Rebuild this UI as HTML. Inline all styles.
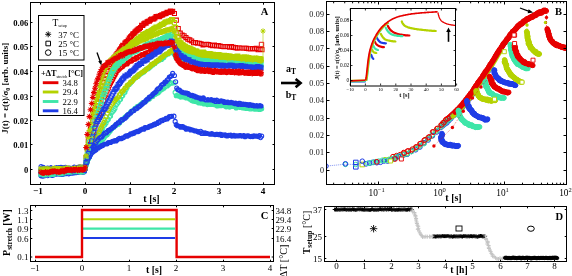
<!DOCTYPE html><html><head><meta charset="utf-8"><style>html,body{margin:0;padding:0;background:#fff;width:572px;height:276px;overflow:hidden}svg{display:block;filter:blur(0.3px)}text{font-family:"Liberation Serif",serif;filter:grayscale(1)}</style></head><body>
<svg width="572" height="276" viewBox="0 0 572 276">
<defs><clipPath id="clipA"><rect x="31" y="3" width="243" height="181"/></clipPath><clipPath id="clipB"><rect x="327" y="2" width="239" height="182"/></clipPath><clipPath id="clipI"><rect x="351" y="9" width="104" height="76"/></clipPath></defs>
<rect width="572" height="276" fill="#fff"/>
<g clip-path="url(#clipA)">
<path d="M39.0 175.2a2.05 2.05 0 1 0 4.1 0a2.05 2.05 0 1 0 -4.1 0M40.1 172.4a2.05 2.05 0 1 0 4.1 0a2.05 2.05 0 1 0 -4.1 0M41.2 174.1a2.05 2.05 0 1 0 4.1 0a2.05 2.05 0 1 0 -4.1 0M42.3 173.4a2.05 2.05 0 1 0 4.1 0a2.05 2.05 0 1 0 -4.1 0M43.4 173.4a2.05 2.05 0 1 0 4.1 0a2.05 2.05 0 1 0 -4.1 0M44.5 173.4a2.05 2.05 0 1 0 4.1 0a2.05 2.05 0 1 0 -4.1 0M45.6 172.3a2.05 2.05 0 1 0 4.1 0a2.05 2.05 0 1 0 -4.1 0M46.7 173.2a2.05 2.05 0 1 0 4.1 0a2.05 2.05 0 1 0 -4.1 0M47.8 172.8a2.05 2.05 0 1 0 4.1 0a2.05 2.05 0 1 0 -4.1 0M48.9 175.2a2.05 2.05 0 1 0 4.1 0a2.05 2.05 0 1 0 -4.1 0M50.0 173.3a2.05 2.05 0 1 0 4.1 0a2.05 2.05 0 1 0 -4.1 0M51.2 172.8a2.05 2.05 0 1 0 4.1 0a2.05 2.05 0 1 0 -4.1 0M52.3 172.8a2.05 2.05 0 1 0 4.1 0a2.05 2.05 0 1 0 -4.1 0M53.4 172.5a2.05 2.05 0 1 0 4.1 0a2.05 2.05 0 1 0 -4.1 0M54.5 172.1a2.05 2.05 0 1 0 4.1 0a2.05 2.05 0 1 0 -4.1 0M55.6 172.4a2.05 2.05 0 1 0 4.1 0a2.05 2.05 0 1 0 -4.1 0M56.7 172.9a2.05 2.05 0 1 0 4.1 0a2.05 2.05 0 1 0 -4.1 0M57.8 172.4a2.05 2.05 0 1 0 4.1 0a2.05 2.05 0 1 0 -4.1 0M58.9 173.0a2.05 2.05 0 1 0 4.1 0a2.05 2.05 0 1 0 -4.1 0M60.0 172.2a2.05 2.05 0 1 0 4.1 0a2.05 2.05 0 1 0 -4.1 0M61.1 172.2a2.05 2.05 0 1 0 4.1 0a2.05 2.05 0 1 0 -4.1 0M62.3 173.1a2.05 2.05 0 1 0 4.1 0a2.05 2.05 0 1 0 -4.1 0M63.4 172.4a2.05 2.05 0 1 0 4.1 0a2.05 2.05 0 1 0 -4.1 0M64.5 171.7a2.05 2.05 0 1 0 4.1 0a2.05 2.05 0 1 0 -4.1 0M65.6 171.8a2.05 2.05 0 1 0 4.1 0a2.05 2.05 0 1 0 -4.1 0M66.7 172.1a2.05 2.05 0 1 0 4.1 0a2.05 2.05 0 1 0 -4.1 0M67.8 172.9a2.05 2.05 0 1 0 4.1 0a2.05 2.05 0 1 0 -4.1 0M68.9 171.5a2.05 2.05 0 1 0 4.1 0a2.05 2.05 0 1 0 -4.1 0M70.0 171.4a2.05 2.05 0 1 0 4.1 0a2.05 2.05 0 1 0 -4.1 0M71.1 172.0a2.05 2.05 0 1 0 4.1 0a2.05 2.05 0 1 0 -4.1 0M72.2 170.8a2.05 2.05 0 1 0 4.1 0a2.05 2.05 0 1 0 -4.1 0M73.4 171.1a2.05 2.05 0 1 0 4.1 0a2.05 2.05 0 1 0 -4.1 0M74.5 171.7a2.05 2.05 0 1 0 4.1 0a2.05 2.05 0 1 0 -4.1 0M75.6 171.4a2.05 2.05 0 1 0 4.1 0a2.05 2.05 0 1 0 -4.1 0M76.7 171.1a2.05 2.05 0 1 0 4.1 0a2.05 2.05 0 1 0 -4.1 0M77.8 171.3a2.05 2.05 0 1 0 4.1 0a2.05 2.05 0 1 0 -4.1 0M78.9 169.1a2.05 2.05 0 1 0 4.1 0a2.05 2.05 0 1 0 -4.1 0M80.0 171.3a2.05 2.05 0 1 0 4.1 0a2.05 2.05 0 1 0 -4.1 0M81.1 170.1a2.05 2.05 0 1 0 4.1 0a2.05 2.05 0 1 0 -4.1 0M82.2 169.6a2.05 2.05 0 1 0 4.1 0a2.05 2.05 0 1 0 -4.1 0M83.0 168.1a2.05 2.05 0 1 0 4.1 0a2.05 2.05 0 1 0 -4.1 0M84.1 165.3a2.05 2.05 0 1 0 4.1 0a2.05 2.05 0 1 0 -4.1 0M85.2 162.0a2.05 2.05 0 1 0 4.1 0a2.05 2.05 0 1 0 -4.1 0M86.3 158.8a2.05 2.05 0 1 0 4.1 0a2.05 2.05 0 1 0 -4.1 0M87.4 156.4a2.05 2.05 0 1 0 4.1 0a2.05 2.05 0 1 0 -4.1 0M88.5 153.6a2.05 2.05 0 1 0 4.1 0a2.05 2.05 0 1 0 -4.1 0M89.6 151.3a2.05 2.05 0 1 0 4.1 0a2.05 2.05 0 1 0 -4.1 0M90.7 148.2a2.05 2.05 0 1 0 4.1 0a2.05 2.05 0 1 0 -4.1 0M91.8 145.2a2.05 2.05 0 1 0 4.1 0a2.05 2.05 0 1 0 -4.1 0M92.9 142.8a2.05 2.05 0 1 0 4.1 0a2.05 2.05 0 1 0 -4.1 0M94.0 139.8a2.05 2.05 0 1 0 4.1 0a2.05 2.05 0 1 0 -4.1 0M95.2 137.2a2.05 2.05 0 1 0 4.1 0a2.05 2.05 0 1 0 -4.1 0M96.3 135.7a2.05 2.05 0 1 0 4.1 0a2.05 2.05 0 1 0 -4.1 0M97.4 133.8a2.05 2.05 0 1 0 4.1 0a2.05 2.05 0 1 0 -4.1 0M98.5 131.6a2.05 2.05 0 1 0 4.1 0a2.05 2.05 0 1 0 -4.1 0M99.6 129.6a2.05 2.05 0 1 0 4.1 0a2.05 2.05 0 1 0 -4.1 0M100.7 128.2a2.05 2.05 0 1 0 4.1 0a2.05 2.05 0 1 0 -4.1 0M101.8 125.4a2.05 2.05 0 1 0 4.1 0a2.05 2.05 0 1 0 -4.1 0M102.9 124.9a2.05 2.05 0 1 0 4.1 0a2.05 2.05 0 1 0 -4.1 0M104.0 123.0a2.05 2.05 0 1 0 4.1 0a2.05 2.05 0 1 0 -4.1 0M105.1 120.4a2.05 2.05 0 1 0 4.1 0a2.05 2.05 0 1 0 -4.1 0M106.3 119.2a2.05 2.05 0 1 0 4.1 0a2.05 2.05 0 1 0 -4.1 0M107.4 117.0a2.05 2.05 0 1 0 4.1 0a2.05 2.05 0 1 0 -4.1 0M108.5 115.9a2.05 2.05 0 1 0 4.1 0a2.05 2.05 0 1 0 -4.1 0M109.6 113.0a2.05 2.05 0 1 0 4.1 0a2.05 2.05 0 1 0 -4.1 0M110.7 111.6a2.05 2.05 0 1 0 4.1 0a2.05 2.05 0 1 0 -4.1 0M111.8 110.3a2.05 2.05 0 1 0 4.1 0a2.05 2.05 0 1 0 -4.1 0M112.9 108.5a2.05 2.05 0 1 0 4.1 0a2.05 2.05 0 1 0 -4.1 0M114.0 105.2a2.05 2.05 0 1 0 4.1 0a2.05 2.05 0 1 0 -4.1 0M115.1 103.9a2.05 2.05 0 1 0 4.1 0a2.05 2.05 0 1 0 -4.1 0M116.2 102.3a2.05 2.05 0 1 0 4.1 0a2.05 2.05 0 1 0 -4.1 0M117.4 100.1a2.05 2.05 0 1 0 4.1 0a2.05 2.05 0 1 0 -4.1 0M118.5 99.2a2.05 2.05 0 1 0 4.1 0a2.05 2.05 0 1 0 -4.1 0M119.6 96.5a2.05 2.05 0 1 0 4.1 0a2.05 2.05 0 1 0 -4.1 0M120.7 95.4a2.05 2.05 0 1 0 4.1 0a2.05 2.05 0 1 0 -4.1 0M121.8 93.1a2.05 2.05 0 1 0 4.1 0a2.05 2.05 0 1 0 -4.1 0M122.9 92.3a2.05 2.05 0 1 0 4.1 0a2.05 2.05 0 1 0 -4.1 0M124.0 89.6a2.05 2.05 0 1 0 4.1 0a2.05 2.05 0 1 0 -4.1 0M125.1 87.4a2.05 2.05 0 1 0 4.1 0a2.05 2.05 0 1 0 -4.1 0M126.2 84.9a2.05 2.05 0 1 0 4.1 0a2.05 2.05 0 1 0 -4.1 0M127.3 84.6a2.05 2.05 0 1 0 4.1 0a2.05 2.05 0 1 0 -4.1 0M128.5 82.9a2.05 2.05 0 1 0 4.1 0a2.05 2.05 0 1 0 -4.1 0M129.6 81.6a2.05 2.05 0 1 0 4.1 0a2.05 2.05 0 1 0 -4.1 0M130.7 80.6a2.05 2.05 0 1 0 4.1 0a2.05 2.05 0 1 0 -4.1 0M131.8 79.3a2.05 2.05 0 1 0 4.1 0a2.05 2.05 0 1 0 -4.1 0M132.9 77.9a2.05 2.05 0 1 0 4.1 0a2.05 2.05 0 1 0 -4.1 0M134.0 77.0a2.05 2.05 0 1 0 4.1 0a2.05 2.05 0 1 0 -4.1 0M135.1 76.2a2.05 2.05 0 1 0 4.1 0a2.05 2.05 0 1 0 -4.1 0M136.2 76.3a2.05 2.05 0 1 0 4.1 0a2.05 2.05 0 1 0 -4.1 0M137.3 74.4a2.05 2.05 0 1 0 4.1 0a2.05 2.05 0 1 0 -4.1 0M138.4 73.9a2.05 2.05 0 1 0 4.1 0a2.05 2.05 0 1 0 -4.1 0M139.6 73.2a2.05 2.05 0 1 0 4.1 0a2.05 2.05 0 1 0 -4.1 0M140.7 72.5a2.05 2.05 0 1 0 4.1 0a2.05 2.05 0 1 0 -4.1 0M141.8 71.9a2.05 2.05 0 1 0 4.1 0a2.05 2.05 0 1 0 -4.1 0M142.9 70.3a2.05 2.05 0 1 0 4.1 0a2.05 2.05 0 1 0 -4.1 0M144.0 69.3a2.05 2.05 0 1 0 4.1 0a2.05 2.05 0 1 0 -4.1 0M145.1 69.1a2.05 2.05 0 1 0 4.1 0a2.05 2.05 0 1 0 -4.1 0M146.2 68.8a2.05 2.05 0 1 0 4.1 0a2.05 2.05 0 1 0 -4.1 0M147.3 67.8a2.05 2.05 0 1 0 4.1 0a2.05 2.05 0 1 0 -4.1 0M148.4 66.7a2.05 2.05 0 1 0 4.1 0a2.05 2.05 0 1 0 -4.1 0M149.5 65.7a2.05 2.05 0 1 0 4.1 0a2.05 2.05 0 1 0 -4.1 0M150.7 65.1a2.05 2.05 0 1 0 4.1 0a2.05 2.05 0 1 0 -4.1 0M151.8 64.0a2.05 2.05 0 1 0 4.1 0a2.05 2.05 0 1 0 -4.1 0M152.9 63.6a2.05 2.05 0 1 0 4.1 0a2.05 2.05 0 1 0 -4.1 0M154.0 62.1a2.05 2.05 0 1 0 4.1 0a2.05 2.05 0 1 0 -4.1 0M155.1 61.6a2.05 2.05 0 1 0 4.1 0a2.05 2.05 0 1 0 -4.1 0M156.2 60.7a2.05 2.05 0 1 0 4.1 0a2.05 2.05 0 1 0 -4.1 0M157.3 60.2a2.05 2.05 0 1 0 4.1 0a2.05 2.05 0 1 0 -4.1 0M158.4 59.2a2.05 2.05 0 1 0 4.1 0a2.05 2.05 0 1 0 -4.1 0M159.5 59.4a2.05 2.05 0 1 0 4.1 0a2.05 2.05 0 1 0 -4.1 0M160.6 58.2a2.05 2.05 0 1 0 4.1 0a2.05 2.05 0 1 0 -4.1 0M161.8 57.4a2.05 2.05 0 1 0 4.1 0a2.05 2.05 0 1 0 -4.1 0M162.9 55.2a2.05 2.05 0 1 0 4.1 0a2.05 2.05 0 1 0 -4.1 0M164.0 55.1a2.05 2.05 0 1 0 4.1 0a2.05 2.05 0 1 0 -4.1 0M165.1 54.2a2.05 2.05 0 1 0 4.1 0a2.05 2.05 0 1 0 -4.1 0M166.2 53.9a2.05 2.05 0 1 0 4.1 0a2.05 2.05 0 1 0 -4.1 0M167.3 52.0a2.05 2.05 0 1 0 4.1 0a2.05 2.05 0 1 0 -4.1 0M168.4 52.7a2.05 2.05 0 1 0 4.1 0a2.05 2.05 0 1 0 -4.1 0M169.5 51.9a2.05 2.05 0 1 0 4.1 0a2.05 2.05 0 1 0 -4.1 0M170.6 50.2a2.05 2.05 0 1 0 4.1 0a2.05 2.05 0 1 0 -4.1 0M172.4 54.6a2.05 2.05 0 1 0 4.1 0a2.05 2.05 0 1 0 -4.1 0M173.6 57.3a2.05 2.05 0 1 0 4.1 0a2.05 2.05 0 1 0 -4.1 0M174.7 58.2a2.05 2.05 0 1 0 4.1 0a2.05 2.05 0 1 0 -4.1 0M175.8 58.6a2.05 2.05 0 1 0 4.1 0a2.05 2.05 0 1 0 -4.1 0M176.9 59.2a2.05 2.05 0 1 0 4.1 0a2.05 2.05 0 1 0 -4.1 0M178.0 58.4a2.05 2.05 0 1 0 4.1 0a2.05 2.05 0 1 0 -4.1 0M179.1 59.0a2.05 2.05 0 1 0 4.1 0a2.05 2.05 0 1 0 -4.1 0M180.2 58.9a2.05 2.05 0 1 0 4.1 0a2.05 2.05 0 1 0 -4.1 0M181.3 59.7a2.05 2.05 0 1 0 4.1 0a2.05 2.05 0 1 0 -4.1 0M182.4 59.5a2.05 2.05 0 1 0 4.1 0a2.05 2.05 0 1 0 -4.1 0M183.6 59.9a2.05 2.05 0 1 0 4.1 0a2.05 2.05 0 1 0 -4.1 0M184.7 59.1a2.05 2.05 0 1 0 4.1 0a2.05 2.05 0 1 0 -4.1 0M185.8 59.6a2.05 2.05 0 1 0 4.1 0a2.05 2.05 0 1 0 -4.1 0M186.9 59.6a2.05 2.05 0 1 0 4.1 0a2.05 2.05 0 1 0 -4.1 0M188.0 60.7a2.05 2.05 0 1 0 4.1 0a2.05 2.05 0 1 0 -4.1 0M189.1 60.5a2.05 2.05 0 1 0 4.1 0a2.05 2.05 0 1 0 -4.1 0M190.2 60.3a2.05 2.05 0 1 0 4.1 0a2.05 2.05 0 1 0 -4.1 0M191.3 60.4a2.05 2.05 0 1 0 4.1 0a2.05 2.05 0 1 0 -4.1 0M192.4 61.0a2.05 2.05 0 1 0 4.1 0a2.05 2.05 0 1 0 -4.1 0M193.5 60.7a2.05 2.05 0 1 0 4.1 0a2.05 2.05 0 1 0 -4.1 0M194.7 60.7a2.05 2.05 0 1 0 4.1 0a2.05 2.05 0 1 0 -4.1 0M195.8 61.4a2.05 2.05 0 1 0 4.1 0a2.05 2.05 0 1 0 -4.1 0M196.9 62.4a2.05 2.05 0 1 0 4.1 0a2.05 2.05 0 1 0 -4.1 0M198.0 61.4a2.05 2.05 0 1 0 4.1 0a2.05 2.05 0 1 0 -4.1 0M199.1 61.4a2.05 2.05 0 1 0 4.1 0a2.05 2.05 0 1 0 -4.1 0M200.2 61.3a2.05 2.05 0 1 0 4.1 0a2.05 2.05 0 1 0 -4.1 0M201.3 61.3a2.05 2.05 0 1 0 4.1 0a2.05 2.05 0 1 0 -4.1 0M202.4 62.2a2.05 2.05 0 1 0 4.1 0a2.05 2.05 0 1 0 -4.1 0M203.5 62.4a2.05 2.05 0 1 0 4.1 0a2.05 2.05 0 1 0 -4.1 0M204.6 62.2a2.05 2.05 0 1 0 4.1 0a2.05 2.05 0 1 0 -4.1 0M205.8 62.4a2.05 2.05 0 1 0 4.1 0a2.05 2.05 0 1 0 -4.1 0M206.9 62.5a2.05 2.05 0 1 0 4.1 0a2.05 2.05 0 1 0 -4.1 0M208.0 62.6a2.05 2.05 0 1 0 4.1 0a2.05 2.05 0 1 0 -4.1 0M209.1 62.0a2.05 2.05 0 1 0 4.1 0a2.05 2.05 0 1 0 -4.1 0M210.2 62.6a2.05 2.05 0 1 0 4.1 0a2.05 2.05 0 1 0 -4.1 0M211.3 62.9a2.05 2.05 0 1 0 4.1 0a2.05 2.05 0 1 0 -4.1 0M212.4 62.7a2.05 2.05 0 1 0 4.1 0a2.05 2.05 0 1 0 -4.1 0M213.5 62.9a2.05 2.05 0 1 0 4.1 0a2.05 2.05 0 1 0 -4.1 0M214.6 62.9a2.05 2.05 0 1 0 4.1 0a2.05 2.05 0 1 0 -4.1 0M215.7 63.2a2.05 2.05 0 1 0 4.1 0a2.05 2.05 0 1 0 -4.1 0M216.9 63.7a2.05 2.05 0 1 0 4.1 0a2.05 2.05 0 1 0 -4.1 0M218.0 63.3a2.05 2.05 0 1 0 4.1 0a2.05 2.05 0 1 0 -4.1 0M219.1 63.5a2.05 2.05 0 1 0 4.1 0a2.05 2.05 0 1 0 -4.1 0M220.2 64.0a2.05 2.05 0 1 0 4.1 0a2.05 2.05 0 1 0 -4.1 0M221.3 64.1a2.05 2.05 0 1 0 4.1 0a2.05 2.05 0 1 0 -4.1 0M222.4 64.6a2.05 2.05 0 1 0 4.1 0a2.05 2.05 0 1 0 -4.1 0M223.5 63.2a2.05 2.05 0 1 0 4.1 0a2.05 2.05 0 1 0 -4.1 0M224.6 64.4a2.05 2.05 0 1 0 4.1 0a2.05 2.05 0 1 0 -4.1 0M225.7 64.0a2.05 2.05 0 1 0 4.1 0a2.05 2.05 0 1 0 -4.1 0M226.8 64.3a2.05 2.05 0 1 0 4.1 0a2.05 2.05 0 1 0 -4.1 0M228.0 64.7a2.05 2.05 0 1 0 4.1 0a2.05 2.05 0 1 0 -4.1 0M229.1 64.9a2.05 2.05 0 1 0 4.1 0a2.05 2.05 0 1 0 -4.1 0M230.2 65.0a2.05 2.05 0 1 0 4.1 0a2.05 2.05 0 1 0 -4.1 0M231.3 64.7a2.05 2.05 0 1 0 4.1 0a2.05 2.05 0 1 0 -4.1 0M232.4 65.4a2.05 2.05 0 1 0 4.1 0a2.05 2.05 0 1 0 -4.1 0M233.5 64.7a2.05 2.05 0 1 0 4.1 0a2.05 2.05 0 1 0 -4.1 0M234.6 64.8a2.05 2.05 0 1 0 4.1 0a2.05 2.05 0 1 0 -4.1 0M235.7 65.3a2.05 2.05 0 1 0 4.1 0a2.05 2.05 0 1 0 -4.1 0M236.8 64.8a2.05 2.05 0 1 0 4.1 0a2.05 2.05 0 1 0 -4.1 0M237.9 66.0a2.05 2.05 0 1 0 4.1 0a2.05 2.05 0 1 0 -4.1 0M239.1 65.6a2.05 2.05 0 1 0 4.1 0a2.05 2.05 0 1 0 -4.1 0M240.2 66.1a2.05 2.05 0 1 0 4.1 0a2.05 2.05 0 1 0 -4.1 0M241.3 65.3a2.05 2.05 0 1 0 4.1 0a2.05 2.05 0 1 0 -4.1 0M242.4 65.2a2.05 2.05 0 1 0 4.1 0a2.05 2.05 0 1 0 -4.1 0M243.5 65.5a2.05 2.05 0 1 0 4.1 0a2.05 2.05 0 1 0 -4.1 0M244.6 65.8a2.05 2.05 0 1 0 4.1 0a2.05 2.05 0 1 0 -4.1 0M245.7 65.3a2.05 2.05 0 1 0 4.1 0a2.05 2.05 0 1 0 -4.1 0M246.8 65.7a2.05 2.05 0 1 0 4.1 0a2.05 2.05 0 1 0 -4.1 0M247.9 65.6a2.05 2.05 0 1 0 4.1 0a2.05 2.05 0 1 0 -4.1 0M249.0 66.3a2.05 2.05 0 1 0 4.1 0a2.05 2.05 0 1 0 -4.1 0M250.2 65.5a2.05 2.05 0 1 0 4.1 0a2.05 2.05 0 1 0 -4.1 0M251.3 66.2a2.05 2.05 0 1 0 4.1 0a2.05 2.05 0 1 0 -4.1 0M252.4 65.6a2.05 2.05 0 1 0 4.1 0a2.05 2.05 0 1 0 -4.1 0M253.5 65.5a2.05 2.05 0 1 0 4.1 0a2.05 2.05 0 1 0 -4.1 0M254.6 65.6a2.05 2.05 0 1 0 4.1 0a2.05 2.05 0 1 0 -4.1 0M255.7 65.4a2.05 2.05 0 1 0 4.1 0a2.05 2.05 0 1 0 -4.1 0M256.8 66.0a2.05 2.05 0 1 0 4.1 0a2.05 2.05 0 1 0 -4.1 0M257.9 66.4a2.05 2.05 0 1 0 4.1 0a2.05 2.05 0 1 0 -4.1 0M259.0 66.1a2.05 2.05 0 1 0 4.1 0a2.05 2.05 0 1 0 -4.1 0" fill="none" stroke="#3ee6a8" stroke-width="1.05"/>
<path d="M39.0 173.4a2.05 2.05 0 1 0 4.1 0a2.05 2.05 0 1 0 -4.1 0M40.1 173.9a2.05 2.05 0 1 0 4.1 0a2.05 2.05 0 1 0 -4.1 0M41.2 173.0a2.05 2.05 0 1 0 4.1 0a2.05 2.05 0 1 0 -4.1 0M42.3 172.9a2.05 2.05 0 1 0 4.1 0a2.05 2.05 0 1 0 -4.1 0M43.4 172.5a2.05 2.05 0 1 0 4.1 0a2.05 2.05 0 1 0 -4.1 0M44.5 171.6a2.05 2.05 0 1 0 4.1 0a2.05 2.05 0 1 0 -4.1 0M45.6 172.9a2.05 2.05 0 1 0 4.1 0a2.05 2.05 0 1 0 -4.1 0M46.7 171.3a2.05 2.05 0 1 0 4.1 0a2.05 2.05 0 1 0 -4.1 0M47.8 172.7a2.05 2.05 0 1 0 4.1 0a2.05 2.05 0 1 0 -4.1 0M48.9 172.2a2.05 2.05 0 1 0 4.1 0a2.05 2.05 0 1 0 -4.1 0M50.0 172.8a2.05 2.05 0 1 0 4.1 0a2.05 2.05 0 1 0 -4.1 0M51.2 172.0a2.05 2.05 0 1 0 4.1 0a2.05 2.05 0 1 0 -4.1 0M52.3 171.4a2.05 2.05 0 1 0 4.1 0a2.05 2.05 0 1 0 -4.1 0M53.4 172.1a2.05 2.05 0 1 0 4.1 0a2.05 2.05 0 1 0 -4.1 0M54.5 171.4a2.05 2.05 0 1 0 4.1 0a2.05 2.05 0 1 0 -4.1 0M55.6 171.6a2.05 2.05 0 1 0 4.1 0a2.05 2.05 0 1 0 -4.1 0M56.7 171.6a2.05 2.05 0 1 0 4.1 0a2.05 2.05 0 1 0 -4.1 0M57.8 171.4a2.05 2.05 0 1 0 4.1 0a2.05 2.05 0 1 0 -4.1 0M58.9 171.3a2.05 2.05 0 1 0 4.1 0a2.05 2.05 0 1 0 -4.1 0M60.0 170.8a2.05 2.05 0 1 0 4.1 0a2.05 2.05 0 1 0 -4.1 0M61.1 171.1a2.05 2.05 0 1 0 4.1 0a2.05 2.05 0 1 0 -4.1 0M62.3 169.9a2.05 2.05 0 1 0 4.1 0a2.05 2.05 0 1 0 -4.1 0M63.4 171.0a2.05 2.05 0 1 0 4.1 0a2.05 2.05 0 1 0 -4.1 0M64.5 170.3a2.05 2.05 0 1 0 4.1 0a2.05 2.05 0 1 0 -4.1 0M65.6 171.6a2.05 2.05 0 1 0 4.1 0a2.05 2.05 0 1 0 -4.1 0M66.7 171.6a2.05 2.05 0 1 0 4.1 0a2.05 2.05 0 1 0 -4.1 0M67.8 169.5a2.05 2.05 0 1 0 4.1 0a2.05 2.05 0 1 0 -4.1 0M68.9 170.7a2.05 2.05 0 1 0 4.1 0a2.05 2.05 0 1 0 -4.1 0M70.0 170.5a2.05 2.05 0 1 0 4.1 0a2.05 2.05 0 1 0 -4.1 0M71.1 169.8a2.05 2.05 0 1 0 4.1 0a2.05 2.05 0 1 0 -4.1 0M72.2 170.7a2.05 2.05 0 1 0 4.1 0a2.05 2.05 0 1 0 -4.1 0M73.4 170.0a2.05 2.05 0 1 0 4.1 0a2.05 2.05 0 1 0 -4.1 0M74.5 169.1a2.05 2.05 0 1 0 4.1 0a2.05 2.05 0 1 0 -4.1 0M75.6 169.9a2.05 2.05 0 1 0 4.1 0a2.05 2.05 0 1 0 -4.1 0M76.7 169.9a2.05 2.05 0 1 0 4.1 0a2.05 2.05 0 1 0 -4.1 0M77.8 170.0a2.05 2.05 0 1 0 4.1 0a2.05 2.05 0 1 0 -4.1 0M78.9 169.1a2.05 2.05 0 1 0 4.1 0a2.05 2.05 0 1 0 -4.1 0M80.0 170.1a2.05 2.05 0 1 0 4.1 0a2.05 2.05 0 1 0 -4.1 0M81.1 170.1a2.05 2.05 0 1 0 4.1 0a2.05 2.05 0 1 0 -4.1 0M82.2 168.9a2.05 2.05 0 1 0 4.1 0a2.05 2.05 0 1 0 -4.1 0M83.0 167.7a2.05 2.05 0 1 0 4.1 0a2.05 2.05 0 1 0 -4.1 0M84.1 162.8a2.05 2.05 0 1 0 4.1 0a2.05 2.05 0 1 0 -4.1 0M85.2 157.5a2.05 2.05 0 1 0 4.1 0a2.05 2.05 0 1 0 -4.1 0M86.3 153.6a2.05 2.05 0 1 0 4.1 0a2.05 2.05 0 1 0 -4.1 0M87.4 148.2a2.05 2.05 0 1 0 4.1 0a2.05 2.05 0 1 0 -4.1 0M88.5 143.0a2.05 2.05 0 1 0 4.1 0a2.05 2.05 0 1 0 -4.1 0M89.6 138.6a2.05 2.05 0 1 0 4.1 0a2.05 2.05 0 1 0 -4.1 0M90.7 134.5a2.05 2.05 0 1 0 4.1 0a2.05 2.05 0 1 0 -4.1 0M91.8 131.3a2.05 2.05 0 1 0 4.1 0a2.05 2.05 0 1 0 -4.1 0M92.9 126.6a2.05 2.05 0 1 0 4.1 0a2.05 2.05 0 1 0 -4.1 0M94.0 123.2a2.05 2.05 0 1 0 4.1 0a2.05 2.05 0 1 0 -4.1 0M95.2 119.9a2.05 2.05 0 1 0 4.1 0a2.05 2.05 0 1 0 -4.1 0M96.3 116.5a2.05 2.05 0 1 0 4.1 0a2.05 2.05 0 1 0 -4.1 0M97.4 114.4a2.05 2.05 0 1 0 4.1 0a2.05 2.05 0 1 0 -4.1 0M98.5 110.5a2.05 2.05 0 1 0 4.1 0a2.05 2.05 0 1 0 -4.1 0M99.6 108.2a2.05 2.05 0 1 0 4.1 0a2.05 2.05 0 1 0 -4.1 0M100.7 104.5a2.05 2.05 0 1 0 4.1 0a2.05 2.05 0 1 0 -4.1 0M101.8 100.7a2.05 2.05 0 1 0 4.1 0a2.05 2.05 0 1 0 -4.1 0M102.9 96.7a2.05 2.05 0 1 0 4.1 0a2.05 2.05 0 1 0 -4.1 0M104.0 94.8a2.05 2.05 0 1 0 4.1 0a2.05 2.05 0 1 0 -4.1 0M105.1 91.3a2.05 2.05 0 1 0 4.1 0a2.05 2.05 0 1 0 -4.1 0M106.3 88.7a2.05 2.05 0 1 0 4.1 0a2.05 2.05 0 1 0 -4.1 0M107.4 85.9a2.05 2.05 0 1 0 4.1 0a2.05 2.05 0 1 0 -4.1 0M108.5 83.6a2.05 2.05 0 1 0 4.1 0a2.05 2.05 0 1 0 -4.1 0M109.6 81.7a2.05 2.05 0 1 0 4.1 0a2.05 2.05 0 1 0 -4.1 0M110.7 79.6a2.05 2.05 0 1 0 4.1 0a2.05 2.05 0 1 0 -4.1 0M111.8 77.2a2.05 2.05 0 1 0 4.1 0a2.05 2.05 0 1 0 -4.1 0M112.9 75.3a2.05 2.05 0 1 0 4.1 0a2.05 2.05 0 1 0 -4.1 0M114.0 73.2a2.05 2.05 0 1 0 4.1 0a2.05 2.05 0 1 0 -4.1 0M115.1 71.3a2.05 2.05 0 1 0 4.1 0a2.05 2.05 0 1 0 -4.1 0M116.2 70.2a2.05 2.05 0 1 0 4.1 0a2.05 2.05 0 1 0 -4.1 0M117.4 69.0a2.05 2.05 0 1 0 4.1 0a2.05 2.05 0 1 0 -4.1 0M118.5 67.7a2.05 2.05 0 1 0 4.1 0a2.05 2.05 0 1 0 -4.1 0M119.6 67.2a2.05 2.05 0 1 0 4.1 0a2.05 2.05 0 1 0 -4.1 0M120.7 66.6a2.05 2.05 0 1 0 4.1 0a2.05 2.05 0 1 0 -4.1 0M121.8 65.4a2.05 2.05 0 1 0 4.1 0a2.05 2.05 0 1 0 -4.1 0M122.9 64.4a2.05 2.05 0 1 0 4.1 0a2.05 2.05 0 1 0 -4.1 0M124.0 64.1a2.05 2.05 0 1 0 4.1 0a2.05 2.05 0 1 0 -4.1 0M125.1 63.9a2.05 2.05 0 1 0 4.1 0a2.05 2.05 0 1 0 -4.1 0M126.2 62.4a2.05 2.05 0 1 0 4.1 0a2.05 2.05 0 1 0 -4.1 0M127.3 61.8a2.05 2.05 0 1 0 4.1 0a2.05 2.05 0 1 0 -4.1 0M128.5 61.2a2.05 2.05 0 1 0 4.1 0a2.05 2.05 0 1 0 -4.1 0M129.6 61.1a2.05 2.05 0 1 0 4.1 0a2.05 2.05 0 1 0 -4.1 0M130.7 59.2a2.05 2.05 0 1 0 4.1 0a2.05 2.05 0 1 0 -4.1 0M131.8 59.4a2.05 2.05 0 1 0 4.1 0a2.05 2.05 0 1 0 -4.1 0M132.9 59.2a2.05 2.05 0 1 0 4.1 0a2.05 2.05 0 1 0 -4.1 0M134.0 57.7a2.05 2.05 0 1 0 4.1 0a2.05 2.05 0 1 0 -4.1 0M135.1 58.1a2.05 2.05 0 1 0 4.1 0a2.05 2.05 0 1 0 -4.1 0M136.2 57.1a2.05 2.05 0 1 0 4.1 0a2.05 2.05 0 1 0 -4.1 0M137.3 56.1a2.05 2.05 0 1 0 4.1 0a2.05 2.05 0 1 0 -4.1 0M138.4 55.8a2.05 2.05 0 1 0 4.1 0a2.05 2.05 0 1 0 -4.1 0M139.6 54.6a2.05 2.05 0 1 0 4.1 0a2.05 2.05 0 1 0 -4.1 0M140.7 54.5a2.05 2.05 0 1 0 4.1 0a2.05 2.05 0 1 0 -4.1 0M141.8 54.9a2.05 2.05 0 1 0 4.1 0a2.05 2.05 0 1 0 -4.1 0M142.9 53.3a2.05 2.05 0 1 0 4.1 0a2.05 2.05 0 1 0 -4.1 0M144.0 53.9a2.05 2.05 0 1 0 4.1 0a2.05 2.05 0 1 0 -4.1 0M145.1 52.7a2.05 2.05 0 1 0 4.1 0a2.05 2.05 0 1 0 -4.1 0M146.2 52.6a2.05 2.05 0 1 0 4.1 0a2.05 2.05 0 1 0 -4.1 0M147.3 51.8a2.05 2.05 0 1 0 4.1 0a2.05 2.05 0 1 0 -4.1 0M148.4 50.4a2.05 2.05 0 1 0 4.1 0a2.05 2.05 0 1 0 -4.1 0M149.5 50.6a2.05 2.05 0 1 0 4.1 0a2.05 2.05 0 1 0 -4.1 0M150.7 50.4a2.05 2.05 0 1 0 4.1 0a2.05 2.05 0 1 0 -4.1 0M151.8 49.4a2.05 2.05 0 1 0 4.1 0a2.05 2.05 0 1 0 -4.1 0M152.9 48.9a2.05 2.05 0 1 0 4.1 0a2.05 2.05 0 1 0 -4.1 0M154.0 49.1a2.05 2.05 0 1 0 4.1 0a2.05 2.05 0 1 0 -4.1 0M155.1 48.3a2.05 2.05 0 1 0 4.1 0a2.05 2.05 0 1 0 -4.1 0M156.2 47.4a2.05 2.05 0 1 0 4.1 0a2.05 2.05 0 1 0 -4.1 0M157.3 47.4a2.05 2.05 0 1 0 4.1 0a2.05 2.05 0 1 0 -4.1 0M158.4 47.7a2.05 2.05 0 1 0 4.1 0a2.05 2.05 0 1 0 -4.1 0M159.5 46.8a2.05 2.05 0 1 0 4.1 0a2.05 2.05 0 1 0 -4.1 0M160.6 47.0a2.05 2.05 0 1 0 4.1 0a2.05 2.05 0 1 0 -4.1 0M161.8 46.9a2.05 2.05 0 1 0 4.1 0a2.05 2.05 0 1 0 -4.1 0M162.9 46.0a2.05 2.05 0 1 0 4.1 0a2.05 2.05 0 1 0 -4.1 0M164.0 45.2a2.05 2.05 0 1 0 4.1 0a2.05 2.05 0 1 0 -4.1 0M165.1 44.8a2.05 2.05 0 1 0 4.1 0a2.05 2.05 0 1 0 -4.1 0M166.2 45.1a2.05 2.05 0 1 0 4.1 0a2.05 2.05 0 1 0 -4.1 0M167.3 45.2a2.05 2.05 0 1 0 4.1 0a2.05 2.05 0 1 0 -4.1 0M168.4 44.6a2.05 2.05 0 1 0 4.1 0a2.05 2.05 0 1 0 -4.1 0M169.5 44.5a2.05 2.05 0 1 0 4.1 0a2.05 2.05 0 1 0 -4.1 0M170.6 43.9a2.05 2.05 0 1 0 4.1 0a2.05 2.05 0 1 0 -4.1 0M172.4 49.1a2.05 2.05 0 1 0 4.1 0a2.05 2.05 0 1 0 -4.1 0M173.6 55.3a2.05 2.05 0 1 0 4.1 0a2.05 2.05 0 1 0 -4.1 0M174.7 58.7a2.05 2.05 0 1 0 4.1 0a2.05 2.05 0 1 0 -4.1 0M175.8 60.2a2.05 2.05 0 1 0 4.1 0a2.05 2.05 0 1 0 -4.1 0M176.9 61.8a2.05 2.05 0 1 0 4.1 0a2.05 2.05 0 1 0 -4.1 0M178.0 63.3a2.05 2.05 0 1 0 4.1 0a2.05 2.05 0 1 0 -4.1 0M179.1 63.8a2.05 2.05 0 1 0 4.1 0a2.05 2.05 0 1 0 -4.1 0M180.2 64.4a2.05 2.05 0 1 0 4.1 0a2.05 2.05 0 1 0 -4.1 0M181.3 65.6a2.05 2.05 0 1 0 4.1 0a2.05 2.05 0 1 0 -4.1 0M182.4 65.7a2.05 2.05 0 1 0 4.1 0a2.05 2.05 0 1 0 -4.1 0M183.6 67.3a2.05 2.05 0 1 0 4.1 0a2.05 2.05 0 1 0 -4.1 0M184.7 66.8a2.05 2.05 0 1 0 4.1 0a2.05 2.05 0 1 0 -4.1 0M185.8 66.6a2.05 2.05 0 1 0 4.1 0a2.05 2.05 0 1 0 -4.1 0M186.9 67.5a2.05 2.05 0 1 0 4.1 0a2.05 2.05 0 1 0 -4.1 0M188.0 67.7a2.05 2.05 0 1 0 4.1 0a2.05 2.05 0 1 0 -4.1 0M189.1 67.6a2.05 2.05 0 1 0 4.1 0a2.05 2.05 0 1 0 -4.1 0M190.2 68.8a2.05 2.05 0 1 0 4.1 0a2.05 2.05 0 1 0 -4.1 0M191.3 68.4a2.05 2.05 0 1 0 4.1 0a2.05 2.05 0 1 0 -4.1 0M192.4 67.9a2.05 2.05 0 1 0 4.1 0a2.05 2.05 0 1 0 -4.1 0M193.5 69.8a2.05 2.05 0 1 0 4.1 0a2.05 2.05 0 1 0 -4.1 0M194.7 69.6a2.05 2.05 0 1 0 4.1 0a2.05 2.05 0 1 0 -4.1 0M195.8 70.7a2.05 2.05 0 1 0 4.1 0a2.05 2.05 0 1 0 -4.1 0M196.9 70.1a2.05 2.05 0 1 0 4.1 0a2.05 2.05 0 1 0 -4.1 0M198.0 70.0a2.05 2.05 0 1 0 4.1 0a2.05 2.05 0 1 0 -4.1 0M199.1 71.2a2.05 2.05 0 1 0 4.1 0a2.05 2.05 0 1 0 -4.1 0M200.2 70.3a2.05 2.05 0 1 0 4.1 0a2.05 2.05 0 1 0 -4.1 0M201.3 70.9a2.05 2.05 0 1 0 4.1 0a2.05 2.05 0 1 0 -4.1 0M202.4 71.5a2.05 2.05 0 1 0 4.1 0a2.05 2.05 0 1 0 -4.1 0M203.5 71.0a2.05 2.05 0 1 0 4.1 0a2.05 2.05 0 1 0 -4.1 0M204.6 71.0a2.05 2.05 0 1 0 4.1 0a2.05 2.05 0 1 0 -4.1 0M205.8 71.2a2.05 2.05 0 1 0 4.1 0a2.05 2.05 0 1 0 -4.1 0M206.9 71.6a2.05 2.05 0 1 0 4.1 0a2.05 2.05 0 1 0 -4.1 0M208.0 71.0a2.05 2.05 0 1 0 4.1 0a2.05 2.05 0 1 0 -4.1 0M209.1 71.6a2.05 2.05 0 1 0 4.1 0a2.05 2.05 0 1 0 -4.1 0M210.2 71.7a2.05 2.05 0 1 0 4.1 0a2.05 2.05 0 1 0 -4.1 0M211.3 72.4a2.05 2.05 0 1 0 4.1 0a2.05 2.05 0 1 0 -4.1 0M212.4 71.4a2.05 2.05 0 1 0 4.1 0a2.05 2.05 0 1 0 -4.1 0M213.5 71.2a2.05 2.05 0 1 0 4.1 0a2.05 2.05 0 1 0 -4.1 0M214.6 71.9a2.05 2.05 0 1 0 4.1 0a2.05 2.05 0 1 0 -4.1 0M215.7 71.5a2.05 2.05 0 1 0 4.1 0a2.05 2.05 0 1 0 -4.1 0M216.9 71.8a2.05 2.05 0 1 0 4.1 0a2.05 2.05 0 1 0 -4.1 0M218.0 71.8a2.05 2.05 0 1 0 4.1 0a2.05 2.05 0 1 0 -4.1 0M219.1 72.3a2.05 2.05 0 1 0 4.1 0a2.05 2.05 0 1 0 -4.1 0M220.2 71.6a2.05 2.05 0 1 0 4.1 0a2.05 2.05 0 1 0 -4.1 0M221.3 71.9a2.05 2.05 0 1 0 4.1 0a2.05 2.05 0 1 0 -4.1 0M222.4 70.9a2.05 2.05 0 1 0 4.1 0a2.05 2.05 0 1 0 -4.1 0M223.5 71.6a2.05 2.05 0 1 0 4.1 0a2.05 2.05 0 1 0 -4.1 0M224.6 72.6a2.05 2.05 0 1 0 4.1 0a2.05 2.05 0 1 0 -4.1 0M225.7 71.8a2.05 2.05 0 1 0 4.1 0a2.05 2.05 0 1 0 -4.1 0M226.8 71.8a2.05 2.05 0 1 0 4.1 0a2.05 2.05 0 1 0 -4.1 0M228.0 71.6a2.05 2.05 0 1 0 4.1 0a2.05 2.05 0 1 0 -4.1 0M229.1 72.4a2.05 2.05 0 1 0 4.1 0a2.05 2.05 0 1 0 -4.1 0M230.2 72.3a2.05 2.05 0 1 0 4.1 0a2.05 2.05 0 1 0 -4.1 0M231.3 71.8a2.05 2.05 0 1 0 4.1 0a2.05 2.05 0 1 0 -4.1 0M232.4 72.5a2.05 2.05 0 1 0 4.1 0a2.05 2.05 0 1 0 -4.1 0M233.5 72.4a2.05 2.05 0 1 0 4.1 0a2.05 2.05 0 1 0 -4.1 0M234.6 72.7a2.05 2.05 0 1 0 4.1 0a2.05 2.05 0 1 0 -4.1 0M235.7 72.1a2.05 2.05 0 1 0 4.1 0a2.05 2.05 0 1 0 -4.1 0M236.8 73.1a2.05 2.05 0 1 0 4.1 0a2.05 2.05 0 1 0 -4.1 0M237.9 72.7a2.05 2.05 0 1 0 4.1 0a2.05 2.05 0 1 0 -4.1 0M239.1 72.5a2.05 2.05 0 1 0 4.1 0a2.05 2.05 0 1 0 -4.1 0M240.2 72.4a2.05 2.05 0 1 0 4.1 0a2.05 2.05 0 1 0 -4.1 0M241.3 72.5a2.05 2.05 0 1 0 4.1 0a2.05 2.05 0 1 0 -4.1 0M242.4 73.0a2.05 2.05 0 1 0 4.1 0a2.05 2.05 0 1 0 -4.1 0M243.5 72.6a2.05 2.05 0 1 0 4.1 0a2.05 2.05 0 1 0 -4.1 0M244.6 73.2a2.05 2.05 0 1 0 4.1 0a2.05 2.05 0 1 0 -4.1 0M245.7 73.1a2.05 2.05 0 1 0 4.1 0a2.05 2.05 0 1 0 -4.1 0M246.8 73.4a2.05 2.05 0 1 0 4.1 0a2.05 2.05 0 1 0 -4.1 0M247.9 73.3a2.05 2.05 0 1 0 4.1 0a2.05 2.05 0 1 0 -4.1 0M249.0 72.9a2.05 2.05 0 1 0 4.1 0a2.05 2.05 0 1 0 -4.1 0M250.2 72.3a2.05 2.05 0 1 0 4.1 0a2.05 2.05 0 1 0 -4.1 0M251.3 73.2a2.05 2.05 0 1 0 4.1 0a2.05 2.05 0 1 0 -4.1 0M252.4 73.4a2.05 2.05 0 1 0 4.1 0a2.05 2.05 0 1 0 -4.1 0M253.5 73.2a2.05 2.05 0 1 0 4.1 0a2.05 2.05 0 1 0 -4.1 0M254.6 73.4a2.05 2.05 0 1 0 4.1 0a2.05 2.05 0 1 0 -4.1 0M255.7 73.0a2.05 2.05 0 1 0 4.1 0a2.05 2.05 0 1 0 -4.1 0M256.8 73.1a2.05 2.05 0 1 0 4.1 0a2.05 2.05 0 1 0 -4.1 0M257.9 72.9a2.05 2.05 0 1 0 4.1 0a2.05 2.05 0 1 0 -4.1 0M259.0 73.9a2.05 2.05 0 1 0 4.1 0a2.05 2.05 0 1 0 -4.1 0" fill="none" stroke="#e60000" stroke-width="1.05"/>
<path d="M39.0 169.6a2.05 2.05 0 1 0 4.1 0a2.05 2.05 0 1 0 -4.1 0M40.1 169.2a2.05 2.05 0 1 0 4.1 0a2.05 2.05 0 1 0 -4.1 0M41.2 168.6a2.05 2.05 0 1 0 4.1 0a2.05 2.05 0 1 0 -4.1 0M42.3 169.3a2.05 2.05 0 1 0 4.1 0a2.05 2.05 0 1 0 -4.1 0M43.4 170.2a2.05 2.05 0 1 0 4.1 0a2.05 2.05 0 1 0 -4.1 0M44.5 169.6a2.05 2.05 0 1 0 4.1 0a2.05 2.05 0 1 0 -4.1 0M45.6 168.8a2.05 2.05 0 1 0 4.1 0a2.05 2.05 0 1 0 -4.1 0M46.7 170.1a2.05 2.05 0 1 0 4.1 0a2.05 2.05 0 1 0 -4.1 0M47.8 170.1a2.05 2.05 0 1 0 4.1 0a2.05 2.05 0 1 0 -4.1 0M48.9 169.7a2.05 2.05 0 1 0 4.1 0a2.05 2.05 0 1 0 -4.1 0M50.0 169.6a2.05 2.05 0 1 0 4.1 0a2.05 2.05 0 1 0 -4.1 0M51.2 169.8a2.05 2.05 0 1 0 4.1 0a2.05 2.05 0 1 0 -4.1 0M52.3 169.4a2.05 2.05 0 1 0 4.1 0a2.05 2.05 0 1 0 -4.1 0M53.4 169.5a2.05 2.05 0 1 0 4.1 0a2.05 2.05 0 1 0 -4.1 0M54.5 168.5a2.05 2.05 0 1 0 4.1 0a2.05 2.05 0 1 0 -4.1 0M55.6 169.8a2.05 2.05 0 1 0 4.1 0a2.05 2.05 0 1 0 -4.1 0M56.7 169.0a2.05 2.05 0 1 0 4.1 0a2.05 2.05 0 1 0 -4.1 0M57.8 170.1a2.05 2.05 0 1 0 4.1 0a2.05 2.05 0 1 0 -4.1 0M58.9 167.6a2.05 2.05 0 1 0 4.1 0a2.05 2.05 0 1 0 -4.1 0M60.0 169.2a2.05 2.05 0 1 0 4.1 0a2.05 2.05 0 1 0 -4.1 0M61.1 169.3a2.05 2.05 0 1 0 4.1 0a2.05 2.05 0 1 0 -4.1 0M62.3 168.5a2.05 2.05 0 1 0 4.1 0a2.05 2.05 0 1 0 -4.1 0M63.4 168.9a2.05 2.05 0 1 0 4.1 0a2.05 2.05 0 1 0 -4.1 0M64.5 169.1a2.05 2.05 0 1 0 4.1 0a2.05 2.05 0 1 0 -4.1 0M65.6 168.9a2.05 2.05 0 1 0 4.1 0a2.05 2.05 0 1 0 -4.1 0M66.7 168.2a2.05 2.05 0 1 0 4.1 0a2.05 2.05 0 1 0 -4.1 0M67.8 168.4a2.05 2.05 0 1 0 4.1 0a2.05 2.05 0 1 0 -4.1 0M68.9 169.1a2.05 2.05 0 1 0 4.1 0a2.05 2.05 0 1 0 -4.1 0M70.0 169.2a2.05 2.05 0 1 0 4.1 0a2.05 2.05 0 1 0 -4.1 0M71.1 168.5a2.05 2.05 0 1 0 4.1 0a2.05 2.05 0 1 0 -4.1 0M72.2 168.4a2.05 2.05 0 1 0 4.1 0a2.05 2.05 0 1 0 -4.1 0M73.4 168.4a2.05 2.05 0 1 0 4.1 0a2.05 2.05 0 1 0 -4.1 0M74.5 168.9a2.05 2.05 0 1 0 4.1 0a2.05 2.05 0 1 0 -4.1 0M75.6 167.6a2.05 2.05 0 1 0 4.1 0a2.05 2.05 0 1 0 -4.1 0M76.7 167.4a2.05 2.05 0 1 0 4.1 0a2.05 2.05 0 1 0 -4.1 0M77.8 168.3a2.05 2.05 0 1 0 4.1 0a2.05 2.05 0 1 0 -4.1 0M78.9 167.5a2.05 2.05 0 1 0 4.1 0a2.05 2.05 0 1 0 -4.1 0M80.0 167.7a2.05 2.05 0 1 0 4.1 0a2.05 2.05 0 1 0 -4.1 0M81.1 168.1a2.05 2.05 0 1 0 4.1 0a2.05 2.05 0 1 0 -4.1 0M82.2 168.3a2.05 2.05 0 1 0 4.1 0a2.05 2.05 0 1 0 -4.1 0M83.0 167.6a2.05 2.05 0 1 0 4.1 0a2.05 2.05 0 1 0 -4.1 0M84.1 164.5a2.05 2.05 0 1 0 4.1 0a2.05 2.05 0 1 0 -4.1 0M85.2 159.7a2.05 2.05 0 1 0 4.1 0a2.05 2.05 0 1 0 -4.1 0M86.3 157.2a2.05 2.05 0 1 0 4.1 0a2.05 2.05 0 1 0 -4.1 0M87.4 153.1a2.05 2.05 0 1 0 4.1 0a2.05 2.05 0 1 0 -4.1 0M88.5 150.2a2.05 2.05 0 1 0 4.1 0a2.05 2.05 0 1 0 -4.1 0M89.6 148.1a2.05 2.05 0 1 0 4.1 0a2.05 2.05 0 1 0 -4.1 0M90.7 145.0a2.05 2.05 0 1 0 4.1 0a2.05 2.05 0 1 0 -4.1 0M91.8 142.2a2.05 2.05 0 1 0 4.1 0a2.05 2.05 0 1 0 -4.1 0M92.9 139.8a2.05 2.05 0 1 0 4.1 0a2.05 2.05 0 1 0 -4.1 0M94.0 137.8a2.05 2.05 0 1 0 4.1 0a2.05 2.05 0 1 0 -4.1 0M95.2 135.4a2.05 2.05 0 1 0 4.1 0a2.05 2.05 0 1 0 -4.1 0M96.3 133.2a2.05 2.05 0 1 0 4.1 0a2.05 2.05 0 1 0 -4.1 0M97.4 131.6a2.05 2.05 0 1 0 4.1 0a2.05 2.05 0 1 0 -4.1 0M98.5 128.7a2.05 2.05 0 1 0 4.1 0a2.05 2.05 0 1 0 -4.1 0M99.6 126.7a2.05 2.05 0 1 0 4.1 0a2.05 2.05 0 1 0 -4.1 0M100.7 124.3a2.05 2.05 0 1 0 4.1 0a2.05 2.05 0 1 0 -4.1 0M101.8 122.4a2.05 2.05 0 1 0 4.1 0a2.05 2.05 0 1 0 -4.1 0M102.9 119.5a2.05 2.05 0 1 0 4.1 0a2.05 2.05 0 1 0 -4.1 0M104.0 116.7a2.05 2.05 0 1 0 4.1 0a2.05 2.05 0 1 0 -4.1 0M105.1 113.2a2.05 2.05 0 1 0 4.1 0a2.05 2.05 0 1 0 -4.1 0M106.3 110.4a2.05 2.05 0 1 0 4.1 0a2.05 2.05 0 1 0 -4.1 0M107.4 108.4a2.05 2.05 0 1 0 4.1 0a2.05 2.05 0 1 0 -4.1 0M108.5 106.0a2.05 2.05 0 1 0 4.1 0a2.05 2.05 0 1 0 -4.1 0M109.6 104.8a2.05 2.05 0 1 0 4.1 0a2.05 2.05 0 1 0 -4.1 0M110.7 103.3a2.05 2.05 0 1 0 4.1 0a2.05 2.05 0 1 0 -4.1 0M111.8 101.3a2.05 2.05 0 1 0 4.1 0a2.05 2.05 0 1 0 -4.1 0M112.9 100.2a2.05 2.05 0 1 0 4.1 0a2.05 2.05 0 1 0 -4.1 0M114.0 98.9a2.05 2.05 0 1 0 4.1 0a2.05 2.05 0 1 0 -4.1 0M115.1 98.2a2.05 2.05 0 1 0 4.1 0a2.05 2.05 0 1 0 -4.1 0M116.2 97.3a2.05 2.05 0 1 0 4.1 0a2.05 2.05 0 1 0 -4.1 0M117.4 94.9a2.05 2.05 0 1 0 4.1 0a2.05 2.05 0 1 0 -4.1 0M118.5 93.7a2.05 2.05 0 1 0 4.1 0a2.05 2.05 0 1 0 -4.1 0M119.6 91.5a2.05 2.05 0 1 0 4.1 0a2.05 2.05 0 1 0 -4.1 0M120.7 91.2a2.05 2.05 0 1 0 4.1 0a2.05 2.05 0 1 0 -4.1 0M121.8 89.9a2.05 2.05 0 1 0 4.1 0a2.05 2.05 0 1 0 -4.1 0M122.9 88.1a2.05 2.05 0 1 0 4.1 0a2.05 2.05 0 1 0 -4.1 0M124.0 87.6a2.05 2.05 0 1 0 4.1 0a2.05 2.05 0 1 0 -4.1 0M125.1 85.4a2.05 2.05 0 1 0 4.1 0a2.05 2.05 0 1 0 -4.1 0M126.2 84.7a2.05 2.05 0 1 0 4.1 0a2.05 2.05 0 1 0 -4.1 0M127.3 83.7a2.05 2.05 0 1 0 4.1 0a2.05 2.05 0 1 0 -4.1 0M128.5 82.0a2.05 2.05 0 1 0 4.1 0a2.05 2.05 0 1 0 -4.1 0M129.6 81.8a2.05 2.05 0 1 0 4.1 0a2.05 2.05 0 1 0 -4.1 0M130.7 80.8a2.05 2.05 0 1 0 4.1 0a2.05 2.05 0 1 0 -4.1 0M131.8 78.8a2.05 2.05 0 1 0 4.1 0a2.05 2.05 0 1 0 -4.1 0M132.9 77.8a2.05 2.05 0 1 0 4.1 0a2.05 2.05 0 1 0 -4.1 0M134.0 77.6a2.05 2.05 0 1 0 4.1 0a2.05 2.05 0 1 0 -4.1 0M135.1 76.4a2.05 2.05 0 1 0 4.1 0a2.05 2.05 0 1 0 -4.1 0M136.2 75.0a2.05 2.05 0 1 0 4.1 0a2.05 2.05 0 1 0 -4.1 0M137.3 74.4a2.05 2.05 0 1 0 4.1 0a2.05 2.05 0 1 0 -4.1 0M138.4 73.5a2.05 2.05 0 1 0 4.1 0a2.05 2.05 0 1 0 -4.1 0M139.6 72.6a2.05 2.05 0 1 0 4.1 0a2.05 2.05 0 1 0 -4.1 0M140.7 72.1a2.05 2.05 0 1 0 4.1 0a2.05 2.05 0 1 0 -4.1 0M141.8 71.0a2.05 2.05 0 1 0 4.1 0a2.05 2.05 0 1 0 -4.1 0M142.9 70.7a2.05 2.05 0 1 0 4.1 0a2.05 2.05 0 1 0 -4.1 0M144.0 69.6a2.05 2.05 0 1 0 4.1 0a2.05 2.05 0 1 0 -4.1 0M145.1 68.5a2.05 2.05 0 1 0 4.1 0a2.05 2.05 0 1 0 -4.1 0M146.2 67.8a2.05 2.05 0 1 0 4.1 0a2.05 2.05 0 1 0 -4.1 0M147.3 67.0a2.05 2.05 0 1 0 4.1 0a2.05 2.05 0 1 0 -4.1 0M148.4 65.9a2.05 2.05 0 1 0 4.1 0a2.05 2.05 0 1 0 -4.1 0M149.5 64.3a2.05 2.05 0 1 0 4.1 0a2.05 2.05 0 1 0 -4.1 0M150.7 64.3a2.05 2.05 0 1 0 4.1 0a2.05 2.05 0 1 0 -4.1 0M151.8 63.1a2.05 2.05 0 1 0 4.1 0a2.05 2.05 0 1 0 -4.1 0M152.9 62.9a2.05 2.05 0 1 0 4.1 0a2.05 2.05 0 1 0 -4.1 0M154.0 61.4a2.05 2.05 0 1 0 4.1 0a2.05 2.05 0 1 0 -4.1 0M155.1 60.8a2.05 2.05 0 1 0 4.1 0a2.05 2.05 0 1 0 -4.1 0M156.2 59.9a2.05 2.05 0 1 0 4.1 0a2.05 2.05 0 1 0 -4.1 0M157.3 59.6a2.05 2.05 0 1 0 4.1 0a2.05 2.05 0 1 0 -4.1 0M158.4 58.2a2.05 2.05 0 1 0 4.1 0a2.05 2.05 0 1 0 -4.1 0M159.5 57.3a2.05 2.05 0 1 0 4.1 0a2.05 2.05 0 1 0 -4.1 0M160.6 56.7a2.05 2.05 0 1 0 4.1 0a2.05 2.05 0 1 0 -4.1 0M161.8 55.6a2.05 2.05 0 1 0 4.1 0a2.05 2.05 0 1 0 -4.1 0M162.9 55.1a2.05 2.05 0 1 0 4.1 0a2.05 2.05 0 1 0 -4.1 0M164.0 54.2a2.05 2.05 0 1 0 4.1 0a2.05 2.05 0 1 0 -4.1 0M165.1 53.6a2.05 2.05 0 1 0 4.1 0a2.05 2.05 0 1 0 -4.1 0M166.2 53.5a2.05 2.05 0 1 0 4.1 0a2.05 2.05 0 1 0 -4.1 0M167.3 51.8a2.05 2.05 0 1 0 4.1 0a2.05 2.05 0 1 0 -4.1 0M168.4 51.2a2.05 2.05 0 1 0 4.1 0a2.05 2.05 0 1 0 -4.1 0M169.5 50.4a2.05 2.05 0 1 0 4.1 0a2.05 2.05 0 1 0 -4.1 0M170.6 50.0a2.05 2.05 0 1 0 4.1 0a2.05 2.05 0 1 0 -4.1 0M172.4 51.5a2.05 2.05 0 1 0 4.1 0a2.05 2.05 0 1 0 -4.1 0M173.6 53.5a2.05 2.05 0 1 0 4.1 0a2.05 2.05 0 1 0 -4.1 0M174.7 54.1a2.05 2.05 0 1 0 4.1 0a2.05 2.05 0 1 0 -4.1 0M175.8 54.5a2.05 2.05 0 1 0 4.1 0a2.05 2.05 0 1 0 -4.1 0M176.9 54.4a2.05 2.05 0 1 0 4.1 0a2.05 2.05 0 1 0 -4.1 0M178.0 54.3a2.05 2.05 0 1 0 4.1 0a2.05 2.05 0 1 0 -4.1 0M179.1 54.2a2.05 2.05 0 1 0 4.1 0a2.05 2.05 0 1 0 -4.1 0M180.2 54.8a2.05 2.05 0 1 0 4.1 0a2.05 2.05 0 1 0 -4.1 0M181.3 55.3a2.05 2.05 0 1 0 4.1 0a2.05 2.05 0 1 0 -4.1 0M182.4 54.9a2.05 2.05 0 1 0 4.1 0a2.05 2.05 0 1 0 -4.1 0M183.6 54.9a2.05 2.05 0 1 0 4.1 0a2.05 2.05 0 1 0 -4.1 0M184.7 55.0a2.05 2.05 0 1 0 4.1 0a2.05 2.05 0 1 0 -4.1 0M185.8 54.5a2.05 2.05 0 1 0 4.1 0a2.05 2.05 0 1 0 -4.1 0M186.9 54.8a2.05 2.05 0 1 0 4.1 0a2.05 2.05 0 1 0 -4.1 0M188.0 54.9a2.05 2.05 0 1 0 4.1 0a2.05 2.05 0 1 0 -4.1 0M189.1 55.2a2.05 2.05 0 1 0 4.1 0a2.05 2.05 0 1 0 -4.1 0M190.2 55.2a2.05 2.05 0 1 0 4.1 0a2.05 2.05 0 1 0 -4.1 0M191.3 54.8a2.05 2.05 0 1 0 4.1 0a2.05 2.05 0 1 0 -4.1 0M192.4 55.9a2.05 2.05 0 1 0 4.1 0a2.05 2.05 0 1 0 -4.1 0M193.5 56.2a2.05 2.05 0 1 0 4.1 0a2.05 2.05 0 1 0 -4.1 0M194.7 55.5a2.05 2.05 0 1 0 4.1 0a2.05 2.05 0 1 0 -4.1 0M195.8 55.9a2.05 2.05 0 1 0 4.1 0a2.05 2.05 0 1 0 -4.1 0M196.9 56.0a2.05 2.05 0 1 0 4.1 0a2.05 2.05 0 1 0 -4.1 0M198.0 56.3a2.05 2.05 0 1 0 4.1 0a2.05 2.05 0 1 0 -4.1 0M199.1 55.5a2.05 2.05 0 1 0 4.1 0a2.05 2.05 0 1 0 -4.1 0M200.2 56.9a2.05 2.05 0 1 0 4.1 0a2.05 2.05 0 1 0 -4.1 0M201.3 56.1a2.05 2.05 0 1 0 4.1 0a2.05 2.05 0 1 0 -4.1 0M202.4 56.9a2.05 2.05 0 1 0 4.1 0a2.05 2.05 0 1 0 -4.1 0M203.5 56.6a2.05 2.05 0 1 0 4.1 0a2.05 2.05 0 1 0 -4.1 0M204.6 56.5a2.05 2.05 0 1 0 4.1 0a2.05 2.05 0 1 0 -4.1 0M205.8 56.7a2.05 2.05 0 1 0 4.1 0a2.05 2.05 0 1 0 -4.1 0M206.9 57.2a2.05 2.05 0 1 0 4.1 0a2.05 2.05 0 1 0 -4.1 0M208.0 56.6a2.05 2.05 0 1 0 4.1 0a2.05 2.05 0 1 0 -4.1 0M209.1 56.9a2.05 2.05 0 1 0 4.1 0a2.05 2.05 0 1 0 -4.1 0M210.2 57.0a2.05 2.05 0 1 0 4.1 0a2.05 2.05 0 1 0 -4.1 0M211.3 56.6a2.05 2.05 0 1 0 4.1 0a2.05 2.05 0 1 0 -4.1 0M212.4 57.9a2.05 2.05 0 1 0 4.1 0a2.05 2.05 0 1 0 -4.1 0M213.5 57.7a2.05 2.05 0 1 0 4.1 0a2.05 2.05 0 1 0 -4.1 0M214.6 57.5a2.05 2.05 0 1 0 4.1 0a2.05 2.05 0 1 0 -4.1 0M215.7 58.1a2.05 2.05 0 1 0 4.1 0a2.05 2.05 0 1 0 -4.1 0M216.9 57.4a2.05 2.05 0 1 0 4.1 0a2.05 2.05 0 1 0 -4.1 0M218.0 57.8a2.05 2.05 0 1 0 4.1 0a2.05 2.05 0 1 0 -4.1 0M219.1 58.6a2.05 2.05 0 1 0 4.1 0a2.05 2.05 0 1 0 -4.1 0M220.2 58.4a2.05 2.05 0 1 0 4.1 0a2.05 2.05 0 1 0 -4.1 0M221.3 57.2a2.05 2.05 0 1 0 4.1 0a2.05 2.05 0 1 0 -4.1 0M222.4 56.9a2.05 2.05 0 1 0 4.1 0a2.05 2.05 0 1 0 -4.1 0M223.5 57.9a2.05 2.05 0 1 0 4.1 0a2.05 2.05 0 1 0 -4.1 0M224.6 58.8a2.05 2.05 0 1 0 4.1 0a2.05 2.05 0 1 0 -4.1 0M225.7 58.3a2.05 2.05 0 1 0 4.1 0a2.05 2.05 0 1 0 -4.1 0M226.8 58.5a2.05 2.05 0 1 0 4.1 0a2.05 2.05 0 1 0 -4.1 0M228.0 58.9a2.05 2.05 0 1 0 4.1 0a2.05 2.05 0 1 0 -4.1 0M229.1 58.4a2.05 2.05 0 1 0 4.1 0a2.05 2.05 0 1 0 -4.1 0M230.2 59.0a2.05 2.05 0 1 0 4.1 0a2.05 2.05 0 1 0 -4.1 0M231.3 59.3a2.05 2.05 0 1 0 4.1 0a2.05 2.05 0 1 0 -4.1 0M232.4 59.3a2.05 2.05 0 1 0 4.1 0a2.05 2.05 0 1 0 -4.1 0M233.5 59.3a2.05 2.05 0 1 0 4.1 0a2.05 2.05 0 1 0 -4.1 0M234.6 59.0a2.05 2.05 0 1 0 4.1 0a2.05 2.05 0 1 0 -4.1 0M235.7 59.5a2.05 2.05 0 1 0 4.1 0a2.05 2.05 0 1 0 -4.1 0M236.8 59.2a2.05 2.05 0 1 0 4.1 0a2.05 2.05 0 1 0 -4.1 0M237.9 60.0a2.05 2.05 0 1 0 4.1 0a2.05 2.05 0 1 0 -4.1 0M239.1 60.6a2.05 2.05 0 1 0 4.1 0a2.05 2.05 0 1 0 -4.1 0M240.2 59.4a2.05 2.05 0 1 0 4.1 0a2.05 2.05 0 1 0 -4.1 0M241.3 58.9a2.05 2.05 0 1 0 4.1 0a2.05 2.05 0 1 0 -4.1 0M242.4 59.7a2.05 2.05 0 1 0 4.1 0a2.05 2.05 0 1 0 -4.1 0M243.5 60.1a2.05 2.05 0 1 0 4.1 0a2.05 2.05 0 1 0 -4.1 0M244.6 60.4a2.05 2.05 0 1 0 4.1 0a2.05 2.05 0 1 0 -4.1 0M245.7 60.5a2.05 2.05 0 1 0 4.1 0a2.05 2.05 0 1 0 -4.1 0M246.8 59.8a2.05 2.05 0 1 0 4.1 0a2.05 2.05 0 1 0 -4.1 0M247.9 59.9a2.05 2.05 0 1 0 4.1 0a2.05 2.05 0 1 0 -4.1 0M249.0 60.8a2.05 2.05 0 1 0 4.1 0a2.05 2.05 0 1 0 -4.1 0M250.2 59.9a2.05 2.05 0 1 0 4.1 0a2.05 2.05 0 1 0 -4.1 0M251.3 60.9a2.05 2.05 0 1 0 4.1 0a2.05 2.05 0 1 0 -4.1 0M252.4 60.4a2.05 2.05 0 1 0 4.1 0a2.05 2.05 0 1 0 -4.1 0M253.5 60.9a2.05 2.05 0 1 0 4.1 0a2.05 2.05 0 1 0 -4.1 0M254.6 60.9a2.05 2.05 0 1 0 4.1 0a2.05 2.05 0 1 0 -4.1 0M255.7 61.0a2.05 2.05 0 1 0 4.1 0a2.05 2.05 0 1 0 -4.1 0M256.8 61.1a2.05 2.05 0 1 0 4.1 0a2.05 2.05 0 1 0 -4.1 0M257.9 60.5a2.05 2.05 0 1 0 4.1 0a2.05 2.05 0 1 0 -4.1 0M259.0 61.1a2.05 2.05 0 1 0 4.1 0a2.05 2.05 0 1 0 -4.1 0" fill="none" stroke="#b4d200" stroke-width="1.05"/>
<path d="M39.0 174.5a2.05 2.05 0 1 0 4.1 0a2.05 2.05 0 1 0 -4.1 0M40.1 174.6a2.05 2.05 0 1 0 4.1 0a2.05 2.05 0 1 0 -4.1 0M41.2 175.1a2.05 2.05 0 1 0 4.1 0a2.05 2.05 0 1 0 -4.1 0M42.3 174.1a2.05 2.05 0 1 0 4.1 0a2.05 2.05 0 1 0 -4.1 0M43.4 173.7a2.05 2.05 0 1 0 4.1 0a2.05 2.05 0 1 0 -4.1 0M44.5 173.6a2.05 2.05 0 1 0 4.1 0a2.05 2.05 0 1 0 -4.1 0M45.6 173.8a2.05 2.05 0 1 0 4.1 0a2.05 2.05 0 1 0 -4.1 0M46.7 174.3a2.05 2.05 0 1 0 4.1 0a2.05 2.05 0 1 0 -4.1 0M47.8 173.3a2.05 2.05 0 1 0 4.1 0a2.05 2.05 0 1 0 -4.1 0M48.9 174.4a2.05 2.05 0 1 0 4.1 0a2.05 2.05 0 1 0 -4.1 0M50.0 173.8a2.05 2.05 0 1 0 4.1 0a2.05 2.05 0 1 0 -4.1 0M51.2 173.4a2.05 2.05 0 1 0 4.1 0a2.05 2.05 0 1 0 -4.1 0M52.3 172.6a2.05 2.05 0 1 0 4.1 0a2.05 2.05 0 1 0 -4.1 0M53.4 173.5a2.05 2.05 0 1 0 4.1 0a2.05 2.05 0 1 0 -4.1 0M54.5 173.7a2.05 2.05 0 1 0 4.1 0a2.05 2.05 0 1 0 -4.1 0M55.6 172.1a2.05 2.05 0 1 0 4.1 0a2.05 2.05 0 1 0 -4.1 0M56.7 173.8a2.05 2.05 0 1 0 4.1 0a2.05 2.05 0 1 0 -4.1 0M57.8 174.0a2.05 2.05 0 1 0 4.1 0a2.05 2.05 0 1 0 -4.1 0M58.9 173.1a2.05 2.05 0 1 0 4.1 0a2.05 2.05 0 1 0 -4.1 0M60.0 173.1a2.05 2.05 0 1 0 4.1 0a2.05 2.05 0 1 0 -4.1 0M61.1 174.2a2.05 2.05 0 1 0 4.1 0a2.05 2.05 0 1 0 -4.1 0M62.3 173.4a2.05 2.05 0 1 0 4.1 0a2.05 2.05 0 1 0 -4.1 0M63.4 172.0a2.05 2.05 0 1 0 4.1 0a2.05 2.05 0 1 0 -4.1 0M64.5 172.5a2.05 2.05 0 1 0 4.1 0a2.05 2.05 0 1 0 -4.1 0M65.6 172.3a2.05 2.05 0 1 0 4.1 0a2.05 2.05 0 1 0 -4.1 0M66.7 172.2a2.05 2.05 0 1 0 4.1 0a2.05 2.05 0 1 0 -4.1 0M67.8 170.8a2.05 2.05 0 1 0 4.1 0a2.05 2.05 0 1 0 -4.1 0M68.9 172.6a2.05 2.05 0 1 0 4.1 0a2.05 2.05 0 1 0 -4.1 0M70.0 171.6a2.05 2.05 0 1 0 4.1 0a2.05 2.05 0 1 0 -4.1 0M71.1 172.0a2.05 2.05 0 1 0 4.1 0a2.05 2.05 0 1 0 -4.1 0M72.2 171.8a2.05 2.05 0 1 0 4.1 0a2.05 2.05 0 1 0 -4.1 0M73.4 172.3a2.05 2.05 0 1 0 4.1 0a2.05 2.05 0 1 0 -4.1 0M74.5 171.5a2.05 2.05 0 1 0 4.1 0a2.05 2.05 0 1 0 -4.1 0M75.6 171.1a2.05 2.05 0 1 0 4.1 0a2.05 2.05 0 1 0 -4.1 0M76.7 171.8a2.05 2.05 0 1 0 4.1 0a2.05 2.05 0 1 0 -4.1 0M77.8 172.3a2.05 2.05 0 1 0 4.1 0a2.05 2.05 0 1 0 -4.1 0M78.9 171.1a2.05 2.05 0 1 0 4.1 0a2.05 2.05 0 1 0 -4.1 0M80.0 172.1a2.05 2.05 0 1 0 4.1 0a2.05 2.05 0 1 0 -4.1 0M81.1 171.3a2.05 2.05 0 1 0 4.1 0a2.05 2.05 0 1 0 -4.1 0M82.2 170.7a2.05 2.05 0 1 0 4.1 0a2.05 2.05 0 1 0 -4.1 0M83.0 168.6a2.05 2.05 0 1 0 4.1 0a2.05 2.05 0 1 0 -4.1 0M84.1 164.6a2.05 2.05 0 1 0 4.1 0a2.05 2.05 0 1 0 -4.1 0M85.2 162.4a2.05 2.05 0 1 0 4.1 0a2.05 2.05 0 1 0 -4.1 0M86.3 159.1a2.05 2.05 0 1 0 4.1 0a2.05 2.05 0 1 0 -4.1 0M87.4 156.9a2.05 2.05 0 1 0 4.1 0a2.05 2.05 0 1 0 -4.1 0M88.5 154.0a2.05 2.05 0 1 0 4.1 0a2.05 2.05 0 1 0 -4.1 0M89.6 152.2a2.05 2.05 0 1 0 4.1 0a2.05 2.05 0 1 0 -4.1 0M90.7 151.3a2.05 2.05 0 1 0 4.1 0a2.05 2.05 0 1 0 -4.1 0M91.8 149.5a2.05 2.05 0 1 0 4.1 0a2.05 2.05 0 1 0 -4.1 0M92.9 148.2a2.05 2.05 0 1 0 4.1 0a2.05 2.05 0 1 0 -4.1 0M94.0 146.9a2.05 2.05 0 1 0 4.1 0a2.05 2.05 0 1 0 -4.1 0M95.2 146.1a2.05 2.05 0 1 0 4.1 0a2.05 2.05 0 1 0 -4.1 0M96.3 144.3a2.05 2.05 0 1 0 4.1 0a2.05 2.05 0 1 0 -4.1 0M97.4 143.2a2.05 2.05 0 1 0 4.1 0a2.05 2.05 0 1 0 -4.1 0M98.5 142.3a2.05 2.05 0 1 0 4.1 0a2.05 2.05 0 1 0 -4.1 0M99.6 140.7a2.05 2.05 0 1 0 4.1 0a2.05 2.05 0 1 0 -4.1 0M100.7 139.4a2.05 2.05 0 1 0 4.1 0a2.05 2.05 0 1 0 -4.1 0M101.8 138.2a2.05 2.05 0 1 0 4.1 0a2.05 2.05 0 1 0 -4.1 0M102.9 136.8a2.05 2.05 0 1 0 4.1 0a2.05 2.05 0 1 0 -4.1 0M104.0 135.4a2.05 2.05 0 1 0 4.1 0a2.05 2.05 0 1 0 -4.1 0M105.1 134.8a2.05 2.05 0 1 0 4.1 0a2.05 2.05 0 1 0 -4.1 0M106.3 133.2a2.05 2.05 0 1 0 4.1 0a2.05 2.05 0 1 0 -4.1 0M107.4 132.1a2.05 2.05 0 1 0 4.1 0a2.05 2.05 0 1 0 -4.1 0M108.5 130.5a2.05 2.05 0 1 0 4.1 0a2.05 2.05 0 1 0 -4.1 0M109.6 129.2a2.05 2.05 0 1 0 4.1 0a2.05 2.05 0 1 0 -4.1 0M110.7 127.8a2.05 2.05 0 1 0 4.1 0a2.05 2.05 0 1 0 -4.1 0M111.8 127.2a2.05 2.05 0 1 0 4.1 0a2.05 2.05 0 1 0 -4.1 0M112.9 125.6a2.05 2.05 0 1 0 4.1 0a2.05 2.05 0 1 0 -4.1 0M114.0 125.2a2.05 2.05 0 1 0 4.1 0a2.05 2.05 0 1 0 -4.1 0M115.1 124.8a2.05 2.05 0 1 0 4.1 0a2.05 2.05 0 1 0 -4.1 0M116.2 124.2a2.05 2.05 0 1 0 4.1 0a2.05 2.05 0 1 0 -4.1 0M117.4 122.9a2.05 2.05 0 1 0 4.1 0a2.05 2.05 0 1 0 -4.1 0M118.5 121.2a2.05 2.05 0 1 0 4.1 0a2.05 2.05 0 1 0 -4.1 0M119.6 120.7a2.05 2.05 0 1 0 4.1 0a2.05 2.05 0 1 0 -4.1 0M120.7 119.1a2.05 2.05 0 1 0 4.1 0a2.05 2.05 0 1 0 -4.1 0M121.8 118.6a2.05 2.05 0 1 0 4.1 0a2.05 2.05 0 1 0 -4.1 0M122.9 117.1a2.05 2.05 0 1 0 4.1 0a2.05 2.05 0 1 0 -4.1 0M124.0 116.4a2.05 2.05 0 1 0 4.1 0a2.05 2.05 0 1 0 -4.1 0M125.1 116.1a2.05 2.05 0 1 0 4.1 0a2.05 2.05 0 1 0 -4.1 0M126.2 114.4a2.05 2.05 0 1 0 4.1 0a2.05 2.05 0 1 0 -4.1 0M127.3 113.9a2.05 2.05 0 1 0 4.1 0a2.05 2.05 0 1 0 -4.1 0M128.5 112.1a2.05 2.05 0 1 0 4.1 0a2.05 2.05 0 1 0 -4.1 0M129.6 111.0a2.05 2.05 0 1 0 4.1 0a2.05 2.05 0 1 0 -4.1 0M130.7 110.8a2.05 2.05 0 1 0 4.1 0a2.05 2.05 0 1 0 -4.1 0M131.8 110.2a2.05 2.05 0 1 0 4.1 0a2.05 2.05 0 1 0 -4.1 0M132.9 108.4a2.05 2.05 0 1 0 4.1 0a2.05 2.05 0 1 0 -4.1 0M134.0 107.9a2.05 2.05 0 1 0 4.1 0a2.05 2.05 0 1 0 -4.1 0M135.1 106.5a2.05 2.05 0 1 0 4.1 0a2.05 2.05 0 1 0 -4.1 0M136.2 106.2a2.05 2.05 0 1 0 4.1 0a2.05 2.05 0 1 0 -4.1 0M137.3 105.8a2.05 2.05 0 1 0 4.1 0a2.05 2.05 0 1 0 -4.1 0M138.4 104.6a2.05 2.05 0 1 0 4.1 0a2.05 2.05 0 1 0 -4.1 0M139.6 103.6a2.05 2.05 0 1 0 4.1 0a2.05 2.05 0 1 0 -4.1 0M140.7 102.5a2.05 2.05 0 1 0 4.1 0a2.05 2.05 0 1 0 -4.1 0M141.8 102.4a2.05 2.05 0 1 0 4.1 0a2.05 2.05 0 1 0 -4.1 0M142.9 101.8a2.05 2.05 0 1 0 4.1 0a2.05 2.05 0 1 0 -4.1 0M144.0 101.0a2.05 2.05 0 1 0 4.1 0a2.05 2.05 0 1 0 -4.1 0M145.1 100.1a2.05 2.05 0 1 0 4.1 0a2.05 2.05 0 1 0 -4.1 0M146.2 98.7a2.05 2.05 0 1 0 4.1 0a2.05 2.05 0 1 0 -4.1 0M147.3 99.1a2.05 2.05 0 1 0 4.1 0a2.05 2.05 0 1 0 -4.1 0M148.4 97.6a2.05 2.05 0 1 0 4.1 0a2.05 2.05 0 1 0 -4.1 0M149.5 96.8a2.05 2.05 0 1 0 4.1 0a2.05 2.05 0 1 0 -4.1 0M150.7 96.4a2.05 2.05 0 1 0 4.1 0a2.05 2.05 0 1 0 -4.1 0M151.8 94.5a2.05 2.05 0 1 0 4.1 0a2.05 2.05 0 1 0 -4.1 0M152.9 94.5a2.05 2.05 0 1 0 4.1 0a2.05 2.05 0 1 0 -4.1 0M154.0 93.7a2.05 2.05 0 1 0 4.1 0a2.05 2.05 0 1 0 -4.1 0M155.1 93.2a2.05 2.05 0 1 0 4.1 0a2.05 2.05 0 1 0 -4.1 0M156.2 92.8a2.05 2.05 0 1 0 4.1 0a2.05 2.05 0 1 0 -4.1 0M157.3 91.6a2.05 2.05 0 1 0 4.1 0a2.05 2.05 0 1 0 -4.1 0M158.4 89.9a2.05 2.05 0 1 0 4.1 0a2.05 2.05 0 1 0 -4.1 0M159.5 89.7a2.05 2.05 0 1 0 4.1 0a2.05 2.05 0 1 0 -4.1 0M160.6 89.1a2.05 2.05 0 1 0 4.1 0a2.05 2.05 0 1 0 -4.1 0M161.8 88.3a2.05 2.05 0 1 0 4.1 0a2.05 2.05 0 1 0 -4.1 0M162.9 86.9a2.05 2.05 0 1 0 4.1 0a2.05 2.05 0 1 0 -4.1 0M164.0 85.9a2.05 2.05 0 1 0 4.1 0a2.05 2.05 0 1 0 -4.1 0M165.1 86.0a2.05 2.05 0 1 0 4.1 0a2.05 2.05 0 1 0 -4.1 0M166.2 85.1a2.05 2.05 0 1 0 4.1 0a2.05 2.05 0 1 0 -4.1 0M167.3 84.1a2.05 2.05 0 1 0 4.1 0a2.05 2.05 0 1 0 -4.1 0M168.4 82.6a2.05 2.05 0 1 0 4.1 0a2.05 2.05 0 1 0 -4.1 0M169.5 83.2a2.05 2.05 0 1 0 4.1 0a2.05 2.05 0 1 0 -4.1 0M171.9 82.8a2.05 2.05 0 1 0 4.1 0a2.05 2.05 0 1 0 -4.1 0M173.1 92.4a2.05 2.05 0 1 0 4.1 0a2.05 2.05 0 1 0 -4.1 0M174.2 95.7a2.05 2.05 0 1 0 4.1 0a2.05 2.05 0 1 0 -4.1 0M175.3 95.6a2.05 2.05 0 1 0 4.1 0a2.05 2.05 0 1 0 -4.1 0M176.4 96.1a2.05 2.05 0 1 0 4.1 0a2.05 2.05 0 1 0 -4.1 0M177.5 95.8a2.05 2.05 0 1 0 4.1 0a2.05 2.05 0 1 0 -4.1 0M178.6 97.1a2.05 2.05 0 1 0 4.1 0a2.05 2.05 0 1 0 -4.1 0M179.7 96.2a2.05 2.05 0 1 0 4.1 0a2.05 2.05 0 1 0 -4.1 0M180.8 96.9a2.05 2.05 0 1 0 4.1 0a2.05 2.05 0 1 0 -4.1 0M181.9 97.1a2.05 2.05 0 1 0 4.1 0a2.05 2.05 0 1 0 -4.1 0M183.1 96.8a2.05 2.05 0 1 0 4.1 0a2.05 2.05 0 1 0 -4.1 0M184.2 97.9a2.05 2.05 0 1 0 4.1 0a2.05 2.05 0 1 0 -4.1 0M185.3 97.3a2.05 2.05 0 1 0 4.1 0a2.05 2.05 0 1 0 -4.1 0M186.4 98.1a2.05 2.05 0 1 0 4.1 0a2.05 2.05 0 1 0 -4.1 0M187.5 99.0a2.05 2.05 0 1 0 4.1 0a2.05 2.05 0 1 0 -4.1 0M188.6 99.4a2.05 2.05 0 1 0 4.1 0a2.05 2.05 0 1 0 -4.1 0M189.7 100.4a2.05 2.05 0 1 0 4.1 0a2.05 2.05 0 1 0 -4.1 0M190.8 101.2a2.05 2.05 0 1 0 4.1 0a2.05 2.05 0 1 0 -4.1 0M191.9 101.2a2.05 2.05 0 1 0 4.1 0a2.05 2.05 0 1 0 -4.1 0M193.0 101.5a2.05 2.05 0 1 0 4.1 0a2.05 2.05 0 1 0 -4.1 0M194.2 101.8a2.05 2.05 0 1 0 4.1 0a2.05 2.05 0 1 0 -4.1 0M195.3 102.1a2.05 2.05 0 1 0 4.1 0a2.05 2.05 0 1 0 -4.1 0M196.4 102.8a2.05 2.05 0 1 0 4.1 0a2.05 2.05 0 1 0 -4.1 0M197.5 102.7a2.05 2.05 0 1 0 4.1 0a2.05 2.05 0 1 0 -4.1 0M198.6 103.1a2.05 2.05 0 1 0 4.1 0a2.05 2.05 0 1 0 -4.1 0M199.7 103.1a2.05 2.05 0 1 0 4.1 0a2.05 2.05 0 1 0 -4.1 0M200.8 103.0a2.05 2.05 0 1 0 4.1 0a2.05 2.05 0 1 0 -4.1 0M201.9 103.9a2.05 2.05 0 1 0 4.1 0a2.05 2.05 0 1 0 -4.1 0M203.0 103.3a2.05 2.05 0 1 0 4.1 0a2.05 2.05 0 1 0 -4.1 0M204.1 103.9a2.05 2.05 0 1 0 4.1 0a2.05 2.05 0 1 0 -4.1 0M205.3 104.6a2.05 2.05 0 1 0 4.1 0a2.05 2.05 0 1 0 -4.1 0M206.4 103.8a2.05 2.05 0 1 0 4.1 0a2.05 2.05 0 1 0 -4.1 0M207.5 104.3a2.05 2.05 0 1 0 4.1 0a2.05 2.05 0 1 0 -4.1 0M208.6 103.8a2.05 2.05 0 1 0 4.1 0a2.05 2.05 0 1 0 -4.1 0M209.7 104.4a2.05 2.05 0 1 0 4.1 0a2.05 2.05 0 1 0 -4.1 0M210.8 104.1a2.05 2.05 0 1 0 4.1 0a2.05 2.05 0 1 0 -4.1 0M211.9 104.7a2.05 2.05 0 1 0 4.1 0a2.05 2.05 0 1 0 -4.1 0M213.0 104.8a2.05 2.05 0 1 0 4.1 0a2.05 2.05 0 1 0 -4.1 0M214.1 105.2a2.05 2.05 0 1 0 4.1 0a2.05 2.05 0 1 0 -4.1 0M215.2 105.9a2.05 2.05 0 1 0 4.1 0a2.05 2.05 0 1 0 -4.1 0M216.4 105.4a2.05 2.05 0 1 0 4.1 0a2.05 2.05 0 1 0 -4.1 0M217.5 105.7a2.05 2.05 0 1 0 4.1 0a2.05 2.05 0 1 0 -4.1 0M218.6 105.5a2.05 2.05 0 1 0 4.1 0a2.05 2.05 0 1 0 -4.1 0M219.7 105.6a2.05 2.05 0 1 0 4.1 0a2.05 2.05 0 1 0 -4.1 0M220.8 105.4a2.05 2.05 0 1 0 4.1 0a2.05 2.05 0 1 0 -4.1 0M221.9 105.2a2.05 2.05 0 1 0 4.1 0a2.05 2.05 0 1 0 -4.1 0M223.0 106.0a2.05 2.05 0 1 0 4.1 0a2.05 2.05 0 1 0 -4.1 0M224.1 106.8a2.05 2.05 0 1 0 4.1 0a2.05 2.05 0 1 0 -4.1 0M225.2 106.4a2.05 2.05 0 1 0 4.1 0a2.05 2.05 0 1 0 -4.1 0M226.3 106.1a2.05 2.05 0 1 0 4.1 0a2.05 2.05 0 1 0 -4.1 0M227.5 107.1a2.05 2.05 0 1 0 4.1 0a2.05 2.05 0 1 0 -4.1 0M228.6 106.4a2.05 2.05 0 1 0 4.1 0a2.05 2.05 0 1 0 -4.1 0M229.7 106.4a2.05 2.05 0 1 0 4.1 0a2.05 2.05 0 1 0 -4.1 0M230.8 106.3a2.05 2.05 0 1 0 4.1 0a2.05 2.05 0 1 0 -4.1 0M231.9 106.5a2.05 2.05 0 1 0 4.1 0a2.05 2.05 0 1 0 -4.1 0M233.0 106.9a2.05 2.05 0 1 0 4.1 0a2.05 2.05 0 1 0 -4.1 0M234.1 108.0a2.05 2.05 0 1 0 4.1 0a2.05 2.05 0 1 0 -4.1 0M235.2 107.2a2.05 2.05 0 1 0 4.1 0a2.05 2.05 0 1 0 -4.1 0M236.3 107.0a2.05 2.05 0 1 0 4.1 0a2.05 2.05 0 1 0 -4.1 0M237.4 107.3a2.05 2.05 0 1 0 4.1 0a2.05 2.05 0 1 0 -4.1 0M238.6 107.5a2.05 2.05 0 1 0 4.1 0a2.05 2.05 0 1 0 -4.1 0M239.7 107.0a2.05 2.05 0 1 0 4.1 0a2.05 2.05 0 1 0 -4.1 0M240.8 107.9a2.05 2.05 0 1 0 4.1 0a2.05 2.05 0 1 0 -4.1 0M241.9 108.2a2.05 2.05 0 1 0 4.1 0a2.05 2.05 0 1 0 -4.1 0M243.0 108.2a2.05 2.05 0 1 0 4.1 0a2.05 2.05 0 1 0 -4.1 0M244.1 108.4a2.05 2.05 0 1 0 4.1 0a2.05 2.05 0 1 0 -4.1 0M245.2 107.7a2.05 2.05 0 1 0 4.1 0a2.05 2.05 0 1 0 -4.1 0M246.3 107.7a2.05 2.05 0 1 0 4.1 0a2.05 2.05 0 1 0 -4.1 0M247.4 109.0a2.05 2.05 0 1 0 4.1 0a2.05 2.05 0 1 0 -4.1 0M248.5 109.0a2.05 2.05 0 1 0 4.1 0a2.05 2.05 0 1 0 -4.1 0M249.7 108.0a2.05 2.05 0 1 0 4.1 0a2.05 2.05 0 1 0 -4.1 0M250.8 108.8a2.05 2.05 0 1 0 4.1 0a2.05 2.05 0 1 0 -4.1 0M251.9 108.9a2.05 2.05 0 1 0 4.1 0a2.05 2.05 0 1 0 -4.1 0M253.0 109.2a2.05 2.05 0 1 0 4.1 0a2.05 2.05 0 1 0 -4.1 0M254.1 109.1a2.05 2.05 0 1 0 4.1 0a2.05 2.05 0 1 0 -4.1 0M255.2 108.9a2.05 2.05 0 1 0 4.1 0a2.05 2.05 0 1 0 -4.1 0M256.3 109.3a2.05 2.05 0 1 0 4.1 0a2.05 2.05 0 1 0 -4.1 0M257.4 109.4a2.05 2.05 0 1 0 4.1 0a2.05 2.05 0 1 0 -4.1 0M258.5 109.4a2.05 2.05 0 1 0 4.1 0a2.05 2.05 0 1 0 -4.1 0M259.6 108.7a2.05 2.05 0 1 0 4.1 0a2.05 2.05 0 1 0 -4.1 0" fill="none" stroke="#3ee6a8" stroke-width="1.05"/>
<path d="M39.0 166.5a2.05 2.05 0 1 0 4.1 0a2.05 2.05 0 1 0 -4.1 0M40.1 167.8a2.05 2.05 0 1 0 4.1 0a2.05 2.05 0 1 0 -4.1 0M41.2 167.3a2.05 2.05 0 1 0 4.1 0a2.05 2.05 0 1 0 -4.1 0M42.3 168.4a2.05 2.05 0 1 0 4.1 0a2.05 2.05 0 1 0 -4.1 0M43.4 168.7a2.05 2.05 0 1 0 4.1 0a2.05 2.05 0 1 0 -4.1 0M44.5 168.4a2.05 2.05 0 1 0 4.1 0a2.05 2.05 0 1 0 -4.1 0M45.6 168.0a2.05 2.05 0 1 0 4.1 0a2.05 2.05 0 1 0 -4.1 0M46.7 168.3a2.05 2.05 0 1 0 4.1 0a2.05 2.05 0 1 0 -4.1 0M47.8 168.9a2.05 2.05 0 1 0 4.1 0a2.05 2.05 0 1 0 -4.1 0M48.9 167.7a2.05 2.05 0 1 0 4.1 0a2.05 2.05 0 1 0 -4.1 0M50.0 168.7a2.05 2.05 0 1 0 4.1 0a2.05 2.05 0 1 0 -4.1 0M51.2 168.6a2.05 2.05 0 1 0 4.1 0a2.05 2.05 0 1 0 -4.1 0M52.3 168.3a2.05 2.05 0 1 0 4.1 0a2.05 2.05 0 1 0 -4.1 0M53.4 169.0a2.05 2.05 0 1 0 4.1 0a2.05 2.05 0 1 0 -4.1 0M54.5 167.7a2.05 2.05 0 1 0 4.1 0a2.05 2.05 0 1 0 -4.1 0M55.6 168.7a2.05 2.05 0 1 0 4.1 0a2.05 2.05 0 1 0 -4.1 0M56.7 167.5a2.05 2.05 0 1 0 4.1 0a2.05 2.05 0 1 0 -4.1 0M57.8 167.6a2.05 2.05 0 1 0 4.1 0a2.05 2.05 0 1 0 -4.1 0M58.9 167.4a2.05 2.05 0 1 0 4.1 0a2.05 2.05 0 1 0 -4.1 0M60.0 168.3a2.05 2.05 0 1 0 4.1 0a2.05 2.05 0 1 0 -4.1 0M61.1 167.5a2.05 2.05 0 1 0 4.1 0a2.05 2.05 0 1 0 -4.1 0M62.3 168.1a2.05 2.05 0 1 0 4.1 0a2.05 2.05 0 1 0 -4.1 0M63.4 167.3a2.05 2.05 0 1 0 4.1 0a2.05 2.05 0 1 0 -4.1 0M64.5 168.6a2.05 2.05 0 1 0 4.1 0a2.05 2.05 0 1 0 -4.1 0M65.6 169.1a2.05 2.05 0 1 0 4.1 0a2.05 2.05 0 1 0 -4.1 0M66.7 168.1a2.05 2.05 0 1 0 4.1 0a2.05 2.05 0 1 0 -4.1 0M67.8 169.0a2.05 2.05 0 1 0 4.1 0a2.05 2.05 0 1 0 -4.1 0M68.9 168.3a2.05 2.05 0 1 0 4.1 0a2.05 2.05 0 1 0 -4.1 0M70.0 169.2a2.05 2.05 0 1 0 4.1 0a2.05 2.05 0 1 0 -4.1 0M71.1 168.0a2.05 2.05 0 1 0 4.1 0a2.05 2.05 0 1 0 -4.1 0M72.2 167.0a2.05 2.05 0 1 0 4.1 0a2.05 2.05 0 1 0 -4.1 0M73.4 168.8a2.05 2.05 0 1 0 4.1 0a2.05 2.05 0 1 0 -4.1 0M74.5 167.8a2.05 2.05 0 1 0 4.1 0a2.05 2.05 0 1 0 -4.1 0M75.6 167.3a2.05 2.05 0 1 0 4.1 0a2.05 2.05 0 1 0 -4.1 0M76.7 167.5a2.05 2.05 0 1 0 4.1 0a2.05 2.05 0 1 0 -4.1 0M77.8 166.9a2.05 2.05 0 1 0 4.1 0a2.05 2.05 0 1 0 -4.1 0M78.9 167.7a2.05 2.05 0 1 0 4.1 0a2.05 2.05 0 1 0 -4.1 0M80.0 167.2a2.05 2.05 0 1 0 4.1 0a2.05 2.05 0 1 0 -4.1 0M81.1 168.7a2.05 2.05 0 1 0 4.1 0a2.05 2.05 0 1 0 -4.1 0M82.2 168.2a2.05 2.05 0 1 0 4.1 0a2.05 2.05 0 1 0 -4.1 0M83.0 166.3a2.05 2.05 0 1 0 4.1 0a2.05 2.05 0 1 0 -4.1 0M84.1 163.6a2.05 2.05 0 1 0 4.1 0a2.05 2.05 0 1 0 -4.1 0M85.2 161.4a2.05 2.05 0 1 0 4.1 0a2.05 2.05 0 1 0 -4.1 0M86.3 158.6a2.05 2.05 0 1 0 4.1 0a2.05 2.05 0 1 0 -4.1 0M87.4 157.1a2.05 2.05 0 1 0 4.1 0a2.05 2.05 0 1 0 -4.1 0M88.5 155.1a2.05 2.05 0 1 0 4.1 0a2.05 2.05 0 1 0 -4.1 0M89.6 153.1a2.05 2.05 0 1 0 4.1 0a2.05 2.05 0 1 0 -4.1 0M90.7 151.9a2.05 2.05 0 1 0 4.1 0a2.05 2.05 0 1 0 -4.1 0M91.8 151.2a2.05 2.05 0 1 0 4.1 0a2.05 2.05 0 1 0 -4.1 0M92.9 150.6a2.05 2.05 0 1 0 4.1 0a2.05 2.05 0 1 0 -4.1 0M94.0 149.7a2.05 2.05 0 1 0 4.1 0a2.05 2.05 0 1 0 -4.1 0M95.2 148.4a2.05 2.05 0 1 0 4.1 0a2.05 2.05 0 1 0 -4.1 0M96.3 148.0a2.05 2.05 0 1 0 4.1 0a2.05 2.05 0 1 0 -4.1 0M97.4 146.8a2.05 2.05 0 1 0 4.1 0a2.05 2.05 0 1 0 -4.1 0M98.5 146.6a2.05 2.05 0 1 0 4.1 0a2.05 2.05 0 1 0 -4.1 0M99.6 145.6a2.05 2.05 0 1 0 4.1 0a2.05 2.05 0 1 0 -4.1 0M100.7 145.7a2.05 2.05 0 1 0 4.1 0a2.05 2.05 0 1 0 -4.1 0M101.8 144.5a2.05 2.05 0 1 0 4.1 0a2.05 2.05 0 1 0 -4.1 0M102.9 144.1a2.05 2.05 0 1 0 4.1 0a2.05 2.05 0 1 0 -4.1 0M104.0 144.0a2.05 2.05 0 1 0 4.1 0a2.05 2.05 0 1 0 -4.1 0M105.1 143.8a2.05 2.05 0 1 0 4.1 0a2.05 2.05 0 1 0 -4.1 0M106.3 142.5a2.05 2.05 0 1 0 4.1 0a2.05 2.05 0 1 0 -4.1 0M107.4 142.5a2.05 2.05 0 1 0 4.1 0a2.05 2.05 0 1 0 -4.1 0M108.5 142.4a2.05 2.05 0 1 0 4.1 0a2.05 2.05 0 1 0 -4.1 0M109.6 142.0a2.05 2.05 0 1 0 4.1 0a2.05 2.05 0 1 0 -4.1 0M110.7 141.2a2.05 2.05 0 1 0 4.1 0a2.05 2.05 0 1 0 -4.1 0M111.8 141.2a2.05 2.05 0 1 0 4.1 0a2.05 2.05 0 1 0 -4.1 0M112.9 140.6a2.05 2.05 0 1 0 4.1 0a2.05 2.05 0 1 0 -4.1 0M114.0 140.9a2.05 2.05 0 1 0 4.1 0a2.05 2.05 0 1 0 -4.1 0M115.1 140.1a2.05 2.05 0 1 0 4.1 0a2.05 2.05 0 1 0 -4.1 0M116.2 139.0a2.05 2.05 0 1 0 4.1 0a2.05 2.05 0 1 0 -4.1 0M117.4 138.2a2.05 2.05 0 1 0 4.1 0a2.05 2.05 0 1 0 -4.1 0M118.5 138.7a2.05 2.05 0 1 0 4.1 0a2.05 2.05 0 1 0 -4.1 0M119.6 138.6a2.05 2.05 0 1 0 4.1 0a2.05 2.05 0 1 0 -4.1 0M120.7 137.8a2.05 2.05 0 1 0 4.1 0a2.05 2.05 0 1 0 -4.1 0M121.8 137.6a2.05 2.05 0 1 0 4.1 0a2.05 2.05 0 1 0 -4.1 0M122.9 136.6a2.05 2.05 0 1 0 4.1 0a2.05 2.05 0 1 0 -4.1 0M124.0 135.8a2.05 2.05 0 1 0 4.1 0a2.05 2.05 0 1 0 -4.1 0M125.1 136.2a2.05 2.05 0 1 0 4.1 0a2.05 2.05 0 1 0 -4.1 0M126.2 135.4a2.05 2.05 0 1 0 4.1 0a2.05 2.05 0 1 0 -4.1 0M127.3 135.2a2.05 2.05 0 1 0 4.1 0a2.05 2.05 0 1 0 -4.1 0M128.5 133.9a2.05 2.05 0 1 0 4.1 0a2.05 2.05 0 1 0 -4.1 0M129.6 134.0a2.05 2.05 0 1 0 4.1 0a2.05 2.05 0 1 0 -4.1 0M130.7 133.2a2.05 2.05 0 1 0 4.1 0a2.05 2.05 0 1 0 -4.1 0M131.8 133.3a2.05 2.05 0 1 0 4.1 0a2.05 2.05 0 1 0 -4.1 0M132.9 132.3a2.05 2.05 0 1 0 4.1 0a2.05 2.05 0 1 0 -4.1 0M134.0 131.8a2.05 2.05 0 1 0 4.1 0a2.05 2.05 0 1 0 -4.1 0M135.1 131.4a2.05 2.05 0 1 0 4.1 0a2.05 2.05 0 1 0 -4.1 0M136.2 131.6a2.05 2.05 0 1 0 4.1 0a2.05 2.05 0 1 0 -4.1 0M137.3 130.7a2.05 2.05 0 1 0 4.1 0a2.05 2.05 0 1 0 -4.1 0M138.4 129.9a2.05 2.05 0 1 0 4.1 0a2.05 2.05 0 1 0 -4.1 0M139.6 129.3a2.05 2.05 0 1 0 4.1 0a2.05 2.05 0 1 0 -4.1 0M140.7 128.8a2.05 2.05 0 1 0 4.1 0a2.05 2.05 0 1 0 -4.1 0M141.8 129.3a2.05 2.05 0 1 0 4.1 0a2.05 2.05 0 1 0 -4.1 0M142.9 127.5a2.05 2.05 0 1 0 4.1 0a2.05 2.05 0 1 0 -4.1 0M144.0 127.5a2.05 2.05 0 1 0 4.1 0a2.05 2.05 0 1 0 -4.1 0M145.1 127.6a2.05 2.05 0 1 0 4.1 0a2.05 2.05 0 1 0 -4.1 0M146.2 127.3a2.05 2.05 0 1 0 4.1 0a2.05 2.05 0 1 0 -4.1 0M147.3 126.3a2.05 2.05 0 1 0 4.1 0a2.05 2.05 0 1 0 -4.1 0M148.4 126.2a2.05 2.05 0 1 0 4.1 0a2.05 2.05 0 1 0 -4.1 0M149.5 125.7a2.05 2.05 0 1 0 4.1 0a2.05 2.05 0 1 0 -4.1 0M150.7 125.3a2.05 2.05 0 1 0 4.1 0a2.05 2.05 0 1 0 -4.1 0M151.8 124.4a2.05 2.05 0 1 0 4.1 0a2.05 2.05 0 1 0 -4.1 0M152.9 124.6a2.05 2.05 0 1 0 4.1 0a2.05 2.05 0 1 0 -4.1 0M154.0 123.5a2.05 2.05 0 1 0 4.1 0a2.05 2.05 0 1 0 -4.1 0M155.1 123.5a2.05 2.05 0 1 0 4.1 0a2.05 2.05 0 1 0 -4.1 0M156.2 122.0a2.05 2.05 0 1 0 4.1 0a2.05 2.05 0 1 0 -4.1 0M157.3 122.3a2.05 2.05 0 1 0 4.1 0a2.05 2.05 0 1 0 -4.1 0M158.4 120.9a2.05 2.05 0 1 0 4.1 0a2.05 2.05 0 1 0 -4.1 0M159.5 120.3a2.05 2.05 0 1 0 4.1 0a2.05 2.05 0 1 0 -4.1 0M160.6 120.6a2.05 2.05 0 1 0 4.1 0a2.05 2.05 0 1 0 -4.1 0M161.8 119.6a2.05 2.05 0 1 0 4.1 0a2.05 2.05 0 1 0 -4.1 0M162.9 119.5a2.05 2.05 0 1 0 4.1 0a2.05 2.05 0 1 0 -4.1 0M164.0 118.4a2.05 2.05 0 1 0 4.1 0a2.05 2.05 0 1 0 -4.1 0M165.1 118.9a2.05 2.05 0 1 0 4.1 0a2.05 2.05 0 1 0 -4.1 0M166.2 117.7a2.05 2.05 0 1 0 4.1 0a2.05 2.05 0 1 0 -4.1 0M167.3 116.7a2.05 2.05 0 1 0 4.1 0a2.05 2.05 0 1 0 -4.1 0M168.4 116.6a2.05 2.05 0 1 0 4.1 0a2.05 2.05 0 1 0 -4.1 0M169.5 116.3a2.05 2.05 0 1 0 4.1 0a2.05 2.05 0 1 0 -4.1 0M171.9 116.2a2.05 2.05 0 1 0 4.1 0a2.05 2.05 0 1 0 -4.1 0M173.1 121.4a2.05 2.05 0 1 0 4.1 0a2.05 2.05 0 1 0 -4.1 0M174.2 124.7a2.05 2.05 0 1 0 4.1 0a2.05 2.05 0 1 0 -4.1 0M175.3 125.7a2.05 2.05 0 1 0 4.1 0a2.05 2.05 0 1 0 -4.1 0M176.4 126.0a2.05 2.05 0 1 0 4.1 0a2.05 2.05 0 1 0 -4.1 0M177.5 126.3a2.05 2.05 0 1 0 4.1 0a2.05 2.05 0 1 0 -4.1 0M178.6 127.2a2.05 2.05 0 1 0 4.1 0a2.05 2.05 0 1 0 -4.1 0M179.7 126.7a2.05 2.05 0 1 0 4.1 0a2.05 2.05 0 1 0 -4.1 0M180.8 126.5a2.05 2.05 0 1 0 4.1 0a2.05 2.05 0 1 0 -4.1 0M181.9 127.7a2.05 2.05 0 1 0 4.1 0a2.05 2.05 0 1 0 -4.1 0M183.1 127.8a2.05 2.05 0 1 0 4.1 0a2.05 2.05 0 1 0 -4.1 0M184.2 129.3a2.05 2.05 0 1 0 4.1 0a2.05 2.05 0 1 0 -4.1 0M185.3 128.9a2.05 2.05 0 1 0 4.1 0a2.05 2.05 0 1 0 -4.1 0M186.4 128.8a2.05 2.05 0 1 0 4.1 0a2.05 2.05 0 1 0 -4.1 0M187.5 129.0a2.05 2.05 0 1 0 4.1 0a2.05 2.05 0 1 0 -4.1 0M188.6 130.0a2.05 2.05 0 1 0 4.1 0a2.05 2.05 0 1 0 -4.1 0M189.7 129.7a2.05 2.05 0 1 0 4.1 0a2.05 2.05 0 1 0 -4.1 0M190.8 130.1a2.05 2.05 0 1 0 4.1 0a2.05 2.05 0 1 0 -4.1 0M191.9 130.5a2.05 2.05 0 1 0 4.1 0a2.05 2.05 0 1 0 -4.1 0M193.0 130.9a2.05 2.05 0 1 0 4.1 0a2.05 2.05 0 1 0 -4.1 0M194.2 131.1a2.05 2.05 0 1 0 4.1 0a2.05 2.05 0 1 0 -4.1 0M195.3 131.4a2.05 2.05 0 1 0 4.1 0a2.05 2.05 0 1 0 -4.1 0M196.4 132.1a2.05 2.05 0 1 0 4.1 0a2.05 2.05 0 1 0 -4.1 0M197.5 132.5a2.05 2.05 0 1 0 4.1 0a2.05 2.05 0 1 0 -4.1 0M198.6 131.4a2.05 2.05 0 1 0 4.1 0a2.05 2.05 0 1 0 -4.1 0M199.7 133.4a2.05 2.05 0 1 0 4.1 0a2.05 2.05 0 1 0 -4.1 0M200.8 132.6a2.05 2.05 0 1 0 4.1 0a2.05 2.05 0 1 0 -4.1 0M201.9 133.3a2.05 2.05 0 1 0 4.1 0a2.05 2.05 0 1 0 -4.1 0M203.0 132.8a2.05 2.05 0 1 0 4.1 0a2.05 2.05 0 1 0 -4.1 0M204.1 133.4a2.05 2.05 0 1 0 4.1 0a2.05 2.05 0 1 0 -4.1 0M205.3 133.5a2.05 2.05 0 1 0 4.1 0a2.05 2.05 0 1 0 -4.1 0M206.4 133.7a2.05 2.05 0 1 0 4.1 0a2.05 2.05 0 1 0 -4.1 0M207.5 134.1a2.05 2.05 0 1 0 4.1 0a2.05 2.05 0 1 0 -4.1 0M208.6 134.2a2.05 2.05 0 1 0 4.1 0a2.05 2.05 0 1 0 -4.1 0M209.7 133.6a2.05 2.05 0 1 0 4.1 0a2.05 2.05 0 1 0 -4.1 0M210.8 134.1a2.05 2.05 0 1 0 4.1 0a2.05 2.05 0 1 0 -4.1 0M211.9 134.5a2.05 2.05 0 1 0 4.1 0a2.05 2.05 0 1 0 -4.1 0M213.0 134.6a2.05 2.05 0 1 0 4.1 0a2.05 2.05 0 1 0 -4.1 0M214.1 134.3a2.05 2.05 0 1 0 4.1 0a2.05 2.05 0 1 0 -4.1 0M215.2 134.4a2.05 2.05 0 1 0 4.1 0a2.05 2.05 0 1 0 -4.1 0M216.4 134.6a2.05 2.05 0 1 0 4.1 0a2.05 2.05 0 1 0 -4.1 0M217.5 134.3a2.05 2.05 0 1 0 4.1 0a2.05 2.05 0 1 0 -4.1 0M218.6 134.3a2.05 2.05 0 1 0 4.1 0a2.05 2.05 0 1 0 -4.1 0M219.7 135.5a2.05 2.05 0 1 0 4.1 0a2.05 2.05 0 1 0 -4.1 0M220.8 134.8a2.05 2.05 0 1 0 4.1 0a2.05 2.05 0 1 0 -4.1 0M221.9 135.0a2.05 2.05 0 1 0 4.1 0a2.05 2.05 0 1 0 -4.1 0M223.0 134.8a2.05 2.05 0 1 0 4.1 0a2.05 2.05 0 1 0 -4.1 0M224.1 135.7a2.05 2.05 0 1 0 4.1 0a2.05 2.05 0 1 0 -4.1 0M225.2 135.9a2.05 2.05 0 1 0 4.1 0a2.05 2.05 0 1 0 -4.1 0M226.3 135.2a2.05 2.05 0 1 0 4.1 0a2.05 2.05 0 1 0 -4.1 0M227.5 135.5a2.05 2.05 0 1 0 4.1 0a2.05 2.05 0 1 0 -4.1 0M228.6 135.1a2.05 2.05 0 1 0 4.1 0a2.05 2.05 0 1 0 -4.1 0M229.7 136.1a2.05 2.05 0 1 0 4.1 0a2.05 2.05 0 1 0 -4.1 0M230.8 135.8a2.05 2.05 0 1 0 4.1 0a2.05 2.05 0 1 0 -4.1 0M231.9 135.2a2.05 2.05 0 1 0 4.1 0a2.05 2.05 0 1 0 -4.1 0M233.0 136.1a2.05 2.05 0 1 0 4.1 0a2.05 2.05 0 1 0 -4.1 0M234.1 135.8a2.05 2.05 0 1 0 4.1 0a2.05 2.05 0 1 0 -4.1 0M235.2 135.8a2.05 2.05 0 1 0 4.1 0a2.05 2.05 0 1 0 -4.1 0M236.3 135.9a2.05 2.05 0 1 0 4.1 0a2.05 2.05 0 1 0 -4.1 0M237.4 135.5a2.05 2.05 0 1 0 4.1 0a2.05 2.05 0 1 0 -4.1 0M238.6 135.6a2.05 2.05 0 1 0 4.1 0a2.05 2.05 0 1 0 -4.1 0M239.7 136.1a2.05 2.05 0 1 0 4.1 0a2.05 2.05 0 1 0 -4.1 0M240.8 135.9a2.05 2.05 0 1 0 4.1 0a2.05 2.05 0 1 0 -4.1 0M241.9 135.6a2.05 2.05 0 1 0 4.1 0a2.05 2.05 0 1 0 -4.1 0M243.0 136.8a2.05 2.05 0 1 0 4.1 0a2.05 2.05 0 1 0 -4.1 0M244.1 136.0a2.05 2.05 0 1 0 4.1 0a2.05 2.05 0 1 0 -4.1 0M245.2 135.9a2.05 2.05 0 1 0 4.1 0a2.05 2.05 0 1 0 -4.1 0M246.3 135.8a2.05 2.05 0 1 0 4.1 0a2.05 2.05 0 1 0 -4.1 0M247.4 136.4a2.05 2.05 0 1 0 4.1 0a2.05 2.05 0 1 0 -4.1 0M248.5 136.6a2.05 2.05 0 1 0 4.1 0a2.05 2.05 0 1 0 -4.1 0M249.7 136.3a2.05 2.05 0 1 0 4.1 0a2.05 2.05 0 1 0 -4.1 0M250.8 136.6a2.05 2.05 0 1 0 4.1 0a2.05 2.05 0 1 0 -4.1 0M251.9 135.7a2.05 2.05 0 1 0 4.1 0a2.05 2.05 0 1 0 -4.1 0M253.0 136.2a2.05 2.05 0 1 0 4.1 0a2.05 2.05 0 1 0 -4.1 0M254.1 136.1a2.05 2.05 0 1 0 4.1 0a2.05 2.05 0 1 0 -4.1 0M255.2 136.4a2.05 2.05 0 1 0 4.1 0a2.05 2.05 0 1 0 -4.1 0M256.3 136.6a2.05 2.05 0 1 0 4.1 0a2.05 2.05 0 1 0 -4.1 0M257.4 135.6a2.05 2.05 0 1 0 4.1 0a2.05 2.05 0 1 0 -4.1 0M258.5 137.7a2.05 2.05 0 1 0 4.1 0a2.05 2.05 0 1 0 -4.1 0M259.6 136.1a2.05 2.05 0 1 0 4.1 0a2.05 2.05 0 1 0 -4.1 0" fill="none" stroke="#1e3ce6" stroke-width="1.05"/>
<path d="M39.0 176.0a2.05 2.05 0 1 0 4.1 0a2.05 2.05 0 1 0 -4.1 0M40.1 176.2a2.05 2.05 0 1 0 4.1 0a2.05 2.05 0 1 0 -4.1 0M41.2 176.1a2.05 2.05 0 1 0 4.1 0a2.05 2.05 0 1 0 -4.1 0M42.3 175.7a2.05 2.05 0 1 0 4.1 0a2.05 2.05 0 1 0 -4.1 0M43.4 173.7a2.05 2.05 0 1 0 4.1 0a2.05 2.05 0 1 0 -4.1 0M44.5 174.6a2.05 2.05 0 1 0 4.1 0a2.05 2.05 0 1 0 -4.1 0M45.6 175.6a2.05 2.05 0 1 0 4.1 0a2.05 2.05 0 1 0 -4.1 0M46.7 174.5a2.05 2.05 0 1 0 4.1 0a2.05 2.05 0 1 0 -4.1 0M47.8 174.3a2.05 2.05 0 1 0 4.1 0a2.05 2.05 0 1 0 -4.1 0M48.9 173.4a2.05 2.05 0 1 0 4.1 0a2.05 2.05 0 1 0 -4.1 0M50.0 175.5a2.05 2.05 0 1 0 4.1 0a2.05 2.05 0 1 0 -4.1 0M51.2 174.9a2.05 2.05 0 1 0 4.1 0a2.05 2.05 0 1 0 -4.1 0M52.3 174.0a2.05 2.05 0 1 0 4.1 0a2.05 2.05 0 1 0 -4.1 0M53.4 174.3a2.05 2.05 0 1 0 4.1 0a2.05 2.05 0 1 0 -4.1 0M54.5 174.2a2.05 2.05 0 1 0 4.1 0a2.05 2.05 0 1 0 -4.1 0M55.6 173.5a2.05 2.05 0 1 0 4.1 0a2.05 2.05 0 1 0 -4.1 0M56.7 173.9a2.05 2.05 0 1 0 4.1 0a2.05 2.05 0 1 0 -4.1 0M57.8 174.1a2.05 2.05 0 1 0 4.1 0a2.05 2.05 0 1 0 -4.1 0M58.9 174.2a2.05 2.05 0 1 0 4.1 0a2.05 2.05 0 1 0 -4.1 0M60.0 174.5a2.05 2.05 0 1 0 4.1 0a2.05 2.05 0 1 0 -4.1 0M61.1 173.7a2.05 2.05 0 1 0 4.1 0a2.05 2.05 0 1 0 -4.1 0M62.3 173.3a2.05 2.05 0 1 0 4.1 0a2.05 2.05 0 1 0 -4.1 0M63.4 173.7a2.05 2.05 0 1 0 4.1 0a2.05 2.05 0 1 0 -4.1 0M64.5 172.9a2.05 2.05 0 1 0 4.1 0a2.05 2.05 0 1 0 -4.1 0M65.6 172.5a2.05 2.05 0 1 0 4.1 0a2.05 2.05 0 1 0 -4.1 0M66.7 173.8a2.05 2.05 0 1 0 4.1 0a2.05 2.05 0 1 0 -4.1 0M67.8 172.8a2.05 2.05 0 1 0 4.1 0a2.05 2.05 0 1 0 -4.1 0M68.9 173.0a2.05 2.05 0 1 0 4.1 0a2.05 2.05 0 1 0 -4.1 0M70.0 173.2a2.05 2.05 0 1 0 4.1 0a2.05 2.05 0 1 0 -4.1 0M71.1 172.0a2.05 2.05 0 1 0 4.1 0a2.05 2.05 0 1 0 -4.1 0M72.2 172.9a2.05 2.05 0 1 0 4.1 0a2.05 2.05 0 1 0 -4.1 0M73.4 172.7a2.05 2.05 0 1 0 4.1 0a2.05 2.05 0 1 0 -4.1 0M74.5 172.3a2.05 2.05 0 1 0 4.1 0a2.05 2.05 0 1 0 -4.1 0M75.6 172.5a2.05 2.05 0 1 0 4.1 0a2.05 2.05 0 1 0 -4.1 0M76.7 171.7a2.05 2.05 0 1 0 4.1 0a2.05 2.05 0 1 0 -4.1 0M77.8 170.7a2.05 2.05 0 1 0 4.1 0a2.05 2.05 0 1 0 -4.1 0M78.9 171.7a2.05 2.05 0 1 0 4.1 0a2.05 2.05 0 1 0 -4.1 0M80.0 171.3a2.05 2.05 0 1 0 4.1 0a2.05 2.05 0 1 0 -4.1 0M81.1 172.2a2.05 2.05 0 1 0 4.1 0a2.05 2.05 0 1 0 -4.1 0M82.2 171.7a2.05 2.05 0 1 0 4.1 0a2.05 2.05 0 1 0 -4.1 0M83.0 165.8a2.05 2.05 0 1 0 4.1 0a2.05 2.05 0 1 0 -4.1 0M84.1 161.9a2.05 2.05 0 1 0 4.1 0a2.05 2.05 0 1 0 -4.1 0M85.2 158.8a2.05 2.05 0 1 0 4.1 0a2.05 2.05 0 1 0 -4.1 0M86.3 155.6a2.05 2.05 0 1 0 4.1 0a2.05 2.05 0 1 0 -4.1 0M87.4 152.6a2.05 2.05 0 1 0 4.1 0a2.05 2.05 0 1 0 -4.1 0M88.5 150.3a2.05 2.05 0 1 0 4.1 0a2.05 2.05 0 1 0 -4.1 0M89.6 147.9a2.05 2.05 0 1 0 4.1 0a2.05 2.05 0 1 0 -4.1 0M90.7 146.3a2.05 2.05 0 1 0 4.1 0a2.05 2.05 0 1 0 -4.1 0M91.8 145.2a2.05 2.05 0 1 0 4.1 0a2.05 2.05 0 1 0 -4.1 0M92.9 143.7a2.05 2.05 0 1 0 4.1 0a2.05 2.05 0 1 0 -4.1 0M94.0 142.6a2.05 2.05 0 1 0 4.1 0a2.05 2.05 0 1 0 -4.1 0M95.2 140.8a2.05 2.05 0 1 0 4.1 0a2.05 2.05 0 1 0 -4.1 0M96.3 139.3a2.05 2.05 0 1 0 4.1 0a2.05 2.05 0 1 0 -4.1 0M97.4 138.0a2.05 2.05 0 1 0 4.1 0a2.05 2.05 0 1 0 -4.1 0M98.5 137.3a2.05 2.05 0 1 0 4.1 0a2.05 2.05 0 1 0 -4.1 0M99.6 136.9a2.05 2.05 0 1 0 4.1 0a2.05 2.05 0 1 0 -4.1 0M100.7 135.8a2.05 2.05 0 1 0 4.1 0a2.05 2.05 0 1 0 -4.1 0M101.8 134.0a2.05 2.05 0 1 0 4.1 0a2.05 2.05 0 1 0 -4.1 0M102.9 132.9a2.05 2.05 0 1 0 4.1 0a2.05 2.05 0 1 0 -4.1 0M104.0 132.9a2.05 2.05 0 1 0 4.1 0a2.05 2.05 0 1 0 -4.1 0M105.1 131.9a2.05 2.05 0 1 0 4.1 0a2.05 2.05 0 1 0 -4.1 0M106.3 130.3a2.05 2.05 0 1 0 4.1 0a2.05 2.05 0 1 0 -4.1 0M107.4 130.4a2.05 2.05 0 1 0 4.1 0a2.05 2.05 0 1 0 -4.1 0M108.5 129.1a2.05 2.05 0 1 0 4.1 0a2.05 2.05 0 1 0 -4.1 0M109.6 128.7a2.05 2.05 0 1 0 4.1 0a2.05 2.05 0 1 0 -4.1 0M110.7 127.4a2.05 2.05 0 1 0 4.1 0a2.05 2.05 0 1 0 -4.1 0M111.8 126.8a2.05 2.05 0 1 0 4.1 0a2.05 2.05 0 1 0 -4.1 0M112.9 125.7a2.05 2.05 0 1 0 4.1 0a2.05 2.05 0 1 0 -4.1 0M114.0 124.3a2.05 2.05 0 1 0 4.1 0a2.05 2.05 0 1 0 -4.1 0M115.1 123.7a2.05 2.05 0 1 0 4.1 0a2.05 2.05 0 1 0 -4.1 0M116.2 122.6a2.05 2.05 0 1 0 4.1 0a2.05 2.05 0 1 0 -4.1 0M117.4 122.4a2.05 2.05 0 1 0 4.1 0a2.05 2.05 0 1 0 -4.1 0M118.5 120.7a2.05 2.05 0 1 0 4.1 0a2.05 2.05 0 1 0 -4.1 0M119.6 119.7a2.05 2.05 0 1 0 4.1 0a2.05 2.05 0 1 0 -4.1 0M120.7 119.7a2.05 2.05 0 1 0 4.1 0a2.05 2.05 0 1 0 -4.1 0M121.8 119.0a2.05 2.05 0 1 0 4.1 0a2.05 2.05 0 1 0 -4.1 0M122.9 118.2a2.05 2.05 0 1 0 4.1 0a2.05 2.05 0 1 0 -4.1 0M124.0 117.2a2.05 2.05 0 1 0 4.1 0a2.05 2.05 0 1 0 -4.1 0M125.1 115.3a2.05 2.05 0 1 0 4.1 0a2.05 2.05 0 1 0 -4.1 0M126.2 114.7a2.05 2.05 0 1 0 4.1 0a2.05 2.05 0 1 0 -4.1 0M127.3 113.8a2.05 2.05 0 1 0 4.1 0a2.05 2.05 0 1 0 -4.1 0M128.5 113.1a2.05 2.05 0 1 0 4.1 0a2.05 2.05 0 1 0 -4.1 0M129.6 111.4a2.05 2.05 0 1 0 4.1 0a2.05 2.05 0 1 0 -4.1 0M130.7 111.3a2.05 2.05 0 1 0 4.1 0a2.05 2.05 0 1 0 -4.1 0M131.8 110.5a2.05 2.05 0 1 0 4.1 0a2.05 2.05 0 1 0 -4.1 0M132.9 109.1a2.05 2.05 0 1 0 4.1 0a2.05 2.05 0 1 0 -4.1 0M134.0 108.7a2.05 2.05 0 1 0 4.1 0a2.05 2.05 0 1 0 -4.1 0M135.1 108.2a2.05 2.05 0 1 0 4.1 0a2.05 2.05 0 1 0 -4.1 0M136.2 106.9a2.05 2.05 0 1 0 4.1 0a2.05 2.05 0 1 0 -4.1 0M137.3 106.4a2.05 2.05 0 1 0 4.1 0a2.05 2.05 0 1 0 -4.1 0M138.4 105.5a2.05 2.05 0 1 0 4.1 0a2.05 2.05 0 1 0 -4.1 0M139.6 104.4a2.05 2.05 0 1 0 4.1 0a2.05 2.05 0 1 0 -4.1 0M140.7 103.5a2.05 2.05 0 1 0 4.1 0a2.05 2.05 0 1 0 -4.1 0M141.8 102.3a2.05 2.05 0 1 0 4.1 0a2.05 2.05 0 1 0 -4.1 0M142.9 102.1a2.05 2.05 0 1 0 4.1 0a2.05 2.05 0 1 0 -4.1 0M144.0 100.4a2.05 2.05 0 1 0 4.1 0a2.05 2.05 0 1 0 -4.1 0M145.1 99.3a2.05 2.05 0 1 0 4.1 0a2.05 2.05 0 1 0 -4.1 0M146.2 98.8a2.05 2.05 0 1 0 4.1 0a2.05 2.05 0 1 0 -4.1 0M147.3 97.2a2.05 2.05 0 1 0 4.1 0a2.05 2.05 0 1 0 -4.1 0M148.4 96.6a2.05 2.05 0 1 0 4.1 0a2.05 2.05 0 1 0 -4.1 0M149.5 95.8a2.05 2.05 0 1 0 4.1 0a2.05 2.05 0 1 0 -4.1 0M150.7 94.4a2.05 2.05 0 1 0 4.1 0a2.05 2.05 0 1 0 -4.1 0M151.8 93.3a2.05 2.05 0 1 0 4.1 0a2.05 2.05 0 1 0 -4.1 0M152.9 92.6a2.05 2.05 0 1 0 4.1 0a2.05 2.05 0 1 0 -4.1 0M154.0 91.5a2.05 2.05 0 1 0 4.1 0a2.05 2.05 0 1 0 -4.1 0M155.1 89.6a2.05 2.05 0 1 0 4.1 0a2.05 2.05 0 1 0 -4.1 0M156.2 88.6a2.05 2.05 0 1 0 4.1 0a2.05 2.05 0 1 0 -4.1 0M157.3 88.6a2.05 2.05 0 1 0 4.1 0a2.05 2.05 0 1 0 -4.1 0M158.4 87.2a2.05 2.05 0 1 0 4.1 0a2.05 2.05 0 1 0 -4.1 0M159.5 85.1a2.05 2.05 0 1 0 4.1 0a2.05 2.05 0 1 0 -4.1 0M160.6 84.3a2.05 2.05 0 1 0 4.1 0a2.05 2.05 0 1 0 -4.1 0M161.8 83.7a2.05 2.05 0 1 0 4.1 0a2.05 2.05 0 1 0 -4.1 0M162.9 82.1a2.05 2.05 0 1 0 4.1 0a2.05 2.05 0 1 0 -4.1 0M164.0 81.5a2.05 2.05 0 1 0 4.1 0a2.05 2.05 0 1 0 -4.1 0M165.1 80.1a2.05 2.05 0 1 0 4.1 0a2.05 2.05 0 1 0 -4.1 0M166.2 79.0a2.05 2.05 0 1 0 4.1 0a2.05 2.05 0 1 0 -4.1 0M167.3 77.1a2.05 2.05 0 1 0 4.1 0a2.05 2.05 0 1 0 -4.1 0M168.4 76.6a2.05 2.05 0 1 0 4.1 0a2.05 2.05 0 1 0 -4.1 0M169.5 75.8a2.05 2.05 0 1 0 4.1 0a2.05 2.05 0 1 0 -4.1 0M170.6 73.4a2.05 2.05 0 1 0 4.1 0a2.05 2.05 0 1 0 -4.1 0M172.4 75.5a2.05 2.05 0 1 0 4.1 0a2.05 2.05 0 1 0 -4.1 0M173.6 81.8a2.05 2.05 0 1 0 4.1 0a2.05 2.05 0 1 0 -4.1 0M174.7 88.0a2.05 2.05 0 1 0 4.1 0a2.05 2.05 0 1 0 -4.1 0M175.8 89.6a2.05 2.05 0 1 0 4.1 0a2.05 2.05 0 1 0 -4.1 0M176.9 89.9a2.05 2.05 0 1 0 4.1 0a2.05 2.05 0 1 0 -4.1 0M178.0 90.7a2.05 2.05 0 1 0 4.1 0a2.05 2.05 0 1 0 -4.1 0M179.1 91.8a2.05 2.05 0 1 0 4.1 0a2.05 2.05 0 1 0 -4.1 0M180.2 92.2a2.05 2.05 0 1 0 4.1 0a2.05 2.05 0 1 0 -4.1 0M181.3 92.6a2.05 2.05 0 1 0 4.1 0a2.05 2.05 0 1 0 -4.1 0M182.4 92.8a2.05 2.05 0 1 0 4.1 0a2.05 2.05 0 1 0 -4.1 0M183.6 93.1a2.05 2.05 0 1 0 4.1 0a2.05 2.05 0 1 0 -4.1 0M184.7 93.1a2.05 2.05 0 1 0 4.1 0a2.05 2.05 0 1 0 -4.1 0M185.8 93.3a2.05 2.05 0 1 0 4.1 0a2.05 2.05 0 1 0 -4.1 0M186.9 94.4a2.05 2.05 0 1 0 4.1 0a2.05 2.05 0 1 0 -4.1 0M188.0 95.0a2.05 2.05 0 1 0 4.1 0a2.05 2.05 0 1 0 -4.1 0M189.1 95.4a2.05 2.05 0 1 0 4.1 0a2.05 2.05 0 1 0 -4.1 0M190.2 95.3a2.05 2.05 0 1 0 4.1 0a2.05 2.05 0 1 0 -4.1 0M191.3 96.1a2.05 2.05 0 1 0 4.1 0a2.05 2.05 0 1 0 -4.1 0M192.4 96.2a2.05 2.05 0 1 0 4.1 0a2.05 2.05 0 1 0 -4.1 0M193.5 97.2a2.05 2.05 0 1 0 4.1 0a2.05 2.05 0 1 0 -4.1 0M194.7 97.0a2.05 2.05 0 1 0 4.1 0a2.05 2.05 0 1 0 -4.1 0M195.8 97.6a2.05 2.05 0 1 0 4.1 0a2.05 2.05 0 1 0 -4.1 0M196.9 98.0a2.05 2.05 0 1 0 4.1 0a2.05 2.05 0 1 0 -4.1 0M198.0 98.2a2.05 2.05 0 1 0 4.1 0a2.05 2.05 0 1 0 -4.1 0M199.1 98.9a2.05 2.05 0 1 0 4.1 0a2.05 2.05 0 1 0 -4.1 0M200.2 98.2a2.05 2.05 0 1 0 4.1 0a2.05 2.05 0 1 0 -4.1 0M201.3 97.9a2.05 2.05 0 1 0 4.1 0a2.05 2.05 0 1 0 -4.1 0M202.4 99.4a2.05 2.05 0 1 0 4.1 0a2.05 2.05 0 1 0 -4.1 0M203.5 99.8a2.05 2.05 0 1 0 4.1 0a2.05 2.05 0 1 0 -4.1 0M204.6 100.0a2.05 2.05 0 1 0 4.1 0a2.05 2.05 0 1 0 -4.1 0M205.8 99.7a2.05 2.05 0 1 0 4.1 0a2.05 2.05 0 1 0 -4.1 0M206.9 100.0a2.05 2.05 0 1 0 4.1 0a2.05 2.05 0 1 0 -4.1 0M208.0 100.0a2.05 2.05 0 1 0 4.1 0a2.05 2.05 0 1 0 -4.1 0M209.1 99.6a2.05 2.05 0 1 0 4.1 0a2.05 2.05 0 1 0 -4.1 0M210.2 100.0a2.05 2.05 0 1 0 4.1 0a2.05 2.05 0 1 0 -4.1 0M211.3 100.6a2.05 2.05 0 1 0 4.1 0a2.05 2.05 0 1 0 -4.1 0M212.4 100.3a2.05 2.05 0 1 0 4.1 0a2.05 2.05 0 1 0 -4.1 0M213.5 101.4a2.05 2.05 0 1 0 4.1 0a2.05 2.05 0 1 0 -4.1 0M214.6 100.2a2.05 2.05 0 1 0 4.1 0a2.05 2.05 0 1 0 -4.1 0M215.7 100.8a2.05 2.05 0 1 0 4.1 0a2.05 2.05 0 1 0 -4.1 0M216.9 101.5a2.05 2.05 0 1 0 4.1 0a2.05 2.05 0 1 0 -4.1 0M218.0 101.0a2.05 2.05 0 1 0 4.1 0a2.05 2.05 0 1 0 -4.1 0M219.1 100.9a2.05 2.05 0 1 0 4.1 0a2.05 2.05 0 1 0 -4.1 0M220.2 101.0a2.05 2.05 0 1 0 4.1 0a2.05 2.05 0 1 0 -4.1 0M221.3 101.4a2.05 2.05 0 1 0 4.1 0a2.05 2.05 0 1 0 -4.1 0M222.4 102.4a2.05 2.05 0 1 0 4.1 0a2.05 2.05 0 1 0 -4.1 0M223.5 102.1a2.05 2.05 0 1 0 4.1 0a2.05 2.05 0 1 0 -4.1 0M224.6 102.3a2.05 2.05 0 1 0 4.1 0a2.05 2.05 0 1 0 -4.1 0M225.7 102.0a2.05 2.05 0 1 0 4.1 0a2.05 2.05 0 1 0 -4.1 0M226.8 102.7a2.05 2.05 0 1 0 4.1 0a2.05 2.05 0 1 0 -4.1 0M228.0 102.6a2.05 2.05 0 1 0 4.1 0a2.05 2.05 0 1 0 -4.1 0M229.1 102.3a2.05 2.05 0 1 0 4.1 0a2.05 2.05 0 1 0 -4.1 0M230.2 102.6a2.05 2.05 0 1 0 4.1 0a2.05 2.05 0 1 0 -4.1 0M231.3 103.1a2.05 2.05 0 1 0 4.1 0a2.05 2.05 0 1 0 -4.1 0M232.4 103.6a2.05 2.05 0 1 0 4.1 0a2.05 2.05 0 1 0 -4.1 0M233.5 103.2a2.05 2.05 0 1 0 4.1 0a2.05 2.05 0 1 0 -4.1 0M234.6 103.6a2.05 2.05 0 1 0 4.1 0a2.05 2.05 0 1 0 -4.1 0M235.7 104.4a2.05 2.05 0 1 0 4.1 0a2.05 2.05 0 1 0 -4.1 0M236.8 103.4a2.05 2.05 0 1 0 4.1 0a2.05 2.05 0 1 0 -4.1 0M237.9 103.4a2.05 2.05 0 1 0 4.1 0a2.05 2.05 0 1 0 -4.1 0M239.1 104.4a2.05 2.05 0 1 0 4.1 0a2.05 2.05 0 1 0 -4.1 0M240.2 104.3a2.05 2.05 0 1 0 4.1 0a2.05 2.05 0 1 0 -4.1 0M241.3 104.2a2.05 2.05 0 1 0 4.1 0a2.05 2.05 0 1 0 -4.1 0M242.4 104.5a2.05 2.05 0 1 0 4.1 0a2.05 2.05 0 1 0 -4.1 0M243.5 104.4a2.05 2.05 0 1 0 4.1 0a2.05 2.05 0 1 0 -4.1 0M244.6 104.9a2.05 2.05 0 1 0 4.1 0a2.05 2.05 0 1 0 -4.1 0M245.7 104.7a2.05 2.05 0 1 0 4.1 0a2.05 2.05 0 1 0 -4.1 0M246.8 105.3a2.05 2.05 0 1 0 4.1 0a2.05 2.05 0 1 0 -4.1 0M247.9 104.7a2.05 2.05 0 1 0 4.1 0a2.05 2.05 0 1 0 -4.1 0M249.0 104.9a2.05 2.05 0 1 0 4.1 0a2.05 2.05 0 1 0 -4.1 0M250.2 105.4a2.05 2.05 0 1 0 4.1 0a2.05 2.05 0 1 0 -4.1 0M251.3 105.3a2.05 2.05 0 1 0 4.1 0a2.05 2.05 0 1 0 -4.1 0M252.4 105.9a2.05 2.05 0 1 0 4.1 0a2.05 2.05 0 1 0 -4.1 0M253.5 105.8a2.05 2.05 0 1 0 4.1 0a2.05 2.05 0 1 0 -4.1 0M254.6 105.7a2.05 2.05 0 1 0 4.1 0a2.05 2.05 0 1 0 -4.1 0M255.7 106.1a2.05 2.05 0 1 0 4.1 0a2.05 2.05 0 1 0 -4.1 0M256.8 106.0a2.05 2.05 0 1 0 4.1 0a2.05 2.05 0 1 0 -4.1 0M257.9 105.7a2.05 2.05 0 1 0 4.1 0a2.05 2.05 0 1 0 -4.1 0M259.0 106.0a2.05 2.05 0 1 0 4.1 0a2.05 2.05 0 1 0 -4.1 0" fill="none" stroke="#1e3ce6" stroke-width="1.05"/>
<path d="M39.0 169.9h4.1v4.1h-4.1zM40.1 170.0h4.1v4.1h-4.1zM41.2 170.3h4.1v4.1h-4.1zM42.3 170.7h4.1v4.1h-4.1zM43.4 170.4h4.1v4.1h-4.1zM44.5 171.1h4.1v4.1h-4.1zM45.6 170.7h4.1v4.1h-4.1zM46.7 169.7h4.1v4.1h-4.1zM47.8 170.8h4.1v4.1h-4.1zM48.9 170.4h4.1v4.1h-4.1zM50.0 169.3h4.1v4.1h-4.1zM51.2 169.7h4.1v4.1h-4.1zM52.3 170.1h4.1v4.1h-4.1zM53.4 169.5h4.1v4.1h-4.1zM54.5 169.9h4.1v4.1h-4.1zM55.6 169.5h4.1v4.1h-4.1zM56.7 169.6h4.1v4.1h-4.1zM57.8 168.9h4.1v4.1h-4.1zM58.9 169.2h4.1v4.1h-4.1zM60.0 168.7h4.1v4.1h-4.1zM61.1 169.3h4.1v4.1h-4.1zM62.3 167.8h4.1v4.1h-4.1zM63.4 168.9h4.1v4.1h-4.1zM64.5 169.4h4.1v4.1h-4.1zM65.6 168.9h4.1v4.1h-4.1zM66.7 168.5h4.1v4.1h-4.1zM67.8 168.7h4.1v4.1h-4.1zM68.9 167.8h4.1v4.1h-4.1zM70.0 167.8h4.1v4.1h-4.1zM71.1 168.0h4.1v4.1h-4.1zM72.2 168.0h4.1v4.1h-4.1zM73.4 168.6h4.1v4.1h-4.1zM74.5 167.4h4.1v4.1h-4.1zM75.6 168.5h4.1v4.1h-4.1zM76.7 166.9h4.1v4.1h-4.1zM77.8 167.3h4.1v4.1h-4.1zM78.9 167.6h4.1v4.1h-4.1zM80.0 168.3h4.1v4.1h-4.1zM81.1 167.1h4.1v4.1h-4.1zM82.2 166.1h4.1v4.1h-4.1zM83.0 166.1h4.1v4.1h-4.1zM84.1 155.2h4.1v4.1h-4.1zM85.2 146.0h4.1v4.1h-4.1zM86.3 138.7h4.1v4.1h-4.1zM87.4 132.5h4.1v4.1h-4.1zM88.5 127.5h4.1v4.1h-4.1zM89.6 123.1h4.1v4.1h-4.1zM90.7 118.1h4.1v4.1h-4.1zM91.8 115.5h4.1v4.1h-4.1zM92.9 110.7h4.1v4.1h-4.1zM94.0 106.8h4.1v4.1h-4.1zM95.2 103.5h4.1v4.1h-4.1zM96.3 99.6h4.1v4.1h-4.1zM97.4 96.8h4.1v4.1h-4.1zM98.5 92.5h4.1v4.1h-4.1zM99.6 88.0h4.1v4.1h-4.1zM100.7 84.0h4.1v4.1h-4.1zM101.8 80.2h4.1v4.1h-4.1zM102.9 76.7h4.1v4.1h-4.1zM104.0 73.6h4.1v4.1h-4.1zM105.1 69.8h4.1v4.1h-4.1zM106.3 67.9h4.1v4.1h-4.1zM107.4 64.7h4.1v4.1h-4.1zM108.5 62.4h4.1v4.1h-4.1zM109.6 60.8h4.1v4.1h-4.1zM110.7 57.6h4.1v4.1h-4.1zM111.8 56.1h4.1v4.1h-4.1zM112.9 55.0h4.1v4.1h-4.1zM114.0 53.0h4.1v4.1h-4.1zM115.1 51.4h4.1v4.1h-4.1zM116.2 49.9h4.1v4.1h-4.1zM117.4 48.0h4.1v4.1h-4.1zM118.5 46.7h4.1v4.1h-4.1zM119.6 44.8h4.1v4.1h-4.1zM120.7 43.3h4.1v4.1h-4.1zM121.8 43.2h4.1v4.1h-4.1zM122.9 41.1h4.1v4.1h-4.1zM124.0 39.9h4.1v4.1h-4.1zM125.1 39.5h4.1v4.1h-4.1zM126.2 38.1h4.1v4.1h-4.1zM127.3 36.1h4.1v4.1h-4.1zM128.5 34.8h4.1v4.1h-4.1zM129.6 33.7h4.1v4.1h-4.1zM130.7 32.1h4.1v4.1h-4.1zM131.8 31.4h4.1v4.1h-4.1zM132.9 30.0h4.1v4.1h-4.1zM134.0 28.9h4.1v4.1h-4.1zM135.1 28.0h4.1v4.1h-4.1zM136.2 27.0h4.1v4.1h-4.1zM137.3 26.5h4.1v4.1h-4.1zM138.4 25.4h4.1v4.1h-4.1zM139.6 23.2h4.1v4.1h-4.1zM140.7 23.4h4.1v4.1h-4.1zM141.8 21.8h4.1v4.1h-4.1zM142.9 20.9h4.1v4.1h-4.1zM144.0 21.0h4.1v4.1h-4.1zM145.1 19.7h4.1v4.1h-4.1zM146.2 19.2h4.1v4.1h-4.1zM147.3 19.1h4.1v4.1h-4.1zM148.4 17.8h4.1v4.1h-4.1zM149.5 17.1h4.1v4.1h-4.1zM150.7 17.0h4.1v4.1h-4.1zM151.8 16.8h4.1v4.1h-4.1zM152.9 15.9h4.1v4.1h-4.1zM154.0 14.6h4.1v4.1h-4.1zM155.1 14.4h4.1v4.1h-4.1zM156.2 14.2h4.1v4.1h-4.1zM157.3 14.5h4.1v4.1h-4.1zM158.4 13.6h4.1v4.1h-4.1zM159.5 13.1h4.1v4.1h-4.1zM160.6 12.8h4.1v4.1h-4.1zM161.8 11.8h4.1v4.1h-4.1zM162.9 11.7h4.1v4.1h-4.1zM164.0 11.3h4.1v4.1h-4.1zM165.1 10.3h4.1v4.1h-4.1zM166.2 10.3h4.1v4.1h-4.1zM167.3 10.1h4.1v4.1h-4.1zM168.4 9.1h4.1v4.1h-4.1zM169.5 9.5h4.1v4.1h-4.1zM170.6 9.2h4.1v4.1h-4.1zM172.4 11.4h4.1v4.1h-4.1zM174.3 18.1h4.1v4.1h-4.1zM176.2 26.5h4.1v4.1h-4.1zM178.2 31.1h4.1v4.1h-4.1zM180.1 32.9h4.1v4.1h-4.1zM182.0 33.8h4.1v4.1h-4.1zM183.9 35.5h4.1v4.1h-4.1zM185.8 37.2h4.1v4.1h-4.1zM187.7 37.8h4.1v4.1h-4.1zM189.6 38.9h4.1v4.1h-4.1zM191.5 40.6h4.1v4.1h-4.1zM193.4 40.4h4.1v4.1h-4.1zM195.3 41.0h4.1v4.1h-4.1zM197.2 41.2h4.1v4.1h-4.1zM199.1 41.7h4.1v4.1h-4.1zM201.0 42.8h4.1v4.1h-4.1zM202.9 42.4h4.1v4.1h-4.1zM204.8 42.2h4.1v4.1h-4.1zM206.7 42.5h4.1v4.1h-4.1zM208.6 43.0h4.1v4.1h-4.1zM210.5 43.5h4.1v4.1h-4.1zM212.4 43.1h4.1v4.1h-4.1zM214.3 43.9h4.1v4.1h-4.1zM216.2 43.6h4.1v4.1h-4.1zM218.1 44.1h4.1v4.1h-4.1zM220.0 44.4h4.1v4.1h-4.1zM221.9 44.6h4.1v4.1h-4.1zM223.8 44.4h4.1v4.1h-4.1zM225.7 44.6h4.1v4.1h-4.1zM227.6 45.1h4.1v4.1h-4.1zM229.5 44.6h4.1v4.1h-4.1zM231.4 45.3h4.1v4.1h-4.1zM233.3 45.6h4.1v4.1h-4.1zM235.2 46.0h4.1v4.1h-4.1zM237.1 45.8h4.1v4.1h-4.1zM239.0 45.9h4.1v4.1h-4.1zM240.9 46.2h4.1v4.1h-4.1zM242.8 46.0h4.1v4.1h-4.1zM244.7 46.3h4.1v4.1h-4.1zM246.6 46.7h4.1v4.1h-4.1zM248.5 46.8h4.1v4.1h-4.1zM250.4 46.4h4.1v4.1h-4.1zM252.3 46.9h4.1v4.1h-4.1zM254.2 46.3h4.1v4.1h-4.1zM256.1 47.6h4.1v4.1h-4.1zM258.0 47.2h4.1v4.1h-4.1zM259.9 47.6h4.1v4.1h-4.1z" fill="none" stroke="#e60000" stroke-width="1.05"/>
<path d="M39.0 167.1h4.1v4.1h-4.1zM40.1 167.7h4.1v4.1h-4.1zM41.2 167.9h4.1v4.1h-4.1zM42.3 168.2h4.1v4.1h-4.1zM43.4 166.8h4.1v4.1h-4.1zM44.5 168.0h4.1v4.1h-4.1zM45.6 167.4h4.1v4.1h-4.1zM46.7 167.0h4.1v4.1h-4.1zM47.8 167.7h4.1v4.1h-4.1zM48.9 167.2h4.1v4.1h-4.1zM50.0 167.2h4.1v4.1h-4.1zM51.2 166.9h4.1v4.1h-4.1zM52.3 167.4h4.1v4.1h-4.1zM53.4 167.2h4.1v4.1h-4.1zM54.5 167.1h4.1v4.1h-4.1zM55.6 166.6h4.1v4.1h-4.1zM56.7 166.8h4.1v4.1h-4.1zM57.8 167.3h4.1v4.1h-4.1zM58.9 167.8h4.1v4.1h-4.1zM60.0 167.0h4.1v4.1h-4.1zM61.1 167.8h4.1v4.1h-4.1zM62.3 166.9h4.1v4.1h-4.1zM63.4 166.2h4.1v4.1h-4.1zM64.5 167.2h4.1v4.1h-4.1zM65.6 166.2h4.1v4.1h-4.1zM66.7 167.0h4.1v4.1h-4.1zM67.8 167.3h4.1v4.1h-4.1zM68.9 166.5h4.1v4.1h-4.1zM70.0 166.6h4.1v4.1h-4.1zM71.1 168.0h4.1v4.1h-4.1zM72.2 166.7h4.1v4.1h-4.1zM73.4 166.6h4.1v4.1h-4.1zM74.5 166.9h4.1v4.1h-4.1zM75.6 166.3h4.1v4.1h-4.1zM76.7 166.3h4.1v4.1h-4.1zM77.8 166.6h4.1v4.1h-4.1zM78.9 164.9h4.1v4.1h-4.1zM80.0 167.1h4.1v4.1h-4.1zM81.1 165.6h4.1v4.1h-4.1zM82.2 165.5h4.1v4.1h-4.1zM83.0 166.2h4.1v4.1h-4.1zM84.1 156.5h4.1v4.1h-4.1zM85.2 147.6h4.1v4.1h-4.1zM86.3 141.0h4.1v4.1h-4.1zM87.4 134.4h4.1v4.1h-4.1zM88.5 129.1h4.1v4.1h-4.1zM89.6 123.8h4.1v4.1h-4.1zM90.7 119.5h4.1v4.1h-4.1zM91.8 115.7h4.1v4.1h-4.1zM92.9 111.6h4.1v4.1h-4.1zM94.0 108.0h4.1v4.1h-4.1zM95.2 104.7h4.1v4.1h-4.1zM96.3 100.9h4.1v4.1h-4.1zM97.4 97.4h4.1v4.1h-4.1zM98.5 94.6h4.1v4.1h-4.1zM99.6 92.5h4.1v4.1h-4.1zM100.7 89.1h4.1v4.1h-4.1zM101.8 86.7h4.1v4.1h-4.1zM102.9 84.2h4.1v4.1h-4.1zM104.0 82.0h4.1v4.1h-4.1zM105.1 79.8h4.1v4.1h-4.1zM106.3 77.3h4.1v4.1h-4.1zM107.4 74.9h4.1v4.1h-4.1zM108.5 72.4h4.1v4.1h-4.1zM109.6 70.1h4.1v4.1h-4.1zM110.7 68.4h4.1v4.1h-4.1zM111.8 66.5h4.1v4.1h-4.1zM112.9 64.6h4.1v4.1h-4.1zM114.0 62.3h4.1v4.1h-4.1zM115.1 60.0h4.1v4.1h-4.1zM116.2 58.8h4.1v4.1h-4.1zM117.4 57.1h4.1v4.1h-4.1zM118.5 54.6h4.1v4.1h-4.1zM119.6 53.9h4.1v4.1h-4.1zM120.7 52.3h4.1v4.1h-4.1zM121.8 51.2h4.1v4.1h-4.1zM122.9 48.7h4.1v4.1h-4.1zM124.0 47.4h4.1v4.1h-4.1zM125.1 46.9h4.1v4.1h-4.1zM126.2 44.7h4.1v4.1h-4.1zM127.3 44.1h4.1v4.1h-4.1zM128.5 42.8h4.1v4.1h-4.1zM129.6 41.8h4.1v4.1h-4.1zM130.7 40.4h4.1v4.1h-4.1zM131.8 40.1h4.1v4.1h-4.1zM132.9 39.5h4.1v4.1h-4.1zM134.0 38.3h4.1v4.1h-4.1zM135.1 37.4h4.1v4.1h-4.1zM136.2 36.1h4.1v4.1h-4.1zM137.3 36.0h4.1v4.1h-4.1zM138.4 34.8h4.1v4.1h-4.1zM139.6 34.3h4.1v4.1h-4.1zM140.7 32.5h4.1v4.1h-4.1zM141.8 32.6h4.1v4.1h-4.1zM142.9 31.4h4.1v4.1h-4.1zM144.0 31.3h4.1v4.1h-4.1zM145.1 30.6h4.1v4.1h-4.1zM146.2 29.5h4.1v4.1h-4.1zM147.3 29.4h4.1v4.1h-4.1zM148.4 29.1h4.1v4.1h-4.1zM149.5 28.2h4.1v4.1h-4.1zM150.7 27.6h4.1v4.1h-4.1zM151.8 26.4h4.1v4.1h-4.1zM152.9 25.9h4.1v4.1h-4.1zM154.0 25.1h4.1v4.1h-4.1zM155.1 25.0h4.1v4.1h-4.1zM156.2 24.8h4.1v4.1h-4.1zM157.3 23.9h4.1v4.1h-4.1zM158.4 23.2h4.1v4.1h-4.1zM159.5 22.2h4.1v4.1h-4.1zM160.6 22.3h4.1v4.1h-4.1zM161.8 21.5h4.1v4.1h-4.1zM162.9 20.3h4.1v4.1h-4.1zM164.0 19.8h4.1v4.1h-4.1zM165.1 19.9h4.1v4.1h-4.1zM166.2 19.1h4.1v4.1h-4.1zM167.3 19.7h4.1v4.1h-4.1zM168.4 18.5h4.1v4.1h-4.1zM169.5 17.6h4.1v4.1h-4.1zM170.6 17.4h4.1v4.1h-4.1zM172.4 20.6h4.1v4.1h-4.1zM173.6 25.6h4.1v4.1h-4.1zM174.7 30.9h4.1v4.1h-4.1zM175.8 34.5h4.1v4.1h-4.1zM176.9 38.3h4.1v4.1h-4.1zM178.0 40.2h4.1v4.1h-4.1zM179.1 41.1h4.1v4.1h-4.1zM180.2 42.4h4.1v4.1h-4.1zM181.3 43.0h4.1v4.1h-4.1zM182.4 44.0h4.1v4.1h-4.1zM183.6 44.3h4.1v4.1h-4.1zM184.7 45.7h4.1v4.1h-4.1zM185.8 45.5h4.1v4.1h-4.1zM186.9 46.3h4.1v4.1h-4.1zM188.0 46.3h4.1v4.1h-4.1zM189.1 47.1h4.1v4.1h-4.1zM190.2 47.6h4.1v4.1h-4.1zM191.3 48.1h4.1v4.1h-4.1zM192.4 48.9h4.1v4.1h-4.1zM193.5 48.8h4.1v4.1h-4.1zM194.7 49.1h4.1v4.1h-4.1zM195.8 50.3h4.1v4.1h-4.1zM196.9 50.1h4.1v4.1h-4.1zM198.0 50.2h4.1v4.1h-4.1zM199.1 51.1h4.1v4.1h-4.1zM200.2 51.2h4.1v4.1h-4.1zM201.3 50.0h4.1v4.1h-4.1zM202.4 51.1h4.1v4.1h-4.1zM203.5 51.7h4.1v4.1h-4.1zM204.6 51.9h4.1v4.1h-4.1zM205.8 51.5h4.1v4.1h-4.1zM206.9 52.4h4.1v4.1h-4.1zM208.0 51.6h4.1v4.1h-4.1zM209.1 52.0h4.1v4.1h-4.1zM210.2 52.2h4.1v4.1h-4.1zM211.3 52.3h4.1v4.1h-4.1zM212.4 52.7h4.1v4.1h-4.1zM213.5 52.9h4.1v4.1h-4.1zM214.6 52.6h4.1v4.1h-4.1zM215.7 53.3h4.1v4.1h-4.1zM216.9 52.6h4.1v4.1h-4.1zM218.0 52.9h4.1v4.1h-4.1zM219.1 53.8h4.1v4.1h-4.1zM220.2 53.2h4.1v4.1h-4.1zM221.3 53.7h4.1v4.1h-4.1zM222.4 53.3h4.1v4.1h-4.1zM223.5 53.4h4.1v4.1h-4.1zM224.6 53.6h4.1v4.1h-4.1zM225.7 53.8h4.1v4.1h-4.1zM226.8 53.8h4.1v4.1h-4.1zM228.0 54.0h4.1v4.1h-4.1zM229.1 54.4h4.1v4.1h-4.1zM230.2 54.7h4.1v4.1h-4.1zM231.3 54.4h4.1v4.1h-4.1zM232.4 54.7h4.1v4.1h-4.1zM233.5 54.9h4.1v4.1h-4.1zM234.6 54.2h4.1v4.1h-4.1zM235.7 54.1h4.1v4.1h-4.1zM236.8 55.5h4.1v4.1h-4.1zM237.9 55.5h4.1v4.1h-4.1zM239.1 55.1h4.1v4.1h-4.1zM240.2 55.3h4.1v4.1h-4.1zM241.3 54.9h4.1v4.1h-4.1zM242.4 54.8h4.1v4.1h-4.1zM243.5 55.6h4.1v4.1h-4.1zM244.6 55.0h4.1v4.1h-4.1zM245.7 56.1h4.1v4.1h-4.1zM246.8 55.5h4.1v4.1h-4.1zM247.9 56.0h4.1v4.1h-4.1zM249.0 56.8h4.1v4.1h-4.1zM250.2 56.8h4.1v4.1h-4.1zM251.3 56.1h4.1v4.1h-4.1zM252.4 56.7h4.1v4.1h-4.1zM253.5 56.0h4.1v4.1h-4.1zM254.6 56.3h4.1v4.1h-4.1zM255.7 56.7h4.1v4.1h-4.1zM256.8 57.2h4.1v4.1h-4.1zM257.9 56.6h4.1v4.1h-4.1zM259.0 57.1h4.1v4.1h-4.1z" fill="none" stroke="#b4d200" stroke-width="1.05"/>
<path d="M39.0 172.2h4.1v4.1h-4.1zM40.1 171.3h4.1v4.1h-4.1zM41.2 171.9h4.1v4.1h-4.1zM42.3 172.8h4.1v4.1h-4.1zM43.4 171.8h4.1v4.1h-4.1zM44.5 172.0h4.1v4.1h-4.1zM45.6 172.1h4.1v4.1h-4.1zM46.7 171.1h4.1v4.1h-4.1zM47.8 172.2h4.1v4.1h-4.1zM48.9 172.3h4.1v4.1h-4.1zM50.0 172.3h4.1v4.1h-4.1zM51.2 172.0h4.1v4.1h-4.1zM52.3 170.9h4.1v4.1h-4.1zM53.4 170.7h4.1v4.1h-4.1zM54.5 170.5h4.1v4.1h-4.1zM55.6 170.3h4.1v4.1h-4.1zM56.7 170.3h4.1v4.1h-4.1zM57.8 171.3h4.1v4.1h-4.1zM58.9 171.5h4.1v4.1h-4.1zM60.0 170.2h4.1v4.1h-4.1zM61.1 170.9h4.1v4.1h-4.1zM62.3 169.6h4.1v4.1h-4.1zM63.4 170.1h4.1v4.1h-4.1zM64.5 169.6h4.1v4.1h-4.1zM65.6 169.1h4.1v4.1h-4.1zM66.7 170.0h4.1v4.1h-4.1zM67.8 170.0h4.1v4.1h-4.1zM68.9 169.6h4.1v4.1h-4.1zM70.0 169.4h4.1v4.1h-4.1zM71.1 169.1h4.1v4.1h-4.1zM72.2 169.5h4.1v4.1h-4.1zM73.4 169.1h4.1v4.1h-4.1zM74.5 169.6h4.1v4.1h-4.1zM75.6 168.6h4.1v4.1h-4.1zM76.7 169.4h4.1v4.1h-4.1zM77.8 169.5h4.1v4.1h-4.1zM78.9 169.8h4.1v4.1h-4.1zM80.0 169.6h4.1v4.1h-4.1zM81.1 169.0h4.1v4.1h-4.1zM82.2 168.4h4.1v4.1h-4.1zM83.0 165.2h4.1v4.1h-4.1zM84.1 158.8h4.1v4.1h-4.1zM85.2 152.8h4.1v4.1h-4.1zM86.3 146.9h4.1v4.1h-4.1zM87.4 139.9h4.1v4.1h-4.1zM88.5 135.6h4.1v4.1h-4.1zM89.6 131.2h4.1v4.1h-4.1zM90.7 126.6h4.1v4.1h-4.1zM91.8 123.0h4.1v4.1h-4.1zM92.9 119.2h4.1v4.1h-4.1zM94.0 115.4h4.1v4.1h-4.1zM95.2 112.5h4.1v4.1h-4.1zM96.3 108.9h4.1v4.1h-4.1zM97.4 106.2h4.1v4.1h-4.1zM98.5 102.8h4.1v4.1h-4.1zM99.6 99.5h4.1v4.1h-4.1zM100.7 95.0h4.1v4.1h-4.1zM101.8 92.3h4.1v4.1h-4.1zM102.9 89.7h4.1v4.1h-4.1zM104.0 86.4h4.1v4.1h-4.1zM105.1 83.7h4.1v4.1h-4.1zM106.3 80.0h4.1v4.1h-4.1zM107.4 77.2h4.1v4.1h-4.1zM108.5 74.3h4.1v4.1h-4.1zM109.6 72.0h4.1v4.1h-4.1zM110.7 69.0h4.1v4.1h-4.1zM111.8 67.5h4.1v4.1h-4.1zM112.9 65.4h4.1v4.1h-4.1zM114.0 64.0h4.1v4.1h-4.1zM115.1 63.3h4.1v4.1h-4.1zM116.2 61.8h4.1v4.1h-4.1zM117.4 61.0h4.1v4.1h-4.1zM118.5 59.7h4.1v4.1h-4.1zM119.6 59.2h4.1v4.1h-4.1zM120.7 58.3h4.1v4.1h-4.1zM121.8 56.1h4.1v4.1h-4.1zM122.9 56.3h4.1v4.1h-4.1zM124.0 54.9h4.1v4.1h-4.1zM125.1 54.1h4.1v4.1h-4.1zM126.2 53.1h4.1v4.1h-4.1zM127.3 52.6h4.1v4.1h-4.1zM128.5 51.2h4.1v4.1h-4.1zM129.6 50.7h4.1v4.1h-4.1zM130.7 50.0h4.1v4.1h-4.1zM131.8 49.8h4.1v4.1h-4.1zM132.9 49.5h4.1v4.1h-4.1zM134.0 48.8h4.1v4.1h-4.1zM135.1 48.1h4.1v4.1h-4.1zM136.2 47.1h4.1v4.1h-4.1zM137.3 46.1h4.1v4.1h-4.1zM138.4 46.4h4.1v4.1h-4.1zM139.6 45.7h4.1v4.1h-4.1zM140.7 45.2h4.1v4.1h-4.1zM141.8 45.0h4.1v4.1h-4.1zM142.9 43.8h4.1v4.1h-4.1zM144.0 43.3h4.1v4.1h-4.1zM145.1 41.9h4.1v4.1h-4.1zM146.2 42.5h4.1v4.1h-4.1zM147.3 41.7h4.1v4.1h-4.1zM148.4 41.0h4.1v4.1h-4.1zM149.5 40.9h4.1v4.1h-4.1zM150.7 39.9h4.1v4.1h-4.1zM151.8 39.6h4.1v4.1h-4.1zM152.9 40.2h4.1v4.1h-4.1zM154.0 39.3h4.1v4.1h-4.1zM155.1 38.9h4.1v4.1h-4.1zM156.2 38.4h4.1v4.1h-4.1zM157.3 38.0h4.1v4.1h-4.1zM158.4 37.4h4.1v4.1h-4.1zM159.5 37.8h4.1v4.1h-4.1zM160.6 36.4h4.1v4.1h-4.1zM161.8 36.3h4.1v4.1h-4.1zM162.9 35.5h4.1v4.1h-4.1zM164.0 35.0h4.1v4.1h-4.1zM165.1 33.7h4.1v4.1h-4.1zM166.2 33.5h4.1v4.1h-4.1zM167.3 34.5h4.1v4.1h-4.1zM168.4 34.0h4.1v4.1h-4.1zM169.5 32.8h4.1v4.1h-4.1zM170.6 32.6h4.1v4.1h-4.1zM172.4 36.2h4.1v4.1h-4.1zM173.6 41.3h4.1v4.1h-4.1zM174.7 45.3h4.1v4.1h-4.1zM175.8 45.9h4.1v4.1h-4.1zM176.9 46.7h4.1v4.1h-4.1zM178.0 46.4h4.1v4.1h-4.1zM179.1 48.7h4.1v4.1h-4.1zM180.2 48.9h4.1v4.1h-4.1zM181.3 50.3h4.1v4.1h-4.1zM182.4 50.0h4.1v4.1h-4.1zM183.6 51.3h4.1v4.1h-4.1zM184.7 52.0h4.1v4.1h-4.1zM185.8 52.8h4.1v4.1h-4.1zM186.9 54.2h4.1v4.1h-4.1zM188.0 54.9h4.1v4.1h-4.1zM189.1 55.1h4.1v4.1h-4.1zM190.2 55.0h4.1v4.1h-4.1zM191.3 56.1h4.1v4.1h-4.1zM192.4 56.8h4.1v4.1h-4.1zM193.5 57.1h4.1v4.1h-4.1zM194.7 57.5h4.1v4.1h-4.1zM195.8 57.9h4.1v4.1h-4.1zM196.9 57.7h4.1v4.1h-4.1zM198.0 58.4h4.1v4.1h-4.1zM199.1 59.1h4.1v4.1h-4.1zM200.2 58.2h4.1v4.1h-4.1zM201.3 58.8h4.1v4.1h-4.1zM202.4 59.2h4.1v4.1h-4.1zM203.5 58.5h4.1v4.1h-4.1zM204.6 59.1h4.1v4.1h-4.1zM205.8 58.6h4.1v4.1h-4.1zM206.9 59.2h4.1v4.1h-4.1zM208.0 58.9h4.1v4.1h-4.1zM209.1 59.3h4.1v4.1h-4.1zM210.2 59.5h4.1v4.1h-4.1zM211.3 59.7h4.1v4.1h-4.1zM212.4 59.8h4.1v4.1h-4.1zM213.5 59.0h4.1v4.1h-4.1zM214.6 60.7h4.1v4.1h-4.1zM215.7 60.0h4.1v4.1h-4.1zM216.9 59.8h4.1v4.1h-4.1zM218.0 60.0h4.1v4.1h-4.1zM219.1 60.5h4.1v4.1h-4.1zM220.2 60.0h4.1v4.1h-4.1zM221.3 60.3h4.1v4.1h-4.1zM222.4 60.4h4.1v4.1h-4.1zM223.5 60.8h4.1v4.1h-4.1zM224.6 60.4h4.1v4.1h-4.1zM225.7 60.9h4.1v4.1h-4.1zM226.8 60.9h4.1v4.1h-4.1zM228.0 60.8h4.1v4.1h-4.1zM229.1 61.4h4.1v4.1h-4.1zM230.2 61.0h4.1v4.1h-4.1zM231.3 60.6h4.1v4.1h-4.1zM232.4 61.2h4.1v4.1h-4.1zM233.5 61.2h4.1v4.1h-4.1zM234.6 61.2h4.1v4.1h-4.1zM235.7 61.4h4.1v4.1h-4.1zM236.8 62.3h4.1v4.1h-4.1zM237.9 61.5h4.1v4.1h-4.1zM239.1 61.7h4.1v4.1h-4.1zM240.2 61.5h4.1v4.1h-4.1zM241.3 62.2h4.1v4.1h-4.1zM242.4 61.7h4.1v4.1h-4.1zM243.5 61.5h4.1v4.1h-4.1zM244.6 61.4h4.1v4.1h-4.1zM245.7 62.2h4.1v4.1h-4.1zM246.8 62.3h4.1v4.1h-4.1zM247.9 61.4h4.1v4.1h-4.1zM249.0 61.9h4.1v4.1h-4.1zM250.2 62.5h4.1v4.1h-4.1zM251.3 62.7h4.1v4.1h-4.1zM252.4 61.8h4.1v4.1h-4.1zM253.5 62.2h4.1v4.1h-4.1zM254.6 62.8h4.1v4.1h-4.1zM255.7 62.3h4.1v4.1h-4.1zM256.8 62.4h4.1v4.1h-4.1zM257.9 62.4h4.1v4.1h-4.1zM259.0 62.2h4.1v4.1h-4.1z" fill="none" stroke="#3ee6a8" stroke-width="1.05"/>
<path d="M39.0 169.0h4.1v4.1h-4.1zM40.1 169.1h4.1v4.1h-4.1zM41.2 168.0h4.1v4.1h-4.1zM42.3 168.9h4.1v4.1h-4.1zM43.4 169.4h4.1v4.1h-4.1zM44.5 168.8h4.1v4.1h-4.1zM45.6 169.2h4.1v4.1h-4.1zM46.7 168.3h4.1v4.1h-4.1zM47.8 169.4h4.1v4.1h-4.1zM48.9 168.0h4.1v4.1h-4.1zM50.0 169.6h4.1v4.1h-4.1zM51.2 168.1h4.1v4.1h-4.1zM52.3 167.9h4.1v4.1h-4.1zM53.4 167.8h4.1v4.1h-4.1zM54.5 168.0h4.1v4.1h-4.1zM55.6 167.9h4.1v4.1h-4.1zM56.7 167.7h4.1v4.1h-4.1zM57.8 167.9h4.1v4.1h-4.1zM58.9 168.4h4.1v4.1h-4.1zM60.0 168.5h4.1v4.1h-4.1zM61.1 167.7h4.1v4.1h-4.1zM62.3 168.6h4.1v4.1h-4.1zM63.4 167.2h4.1v4.1h-4.1zM64.5 167.2h4.1v4.1h-4.1zM65.6 167.1h4.1v4.1h-4.1zM66.7 168.0h4.1v4.1h-4.1zM67.8 166.7h4.1v4.1h-4.1zM68.9 166.7h4.1v4.1h-4.1zM70.0 168.3h4.1v4.1h-4.1zM71.1 168.5h4.1v4.1h-4.1zM72.2 168.2h4.1v4.1h-4.1zM73.4 166.5h4.1v4.1h-4.1zM74.5 167.3h4.1v4.1h-4.1zM75.6 167.8h4.1v4.1h-4.1zM76.7 167.3h4.1v4.1h-4.1zM77.8 166.2h4.1v4.1h-4.1zM78.9 166.9h4.1v4.1h-4.1zM80.0 166.1h4.1v4.1h-4.1zM81.1 166.3h4.1v4.1h-4.1zM82.2 168.3h4.1v4.1h-4.1zM83.0 166.2h4.1v4.1h-4.1zM84.1 160.4h4.1v4.1h-4.1zM85.2 155.6h4.1v4.1h-4.1zM86.3 151.8h4.1v4.1h-4.1zM87.4 147.1h4.1v4.1h-4.1zM88.5 143.5h4.1v4.1h-4.1zM89.6 138.9h4.1v4.1h-4.1zM90.7 134.9h4.1v4.1h-4.1zM91.8 130.7h4.1v4.1h-4.1zM92.9 125.9h4.1v4.1h-4.1zM94.0 122.0h4.1v4.1h-4.1zM95.2 119.5h4.1v4.1h-4.1zM96.3 117.5h4.1v4.1h-4.1zM97.4 115.7h4.1v4.1h-4.1zM98.5 113.8h4.1v4.1h-4.1zM99.6 111.7h4.1v4.1h-4.1zM100.7 109.9h4.1v4.1h-4.1zM101.8 107.4h4.1v4.1h-4.1zM102.9 106.3h4.1v4.1h-4.1zM104.0 104.6h4.1v4.1h-4.1zM105.1 101.9h4.1v4.1h-4.1zM106.3 99.8h4.1v4.1h-4.1zM107.4 98.2h4.1v4.1h-4.1zM108.5 96.0h4.1v4.1h-4.1zM109.6 93.9h4.1v4.1h-4.1zM110.7 91.8h4.1v4.1h-4.1zM111.8 89.7h4.1v4.1h-4.1zM112.9 87.6h4.1v4.1h-4.1zM114.0 86.6h4.1v4.1h-4.1zM115.1 85.1h4.1v4.1h-4.1zM116.2 82.5h4.1v4.1h-4.1zM117.4 81.3h4.1v4.1h-4.1zM118.5 79.9h4.1v4.1h-4.1zM119.6 78.2h4.1v4.1h-4.1zM120.7 76.8h4.1v4.1h-4.1zM121.8 75.8h4.1v4.1h-4.1zM122.9 74.1h4.1v4.1h-4.1zM124.0 73.9h4.1v4.1h-4.1zM125.1 72.8h4.1v4.1h-4.1zM126.2 72.8h4.1v4.1h-4.1zM127.3 71.3h4.1v4.1h-4.1zM128.5 69.8h4.1v4.1h-4.1zM129.6 69.0h4.1v4.1h-4.1zM130.7 68.7h4.1v4.1h-4.1zM131.8 67.7h4.1v4.1h-4.1zM132.9 66.2h4.1v4.1h-4.1zM134.0 65.1h4.1v4.1h-4.1zM135.1 63.6h4.1v4.1h-4.1zM136.2 63.2h4.1v4.1h-4.1zM137.3 62.3h4.1v4.1h-4.1zM138.4 61.3h4.1v4.1h-4.1zM139.6 61.4h4.1v4.1h-4.1zM140.7 59.2h4.1v4.1h-4.1zM141.8 59.1h4.1v4.1h-4.1zM142.9 58.6h4.1v4.1h-4.1zM144.0 57.8h4.1v4.1h-4.1zM145.1 57.6h4.1v4.1h-4.1zM146.2 55.6h4.1v4.1h-4.1zM147.3 55.1h4.1v4.1h-4.1zM148.4 54.6h4.1v4.1h-4.1zM149.5 53.9h4.1v4.1h-4.1zM150.7 52.9h4.1v4.1h-4.1zM151.8 52.0h4.1v4.1h-4.1zM152.9 51.9h4.1v4.1h-4.1zM154.0 50.3h4.1v4.1h-4.1zM155.1 49.7h4.1v4.1h-4.1zM156.2 49.8h4.1v4.1h-4.1zM157.3 49.1h4.1v4.1h-4.1zM158.4 47.9h4.1v4.1h-4.1zM159.5 46.5h4.1v4.1h-4.1zM160.6 45.7h4.1v4.1h-4.1zM161.8 44.8h4.1v4.1h-4.1zM162.9 43.9h4.1v4.1h-4.1zM164.0 43.4h4.1v4.1h-4.1zM165.1 43.3h4.1v4.1h-4.1zM166.2 42.1h4.1v4.1h-4.1zM167.3 40.8h4.1v4.1h-4.1zM168.4 40.0h4.1v4.1h-4.1zM169.5 39.0h4.1v4.1h-4.1zM170.6 39.2h4.1v4.1h-4.1zM172.4 41.1h4.1v4.1h-4.1zM173.6 46.9h4.1v4.1h-4.1zM174.7 48.7h4.1v4.1h-4.1zM175.8 50.3h4.1v4.1h-4.1zM176.9 51.4h4.1v4.1h-4.1zM178.0 53.4h4.1v4.1h-4.1zM179.1 53.8h4.1v4.1h-4.1zM180.2 55.7h4.1v4.1h-4.1zM181.3 55.0h4.1v4.1h-4.1zM182.4 55.7h4.1v4.1h-4.1zM183.6 57.0h4.1v4.1h-4.1zM184.7 57.6h4.1v4.1h-4.1zM185.8 57.8h4.1v4.1h-4.1zM186.9 57.7h4.1v4.1h-4.1zM188.0 59.5h4.1v4.1h-4.1zM189.1 59.7h4.1v4.1h-4.1zM190.2 60.1h4.1v4.1h-4.1zM191.3 60.1h4.1v4.1h-4.1zM192.4 61.1h4.1v4.1h-4.1zM193.5 61.0h4.1v4.1h-4.1zM194.7 61.6h4.1v4.1h-4.1zM195.8 61.8h4.1v4.1h-4.1zM196.9 62.6h4.1v4.1h-4.1zM198.0 62.0h4.1v4.1h-4.1zM199.1 62.2h4.1v4.1h-4.1zM200.2 62.9h4.1v4.1h-4.1zM201.3 62.6h4.1v4.1h-4.1zM202.4 62.6h4.1v4.1h-4.1zM203.5 62.6h4.1v4.1h-4.1zM204.6 63.2h4.1v4.1h-4.1zM205.8 62.6h4.1v4.1h-4.1zM206.9 63.1h4.1v4.1h-4.1zM208.0 63.8h4.1v4.1h-4.1zM209.1 63.2h4.1v4.1h-4.1zM210.2 62.8h4.1v4.1h-4.1zM211.3 62.7h4.1v4.1h-4.1zM212.4 63.3h4.1v4.1h-4.1zM213.5 62.8h4.1v4.1h-4.1zM214.6 62.7h4.1v4.1h-4.1zM215.7 63.1h4.1v4.1h-4.1zM216.9 63.0h4.1v4.1h-4.1zM218.0 63.8h4.1v4.1h-4.1zM219.1 62.9h4.1v4.1h-4.1zM220.2 64.2h4.1v4.1h-4.1zM221.3 63.3h4.1v4.1h-4.1zM222.4 63.7h4.1v4.1h-4.1zM223.5 63.9h4.1v4.1h-4.1zM224.6 63.8h4.1v4.1h-4.1zM225.7 64.0h4.1v4.1h-4.1zM226.8 63.4h4.1v4.1h-4.1zM228.0 62.9h4.1v4.1h-4.1zM229.1 63.8h4.1v4.1h-4.1zM230.2 63.2h4.1v4.1h-4.1zM231.3 63.7h4.1v4.1h-4.1zM232.4 64.4h4.1v4.1h-4.1zM233.5 63.9h4.1v4.1h-4.1zM234.6 63.8h4.1v4.1h-4.1zM235.7 63.7h4.1v4.1h-4.1zM236.8 64.0h4.1v4.1h-4.1zM237.9 64.1h4.1v4.1h-4.1zM239.1 63.6h4.1v4.1h-4.1zM240.2 64.4h4.1v4.1h-4.1zM241.3 64.0h4.1v4.1h-4.1zM242.4 64.5h4.1v4.1h-4.1zM243.5 64.3h4.1v4.1h-4.1zM244.6 64.9h4.1v4.1h-4.1zM245.7 64.9h4.1v4.1h-4.1zM246.8 64.7h4.1v4.1h-4.1zM247.9 64.7h4.1v4.1h-4.1zM249.0 64.9h4.1v4.1h-4.1zM250.2 65.4h4.1v4.1h-4.1zM251.3 65.3h4.1v4.1h-4.1zM252.4 65.0h4.1v4.1h-4.1zM253.5 65.1h4.1v4.1h-4.1zM254.6 65.7h4.1v4.1h-4.1zM255.7 64.5h4.1v4.1h-4.1zM256.8 65.4h4.1v4.1h-4.1zM257.9 64.9h4.1v4.1h-4.1zM259.0 65.8h4.1v4.1h-4.1z" fill="none" stroke="#1e3ce6" stroke-width="1.05"/>
<path d="M38.1 169.9h5.8M41.0 167.0v5.8M39.0 167.8l4.1 4.1M39.0 171.9l4.1 -4.1M39.2 170.1h5.8M42.1 167.2v5.8M40.1 168.0l4.1 4.1M40.1 172.1l4.1 -4.1M40.3 169.4h5.8M43.2 166.5v5.8M41.2 167.4l4.1 4.1M41.2 171.5l4.1 -4.1M41.4 170.1h5.8M44.3 167.2v5.8M42.3 168.0l4.1 4.1M42.3 172.1l4.1 -4.1M42.5 170.5h5.8M45.4 167.6v5.8M43.4 168.5l4.1 4.1M43.4 172.5l4.1 -4.1M43.6 171.0h5.8M46.5 168.1v5.8M44.5 168.9l4.1 4.1M44.5 173.0l4.1 -4.1M44.8 169.2h5.8M47.7 166.3v5.8M45.6 167.1l4.1 4.1M45.6 171.2l4.1 -4.1M45.9 169.6h5.8M48.8 166.7v5.8M46.7 167.6l4.1 4.1M46.7 171.6l4.1 -4.1M47.0 172.2h5.8M49.9 169.3v5.8M47.8 170.2l4.1 4.1M47.8 174.2l4.1 -4.1M48.1 170.4h5.8M51.0 167.5v5.8M49.0 168.3l4.1 4.1M49.0 172.4l4.1 -4.1M49.2 169.8h5.8M52.1 166.9v5.8M50.1 167.7l4.1 4.1M50.1 171.8l4.1 -4.1M50.3 170.0h5.8M53.2 167.1v5.8M51.2 168.0l4.1 4.1M51.2 172.1l4.1 -4.1M51.4 168.1h5.8M54.3 165.2v5.8M52.3 166.0l4.1 4.1M52.3 170.1l4.1 -4.1M52.5 170.6h5.8M55.4 167.7v5.8M53.4 168.6l4.1 4.1M53.4 172.6l4.1 -4.1M53.6 169.7h5.8M56.5 166.8v5.8M54.5 167.7l4.1 4.1M54.5 171.7l4.1 -4.1M54.7 168.7h5.8M57.6 165.8v5.8M55.6 166.7l4.1 4.1M55.6 170.7l4.1 -4.1M55.9 170.2h5.8M58.8 167.3v5.8M56.7 168.2l4.1 4.1M56.7 172.2l4.1 -4.1M57.0 169.1h5.8M59.9 166.2v5.8M57.8 167.1l4.1 4.1M57.8 171.1l4.1 -4.1M58.1 168.8h5.8M61.0 165.9v5.8M58.9 166.8l4.1 4.1M58.9 170.8l4.1 -4.1M59.2 169.7h5.8M62.1 166.8v5.8M60.1 167.7l4.1 4.1M60.1 171.7l4.1 -4.1M60.3 169.6h5.8M63.2 166.7v5.8M61.2 167.6l4.1 4.1M61.2 171.6l4.1 -4.1M61.4 169.0h5.8M64.3 166.1v5.8M62.3 167.0l4.1 4.1M62.3 171.1l4.1 -4.1M62.5 169.2h5.8M65.4 166.3v5.8M63.4 167.2l4.1 4.1M63.4 171.2l4.1 -4.1M63.6 168.4h5.8M66.5 165.5v5.8M64.5 166.4l4.1 4.1M64.5 170.4l4.1 -4.1M64.7 168.3h5.8M67.6 165.4v5.8M65.6 166.3l4.1 4.1M65.6 170.3l4.1 -4.1M65.8 169.7h5.8M68.7 166.8v5.8M66.7 167.6l4.1 4.1M66.7 171.7l4.1 -4.1M67.0 169.9h5.8M69.9 167.0v5.8M67.8 167.8l4.1 4.1M67.8 171.9l4.1 -4.1M68.1 169.3h5.8M71.0 166.4v5.8M68.9 167.3l4.1 4.1M68.9 171.3l4.1 -4.1M69.2 169.2h5.8M72.1 166.3v5.8M70.0 167.2l4.1 4.1M70.0 171.3l4.1 -4.1M70.3 168.7h5.8M73.2 165.8v5.8M71.2 166.7l4.1 4.1M71.2 170.7l4.1 -4.1M71.4 168.8h5.8M74.3 165.9v5.8M72.3 166.8l4.1 4.1M72.3 170.9l4.1 -4.1M72.5 168.3h5.8M75.4 165.4v5.8M73.4 166.3l4.1 4.1M73.4 170.3l4.1 -4.1M73.6 169.9h5.8M76.5 167.0v5.8M74.5 167.9l4.1 4.1M74.5 171.9l4.1 -4.1M74.7 168.4h5.8M77.6 165.5v5.8M75.6 166.4l4.1 4.1M75.6 170.5l4.1 -4.1M75.8 169.0h5.8M78.7 166.1v5.8M76.7 167.0l4.1 4.1M76.7 171.0l4.1 -4.1M76.9 168.7h5.8M79.8 165.8v5.8M77.8 166.7l4.1 4.1M77.8 170.7l4.1 -4.1M78.1 167.8h5.8M81.0 164.9v5.8M78.9 165.8l4.1 4.1M78.9 169.8l4.1 -4.1M79.2 169.8h5.8M82.1 166.9v5.8M80.0 167.7l4.1 4.1M80.0 171.8l4.1 -4.1M80.3 168.3h5.8M83.2 165.4v5.8M81.1 166.3l4.1 4.1M81.1 170.4l4.1 -4.1M81.4 168.1h5.8M84.3 165.2v5.8M82.3 166.0l4.1 4.1M82.3 170.1l4.1 -4.1M82.1 168.0h5.8M85.0 165.1v5.8M83.0 166.0l4.1 4.1M83.0 170.1l4.1 -4.1M83.2 155.8h5.8M86.1 152.9v5.8M84.1 153.8l4.1 4.1M84.1 157.9l4.1 -4.1M84.3 146.2h5.8M87.2 143.3v5.8M85.2 144.2l4.1 4.1M85.2 148.2l4.1 -4.1M85.4 137.4h5.8M88.3 134.5v5.8M86.3 135.4l4.1 4.1M86.3 139.4l4.1 -4.1M86.5 130.6h5.8M89.4 127.7v5.8M87.4 128.6l4.1 4.1M87.4 132.6l4.1 -4.1M87.6 123.7h5.8M90.5 120.8v5.8M88.5 121.6l4.1 4.1M88.5 125.7l4.1 -4.1M88.8 117.1h5.8M91.7 114.2v5.8M89.6 115.1l4.1 4.1M89.6 119.1l4.1 -4.1M89.9 113.1h5.8M92.8 110.2v5.8M90.7 111.1l4.1 4.1M90.7 115.1l4.1 -4.1M91.0 108.5h5.8M93.9 105.6v5.8M91.8 106.5l4.1 4.1M91.8 110.5l4.1 -4.1M92.1 103.6h5.8M95.0 100.7v5.8M93.0 101.6l4.1 4.1M93.0 105.6l4.1 -4.1M93.2 99.8h5.8M96.1 96.9v5.8M94.1 97.7l4.1 4.1M94.1 101.8l4.1 -4.1M94.3 95.5h5.8M97.2 92.6v5.8M95.2 93.5l4.1 4.1M95.2 97.5l4.1 -4.1M95.4 91.9h5.8M98.3 89.0v5.8M96.3 89.8l4.1 4.1M96.3 93.9l4.1 -4.1M96.5 86.7h5.8M99.4 83.8v5.8M97.4 84.7l4.1 4.1M97.4 88.7l4.1 -4.1M97.6 83.4h5.8M100.5 80.5v5.8M98.5 81.4l4.1 4.1M98.5 85.4l4.1 -4.1M98.7 78.9h5.8M101.6 76.0v5.8M99.6 76.9l4.1 4.1M99.6 80.9l4.1 -4.1M99.9 75.2h5.8M102.8 72.3v5.8M100.7 73.2l4.1 4.1M100.7 77.3l4.1 -4.1M101.0 71.5h5.8M103.9 68.6v5.8M101.8 69.4l4.1 4.1M101.8 73.5l4.1 -4.1M102.1 68.9h5.8M105.0 66.0v5.8M102.9 66.9l4.1 4.1M102.9 71.0l4.1 -4.1M103.2 67.0h5.8M106.1 64.1v5.8M104.1 65.0l4.1 4.1M104.1 69.0l4.1 -4.1M104.3 64.4h5.8M107.2 61.5v5.8M105.2 62.4l4.1 4.1M105.2 66.4l4.1 -4.1M105.4 62.4h5.8M108.3 59.5v5.8M106.3 60.3l4.1 4.1M106.3 64.4l4.1 -4.1M106.5 61.7h5.8M109.4 58.8v5.8M107.4 59.7l4.1 4.1M107.4 63.7l4.1 -4.1M107.6 60.2h5.8M110.5 57.3v5.8M108.5 58.2l4.1 4.1M108.5 62.2l4.1 -4.1M108.7 59.2h5.8M111.6 56.3v5.8M109.6 57.2l4.1 4.1M109.6 61.2l4.1 -4.1M109.8 58.3h5.8M112.7 55.4v5.8M110.7 56.2l4.1 4.1M110.7 60.3l4.1 -4.1M111.0 56.9h5.8M113.9 54.0v5.8M111.8 54.8l4.1 4.1M111.8 58.9l4.1 -4.1M112.1 56.4h5.8M115.0 53.5v5.8M112.9 54.4l4.1 4.1M112.9 58.4l4.1 -4.1M113.2 55.0h5.8M116.1 52.1v5.8M114.0 53.0l4.1 4.1M114.0 57.0l4.1 -4.1M114.3 54.2h5.8M117.2 51.3v5.8M115.2 52.1l4.1 4.1M115.2 56.2l4.1 -4.1M115.4 53.6h5.8M118.3 50.7v5.8M116.3 51.6l4.1 4.1M116.3 55.6l4.1 -4.1M116.5 52.7h5.8M119.4 49.8v5.8M117.4 50.6l4.1 4.1M117.4 54.7l4.1 -4.1M117.6 51.6h5.8M120.5 48.7v5.8M118.5 49.6l4.1 4.1M118.5 53.6l4.1 -4.1M118.7 50.9h5.8M121.6 48.0v5.8M119.6 48.9l4.1 4.1M119.6 53.0l4.1 -4.1M119.8 49.9h5.8M122.7 47.0v5.8M120.7 47.8l4.1 4.1M120.7 51.9l4.1 -4.1M120.9 49.2h5.8M123.8 46.3v5.8M121.8 47.2l4.1 4.1M121.8 51.3l4.1 -4.1M122.1 48.9h5.8M125.0 46.0v5.8M122.9 46.8l4.1 4.1M122.9 50.9l4.1 -4.1M123.2 48.5h5.8M126.1 45.6v5.8M124.0 46.5l4.1 4.1M124.0 50.5l4.1 -4.1M124.3 47.4h5.8M127.2 44.5v5.8M125.1 45.4l4.1 4.1M125.1 49.4l4.1 -4.1M125.4 47.3h5.8M128.3 44.4v5.8M126.3 45.3l4.1 4.1M126.3 49.3l4.1 -4.1M126.5 47.1h5.8M129.4 44.2v5.8M127.4 45.1l4.1 4.1M127.4 49.1l4.1 -4.1M127.6 46.6h5.8M130.5 43.7v5.8M128.5 44.6l4.1 4.1M128.5 48.6l4.1 -4.1M128.7 45.2h5.8M131.6 42.3v5.8M129.6 43.1l4.1 4.1M129.6 47.2l4.1 -4.1M129.8 45.0h5.8M132.7 42.1v5.8M130.7 43.0l4.1 4.1M130.7 47.0l4.1 -4.1M130.9 44.3h5.8M133.8 41.4v5.8M131.8 42.2l4.1 4.1M131.8 46.3l4.1 -4.1M132.0 43.8h5.8M134.9 40.9v5.8M132.9 41.7l4.1 4.1M132.9 45.8l4.1 -4.1M133.2 43.2h5.8M136.1 40.3v5.8M134.0 41.2l4.1 4.1M134.0 45.3l4.1 -4.1M134.3 42.6h5.8M137.2 39.7v5.8M135.1 40.5l4.1 4.1M135.1 44.6l4.1 -4.1M135.4 42.2h5.8M138.3 39.3v5.8M136.2 40.1l4.1 4.1M136.2 44.2l4.1 -4.1M136.5 41.4h5.8M139.4 38.5v5.8M137.4 39.4l4.1 4.1M137.4 43.4l4.1 -4.1M137.6 40.7h5.8M140.5 37.8v5.8M138.5 38.6l4.1 4.1M138.5 42.7l4.1 -4.1M138.7 40.4h5.8M141.6 37.5v5.8M139.6 38.3l4.1 4.1M139.6 42.4l4.1 -4.1M139.8 39.9h5.8M142.7 37.0v5.8M140.7 37.9l4.1 4.1M140.7 42.0l4.1 -4.1M140.9 39.7h5.8M143.8 36.8v5.8M141.8 37.7l4.1 4.1M141.8 41.8l4.1 -4.1M142.0 38.9h5.8M144.9 36.0v5.8M142.9 36.9l4.1 4.1M142.9 40.9l4.1 -4.1M143.1 38.5h5.8M146.0 35.6v5.8M144.0 36.5l4.1 4.1M144.0 40.6l4.1 -4.1M144.3 38.3h5.8M147.2 35.4v5.8M145.1 36.3l4.1 4.1M145.1 40.3l4.1 -4.1M145.4 36.9h5.8M148.3 34.0v5.8M146.2 34.9l4.1 4.1M146.2 38.9l4.1 -4.1M146.5 36.7h5.8M149.4 33.8v5.8M147.3 34.7l4.1 4.1M147.3 38.7l4.1 -4.1M147.6 36.5h5.8M150.5 33.6v5.8M148.5 34.5l4.1 4.1M148.5 38.6l4.1 -4.1M148.7 35.9h5.8M151.6 33.0v5.8M149.6 33.8l4.1 4.1M149.6 37.9l4.1 -4.1M149.8 35.0h5.8M152.7 32.1v5.8M150.7 32.9l4.1 4.1M150.7 37.0l4.1 -4.1M150.9 35.3h5.8M153.8 32.4v5.8M151.8 33.3l4.1 4.1M151.8 37.3l4.1 -4.1M152.0 34.4h5.8M154.9 31.5v5.8M152.9 32.4l4.1 4.1M152.9 36.5l4.1 -4.1M153.1 33.6h5.8M156.0 30.7v5.8M154.0 31.6l4.1 4.1M154.0 35.6l4.1 -4.1M154.2 34.3h5.8M157.1 31.4v5.8M155.1 32.3l4.1 4.1M155.1 36.4l4.1 -4.1M155.4 32.6h5.8M158.3 29.7v5.8M156.2 30.6l4.1 4.1M156.2 34.7l4.1 -4.1M156.5 32.7h5.8M159.4 29.8v5.8M157.3 30.7l4.1 4.1M157.3 34.8l4.1 -4.1M157.6 32.1h5.8M160.5 29.2v5.8M158.4 30.1l4.1 4.1M158.4 34.1l4.1 -4.1M158.7 32.0h5.8M161.6 29.1v5.8M159.6 30.0l4.1 4.1M159.6 34.0l4.1 -4.1M159.8 31.8h5.8M162.7 28.9v5.8M160.7 29.8l4.1 4.1M160.7 33.9l4.1 -4.1M160.9 30.9h5.8M163.8 28.0v5.8M161.8 28.9l4.1 4.1M161.8 32.9l4.1 -4.1M162.0 30.8h5.8M164.9 27.9v5.8M162.9 28.8l4.1 4.1M162.9 32.9l4.1 -4.1M163.1 30.5h5.8M166.0 27.6v5.8M164.0 28.4l4.1 4.1M164.0 32.5l4.1 -4.1M164.2 29.8h5.8M167.1 26.9v5.8M165.1 27.7l4.1 4.1M165.1 31.8l4.1 -4.1M165.3 30.3h5.8M168.2 27.4v5.8M166.2 28.3l4.1 4.1M166.2 32.3l4.1 -4.1M166.5 29.6h5.8M169.4 26.7v5.8M167.3 27.5l4.1 4.1M167.3 31.6l4.1 -4.1M167.6 29.1h5.8M170.5 26.2v5.8M168.4 27.0l4.1 4.1M168.4 31.1l4.1 -4.1M168.7 28.6h5.8M171.6 25.7v5.8M169.5 26.6l4.1 4.1M169.5 30.7l4.1 -4.1M169.8 28.5h5.8M172.7 25.6v5.8M170.7 26.4l4.1 4.1M170.7 30.5l4.1 -4.1M171.6 32.1h5.8M174.5 29.2v5.8M172.5 30.0l4.1 4.1M172.5 34.1l4.1 -4.1M172.7 37.0h5.8M175.6 34.1v5.8M173.6 35.0l4.1 4.1M173.6 39.0l4.1 -4.1M173.8 40.9h5.8M176.7 38.0v5.8M174.7 38.9l4.1 4.1M174.7 43.0l4.1 -4.1M174.9 41.7h5.8M177.8 38.8v5.8M175.8 39.7l4.1 4.1M175.8 43.7l4.1 -4.1M176.0 43.8h5.8M178.9 40.9v5.8M176.9 41.8l4.1 4.1M176.9 45.8l4.1 -4.1M177.2 46.0h5.8M180.1 43.1v5.8M178.0 43.9l4.1 4.1M178.0 48.0l4.1 -4.1M178.3 46.2h5.8M181.2 43.3v5.8M179.1 44.2l4.1 4.1M179.1 48.2l4.1 -4.1M179.4 47.6h5.8M182.3 44.7v5.8M180.2 45.6l4.1 4.1M180.2 49.7l4.1 -4.1M180.5 48.0h5.8M183.4 45.1v5.8M181.4 46.0l4.1 4.1M181.4 50.0l4.1 -4.1M181.6 49.0h5.8M184.5 46.1v5.8M182.5 47.0l4.1 4.1M182.5 51.0l4.1 -4.1M182.7 49.4h5.8M185.6 46.5v5.8M183.6 47.4l4.1 4.1M183.6 51.5l4.1 -4.1M183.8 50.3h5.8M186.7 47.4v5.8M184.7 48.2l4.1 4.1M184.7 52.3l4.1 -4.1M184.9 50.5h5.8M187.8 47.6v5.8M185.8 48.5l4.1 4.1M185.8 52.5l4.1 -4.1M186.0 51.0h5.8M188.9 48.1v5.8M186.9 49.0l4.1 4.1M186.9 53.0l4.1 -4.1M187.1 51.1h5.8M190.0 48.2v5.8M188.0 49.1l4.1 4.1M188.0 53.1l4.1 -4.1M188.3 51.7h5.8M191.2 48.8v5.8M189.1 49.6l4.1 4.1M189.1 53.7l4.1 -4.1M189.4 51.8h5.8M192.3 48.9v5.8M190.2 49.8l4.1 4.1M190.2 53.8l4.1 -4.1M190.5 51.8h5.8M193.4 48.9v5.8M191.3 49.7l4.1 4.1M191.3 53.8l4.1 -4.1M191.6 51.9h5.8M194.5 49.0v5.8M192.5 49.9l4.1 4.1M192.5 53.9l4.1 -4.1M192.7 52.3h5.8M195.6 49.4v5.8M193.6 50.3l4.1 4.1M193.6 54.3l4.1 -4.1M193.8 53.3h5.8M196.7 50.4v5.8M194.7 51.3l4.1 4.1M194.7 55.4l4.1 -4.1M194.9 52.5h5.8M197.8 49.6v5.8M195.8 50.5l4.1 4.1M195.8 54.6l4.1 -4.1M196.0 53.9h5.8M198.9 51.0v5.8M196.9 51.8l4.1 4.1M196.9 55.9l4.1 -4.1M197.1 53.7h5.8M200.0 50.8v5.8M198.0 51.7l4.1 4.1M198.0 55.8l4.1 -4.1M198.2 54.5h5.8M201.1 51.6v5.8M199.1 52.5l4.1 4.1M199.1 56.6l4.1 -4.1M199.4 54.5h5.8M202.3 51.6v5.8M200.2 52.5l4.1 4.1M200.2 56.5l4.1 -4.1M200.5 54.3h5.8M203.4 51.4v5.8M201.3 52.3l4.1 4.1M201.3 56.3l4.1 -4.1M201.6 54.8h5.8M204.5 51.9v5.8M202.4 52.8l4.1 4.1M202.4 56.8l4.1 -4.1M202.7 54.0h5.8M205.6 51.1v5.8M203.6 52.0l4.1 4.1M203.6 56.1l4.1 -4.1M203.8 55.2h5.8M206.7 52.3v5.8M204.7 53.2l4.1 4.1M204.7 57.2l4.1 -4.1M204.9 55.4h5.8M207.8 52.5v5.8M205.8 53.4l4.1 4.1M205.8 57.5l4.1 -4.1M206.0 54.6h5.8M208.9 51.7v5.8M206.9 52.6l4.1 4.1M206.9 56.7l4.1 -4.1M207.1 55.9h5.8M210.0 53.0v5.8M208.0 53.8l4.1 4.1M208.0 57.9l4.1 -4.1M208.2 55.6h5.8M211.1 52.7v5.8M209.1 53.6l4.1 4.1M209.1 57.6l4.1 -4.1M209.3 55.8h5.8M212.2 52.9v5.8M210.2 53.8l4.1 4.1M210.2 57.9l4.1 -4.1M210.5 55.3h5.8M213.4 52.4v5.8M211.3 53.3l4.1 4.1M211.3 57.3l4.1 -4.1M211.6 56.2h5.8M214.5 53.3v5.8M212.4 54.2l4.1 4.1M212.4 58.3l4.1 -4.1M212.7 56.3h5.8M215.6 53.4v5.8M213.5 54.3l4.1 4.1M213.5 58.4l4.1 -4.1M213.8 56.2h5.8M216.7 53.3v5.8M214.7 54.2l4.1 4.1M214.7 58.2l4.1 -4.1M214.9 55.9h5.8M217.8 53.0v5.8M215.8 53.9l4.1 4.1M215.8 57.9l4.1 -4.1M216.0 56.7h5.8M218.9 53.8v5.8M216.9 54.7l4.1 4.1M216.9 58.8l4.1 -4.1M217.1 57.0h5.8M220.0 54.1v5.8M218.0 55.0l4.1 4.1M218.0 59.1l4.1 -4.1M218.2 56.8h5.8M221.1 53.9v5.8M219.1 54.8l4.1 4.1M219.1 58.8l4.1 -4.1M219.3 57.1h5.8M222.2 54.2v5.8M220.2 55.1l4.1 4.1M220.2 59.2l4.1 -4.1M220.4 56.6h5.8M223.3 53.7v5.8M221.3 54.5l4.1 4.1M221.3 58.6l4.1 -4.1M221.6 57.0h5.8M224.5 54.1v5.8M222.4 54.9l4.1 4.1M222.4 59.0l4.1 -4.1M222.7 57.1h5.8M225.6 54.2v5.8M223.5 55.1l4.1 4.1M223.5 59.2l4.1 -4.1M223.8 57.1h5.8M226.7 54.2v5.8M224.6 55.1l4.1 4.1M224.6 59.2l4.1 -4.1M224.9 58.3h5.8M227.8 55.4v5.8M225.8 56.2l4.1 4.1M225.8 60.3l4.1 -4.1M226.0 57.4h5.8M228.9 54.5v5.8M226.9 55.4l4.1 4.1M226.9 59.4l4.1 -4.1M227.1 57.1h5.8M230.0 54.2v5.8M228.0 55.1l4.1 4.1M228.0 59.1l4.1 -4.1M228.2 57.7h5.8M231.1 54.8v5.8M229.1 55.7l4.1 4.1M229.1 59.7l4.1 -4.1M229.3 57.0h5.8M232.2 54.1v5.8M230.2 55.0l4.1 4.1M230.2 59.1l4.1 -4.1M230.4 57.7h5.8M233.3 54.8v5.8M231.3 55.7l4.1 4.1M231.3 59.7l4.1 -4.1M231.5 57.9h5.8M234.4 55.0v5.8M232.4 55.9l4.1 4.1M232.4 60.0l4.1 -4.1M232.7 57.5h5.8M235.6 54.6v5.8M233.5 55.5l4.1 4.1M233.5 59.5l4.1 -4.1M233.8 57.6h5.8M236.7 54.7v5.8M234.6 55.6l4.1 4.1M234.6 59.7l4.1 -4.1M234.9 57.5h5.8M237.8 54.6v5.8M235.7 55.5l4.1 4.1M235.7 59.5l4.1 -4.1M236.0 58.0h5.8M238.9 55.1v5.8M236.9 56.0l4.1 4.1M236.9 60.0l4.1 -4.1M237.1 57.8h5.8M240.0 54.9v5.8M238.0 55.7l4.1 4.1M238.0 59.8l4.1 -4.1M238.2 58.8h5.8M241.1 55.9v5.8M239.1 56.8l4.1 4.1M239.1 60.9l4.1 -4.1M239.3 58.5h5.8M242.2 55.6v5.8M240.2 56.4l4.1 4.1M240.2 60.5l4.1 -4.1M240.4 58.2h5.8M243.3 55.3v5.8M241.3 56.2l4.1 4.1M241.3 60.3l4.1 -4.1M241.5 57.8h5.8M244.4 54.9v5.8M242.4 55.8l4.1 4.1M242.4 59.9l4.1 -4.1M242.6 59.3h5.8M245.5 56.4v5.8M243.5 57.3l4.1 4.1M243.5 61.4l4.1 -4.1M243.8 59.1h5.8M246.7 56.2v5.8M244.6 57.1l4.1 4.1M244.6 61.2l4.1 -4.1M244.9 58.9h5.8M247.8 56.0v5.8M245.7 56.9l4.1 4.1M245.7 60.9l4.1 -4.1M246.0 58.9h5.8M248.9 56.0v5.8M246.8 56.9l4.1 4.1M246.8 60.9l4.1 -4.1M247.1 59.0h5.8M250.0 56.1v5.8M248.0 56.9l4.1 4.1M248.0 61.0l4.1 -4.1M248.2 58.8h5.8M251.1 55.9v5.8M249.1 56.8l4.1 4.1M249.1 60.8l4.1 -4.1M249.3 59.9h5.8M252.2 57.0v5.8M250.2 57.8l4.1 4.1M250.2 61.9l4.1 -4.1M250.4 59.3h5.8M253.3 56.4v5.8M251.3 57.3l4.1 4.1M251.3 61.3l4.1 -4.1M251.5 58.7h5.8M254.4 55.8v5.8M252.4 56.7l4.1 4.1M252.4 60.8l4.1 -4.1M252.6 59.2h5.8M255.5 56.3v5.8M253.5 57.1l4.1 4.1M253.5 61.2l4.1 -4.1M253.7 58.5h5.8M256.6 55.6v5.8M254.6 56.5l4.1 4.1M254.6 60.5l4.1 -4.1M254.9 59.9h5.8M257.8 57.0v5.8M255.7 57.9l4.1 4.1M255.7 61.9l4.1 -4.1M256.0 60.0h5.8M258.9 57.1v5.8M256.8 58.0l4.1 4.1M256.8 62.1l4.1 -4.1M257.1 60.6h5.8M260.0 57.7v5.8M257.9 58.5l4.1 4.1M257.9 62.6l4.1 -4.1M258.2 60.8h5.8M261.1 57.9v5.8M259.1 58.8l4.1 4.1M259.1 62.8l4.1 -4.1" fill="none" stroke="#b4d200" stroke-width="1.05"/>
<path d="M38.1 172.2h5.8M41.0 169.3v5.8M39.0 170.2l4.1 4.1M39.0 174.2l4.1 -4.1M39.2 172.8h5.8M42.1 169.9v5.8M40.1 170.8l4.1 4.1M40.1 174.9l4.1 -4.1M40.3 173.1h5.8M43.2 170.2v5.8M41.2 171.1l4.1 4.1M41.2 175.1l4.1 -4.1M41.4 172.9h5.8M44.3 170.0v5.8M42.3 170.9l4.1 4.1M42.3 174.9l4.1 -4.1M42.5 172.0h5.8M45.4 169.1v5.8M43.4 170.0l4.1 4.1M43.4 174.0l4.1 -4.1M43.6 172.7h5.8M46.5 169.8v5.8M44.5 170.7l4.1 4.1M44.5 174.7l4.1 -4.1M44.8 172.4h5.8M47.7 169.5v5.8M45.6 170.4l4.1 4.1M45.6 174.5l4.1 -4.1M45.9 172.9h5.8M48.8 170.0v5.8M46.7 170.8l4.1 4.1M46.7 174.9l4.1 -4.1M47.0 172.0h5.8M49.9 169.1v5.8M47.8 169.9l4.1 4.1M47.8 174.0l4.1 -4.1M48.1 171.7h5.8M51.0 168.8v5.8M49.0 169.7l4.1 4.1M49.0 173.8l4.1 -4.1M49.2 171.5h5.8M52.1 168.6v5.8M50.1 169.5l4.1 4.1M50.1 173.5l4.1 -4.1M50.3 171.5h5.8M53.2 168.6v5.8M51.2 169.5l4.1 4.1M51.2 173.5l4.1 -4.1M51.4 171.2h5.8M54.3 168.3v5.8M52.3 169.1l4.1 4.1M52.3 173.2l4.1 -4.1M52.5 171.3h5.8M55.4 168.4v5.8M53.4 169.3l4.1 4.1M53.4 173.4l4.1 -4.1M53.6 171.8h5.8M56.5 168.9v5.8M54.5 169.7l4.1 4.1M54.5 173.8l4.1 -4.1M54.7 171.6h5.8M57.6 168.7v5.8M55.6 169.6l4.1 4.1M55.6 173.7l4.1 -4.1M55.9 172.1h5.8M58.8 169.2v5.8M56.7 170.0l4.1 4.1M56.7 174.1l4.1 -4.1M57.0 171.9h5.8M59.9 169.0v5.8M57.8 169.8l4.1 4.1M57.8 173.9l4.1 -4.1M58.1 171.5h5.8M61.0 168.6v5.8M58.9 169.5l4.1 4.1M58.9 173.5l4.1 -4.1M59.2 170.3h5.8M62.1 167.4v5.8M60.1 168.3l4.1 4.1M60.1 172.4l4.1 -4.1M60.3 171.3h5.8M63.2 168.4v5.8M61.2 169.2l4.1 4.1M61.2 173.3l4.1 -4.1M61.4 171.5h5.8M64.3 168.6v5.8M62.3 169.5l4.1 4.1M62.3 173.6l4.1 -4.1M62.5 170.0h5.8M65.4 167.1v5.8M63.4 167.9l4.1 4.1M63.4 172.0l4.1 -4.1M63.6 170.0h5.8M66.5 167.1v5.8M64.5 168.0l4.1 4.1M64.5 172.0l4.1 -4.1M64.7 170.0h5.8M67.6 167.1v5.8M65.6 168.0l4.1 4.1M65.6 172.0l4.1 -4.1M65.8 169.9h5.8M68.7 167.0v5.8M66.7 167.8l4.1 4.1M66.7 171.9l4.1 -4.1M67.0 170.2h5.8M69.9 167.3v5.8M67.8 168.2l4.1 4.1M67.8 172.3l4.1 -4.1M68.1 169.8h5.8M71.0 166.9v5.8M68.9 167.7l4.1 4.1M68.9 171.8l4.1 -4.1M69.2 170.5h5.8M72.1 167.6v5.8M70.0 168.4l4.1 4.1M70.0 172.5l4.1 -4.1M70.3 169.4h5.8M73.2 166.5v5.8M71.2 167.4l4.1 4.1M71.2 171.5l4.1 -4.1M71.4 170.0h5.8M74.3 167.1v5.8M72.3 168.0l4.1 4.1M72.3 172.0l4.1 -4.1M72.5 169.7h5.8M75.4 166.8v5.8M73.4 167.6l4.1 4.1M73.4 171.7l4.1 -4.1M73.6 169.3h5.8M76.5 166.4v5.8M74.5 167.3l4.1 4.1M74.5 171.3l4.1 -4.1M74.7 170.4h5.8M77.6 167.5v5.8M75.6 168.4l4.1 4.1M75.6 172.5l4.1 -4.1M75.8 169.7h5.8M78.7 166.8v5.8M76.7 167.7l4.1 4.1M76.7 171.8l4.1 -4.1M76.9 170.0h5.8M79.8 167.1v5.8M77.8 167.9l4.1 4.1M77.8 172.0l4.1 -4.1M78.1 169.3h5.8M81.0 166.4v5.8M78.9 167.3l4.1 4.1M78.9 171.4l4.1 -4.1M79.2 169.9h5.8M82.1 167.0v5.8M80.0 167.9l4.1 4.1M80.0 171.9l4.1 -4.1M80.3 169.7h5.8M83.2 166.8v5.8M81.1 167.7l4.1 4.1M81.1 171.8l4.1 -4.1M81.4 169.2h5.8M84.3 166.3v5.8M82.3 167.2l4.1 4.1M82.3 171.2l4.1 -4.1M82.1 167.3h5.8M85.0 164.4v5.8M83.0 165.3l4.1 4.1M83.0 169.3l4.1 -4.1M83.2 147.4h5.8M86.1 144.5v5.8M84.1 145.3l4.1 4.1M84.1 149.4l4.1 -4.1M84.3 134.4h5.8M87.2 131.5v5.8M85.2 132.3l4.1 4.1M85.2 136.4l4.1 -4.1M85.4 124.5h5.8M88.3 121.6v5.8M86.3 122.5l4.1 4.1M86.3 126.5l4.1 -4.1M86.5 116.6h5.8M89.4 113.7v5.8M87.4 114.5l4.1 4.1M87.4 118.6l4.1 -4.1M87.6 109.7h5.8M90.5 106.8v5.8M88.5 107.6l4.1 4.1M88.5 111.7l4.1 -4.1M88.8 103.5h5.8M91.7 100.6v5.8M89.6 101.5l4.1 4.1M89.6 105.5l4.1 -4.1M89.9 97.4h5.8M92.8 94.5v5.8M90.7 95.3l4.1 4.1M90.7 99.4l4.1 -4.1M91.0 92.6h5.8M93.9 89.7v5.8M91.8 90.6l4.1 4.1M91.8 94.6l4.1 -4.1M92.1 88.2h5.8M95.0 85.3v5.8M93.0 86.2l4.1 4.1M93.0 90.2l4.1 -4.1M93.2 83.8h5.8M96.1 80.9v5.8M94.1 81.7l4.1 4.1M94.1 85.8l4.1 -4.1M94.3 80.0h5.8M97.2 77.1v5.8M95.2 77.9l4.1 4.1M95.2 82.0l4.1 -4.1M95.4 77.9h5.8M98.3 75.0v5.8M96.3 75.8l4.1 4.1M96.3 79.9l4.1 -4.1M96.5 74.3h5.8M99.4 71.4v5.8M97.4 72.3l4.1 4.1M97.4 76.3l4.1 -4.1M97.6 71.4h5.8M100.5 68.5v5.8M98.5 69.4l4.1 4.1M98.5 73.4l4.1 -4.1M98.7 69.4h5.8M101.6 66.5v5.8M99.6 67.4l4.1 4.1M99.6 71.5l4.1 -4.1M99.9 67.0h5.8M102.8 64.1v5.8M100.7 65.0l4.1 4.1M100.7 69.0l4.1 -4.1M101.0 66.1h5.8M103.9 63.2v5.8M101.8 64.1l4.1 4.1M101.8 68.2l4.1 -4.1M102.1 65.4h5.8M105.0 62.5v5.8M102.9 63.4l4.1 4.1M102.9 67.5l4.1 -4.1M103.2 65.0h5.8M106.1 62.1v5.8M104.1 63.0l4.1 4.1M104.1 67.0l4.1 -4.1M104.3 62.7h5.8M107.2 59.8v5.8M105.2 60.7l4.1 4.1M105.2 64.8l4.1 -4.1M105.4 62.4h5.8M108.3 59.5v5.8M106.3 60.4l4.1 4.1M106.3 64.5l4.1 -4.1M106.5 62.7h5.8M109.4 59.8v5.8M107.4 60.7l4.1 4.1M107.4 64.7l4.1 -4.1M107.6 61.4h5.8M110.5 58.5v5.8M108.5 59.4l4.1 4.1M108.5 63.5l4.1 -4.1M108.7 60.6h5.8M111.6 57.7v5.8M109.6 58.6l4.1 4.1M109.6 62.7l4.1 -4.1M109.8 60.3h5.8M112.7 57.4v5.8M110.7 58.3l4.1 4.1M110.7 62.3l4.1 -4.1M111.0 59.1h5.8M113.9 56.2v5.8M111.8 57.1l4.1 4.1M111.8 61.2l4.1 -4.1M112.1 58.5h5.8M115.0 55.6v5.8M112.9 56.5l4.1 4.1M112.9 60.5l4.1 -4.1M113.2 58.3h5.8M116.1 55.4v5.8M114.0 56.3l4.1 4.1M114.0 60.3l4.1 -4.1M114.3 57.8h5.8M117.2 54.9v5.8M115.2 55.7l4.1 4.1M115.2 59.8l4.1 -4.1M115.4 56.4h5.8M118.3 53.5v5.8M116.3 54.4l4.1 4.1M116.3 58.5l4.1 -4.1M116.5 56.9h5.8M119.4 54.0v5.8M117.4 54.9l4.1 4.1M117.4 58.9l4.1 -4.1M117.6 55.0h5.8M120.5 52.1v5.8M118.5 53.0l4.1 4.1M118.5 57.1l4.1 -4.1M118.7 54.9h5.8M121.6 52.0v5.8M119.6 52.9l4.1 4.1M119.6 56.9l4.1 -4.1M119.8 55.9h5.8M122.7 53.0v5.8M120.7 53.8l4.1 4.1M120.7 57.9l4.1 -4.1M120.9 53.9h5.8M123.8 51.0v5.8M121.8 51.9l4.1 4.1M121.8 55.9l4.1 -4.1M122.1 53.9h5.8M125.0 51.0v5.8M122.9 51.8l4.1 4.1M122.9 55.9l4.1 -4.1M123.2 52.7h5.8M126.1 49.8v5.8M124.0 50.7l4.1 4.1M124.0 54.7l4.1 -4.1M124.3 52.5h5.8M127.2 49.6v5.8M125.1 50.5l4.1 4.1M125.1 54.5l4.1 -4.1M125.4 51.9h5.8M128.3 49.0v5.8M126.3 49.9l4.1 4.1M126.3 53.9l4.1 -4.1M126.5 51.6h5.8M129.4 48.7v5.8M127.4 49.6l4.1 4.1M127.4 53.6l4.1 -4.1M127.6 51.6h5.8M130.5 48.7v5.8M128.5 49.6l4.1 4.1M128.5 53.6l4.1 -4.1M128.7 51.6h5.8M131.6 48.7v5.8M129.6 49.6l4.1 4.1M129.6 53.7l4.1 -4.1M129.8 50.9h5.8M132.7 48.0v5.8M130.7 48.9l4.1 4.1M130.7 52.9l4.1 -4.1M130.9 50.8h5.8M133.8 47.9v5.8M131.8 48.7l4.1 4.1M131.8 52.8l4.1 -4.1M132.0 49.5h5.8M134.9 46.6v5.8M132.9 47.5l4.1 4.1M132.9 51.6l4.1 -4.1M133.2 50.0h5.8M136.1 47.1v5.8M134.0 47.9l4.1 4.1M134.0 52.0l4.1 -4.1M134.3 49.2h5.8M137.2 46.3v5.8M135.1 47.2l4.1 4.1M135.1 51.2l4.1 -4.1M135.4 49.2h5.8M138.3 46.3v5.8M136.2 47.1l4.1 4.1M136.2 51.2l4.1 -4.1M136.5 48.1h5.8M139.4 45.2v5.8M137.4 46.1l4.1 4.1M137.4 50.1l4.1 -4.1M137.6 47.8h5.8M140.5 44.9v5.8M138.5 45.8l4.1 4.1M138.5 49.9l4.1 -4.1M138.7 48.1h5.8M141.6 45.2v5.8M139.6 46.1l4.1 4.1M139.6 50.2l4.1 -4.1M139.8 47.5h5.8M142.7 44.6v5.8M140.7 45.5l4.1 4.1M140.7 49.6l4.1 -4.1M140.9 47.0h5.8M143.8 44.1v5.8M141.8 45.0l4.1 4.1M141.8 49.0l4.1 -4.1M142.0 46.4h5.8M144.9 43.5v5.8M142.9 44.4l4.1 4.1M142.9 48.4l4.1 -4.1M143.1 46.4h5.8M146.0 43.5v5.8M144.0 44.3l4.1 4.1M144.0 48.4l4.1 -4.1M144.3 46.3h5.8M147.2 43.4v5.8M145.1 44.3l4.1 4.1M145.1 48.4l4.1 -4.1M145.4 46.2h5.8M148.3 43.3v5.8M146.2 44.1l4.1 4.1M146.2 48.2l4.1 -4.1M146.5 45.4h5.8M149.4 42.5v5.8M147.3 43.4l4.1 4.1M147.3 47.5l4.1 -4.1M147.6 45.3h5.8M150.5 42.4v5.8M148.5 43.3l4.1 4.1M148.5 47.3l4.1 -4.1M148.7 45.4h5.8M151.6 42.5v5.8M149.6 43.4l4.1 4.1M149.6 47.4l4.1 -4.1M149.8 44.6h5.8M152.7 41.7v5.8M150.7 42.6l4.1 4.1M150.7 46.6l4.1 -4.1M150.9 45.2h5.8M153.8 42.3v5.8M151.8 43.2l4.1 4.1M151.8 47.3l4.1 -4.1M152.0 44.7h5.8M154.9 41.8v5.8M152.9 42.7l4.1 4.1M152.9 46.7l4.1 -4.1M153.1 44.5h5.8M156.0 41.6v5.8M154.0 42.5l4.1 4.1M154.0 46.5l4.1 -4.1M154.2 43.4h5.8M157.1 40.5v5.8M155.1 41.4l4.1 4.1M155.1 45.5l4.1 -4.1M155.4 43.6h5.8M158.3 40.7v5.8M156.2 41.6l4.1 4.1M156.2 45.6l4.1 -4.1M156.5 43.7h5.8M159.4 40.8v5.8M157.3 41.6l4.1 4.1M157.3 45.7l4.1 -4.1M157.6 43.7h5.8M160.5 40.8v5.8M158.4 41.7l4.1 4.1M158.4 45.7l4.1 -4.1M158.7 43.4h5.8M161.6 40.5v5.8M159.6 41.3l4.1 4.1M159.6 45.4l4.1 -4.1M159.8 43.8h5.8M162.7 40.9v5.8M160.7 41.8l4.1 4.1M160.7 45.8l4.1 -4.1M160.9 43.6h5.8M163.8 40.7v5.8M161.8 41.5l4.1 4.1M161.8 45.6l4.1 -4.1M162.0 43.3h5.8M164.9 40.4v5.8M162.9 41.2l4.1 4.1M162.9 45.3l4.1 -4.1M163.1 42.4h5.8M166.0 39.5v5.8M164.0 40.4l4.1 4.1M164.0 44.5l4.1 -4.1M164.2 43.7h5.8M167.1 40.8v5.8M165.1 41.6l4.1 4.1M165.1 45.7l4.1 -4.1M165.3 42.9h5.8M168.2 40.0v5.8M166.2 40.9l4.1 4.1M166.2 44.9l4.1 -4.1M166.5 43.1h5.8M169.4 40.2v5.8M167.3 41.1l4.1 4.1M167.3 45.1l4.1 -4.1M167.6 42.5h5.8M170.5 39.6v5.8M168.4 40.5l4.1 4.1M168.4 44.5l4.1 -4.1M168.7 42.6h5.8M171.6 39.7v5.8M169.5 40.6l4.1 4.1M169.5 44.7l4.1 -4.1M169.8 42.8h5.8M172.7 39.9v5.8M170.7 40.8l4.1 4.1M170.7 44.8l4.1 -4.1M171.6 47.1h5.8M174.5 44.2v5.8M172.5 45.1l4.1 4.1M172.5 49.1l4.1 -4.1M172.7 54.8h5.8M175.6 51.9v5.8M173.6 52.8l4.1 4.1M173.6 56.8l4.1 -4.1M173.8 57.7h5.8M176.7 54.8v5.8M174.7 55.7l4.1 4.1M174.7 59.8l4.1 -4.1M174.9 60.5h5.8M177.8 57.6v5.8M175.8 58.5l4.1 4.1M175.8 62.5l4.1 -4.1M176.0 60.9h5.8M178.9 58.0v5.8M176.9 58.9l4.1 4.1M176.9 62.9l4.1 -4.1M177.2 62.8h5.8M180.1 59.9v5.8M178.0 60.8l4.1 4.1M178.0 64.8l4.1 -4.1M178.3 64.2h5.8M181.2 61.3v5.8M179.1 62.1l4.1 4.1M179.1 66.2l4.1 -4.1M179.4 64.3h5.8M182.3 61.4v5.8M180.2 62.2l4.1 4.1M180.2 66.3l4.1 -4.1M180.5 64.7h5.8M183.4 61.8v5.8M181.4 62.7l4.1 4.1M181.4 66.7l4.1 -4.1M181.6 64.6h5.8M184.5 61.7v5.8M182.5 62.6l4.1 4.1M182.5 66.6l4.1 -4.1M182.7 66.1h5.8M185.6 63.2v5.8M183.6 64.1l4.1 4.1M183.6 68.2l4.1 -4.1M183.8 65.2h5.8M186.7 62.3v5.8M184.7 63.2l4.1 4.1M184.7 67.3l4.1 -4.1M184.9 66.5h5.8M187.8 63.6v5.8M185.8 64.5l4.1 4.1M185.8 68.6l4.1 -4.1M186.0 66.7h5.8M188.9 63.8v5.8M186.9 64.7l4.1 4.1M186.9 68.8l4.1 -4.1M187.1 67.4h5.8M190.0 64.5v5.8M188.0 65.3l4.1 4.1M188.0 69.4l4.1 -4.1M188.3 68.0h5.8M191.2 65.1v5.8M189.1 66.0l4.1 4.1M189.1 70.0l4.1 -4.1M189.4 67.5h5.8M192.3 64.6v5.8M190.2 65.5l4.1 4.1M190.2 69.6l4.1 -4.1M190.5 67.9h5.8M193.4 65.0v5.8M191.3 65.9l4.1 4.1M191.3 69.9l4.1 -4.1M191.6 68.5h5.8M194.5 65.6v5.8M192.5 66.5l4.1 4.1M192.5 70.5l4.1 -4.1M192.7 68.3h5.8M195.6 65.4v5.8M193.6 66.3l4.1 4.1M193.6 70.3l4.1 -4.1M193.8 69.6h5.8M196.7 66.7v5.8M194.7 67.6l4.1 4.1M194.7 71.7l4.1 -4.1M194.9 69.4h5.8M197.8 66.5v5.8M195.8 67.4l4.1 4.1M195.8 71.5l4.1 -4.1M196.0 69.9h5.8M198.9 67.0v5.8M196.9 67.9l4.1 4.1M196.9 71.9l4.1 -4.1M197.1 69.5h5.8M200.0 66.6v5.8M198.0 67.5l4.1 4.1M198.0 71.6l4.1 -4.1M198.2 70.1h5.8M201.1 67.2v5.8M199.1 68.1l4.1 4.1M199.1 72.1l4.1 -4.1M199.4 70.0h5.8M202.3 67.1v5.8M200.2 67.9l4.1 4.1M200.2 72.0l4.1 -4.1M200.5 70.3h5.8M203.4 67.4v5.8M201.3 68.3l4.1 4.1M201.3 72.3l4.1 -4.1M201.6 70.0h5.8M204.5 67.1v5.8M202.4 68.0l4.1 4.1M202.4 72.0l4.1 -4.1M202.7 70.9h5.8M205.6 68.0v5.8M203.6 68.9l4.1 4.1M203.6 73.0l4.1 -4.1M203.8 70.4h5.8M206.7 67.5v5.8M204.7 68.3l4.1 4.1M204.7 72.4l4.1 -4.1M204.9 69.7h5.8M207.8 66.8v5.8M205.8 67.7l4.1 4.1M205.8 71.7l4.1 -4.1M206.0 71.0h5.8M208.9 68.1v5.8M206.9 69.0l4.1 4.1M206.9 73.1l4.1 -4.1M207.1 70.8h5.8M210.0 67.9v5.8M208.0 68.7l4.1 4.1M208.0 72.8l4.1 -4.1M208.2 70.6h5.8M211.1 67.7v5.8M209.1 68.6l4.1 4.1M209.1 72.6l4.1 -4.1M209.3 72.0h5.8M212.2 69.1v5.8M210.2 70.0l4.1 4.1M210.2 74.1l4.1 -4.1M210.5 71.1h5.8M213.4 68.2v5.8M211.3 69.0l4.1 4.1M211.3 73.1l4.1 -4.1M211.6 70.6h5.8M214.5 67.7v5.8M212.4 68.6l4.1 4.1M212.4 72.7l4.1 -4.1M212.7 71.0h5.8M215.6 68.1v5.8M213.5 68.9l4.1 4.1M213.5 73.0l4.1 -4.1M213.8 71.4h5.8M216.7 68.5v5.8M214.7 69.4l4.1 4.1M214.7 73.5l4.1 -4.1M214.9 71.2h5.8M217.8 68.3v5.8M215.8 69.2l4.1 4.1M215.8 73.3l4.1 -4.1M216.0 71.9h5.8M218.9 69.0v5.8M216.9 69.9l4.1 4.1M216.9 73.9l4.1 -4.1M217.1 71.9h5.8M220.0 69.0v5.8M218.0 69.8l4.1 4.1M218.0 73.9l4.1 -4.1M218.2 71.2h5.8M221.1 68.3v5.8M219.1 69.2l4.1 4.1M219.1 73.2l4.1 -4.1M219.3 71.6h5.8M222.2 68.7v5.8M220.2 69.5l4.1 4.1M220.2 73.6l4.1 -4.1M220.4 71.8h5.8M223.3 68.9v5.8M221.3 69.8l4.1 4.1M221.3 73.9l4.1 -4.1M221.6 71.5h5.8M224.5 68.6v5.8M222.4 69.4l4.1 4.1M222.4 73.5l4.1 -4.1M222.7 71.5h5.8M225.6 68.6v5.8M223.5 69.5l4.1 4.1M223.5 73.5l4.1 -4.1M223.8 72.1h5.8M226.7 69.2v5.8M224.6 70.0l4.1 4.1M224.6 74.1l4.1 -4.1M224.9 71.9h5.8M227.8 69.0v5.8M225.8 69.9l4.1 4.1M225.8 74.0l4.1 -4.1M226.0 71.2h5.8M228.9 68.3v5.8M226.9 69.2l4.1 4.1M226.9 73.3l4.1 -4.1M227.1 71.6h5.8M230.0 68.7v5.8M228.0 69.6l4.1 4.1M228.0 73.7l4.1 -4.1M228.2 71.7h5.8M231.1 68.8v5.8M229.1 69.7l4.1 4.1M229.1 73.7l4.1 -4.1M229.3 71.9h5.8M232.2 69.0v5.8M230.2 69.8l4.1 4.1M230.2 73.9l4.1 -4.1M230.4 71.7h5.8M233.3 68.8v5.8M231.3 69.6l4.1 4.1M231.3 73.7l4.1 -4.1M231.5 72.5h5.8M234.4 69.6v5.8M232.4 70.5l4.1 4.1M232.4 74.6l4.1 -4.1M232.7 71.6h5.8M235.6 68.7v5.8M233.5 69.6l4.1 4.1M233.5 73.7l4.1 -4.1M233.8 71.6h5.8M236.7 68.7v5.8M234.6 69.6l4.1 4.1M234.6 73.7l4.1 -4.1M234.9 72.2h5.8M237.8 69.3v5.8M235.7 70.2l4.1 4.1M235.7 74.2l4.1 -4.1M236.0 71.2h5.8M238.9 68.3v5.8M236.9 69.2l4.1 4.1M236.9 73.3l4.1 -4.1M237.1 71.8h5.8M240.0 68.9v5.8M238.0 69.7l4.1 4.1M238.0 73.8l4.1 -4.1M238.2 72.5h5.8M241.1 69.6v5.8M239.1 70.4l4.1 4.1M239.1 74.5l4.1 -4.1M239.3 71.7h5.8M242.2 68.8v5.8M240.2 69.7l4.1 4.1M240.2 73.8l4.1 -4.1M240.4 72.0h5.8M243.3 69.1v5.8M241.3 69.9l4.1 4.1M241.3 74.0l4.1 -4.1M241.5 72.8h5.8M244.4 69.9v5.8M242.4 70.7l4.1 4.1M242.4 74.8l4.1 -4.1M242.6 72.6h5.8M245.5 69.7v5.8M243.5 70.5l4.1 4.1M243.5 74.6l4.1 -4.1M243.8 72.4h5.8M246.7 69.5v5.8M244.6 70.4l4.1 4.1M244.6 74.5l4.1 -4.1M244.9 72.5h5.8M247.8 69.6v5.8M245.7 70.5l4.1 4.1M245.7 74.6l4.1 -4.1M246.0 72.2h5.8M248.9 69.3v5.8M246.8 70.2l4.1 4.1M246.8 74.2l4.1 -4.1M247.1 72.6h5.8M250.0 69.7v5.8M248.0 70.6l4.1 4.1M248.0 74.7l4.1 -4.1M248.2 72.5h5.8M251.1 69.6v5.8M249.1 70.4l4.1 4.1M249.1 74.5l4.1 -4.1M249.3 73.6h5.8M252.2 70.7v5.8M250.2 71.5l4.1 4.1M250.2 75.6l4.1 -4.1M250.4 72.8h5.8M253.3 69.9v5.8M251.3 70.8l4.1 4.1M251.3 74.8l4.1 -4.1M251.5 72.5h5.8M254.4 69.6v5.8M252.4 70.5l4.1 4.1M252.4 74.5l4.1 -4.1M252.6 72.6h5.8M255.5 69.7v5.8M253.5 70.6l4.1 4.1M253.5 74.7l4.1 -4.1M253.7 72.7h5.8M256.6 69.8v5.8M254.6 70.7l4.1 4.1M254.6 74.7l4.1 -4.1M254.9 72.2h5.8M257.8 69.3v5.8M255.7 70.1l4.1 4.1M255.7 74.2l4.1 -4.1M256.0 72.4h5.8M258.9 69.5v5.8M256.8 70.4l4.1 4.1M256.8 74.4l4.1 -4.1M257.1 73.4h5.8M260.0 70.5v5.8M257.9 71.3l4.1 4.1M257.9 75.4l4.1 -4.1M258.2 72.2h5.8M261.1 69.3v5.8M259.1 70.2l4.1 4.1M259.1 74.2l4.1 -4.1" fill="none" stroke="#e60000" stroke-width="1.05"/>
<line x1="263" y1="31" x2="263" y2="62" stroke="#b4d200" stroke-width="0.6" />
<path d="M260.4 31.0h5.2M263.0 28.4v5.2M261.2 29.2l3.6 3.6M261.2 32.8l3.6 -3.6" fill="none" stroke="#b4d200" stroke-width="1"/>
<path d="M259.3 42.3h4.4v4.4h-4.4z" fill="none" stroke="#e60000" stroke-width="0.9"/>
</g>
<rect x="30.5" y="2.5" width="244.0" height="182.0" stroke="#000" stroke-width="1" fill="none"/>
<line x1="40.5" y1="184.5" x2="40.5" y2="182.3" stroke="#000" stroke-width="1" />
<line x1="40.5" y1="2.5" x2="40.5" y2="4.7" stroke="#000" stroke-width="1" />
<text x="38.0" y="193.8" font-size="9.2" font-weight="bold" text-anchor="middle" fill="#000" >&#8722;1</text>
<line x1="85.5" y1="184.5" x2="85.5" y2="182.3" stroke="#000" stroke-width="1" />
<line x1="85.5" y1="2.5" x2="85.5" y2="4.7" stroke="#000" stroke-width="1" />
<text x="85.0" y="193.8" font-size="9.2" font-weight="bold" text-anchor="middle" fill="#000" >0</text>
<line x1="130.5" y1="184.5" x2="130.5" y2="182.3" stroke="#000" stroke-width="1" />
<line x1="130.5" y1="2.5" x2="130.5" y2="4.7" stroke="#000" stroke-width="1" />
<text x="130.0" y="193.8" font-size="9.2" font-weight="bold" text-anchor="middle" fill="#000" >1</text>
<line x1="174.5" y1="184.5" x2="174.5" y2="182.3" stroke="#000" stroke-width="1" />
<line x1="174.5" y1="2.5" x2="174.5" y2="4.7" stroke="#000" stroke-width="1" />
<text x="174.0" y="193.8" font-size="9.2" font-weight="bold" text-anchor="middle" fill="#000" >2</text>
<line x1="219.5" y1="184.5" x2="219.5" y2="182.3" stroke="#000" stroke-width="1" />
<line x1="219.5" y1="2.5" x2="219.5" y2="4.7" stroke="#000" stroke-width="1" />
<text x="219.0" y="193.8" font-size="9.2" font-weight="bold" text-anchor="middle" fill="#000" >3</text>
<line x1="263.5" y1="184.5" x2="263.5" y2="182.3" stroke="#000" stroke-width="1" />
<line x1="263.5" y1="2.5" x2="263.5" y2="4.7" stroke="#000" stroke-width="1" />
<text x="263.0" y="193.8" font-size="9.2" font-weight="bold" text-anchor="middle" fill="#000" >4</text>
<line x1="30.5" y1="169.5" x2="32.5" y2="169.5" stroke="#000" stroke-width="1" />
<line x1="274.5" y1="169.5" x2="272.5" y2="169.5" stroke="#000" stroke-width="1" />
<text x="28.3" y="172.5" font-size="8.6" font-weight="bold" text-anchor="end" fill="#000" >0</text>
<line x1="30.5" y1="144.5" x2="32.5" y2="144.5" stroke="#000" stroke-width="1" />
<line x1="274.5" y1="144.5" x2="272.5" y2="144.5" stroke="#000" stroke-width="1" />
<text x="28.3" y="147.5" font-size="8.6" font-weight="bold" text-anchor="end" fill="#000" >0.01</text>
<line x1="30.5" y1="120.5" x2="32.5" y2="120.5" stroke="#000" stroke-width="1" />
<line x1="274.5" y1="120.5" x2="272.5" y2="120.5" stroke="#000" stroke-width="1" />
<text x="28.3" y="123.5" font-size="8.6" font-weight="bold" text-anchor="end" fill="#000" >0.02</text>
<line x1="30.5" y1="96.5" x2="32.5" y2="96.5" stroke="#000" stroke-width="1" />
<line x1="274.5" y1="96.5" x2="272.5" y2="96.5" stroke="#000" stroke-width="1" />
<text x="28.3" y="99.5" font-size="8.6" font-weight="bold" text-anchor="end" fill="#000" >0.03</text>
<line x1="30.5" y1="71.5" x2="32.5" y2="71.5" stroke="#000" stroke-width="1" />
<line x1="274.5" y1="71.5" x2="272.5" y2="71.5" stroke="#000" stroke-width="1" />
<text x="28.3" y="74.5" font-size="8.6" font-weight="bold" text-anchor="end" fill="#000" >0.04</text>
<line x1="30.5" y1="46.5" x2="32.5" y2="46.5" stroke="#000" stroke-width="1" />
<line x1="274.5" y1="46.5" x2="272.5" y2="46.5" stroke="#000" stroke-width="1" />
<text x="28.3" y="49.5" font-size="8.6" font-weight="bold" text-anchor="end" fill="#000" >0.05</text>
<line x1="30.5" y1="22.5" x2="32.5" y2="22.5" stroke="#000" stroke-width="1" />
<line x1="274.5" y1="22.5" x2="272.5" y2="22.5" stroke="#000" stroke-width="1" />
<text x="28.3" y="25.5" font-size="8.6" font-weight="bold" text-anchor="end" fill="#000" >0.06</text>
<text x="151.5" y="201.5" font-size="10" font-weight="bold" text-anchor="middle" fill="#000" >t [s]</text>
<text transform="translate(7.5,88.2) rotate(-90)" font-size="8.95" font-weight="bold" text-anchor="middle">J(t) = &#949;(t)/&#963;<tspan font-size="6" dy="2">0</tspan><tspan dy="-2"> [arb. units]</tspan></text>
<text x="264.5" y="15" font-size="10.5" font-weight="bold" text-anchor="middle" fill="#000" >A</text>
<rect x="38.5" y="15.5" width="45.5" height="44.5" fill="#fff" stroke="#000" stroke-width="1"/>
<text x="55.5" y="25.5" font-size="9.5" font-weight="normal" text-anchor="middle" fill="#000" >T</text>
<text x="62.5" y="27" font-size="4" font-weight="normal" text-anchor="middle" fill="#000" >setup</text>
<path d="M45.2 34.3h6.0M48.2 31.3v6.0M46.1 32.2l4.2 4.2M46.1 36.4l4.2 -4.2" fill="none" stroke="#000" stroke-width="0.9"/>
<path d="M45.9 41.2h4.6v4.6h-4.6z" fill="none" stroke="#000" stroke-width="1"/>
<path d="M45.4 52.6a2.8 2.8 0 1 0 5.6 0a2.8 2.8 0 1 0 -5.6 0" fill="none" stroke="#000" stroke-width="1"/>
<text x="58.3" y="37.5" font-size="8.9" font-weight="normal" text-anchor="start" fill="#000" >37 &#176;C</text>
<text x="58.3" y="46.7" font-size="8.9" font-weight="normal" text-anchor="start" fill="#000" >25 &#176;C</text>
<text x="58.3" y="55.9" font-size="8.9" font-weight="normal" text-anchor="start" fill="#000" >15 &#176;C</text>
<rect x="38.5" y="65.5" width="45.5" height="50" fill="#fff" stroke="#000" stroke-width="1"/>
<text x="41" y="76.2" font-size="8.3" font-weight="bold" text-anchor="start" fill="#000" >+&#916;T</text>
<text x="56.5" y="77.6" font-size="4.1" font-weight="normal" text-anchor="start" fill="#000" >stretch</text>
<text x="68.2" y="76.2" font-size="8.3" font-weight="bold" text-anchor="start" fill="#000" >[&#176;C]</text>
<line x1="42.8" y1="82.7" x2="58.4" y2="82.7" stroke="#e60000" stroke-width="2.9" />
<text x="62.6" y="85.7" font-size="8.7" font-weight="normal" text-anchor="start" fill="#000" >34.8</text>
<line x1="42.8" y1="92" x2="58.4" y2="92" stroke="#b4d200" stroke-width="2.9" />
<text x="62.6" y="95.0" font-size="8.7" font-weight="normal" text-anchor="start" fill="#000" >29.4</text>
<line x1="42.8" y1="101.5" x2="58.4" y2="101.5" stroke="#3ee6a8" stroke-width="2.9" />
<text x="62.6" y="104.5" font-size="8.7" font-weight="normal" text-anchor="start" fill="#000" >22.9</text>
<line x1="42.8" y1="110.8" x2="58.4" y2="110.8" stroke="#1e3ce6" stroke-width="2.9" />
<text x="62.6" y="113.8" font-size="8.7" font-weight="normal" text-anchor="start" fill="#000" >16.4</text>
<line x1="97" y1="52.5" x2="100.6" y2="62.5" stroke="#000" stroke-width="1.3" />
<path d="M98.2 61.3 L101.4 65.5 L101.9 60.4 Z" fill="#000"/>
<g clip-path="url(#clipB)">
<polyline points="325.9,166.1 345.4,164.2 355.8,164.5 362.3,162.5 368,161" fill="none" stroke="#1e3ce6" stroke-width="0.7" stroke-dasharray="0.8 1.2"/>
<path d="M323.6 166.1a2.3 2.3 0 1 0 4.6 0a2.3 2.3 0 1 0 -4.6 0" fill="none" stroke="#1e3ce6" stroke-width="1"/>
<path d="M343.1 164.4a2.3 2.3 0 1 0 4.6 0a2.3 2.3 0 1 0 -4.6 0" fill="none" stroke="#3ee6a8" stroke-width="1"/>
<path d="M343.1 163.8a2.3 2.3 0 1 0 4.6 0a2.3 2.3 0 1 0 -4.6 0" fill="none" stroke="#1e3ce6" stroke-width="1"/>
<path d="M353.5 164.5h4.6v4.6h-4.6z" fill="none" stroke="#1e3ce6" stroke-width="1"/>
<path d="M353.5 164.5a2.3 2.3 0 1 0 4.6 0a2.3 2.3 0 1 0 -4.6 0" fill="none" stroke="#3ee6a8" stroke-width="1"/>
<path d="M353.5 160.2h4.6v4.6h-4.6z" fill="none" stroke="#1e3ce6" stroke-width="1"/>
<path d="M360.0 162.2h4.6v4.6h-4.6z" fill="none" stroke="#b4d200" stroke-width="1"/>
<path d="M360.0 161.2a2.3 2.3 0 1 0 4.6 0a2.3 2.3 0 1 0 -4.6 0" fill="none" stroke="#1e3ce6" stroke-width="1"/>
<path d="M382.6 159.8a2.4 2.4 0 1 0 4.8 0a2.4 2.4 0 1 0 -4.8 0M386.2 159.7a2.4 2.4 0 1 0 4.8 0a2.4 2.4 0 1 0 -4.8 0M389.8 159.0a2.4 2.4 0 1 0 4.8 0a2.4 2.4 0 1 0 -4.8 0M393.4 156.9a2.4 2.4 0 1 0 4.8 0a2.4 2.4 0 1 0 -4.8 0M397.0 156.5a2.4 2.4 0 1 0 4.8 0a2.4 2.4 0 1 0 -4.8 0M400.6 154.3a2.4 2.4 0 1 0 4.8 0a2.4 2.4 0 1 0 -4.8 0M404.2 153.6a2.4 2.4 0 1 0 4.8 0a2.4 2.4 0 1 0 -4.8 0M408.4 151.3a2.4 2.4 0 1 0 4.8 0a2.4 2.4 0 1 0 -4.8 0M412.6 148.5a2.4 2.4 0 1 0 4.8 0a2.4 2.4 0 1 0 -4.8 0M416.8 146.0a2.4 2.4 0 1 0 4.8 0a2.4 2.4 0 1 0 -4.8 0M421.0 142.7a2.4 2.4 0 1 0 4.8 0a2.4 2.4 0 1 0 -4.8 0M425.2 138.5a2.4 2.4 0 1 0 4.8 0a2.4 2.4 0 1 0 -4.8 0M429.4 135.8a2.4 2.4 0 1 0 4.8 0a2.4 2.4 0 1 0 -4.8 0M433.6 130.8a2.4 2.4 0 1 0 4.8 0a2.4 2.4 0 1 0 -4.8 0M437.8 127.3a2.4 2.4 0 1 0 4.8 0a2.4 2.4 0 1 0 -4.8 0M439.8 124.7a2.4 2.4 0 1 0 4.8 0a2.4 2.4 0 1 0 -4.8 0M441.8 122.3a2.4 2.4 0 1 0 4.8 0a2.4 2.4 0 1 0 -4.8 0M443.8 120.7a2.4 2.4 0 1 0 4.8 0a2.4 2.4 0 1 0 -4.8 0M445.8 119.4a2.4 2.4 0 1 0 4.8 0a2.4 2.4 0 1 0 -4.8 0M447.8 117.9a2.4 2.4 0 1 0 4.8 0a2.4 2.4 0 1 0 -4.8 0M449.8 116.4a2.4 2.4 0 1 0 4.8 0a2.4 2.4 0 1 0 -4.8 0M451.8 113.9a2.4 2.4 0 1 0 4.8 0a2.4 2.4 0 1 0 -4.8 0M453.8 111.8a2.4 2.4 0 1 0 4.8 0a2.4 2.4 0 1 0 -4.8 0M455.8 109.5a2.4 2.4 0 1 0 4.8 0a2.4 2.4 0 1 0 -4.8 0M457.0 108.7a2.4 2.4 0 1 0 4.8 0a2.4 2.4 0 1 0 -4.8 0M458.2 107.7a2.4 2.4 0 1 0 4.8 0a2.4 2.4 0 1 0 -4.8 0M459.4 105.4a2.4 2.4 0 1 0 4.8 0a2.4 2.4 0 1 0 -4.8 0M460.6 105.5a2.4 2.4 0 1 0 4.8 0a2.4 2.4 0 1 0 -4.8 0M461.8 104.1a2.4 2.4 0 1 0 4.8 0a2.4 2.4 0 1 0 -4.8 0M463.0 103.1a2.4 2.4 0 1 0 4.8 0a2.4 2.4 0 1 0 -4.8 0M464.2 100.3a2.4 2.4 0 1 0 4.8 0a2.4 2.4 0 1 0 -4.8 0M465.4 99.1a2.4 2.4 0 1 0 4.8 0a2.4 2.4 0 1 0 -4.8 0M466.6 97.4a2.4 2.4 0 1 0 4.8 0a2.4 2.4 0 1 0 -4.8 0M467.8 95.2a2.4 2.4 0 1 0 4.8 0a2.4 2.4 0 1 0 -4.8 0M469.0 93.6a2.4 2.4 0 1 0 4.8 0a2.4 2.4 0 1 0 -4.8 0M470.2 91.8a2.4 2.4 0 1 0 4.8 0a2.4 2.4 0 1 0 -4.8 0M471.4 90.5a2.4 2.4 0 1 0 4.8 0a2.4 2.4 0 1 0 -4.8 0M472.6 88.6a2.4 2.4 0 1 0 4.8 0a2.4 2.4 0 1 0 -4.8 0M473.8 87.2a2.4 2.4 0 1 0 4.8 0a2.4 2.4 0 1 0 -4.8 0M475.0 84.8a2.4 2.4 0 1 0 4.8 0a2.4 2.4 0 1 0 -4.8 0M476.2 82.7a2.4 2.4 0 1 0 4.8 0a2.4 2.4 0 1 0 -4.8 0M477.4 81.8a2.4 2.4 0 1 0 4.8 0a2.4 2.4 0 1 0 -4.8 0M478.6 80.1a2.4 2.4 0 1 0 4.8 0a2.4 2.4 0 1 0 -4.8 0M479.8 78.5a2.4 2.4 0 1 0 4.8 0a2.4 2.4 0 1 0 -4.8 0M481.0 76.9a2.4 2.4 0 1 0 4.8 0a2.4 2.4 0 1 0 -4.8 0M482.2 74.4a2.4 2.4 0 1 0 4.8 0a2.4 2.4 0 1 0 -4.8 0M483.4 73.2a2.4 2.4 0 1 0 4.8 0a2.4 2.4 0 1 0 -4.8 0M484.6 70.6a2.4 2.4 0 1 0 4.8 0a2.4 2.4 0 1 0 -4.8 0M485.8 69.2a2.4 2.4 0 1 0 4.8 0a2.4 2.4 0 1 0 -4.8 0M487.0 67.6a2.4 2.4 0 1 0 4.8 0a2.4 2.4 0 1 0 -4.8 0M488.2 65.5a2.4 2.4 0 1 0 4.8 0a2.4 2.4 0 1 0 -4.8 0M489.4 63.8a2.4 2.4 0 1 0 4.8 0a2.4 2.4 0 1 0 -4.8 0" fill="none" stroke="#b4d200" stroke-width="1"/>
<path d="M390.6 156.7a2.4 2.4 0 1 0 4.8 0a2.4 2.4 0 1 0 -4.8 0M394.2 155.7a2.4 2.4 0 1 0 4.8 0a2.4 2.4 0 1 0 -4.8 0M397.8 154.7a2.4 2.4 0 1 0 4.8 0a2.4 2.4 0 1 0 -4.8 0M401.4 152.6a2.4 2.4 0 1 0 4.8 0a2.4 2.4 0 1 0 -4.8 0M405.0 151.3a2.4 2.4 0 1 0 4.8 0a2.4 2.4 0 1 0 -4.8 0M409.2 150.6a2.4 2.4 0 1 0 4.8 0a2.4 2.4 0 1 0 -4.8 0M413.4 147.2a2.4 2.4 0 1 0 4.8 0a2.4 2.4 0 1 0 -4.8 0M417.6 143.8a2.4 2.4 0 1 0 4.8 0a2.4 2.4 0 1 0 -4.8 0M421.8 140.4a2.4 2.4 0 1 0 4.8 0a2.4 2.4 0 1 0 -4.8 0M426.0 137.6a2.4 2.4 0 1 0 4.8 0a2.4 2.4 0 1 0 -4.8 0M430.2 132.0a2.4 2.4 0 1 0 4.8 0a2.4 2.4 0 1 0 -4.8 0M434.4 129.0a2.4 2.4 0 1 0 4.8 0a2.4 2.4 0 1 0 -4.8 0M438.6 125.2a2.4 2.4 0 1 0 4.8 0a2.4 2.4 0 1 0 -4.8 0M440.6 122.9a2.4 2.4 0 1 0 4.8 0a2.4 2.4 0 1 0 -4.8 0M442.6 121.5a2.4 2.4 0 1 0 4.8 0a2.4 2.4 0 1 0 -4.8 0M444.6 119.0a2.4 2.4 0 1 0 4.8 0a2.4 2.4 0 1 0 -4.8 0M446.6 117.6a2.4 2.4 0 1 0 4.8 0a2.4 2.4 0 1 0 -4.8 0M448.6 115.8a2.4 2.4 0 1 0 4.8 0a2.4 2.4 0 1 0 -4.8 0M450.6 113.9a2.4 2.4 0 1 0 4.8 0a2.4 2.4 0 1 0 -4.8 0M452.6 112.1a2.4 2.4 0 1 0 4.8 0a2.4 2.4 0 1 0 -4.8 0M454.6 110.1a2.4 2.4 0 1 0 4.8 0a2.4 2.4 0 1 0 -4.8 0M456.6 108.6a2.4 2.4 0 1 0 4.8 0a2.4 2.4 0 1 0 -4.8 0M457.8 106.8a2.4 2.4 0 1 0 4.8 0a2.4 2.4 0 1 0 -4.8 0M459.0 105.4a2.4 2.4 0 1 0 4.8 0a2.4 2.4 0 1 0 -4.8 0M460.2 104.3a2.4 2.4 0 1 0 4.8 0a2.4 2.4 0 1 0 -4.8 0M461.4 102.9a2.4 2.4 0 1 0 4.8 0a2.4 2.4 0 1 0 -4.8 0M462.6 101.0a2.4 2.4 0 1 0 4.8 0a2.4 2.4 0 1 0 -4.8 0M463.8 99.3a2.4 2.4 0 1 0 4.8 0a2.4 2.4 0 1 0 -4.8 0M465.0 98.0a2.4 2.4 0 1 0 4.8 0a2.4 2.4 0 1 0 -4.8 0M466.2 97.0a2.4 2.4 0 1 0 4.8 0a2.4 2.4 0 1 0 -4.8 0M467.4 95.0a2.4 2.4 0 1 0 4.8 0a2.4 2.4 0 1 0 -4.8 0M468.6 93.3a2.4 2.4 0 1 0 4.8 0a2.4 2.4 0 1 0 -4.8 0M469.8 92.9a2.4 2.4 0 1 0 4.8 0a2.4 2.4 0 1 0 -4.8 0M471.0 90.3a2.4 2.4 0 1 0 4.8 0a2.4 2.4 0 1 0 -4.8 0M472.2 88.0a2.4 2.4 0 1 0 4.8 0a2.4 2.4 0 1 0 -4.8 0M473.4 86.0a2.4 2.4 0 1 0 4.8 0a2.4 2.4 0 1 0 -4.8 0M474.6 85.1a2.4 2.4 0 1 0 4.8 0a2.4 2.4 0 1 0 -4.8 0M475.8 82.5a2.4 2.4 0 1 0 4.8 0a2.4 2.4 0 1 0 -4.8 0M477.0 81.6a2.4 2.4 0 1 0 4.8 0a2.4 2.4 0 1 0 -4.8 0M478.2 79.7a2.4 2.4 0 1 0 4.8 0a2.4 2.4 0 1 0 -4.8 0M479.4 78.3a2.4 2.4 0 1 0 4.8 0a2.4 2.4 0 1 0 -4.8 0M480.6 75.7a2.4 2.4 0 1 0 4.8 0a2.4 2.4 0 1 0 -4.8 0M481.8 74.6a2.4 2.4 0 1 0 4.8 0a2.4 2.4 0 1 0 -4.8 0M483.0 71.7a2.4 2.4 0 1 0 4.8 0a2.4 2.4 0 1 0 -4.8 0M484.2 70.5a2.4 2.4 0 1 0 4.8 0a2.4 2.4 0 1 0 -4.8 0M485.4 69.2a2.4 2.4 0 1 0 4.8 0a2.4 2.4 0 1 0 -4.8 0M486.6 67.2a2.4 2.4 0 1 0 4.8 0a2.4 2.4 0 1 0 -4.8 0M487.8 64.4a2.4 2.4 0 1 0 4.8 0a2.4 2.4 0 1 0 -4.8 0M489.0 63.5a2.4 2.4 0 1 0 4.8 0a2.4 2.4 0 1 0 -4.8 0M490.2 61.6a2.4 2.4 0 1 0 4.8 0a2.4 2.4 0 1 0 -4.8 0M491.4 59.4a2.4 2.4 0 1 0 4.8 0a2.4 2.4 0 1 0 -4.8 0M492.6 57.2a2.4 2.4 0 1 0 4.8 0a2.4 2.4 0 1 0 -4.8 0M493.8 55.3a2.4 2.4 0 1 0 4.8 0a2.4 2.4 0 1 0 -4.8 0M495.0 53.2a2.4 2.4 0 1 0 4.8 0a2.4 2.4 0 1 0 -4.8 0M496.2 51.9a2.4 2.4 0 1 0 4.8 0a2.4 2.4 0 1 0 -4.8 0M497.4 49.9a2.4 2.4 0 1 0 4.8 0a2.4 2.4 0 1 0 -4.8 0M498.6 48.3a2.4 2.4 0 1 0 4.8 0a2.4 2.4 0 1 0 -4.8 0M499.8 46.4a2.4 2.4 0 1 0 4.8 0a2.4 2.4 0 1 0 -4.8 0M501.0 43.9a2.4 2.4 0 1 0 4.8 0a2.4 2.4 0 1 0 -4.8 0M502.2 42.8a2.4 2.4 0 1 0 4.8 0a2.4 2.4 0 1 0 -4.8 0M503.4 41.9a2.4 2.4 0 1 0 4.8 0a2.4 2.4 0 1 0 -4.8 0M504.6 39.0a2.4 2.4 0 1 0 4.8 0a2.4 2.4 0 1 0 -4.8 0M505.8 37.9a2.4 2.4 0 1 0 4.8 0a2.4 2.4 0 1 0 -4.8 0M507.0 35.9a2.4 2.4 0 1 0 4.8 0a2.4 2.4 0 1 0 -4.8 0M508.2 34.3a2.4 2.4 0 1 0 4.8 0a2.4 2.4 0 1 0 -4.8 0M509.4 33.3a2.4 2.4 0 1 0 4.8 0a2.4 2.4 0 1 0 -4.8 0M510.6 32.1a2.4 2.4 0 1 0 4.8 0a2.4 2.4 0 1 0 -4.8 0M511.8 30.7a2.4 2.4 0 1 0 4.8 0a2.4 2.4 0 1 0 -4.8 0M513.0 29.3a2.4 2.4 0 1 0 4.8 0a2.4 2.4 0 1 0 -4.8 0M514.2 28.2a2.4 2.4 0 1 0 4.8 0a2.4 2.4 0 1 0 -4.8 0M515.4 26.0a2.4 2.4 0 1 0 4.8 0a2.4 2.4 0 1 0 -4.8 0M516.6 25.8a2.4 2.4 0 1 0 4.8 0a2.4 2.4 0 1 0 -4.8 0M517.8 24.6a2.4 2.4 0 1 0 4.8 0a2.4 2.4 0 1 0 -4.8 0M519.0 23.4a2.4 2.4 0 1 0 4.8 0a2.4 2.4 0 1 0 -4.8 0M520.2 22.5a2.4 2.4 0 1 0 4.8 0a2.4 2.4 0 1 0 -4.8 0M521.4 21.2a2.4 2.4 0 1 0 4.8 0a2.4 2.4 0 1 0 -4.8 0M522.6 21.2a2.4 2.4 0 1 0 4.8 0a2.4 2.4 0 1 0 -4.8 0M523.8 19.7a2.4 2.4 0 1 0 4.8 0a2.4 2.4 0 1 0 -4.8 0M525.0 18.7a2.4 2.4 0 1 0 4.8 0a2.4 2.4 0 1 0 -4.8 0M526.2 18.5a2.4 2.4 0 1 0 4.8 0a2.4 2.4 0 1 0 -4.8 0M527.4 17.6a2.4 2.4 0 1 0 4.8 0a2.4 2.4 0 1 0 -4.8 0M528.6 17.1a2.4 2.4 0 1 0 4.8 0a2.4 2.4 0 1 0 -4.8 0M529.8 17.1a2.4 2.4 0 1 0 4.8 0a2.4 2.4 0 1 0 -4.8 0M531.0 15.7a2.4 2.4 0 1 0 4.8 0a2.4 2.4 0 1 0 -4.8 0M532.2 15.2a2.4 2.4 0 1 0 4.8 0a2.4 2.4 0 1 0 -4.8 0M533.4 15.4a2.4 2.4 0 1 0 4.8 0a2.4 2.4 0 1 0 -4.8 0M534.6 13.4a2.4 2.4 0 1 0 4.8 0a2.4 2.4 0 1 0 -4.8 0M535.8 13.5a2.4 2.4 0 1 0 4.8 0a2.4 2.4 0 1 0 -4.8 0M537.0 13.3a2.4 2.4 0 1 0 4.8 0a2.4 2.4 0 1 0 -4.8 0M538.2 13.0a2.4 2.4 0 1 0 4.8 0a2.4 2.4 0 1 0 -4.8 0M539.4 12.8a2.4 2.4 0 1 0 4.8 0a2.4 2.4 0 1 0 -4.8 0M540.6 11.2a2.4 2.4 0 1 0 4.8 0a2.4 2.4 0 1 0 -4.8 0M541.8 11.2a2.4 2.4 0 1 0 4.8 0a2.4 2.4 0 1 0 -4.8 0M543.0 10.6a2.4 2.4 0 1 0 4.8 0a2.4 2.4 0 1 0 -4.8 0" fill="none" stroke="#e60000" stroke-width="1"/>
<path d="M363.6 163.8a2.4 2.4 0 1 0 4.8 0a2.4 2.4 0 1 0 -4.8 0M367.2 163.1a2.4 2.4 0 1 0 4.8 0a2.4 2.4 0 1 0 -4.8 0M370.8 162.3a2.4 2.4 0 1 0 4.8 0a2.4 2.4 0 1 0 -4.8 0M374.4 162.6a2.4 2.4 0 1 0 4.8 0a2.4 2.4 0 1 0 -4.8 0M378.0 162.2a2.4 2.4 0 1 0 4.8 0a2.4 2.4 0 1 0 -4.8 0M381.6 160.9a2.4 2.4 0 1 0 4.8 0a2.4 2.4 0 1 0 -4.8 0M385.2 161.0a2.4 2.4 0 1 0 4.8 0a2.4 2.4 0 1 0 -4.8 0M388.8 159.6a2.4 2.4 0 1 0 4.8 0a2.4 2.4 0 1 0 -4.8 0M392.4 158.4a2.4 2.4 0 1 0 4.8 0a2.4 2.4 0 1 0 -4.8 0M396.0 156.4a2.4 2.4 0 1 0 4.8 0a2.4 2.4 0 1 0 -4.8 0" fill="none" stroke="#1e3ce6" stroke-width="1"/>
<path d="M365.6 163.3a2.4 2.4 0 1 0 4.8 0a2.4 2.4 0 1 0 -4.8 0M369.2 162.6a2.4 2.4 0 1 0 4.8 0a2.4 2.4 0 1 0 -4.8 0M372.8 161.8a2.4 2.4 0 1 0 4.8 0a2.4 2.4 0 1 0 -4.8 0M376.4 161.2a2.4 2.4 0 1 0 4.8 0a2.4 2.4 0 1 0 -4.8 0M380.0 160.3a2.4 2.4 0 1 0 4.8 0a2.4 2.4 0 1 0 -4.8 0M383.6 160.4a2.4 2.4 0 1 0 4.8 0a2.4 2.4 0 1 0 -4.8 0M387.2 159.4a2.4 2.4 0 1 0 4.8 0a2.4 2.4 0 1 0 -4.8 0M390.8 158.7a2.4 2.4 0 1 0 4.8 0a2.4 2.4 0 1 0 -4.8 0M394.4 157.4a2.4 2.4 0 1 0 4.8 0a2.4 2.4 0 1 0 -4.8 0" fill="none" stroke="#3ee6a8" stroke-width="1"/>
<path d="M397.6 156.5a2.4 2.4 0 1 0 4.8 0a2.4 2.4 0 1 0 -4.8 0M401.2 154.9a2.4 2.4 0 1 0 4.8 0a2.4 2.4 0 1 0 -4.8 0M404.8 154.2a2.4 2.4 0 1 0 4.8 0a2.4 2.4 0 1 0 -4.8 0M409.0 151.4a2.4 2.4 0 1 0 4.8 0a2.4 2.4 0 1 0 -4.8 0M413.2 149.7a2.4 2.4 0 1 0 4.8 0a2.4 2.4 0 1 0 -4.8 0M417.4 147.0a2.4 2.4 0 1 0 4.8 0a2.4 2.4 0 1 0 -4.8 0M421.6 142.9a2.4 2.4 0 1 0 4.8 0a2.4 2.4 0 1 0 -4.8 0M425.8 139.9a2.4 2.4 0 1 0 4.8 0a2.4 2.4 0 1 0 -4.8 0M430.0 135.7a2.4 2.4 0 1 0 4.8 0a2.4 2.4 0 1 0 -4.8 0M434.2 131.9a2.4 2.4 0 1 0 4.8 0a2.4 2.4 0 1 0 -4.8 0M438.4 127.3a2.4 2.4 0 1 0 4.8 0a2.4 2.4 0 1 0 -4.8 0M440.4 125.7a2.4 2.4 0 1 0 4.8 0a2.4 2.4 0 1 0 -4.8 0M442.4 124.0a2.4 2.4 0 1 0 4.8 0a2.4 2.4 0 1 0 -4.8 0M444.4 122.8a2.4 2.4 0 1 0 4.8 0a2.4 2.4 0 1 0 -4.8 0M446.4 120.5a2.4 2.4 0 1 0 4.8 0a2.4 2.4 0 1 0 -4.8 0M448.4 118.6a2.4 2.4 0 1 0 4.8 0a2.4 2.4 0 1 0 -4.8 0M450.4 116.0a2.4 2.4 0 1 0 4.8 0a2.4 2.4 0 1 0 -4.8 0M452.4 114.8a2.4 2.4 0 1 0 4.8 0a2.4 2.4 0 1 0 -4.8 0M454.4 112.4a2.4 2.4 0 1 0 4.8 0a2.4 2.4 0 1 0 -4.8 0M456.4 110.7a2.4 2.4 0 1 0 4.8 0a2.4 2.4 0 1 0 -4.8 0M457.6 109.6a2.4 2.4 0 1 0 4.8 0a2.4 2.4 0 1 0 -4.8 0M458.8 108.7a2.4 2.4 0 1 0 4.8 0a2.4 2.4 0 1 0 -4.8 0M460.0 107.3a2.4 2.4 0 1 0 4.8 0a2.4 2.4 0 1 0 -4.8 0M461.2 105.8a2.4 2.4 0 1 0 4.8 0a2.4 2.4 0 1 0 -4.8 0M462.4 104.3a2.4 2.4 0 1 0 4.8 0a2.4 2.4 0 1 0 -4.8 0M463.6 103.3a2.4 2.4 0 1 0 4.8 0a2.4 2.4 0 1 0 -4.8 0M464.8 100.9a2.4 2.4 0 1 0 4.8 0a2.4 2.4 0 1 0 -4.8 0M466.0 99.6a2.4 2.4 0 1 0 4.8 0a2.4 2.4 0 1 0 -4.8 0M467.2 98.5a2.4 2.4 0 1 0 4.8 0a2.4 2.4 0 1 0 -4.8 0M468.4 96.2a2.4 2.4 0 1 0 4.8 0a2.4 2.4 0 1 0 -4.8 0M469.6 94.8a2.4 2.4 0 1 0 4.8 0a2.4 2.4 0 1 0 -4.8 0M470.8 93.0a2.4 2.4 0 1 0 4.8 0a2.4 2.4 0 1 0 -4.8 0M472.0 91.6a2.4 2.4 0 1 0 4.8 0a2.4 2.4 0 1 0 -4.8 0M473.2 89.4a2.4 2.4 0 1 0 4.8 0a2.4 2.4 0 1 0 -4.8 0M474.4 86.6a2.4 2.4 0 1 0 4.8 0a2.4 2.4 0 1 0 -4.8 0M475.6 85.5a2.4 2.4 0 1 0 4.8 0a2.4 2.4 0 1 0 -4.8 0M476.8 84.0a2.4 2.4 0 1 0 4.8 0a2.4 2.4 0 1 0 -4.8 0M478.0 82.5a2.4 2.4 0 1 0 4.8 0a2.4 2.4 0 1 0 -4.8 0M479.2 80.6a2.4 2.4 0 1 0 4.8 0a2.4 2.4 0 1 0 -4.8 0M480.4 79.5a2.4 2.4 0 1 0 4.8 0a2.4 2.4 0 1 0 -4.8 0M481.6 77.4a2.4 2.4 0 1 0 4.8 0a2.4 2.4 0 1 0 -4.8 0M482.8 74.6a2.4 2.4 0 1 0 4.8 0a2.4 2.4 0 1 0 -4.8 0M484.0 73.1a2.4 2.4 0 1 0 4.8 0a2.4 2.4 0 1 0 -4.8 0M485.2 70.7a2.4 2.4 0 1 0 4.8 0a2.4 2.4 0 1 0 -4.8 0M486.4 70.4a2.4 2.4 0 1 0 4.8 0a2.4 2.4 0 1 0 -4.8 0M487.6 67.8a2.4 2.4 0 1 0 4.8 0a2.4 2.4 0 1 0 -4.8 0M488.8 65.9a2.4 2.4 0 1 0 4.8 0a2.4 2.4 0 1 0 -4.8 0" fill="none" stroke="#1e3ce6" stroke-width="1"/>
<path d="M397.6 155.8a2.4 2.4 0 1 0 4.8 0a2.4 2.4 0 1 0 -4.8 0M401.2 154.8a2.4 2.4 0 1 0 4.8 0a2.4 2.4 0 1 0 -4.8 0M404.8 153.7a2.4 2.4 0 1 0 4.8 0a2.4 2.4 0 1 0 -4.8 0M409.0 151.4a2.4 2.4 0 1 0 4.8 0a2.4 2.4 0 1 0 -4.8 0M413.2 148.8a2.4 2.4 0 1 0 4.8 0a2.4 2.4 0 1 0 -4.8 0M417.4 145.8a2.4 2.4 0 1 0 4.8 0a2.4 2.4 0 1 0 -4.8 0M421.6 143.6a2.4 2.4 0 1 0 4.8 0a2.4 2.4 0 1 0 -4.8 0M425.8 138.8a2.4 2.4 0 1 0 4.8 0a2.4 2.4 0 1 0 -4.8 0M430.0 134.5a2.4 2.4 0 1 0 4.8 0a2.4 2.4 0 1 0 -4.8 0M434.2 130.8a2.4 2.4 0 1 0 4.8 0a2.4 2.4 0 1 0 -4.8 0M438.4 126.8a2.4 2.4 0 1 0 4.8 0a2.4 2.4 0 1 0 -4.8 0M440.4 125.0a2.4 2.4 0 1 0 4.8 0a2.4 2.4 0 1 0 -4.8 0M442.4 123.1a2.4 2.4 0 1 0 4.8 0a2.4 2.4 0 1 0 -4.8 0M444.4 120.9a2.4 2.4 0 1 0 4.8 0a2.4 2.4 0 1 0 -4.8 0M446.4 119.5a2.4 2.4 0 1 0 4.8 0a2.4 2.4 0 1 0 -4.8 0M448.4 117.9a2.4 2.4 0 1 0 4.8 0a2.4 2.4 0 1 0 -4.8 0M450.4 115.3a2.4 2.4 0 1 0 4.8 0a2.4 2.4 0 1 0 -4.8 0M452.4 114.8a2.4 2.4 0 1 0 4.8 0a2.4 2.4 0 1 0 -4.8 0M454.4 112.7a2.4 2.4 0 1 0 4.8 0a2.4 2.4 0 1 0 -4.8 0M456.4 109.4a2.4 2.4 0 1 0 4.8 0a2.4 2.4 0 1 0 -4.8 0M457.6 108.7a2.4 2.4 0 1 0 4.8 0a2.4 2.4 0 1 0 -4.8 0M458.8 108.1a2.4 2.4 0 1 0 4.8 0a2.4 2.4 0 1 0 -4.8 0M460.0 106.9a2.4 2.4 0 1 0 4.8 0a2.4 2.4 0 1 0 -4.8 0M461.2 105.8a2.4 2.4 0 1 0 4.8 0a2.4 2.4 0 1 0 -4.8 0M462.4 102.9a2.4 2.4 0 1 0 4.8 0a2.4 2.4 0 1 0 -4.8 0M463.6 101.7a2.4 2.4 0 1 0 4.8 0a2.4 2.4 0 1 0 -4.8 0M464.8 100.4a2.4 2.4 0 1 0 4.8 0a2.4 2.4 0 1 0 -4.8 0M466.0 99.2a2.4 2.4 0 1 0 4.8 0a2.4 2.4 0 1 0 -4.8 0M467.2 96.8a2.4 2.4 0 1 0 4.8 0a2.4 2.4 0 1 0 -4.8 0M468.4 95.8a2.4 2.4 0 1 0 4.8 0a2.4 2.4 0 1 0 -4.8 0M469.6 94.0a2.4 2.4 0 1 0 4.8 0a2.4 2.4 0 1 0 -4.8 0M470.8 92.3a2.4 2.4 0 1 0 4.8 0a2.4 2.4 0 1 0 -4.8 0M472.0 89.6a2.4 2.4 0 1 0 4.8 0a2.4 2.4 0 1 0 -4.8 0M473.2 88.4a2.4 2.4 0 1 0 4.8 0a2.4 2.4 0 1 0 -4.8 0M474.4 86.6a2.4 2.4 0 1 0 4.8 0a2.4 2.4 0 1 0 -4.8 0M475.6 84.7a2.4 2.4 0 1 0 4.8 0a2.4 2.4 0 1 0 -4.8 0M476.8 83.7a2.4 2.4 0 1 0 4.8 0a2.4 2.4 0 1 0 -4.8 0M478.0 81.4a2.4 2.4 0 1 0 4.8 0a2.4 2.4 0 1 0 -4.8 0M479.2 80.4a2.4 2.4 0 1 0 4.8 0a2.4 2.4 0 1 0 -4.8 0M480.4 77.8a2.4 2.4 0 1 0 4.8 0a2.4 2.4 0 1 0 -4.8 0M481.6 77.0a2.4 2.4 0 1 0 4.8 0a2.4 2.4 0 1 0 -4.8 0M482.8 75.2a2.4 2.4 0 1 0 4.8 0a2.4 2.4 0 1 0 -4.8 0M484.0 72.3a2.4 2.4 0 1 0 4.8 0a2.4 2.4 0 1 0 -4.8 0M485.2 71.0a2.4 2.4 0 1 0 4.8 0a2.4 2.4 0 1 0 -4.8 0M486.4 69.2a2.4 2.4 0 1 0 4.8 0a2.4 2.4 0 1 0 -4.8 0M487.6 66.8a2.4 2.4 0 1 0 4.8 0a2.4 2.4 0 1 0 -4.8 0M488.8 65.7a2.4 2.4 0 1 0 4.8 0a2.4 2.4 0 1 0 -4.8 0" fill="none" stroke="#3ee6a8" stroke-width="1"/>
<path d="M401.6 153.2a2.4 2.4 0 1 0 4.8 0a2.4 2.4 0 1 0 -4.8 0M405.8 150.9a2.4 2.4 0 1 0 4.8 0a2.4 2.4 0 1 0 -4.8 0M410.0 149.2a2.4 2.4 0 1 0 4.8 0a2.4 2.4 0 1 0 -4.8 0M414.2 146.9a2.4 2.4 0 1 0 4.8 0a2.4 2.4 0 1 0 -4.8 0M418.4 143.5a2.4 2.4 0 1 0 4.8 0a2.4 2.4 0 1 0 -4.8 0M422.6 139.8a2.4 2.4 0 1 0 4.8 0a2.4 2.4 0 1 0 -4.8 0M426.8 136.9a2.4 2.4 0 1 0 4.8 0a2.4 2.4 0 1 0 -4.8 0M431.0 132.0a2.4 2.4 0 1 0 4.8 0a2.4 2.4 0 1 0 -4.8 0M435.2 128.4a2.4 2.4 0 1 0 4.8 0a2.4 2.4 0 1 0 -4.8 0M439.4 124.7a2.4 2.4 0 1 0 4.8 0a2.4 2.4 0 1 0 -4.8 0M441.4 122.7a2.4 2.4 0 1 0 4.8 0a2.4 2.4 0 1 0 -4.8 0M443.4 119.8a2.4 2.4 0 1 0 4.8 0a2.4 2.4 0 1 0 -4.8 0M445.4 118.6a2.4 2.4 0 1 0 4.8 0a2.4 2.4 0 1 0 -4.8 0M447.4 116.9a2.4 2.4 0 1 0 4.8 0a2.4 2.4 0 1 0 -4.8 0M449.4 115.0a2.4 2.4 0 1 0 4.8 0a2.4 2.4 0 1 0 -4.8 0M451.4 113.4a2.4 2.4 0 1 0 4.8 0a2.4 2.4 0 1 0 -4.8 0M453.4 111.5a2.4 2.4 0 1 0 4.8 0a2.4 2.4 0 1 0 -4.8 0M455.4 109.4a2.4 2.4 0 1 0 4.8 0a2.4 2.4 0 1 0 -4.8 0M457.4 107.5a2.4 2.4 0 1 0 4.8 0a2.4 2.4 0 1 0 -4.8 0M458.6 106.5a2.4 2.4 0 1 0 4.8 0a2.4 2.4 0 1 0 -4.8 0M459.8 105.3a2.4 2.4 0 1 0 4.8 0a2.4 2.4 0 1 0 -4.8 0M461.0 102.7a2.4 2.4 0 1 0 4.8 0a2.4 2.4 0 1 0 -4.8 0M462.2 103.0a2.4 2.4 0 1 0 4.8 0a2.4 2.4 0 1 0 -4.8 0M463.4 100.4a2.4 2.4 0 1 0 4.8 0a2.4 2.4 0 1 0 -4.8 0M464.6 99.4a2.4 2.4 0 1 0 4.8 0a2.4 2.4 0 1 0 -4.8 0M465.8 96.8a2.4 2.4 0 1 0 4.8 0a2.4 2.4 0 1 0 -4.8 0M467.0 95.6a2.4 2.4 0 1 0 4.8 0a2.4 2.4 0 1 0 -4.8 0M468.2 93.6a2.4 2.4 0 1 0 4.8 0a2.4 2.4 0 1 0 -4.8 0M469.4 92.8a2.4 2.4 0 1 0 4.8 0a2.4 2.4 0 1 0 -4.8 0M470.6 90.9a2.4 2.4 0 1 0 4.8 0a2.4 2.4 0 1 0 -4.8 0M471.8 88.7a2.4 2.4 0 1 0 4.8 0a2.4 2.4 0 1 0 -4.8 0M473.0 86.8a2.4 2.4 0 1 0 4.8 0a2.4 2.4 0 1 0 -4.8 0M474.2 85.3a2.4 2.4 0 1 0 4.8 0a2.4 2.4 0 1 0 -4.8 0M475.4 83.0a2.4 2.4 0 1 0 4.8 0a2.4 2.4 0 1 0 -4.8 0M476.6 81.5a2.4 2.4 0 1 0 4.8 0a2.4 2.4 0 1 0 -4.8 0M477.8 79.8a2.4 2.4 0 1 0 4.8 0a2.4 2.4 0 1 0 -4.8 0M479.0 78.7a2.4 2.4 0 1 0 4.8 0a2.4 2.4 0 1 0 -4.8 0M480.2 76.6a2.4 2.4 0 1 0 4.8 0a2.4 2.4 0 1 0 -4.8 0M481.4 74.3a2.4 2.4 0 1 0 4.8 0a2.4 2.4 0 1 0 -4.8 0M482.6 73.2a2.4 2.4 0 1 0 4.8 0a2.4 2.4 0 1 0 -4.8 0M483.8 71.4a2.4 2.4 0 1 0 4.8 0a2.4 2.4 0 1 0 -4.8 0M485.0 70.0a2.4 2.4 0 1 0 4.8 0a2.4 2.4 0 1 0 -4.8 0M486.2 67.4a2.4 2.4 0 1 0 4.8 0a2.4 2.4 0 1 0 -4.8 0M487.4 65.9a2.4 2.4 0 1 0 4.8 0a2.4 2.4 0 1 0 -4.8 0M488.6 64.8a2.4 2.4 0 1 0 4.8 0a2.4 2.4 0 1 0 -4.8 0M489.8 61.9a2.4 2.4 0 1 0 4.8 0a2.4 2.4 0 1 0 -4.8 0M491.0 60.0a2.4 2.4 0 1 0 4.8 0a2.4 2.4 0 1 0 -4.8 0M492.2 58.4a2.4 2.4 0 1 0 4.8 0a2.4 2.4 0 1 0 -4.8 0M493.4 55.9a2.4 2.4 0 1 0 4.8 0a2.4 2.4 0 1 0 -4.8 0M494.6 54.1a2.4 2.4 0 1 0 4.8 0a2.4 2.4 0 1 0 -4.8 0M495.8 52.0a2.4 2.4 0 1 0 4.8 0a2.4 2.4 0 1 0 -4.8 0M497.0 50.0a2.4 2.4 0 1 0 4.8 0a2.4 2.4 0 1 0 -4.8 0M498.2 48.9a2.4 2.4 0 1 0 4.8 0a2.4 2.4 0 1 0 -4.8 0M499.4 46.6a2.4 2.4 0 1 0 4.8 0a2.4 2.4 0 1 0 -4.8 0M500.6 44.6a2.4 2.4 0 1 0 4.8 0a2.4 2.4 0 1 0 -4.8 0M501.8 43.2a2.4 2.4 0 1 0 4.8 0a2.4 2.4 0 1 0 -4.8 0M503.0 41.6a2.4 2.4 0 1 0 4.8 0a2.4 2.4 0 1 0 -4.8 0M504.2 40.2a2.4 2.4 0 1 0 4.8 0a2.4 2.4 0 1 0 -4.8 0M505.4 38.8a2.4 2.4 0 1 0 4.8 0a2.4 2.4 0 1 0 -4.8 0M506.6 37.5a2.4 2.4 0 1 0 4.8 0a2.4 2.4 0 1 0 -4.8 0M507.8 34.7a2.4 2.4 0 1 0 4.8 0a2.4 2.4 0 1 0 -4.8 0M509.0 33.6a2.4 2.4 0 1 0 4.8 0a2.4 2.4 0 1 0 -4.8 0M510.2 31.5a2.4 2.4 0 1 0 4.8 0a2.4 2.4 0 1 0 -4.8 0M511.4 31.0a2.4 2.4 0 1 0 4.8 0a2.4 2.4 0 1 0 -4.8 0M512.6 29.8a2.4 2.4 0 1 0 4.8 0a2.4 2.4 0 1 0 -4.8 0M513.8 28.0a2.4 2.4 0 1 0 4.8 0a2.4 2.4 0 1 0 -4.8 0M515.0 26.7a2.4 2.4 0 1 0 4.8 0a2.4 2.4 0 1 0 -4.8 0M516.2 25.5a2.4 2.4 0 1 0 4.8 0a2.4 2.4 0 1 0 -4.8 0M517.4 24.2a2.4 2.4 0 1 0 4.8 0a2.4 2.4 0 1 0 -4.8 0M518.6 24.1a2.4 2.4 0 1 0 4.8 0a2.4 2.4 0 1 0 -4.8 0M519.8 23.6a2.4 2.4 0 1 0 4.8 0a2.4 2.4 0 1 0 -4.8 0M521.0 21.5a2.4 2.4 0 1 0 4.8 0a2.4 2.4 0 1 0 -4.8 0M522.2 21.7a2.4 2.4 0 1 0 4.8 0a2.4 2.4 0 1 0 -4.8 0M523.4 20.2a2.4 2.4 0 1 0 4.8 0a2.4 2.4 0 1 0 -4.8 0M524.6 19.0a2.4 2.4 0 1 0 4.8 0a2.4 2.4 0 1 0 -4.8 0M525.8 19.0a2.4 2.4 0 1 0 4.8 0a2.4 2.4 0 1 0 -4.8 0M527.0 18.4a2.4 2.4 0 1 0 4.8 0a2.4 2.4 0 1 0 -4.8 0M528.2 17.6a2.4 2.4 0 1 0 4.8 0a2.4 2.4 0 1 0 -4.8 0M529.4 16.6a2.4 2.4 0 1 0 4.8 0a2.4 2.4 0 1 0 -4.8 0M530.6 16.7a2.4 2.4 0 1 0 4.8 0a2.4 2.4 0 1 0 -4.8 0M531.8 15.3a2.4 2.4 0 1 0 4.8 0a2.4 2.4 0 1 0 -4.8 0M533.0 15.0a2.4 2.4 0 1 0 4.8 0a2.4 2.4 0 1 0 -4.8 0M534.2 14.4a2.4 2.4 0 1 0 4.8 0a2.4 2.4 0 1 0 -4.8 0M535.4 13.2a2.4 2.4 0 1 0 4.8 0a2.4 2.4 0 1 0 -4.8 0M536.6 12.3a2.4 2.4 0 1 0 4.8 0a2.4 2.4 0 1 0 -4.8 0M537.8 11.9a2.4 2.4 0 1 0 4.8 0a2.4 2.4 0 1 0 -4.8 0M539.0 11.9a2.4 2.4 0 1 0 4.8 0a2.4 2.4 0 1 0 -4.8 0M540.2 11.7a2.4 2.4 0 1 0 4.8 0a2.4 2.4 0 1 0 -4.8 0M541.4 10.4a2.4 2.4 0 1 0 4.8 0a2.4 2.4 0 1 0 -4.8 0M542.6 10.5a2.4 2.4 0 1 0 4.8 0a2.4 2.4 0 1 0 -4.8 0M543.8 11.0a2.4 2.4 0 1 0 4.8 0a2.4 2.4 0 1 0 -4.8 0" fill="none" stroke="#e60000" stroke-width="1"/>
<path d="M374.4 161.8a2.4 2.4 0 1 0 4.8 0a2.4 2.4 0 1 0 -4.8 0" fill="none" stroke="#e60000" stroke-width="1"/>
<path d="M392.6 159.0a2.4 2.4 0 1 0 4.8 0a2.4 2.4 0 1 0 -4.8 0" fill="none" stroke="#e60000" stroke-width="1"/>
<polyline points="452.9,116.2 453.9,115.3 454.9,114.3 455.9,113.4 456.9,112.4 457.9,111.4 458.9,110.5 459.9,109.5 460.9,108.5 461.9,107.4 462.9,106.4 463.9,105.3 464.9,104.1 465.9,103.0 466.9,101.7 467.9,100.4 468.9,99.1 469.9,97.7 470.9,96.3 471.9,94.9 472.9,93.4 473.9,91.8 474.9,90.3 475.9,88.8 476.9,87.3 477.9,85.9 478.9,84.4 479.9,83.1 480.9,81.7 481.9,80.2 482.9,78.8 483.9,77.3 484.9,75.8 485.9,74.3 486.9,72.8 487.9,71.3 488.9,69.8 489.9,68.3 490.9,66.8 491.9,65.2 492.9,63.7 493.9,62.1 494.9,60.5 495.9,58.8 496.9,57.1 497.9,55.4 498.9,53.8 499.9,52.2" fill="none" stroke="#b4d200" stroke-width="4.6" stroke-linecap="round"/>
<polyline points="455.0,112.1 456.0,111.1 457.0,110.1 458.0,109.2 459.0,108.2 460.0,107.2 461.0,106.1 462.0,105.1 463.0,104.0 464.0,102.8 465.0,101.7 466.0,100.4 467.0,99.1 468.0,97.8 469.0,96.4 470.0,95.0 471.0,93.6 472.0,92.1 473.0,90.5 474.0,89.0 475.0,87.5 476.0,86.0 477.0,84.6 478.0,83.1 479.0,81.8 480.0,80.4 481.0,78.9 482.0,77.5 483.0,76.0 484.0,74.5 485.0,73.0 486.0,71.5 487.0,70.0 488.0,68.5 489.0,67.0 490.0,65.5 491.0,63.9 492.0,62.4 493.0,60.8 494.0,59.2 495.0,57.5 496.0,55.8 497.0,54.1 498.0,52.5 499.0,50.9 500.0,49.4 501.0,48.0 502.0,46.5 503.0,45.1 504.0,43.6 505.0,42.2" fill="none" stroke="#e60000" stroke-width="5.4" stroke-linecap="round"/>
<polyline points="500.0,49.4 501.0,48.0 502.0,46.5 503.0,45.1 504.0,43.6 505.0,42.2 506.0,40.9 507.0,39.5 508.0,38.2 509.0,36.8 510.0,35.5 511.0,34.2 512.0,33.0 513.0,31.8 514.0,30.7 515.0,29.6 516.0,28.5 517.0,27.5 518.0,26.5 519.0,25.6 520.0,24.7 521.0,23.8 522.0,23.0 523.0,22.2 524.0,21.5 525.0,20.8 526.0,20.2 527.0,19.6 528.0,19.0 529.0,18.4 530.0,17.8 531.0,17.2 532.0,16.6 533.0,16.1 534.0,15.5 535.0,15.0 536.0,14.5 537.0,14.0 538.0,13.5 539.0,13.1 540.0,12.7 541.0,12.3 542.0,11.9 543.0,11.5 544.0,11.1 545.0,10.8 546.0,10.5" fill="none" stroke="#e60000" stroke-width="4.6" stroke-linecap="round"/>
<path d="M439.6 133.5a2.3 2.3 0 1 0 4.6 0a2.3 2.3 0 1 0 -4.6 0M440.0 134.5a2.3 2.3 0 1 0 4.6 0a2.3 2.3 0 1 0 -4.6 0M439.6 135.6a2.3 2.3 0 1 0 4.6 0a2.3 2.3 0 1 0 -4.6 0M439.5 136.2a2.3 2.3 0 1 0 4.6 0a2.3 2.3 0 1 0 -4.6 0M438.6 136.9a2.3 2.3 0 1 0 4.6 0a2.3 2.3 0 1 0 -4.6 0M439.1 137.1a2.3 2.3 0 1 0 4.6 0a2.3 2.3 0 1 0 -4.6 0M438.5 137.9a2.3 2.3 0 1 0 4.6 0a2.3 2.3 0 1 0 -4.6 0M439.3 138.9a2.3 2.3 0 1 0 4.6 0a2.3 2.3 0 1 0 -4.6 0M438.7 139.8a2.3 2.3 0 1 0 4.6 0a2.3 2.3 0 1 0 -4.6 0M439.3 140.0a2.3 2.3 0 1 0 4.6 0a2.3 2.3 0 1 0 -4.6 0M439.3 140.3a2.3 2.3 0 1 0 4.6 0a2.3 2.3 0 1 0 -4.6 0M439.9 140.6a2.3 2.3 0 1 0 4.6 0a2.3 2.3 0 1 0 -4.6 0M439.8 142.2a2.3 2.3 0 1 0 4.6 0a2.3 2.3 0 1 0 -4.6 0M440.8 141.9a2.3 2.3 0 1 0 4.6 0a2.3 2.3 0 1 0 -4.6 0M441.4 142.9a2.3 2.3 0 1 0 4.6 0a2.3 2.3 0 1 0 -4.6 0M441.8 143.5a2.3 2.3 0 1 0 4.6 0a2.3 2.3 0 1 0 -4.6 0M442.9 144.5a2.3 2.3 0 1 0 4.6 0a2.3 2.3 0 1 0 -4.6 0M443.2 143.9a2.3 2.3 0 1 0 4.6 0a2.3 2.3 0 1 0 -4.6 0M443.9 144.1a2.3 2.3 0 1 0 4.6 0a2.3 2.3 0 1 0 -4.6 0M444.5 144.5a2.3 2.3 0 1 0 4.6 0a2.3 2.3 0 1 0 -4.6 0M445.6 144.7a2.3 2.3 0 1 0 4.6 0a2.3 2.3 0 1 0 -4.6 0M445.5 145.1a2.3 2.3 0 1 0 4.6 0a2.3 2.3 0 1 0 -4.6 0M446.3 145.1a2.3 2.3 0 1 0 4.6 0a2.3 2.3 0 1 0 -4.6 0M447.0 144.8a2.3 2.3 0 1 0 4.6 0a2.3 2.3 0 1 0 -4.6 0M447.9 144.5a2.3 2.3 0 1 0 4.6 0a2.3 2.3 0 1 0 -4.6 0M448.5 145.4a2.3 2.3 0 1 0 4.6 0a2.3 2.3 0 1 0 -4.6 0M449.4 145.2a2.3 2.3 0 1 0 4.6 0a2.3 2.3 0 1 0 -4.6 0M449.9 145.9a2.3 2.3 0 1 0 4.6 0a2.3 2.3 0 1 0 -4.6 0M450.4 145.2a2.3 2.3 0 1 0 4.6 0a2.3 2.3 0 1 0 -4.6 0M451.2 145.7a2.3 2.3 0 1 0 4.6 0a2.3 2.3 0 1 0 -4.6 0M452.1 145.5a2.3 2.3 0 1 0 4.6 0a2.3 2.3 0 1 0 -4.6 0M451.9 145.5a2.3 2.3 0 1 0 4.6 0a2.3 2.3 0 1 0 -4.6 0M453.7 146.4a2.3 2.3 0 1 0 4.6 0a2.3 2.3 0 1 0 -4.6 0M453.8 145.9a2.3 2.3 0 1 0 4.6 0a2.3 2.3 0 1 0 -4.6 0M454.6 145.9a2.3 2.3 0 1 0 4.6 0a2.3 2.3 0 1 0 -4.6 0M455.5 146.2a2.3 2.3 0 1 0 4.6 0a2.3 2.3 0 1 0 -4.6 0M456.0 145.7a2.3 2.3 0 1 0 4.6 0a2.3 2.3 0 1 0 -4.6 0" fill="#1e3ce6" stroke="#1e3ce6" stroke-width="1"/>
<path d="M456.1 110.4a2.3 2.3 0 1 0 4.6 0a2.3 2.3 0 1 0 -4.6 0M456.1 111.3a2.3 2.3 0 1 0 4.6 0a2.3 2.3 0 1 0 -4.6 0M457.0 111.8a2.3 2.3 0 1 0 4.6 0a2.3 2.3 0 1 0 -4.6 0M456.7 113.2a2.3 2.3 0 1 0 4.6 0a2.3 2.3 0 1 0 -4.6 0M457.0 113.0a2.3 2.3 0 1 0 4.6 0a2.3 2.3 0 1 0 -4.6 0M457.3 113.6a2.3 2.3 0 1 0 4.6 0a2.3 2.3 0 1 0 -4.6 0M457.1 114.9a2.3 2.3 0 1 0 4.6 0a2.3 2.3 0 1 0 -4.6 0M457.4 115.0a2.3 2.3 0 1 0 4.6 0a2.3 2.3 0 1 0 -4.6 0M457.1 115.9a2.3 2.3 0 1 0 4.6 0a2.3 2.3 0 1 0 -4.6 0M458.1 116.8a2.3 2.3 0 1 0 4.6 0a2.3 2.3 0 1 0 -4.6 0M458.3 117.1a2.3 2.3 0 1 0 4.6 0a2.3 2.3 0 1 0 -4.6 0M458.5 117.6a2.3 2.3 0 1 0 4.6 0a2.3 2.3 0 1 0 -4.6 0M459.4 118.7a2.3 2.3 0 1 0 4.6 0a2.3 2.3 0 1 0 -4.6 0M458.8 119.0a2.3 2.3 0 1 0 4.6 0a2.3 2.3 0 1 0 -4.6 0M459.9 119.3a2.3 2.3 0 1 0 4.6 0a2.3 2.3 0 1 0 -4.6 0M459.8 119.7a2.3 2.3 0 1 0 4.6 0a2.3 2.3 0 1 0 -4.6 0M460.3 120.4a2.3 2.3 0 1 0 4.6 0a2.3 2.3 0 1 0 -4.6 0M461.1 120.6a2.3 2.3 0 1 0 4.6 0a2.3 2.3 0 1 0 -4.6 0M462.1 121.3a2.3 2.3 0 1 0 4.6 0a2.3 2.3 0 1 0 -4.6 0M461.8 121.7a2.3 2.3 0 1 0 4.6 0a2.3 2.3 0 1 0 -4.6 0M462.4 122.6a2.3 2.3 0 1 0 4.6 0a2.3 2.3 0 1 0 -4.6 0M462.9 123.1a2.3 2.3 0 1 0 4.6 0a2.3 2.3 0 1 0 -4.6 0M464.5 123.1a2.3 2.3 0 1 0 4.6 0a2.3 2.3 0 1 0 -4.6 0M464.6 123.5a2.3 2.3 0 1 0 4.6 0a2.3 2.3 0 1 0 -4.6 0M465.2 123.6a2.3 2.3 0 1 0 4.6 0a2.3 2.3 0 1 0 -4.6 0M466.3 123.9a2.3 2.3 0 1 0 4.6 0a2.3 2.3 0 1 0 -4.6 0M466.4 124.5a2.3 2.3 0 1 0 4.6 0a2.3 2.3 0 1 0 -4.6 0M466.3 125.0a2.3 2.3 0 1 0 4.6 0a2.3 2.3 0 1 0 -4.6 0M467.5 125.3a2.3 2.3 0 1 0 4.6 0a2.3 2.3 0 1 0 -4.6 0M467.9 125.5a2.3 2.3 0 1 0 4.6 0a2.3 2.3 0 1 0 -4.6 0M469.6 125.5a2.3 2.3 0 1 0 4.6 0a2.3 2.3 0 1 0 -4.6 0M469.2 124.9a2.3 2.3 0 1 0 4.6 0a2.3 2.3 0 1 0 -4.6 0M470.4 126.2a2.3 2.3 0 1 0 4.6 0a2.3 2.3 0 1 0 -4.6 0M470.8 126.5a2.3 2.3 0 1 0 4.6 0a2.3 2.3 0 1 0 -4.6 0M471.6 126.5a2.3 2.3 0 1 0 4.6 0a2.3 2.3 0 1 0 -4.6 0M472.4 126.6a2.3 2.3 0 1 0 4.6 0a2.3 2.3 0 1 0 -4.6 0M473.0 126.8a2.3 2.3 0 1 0 4.6 0a2.3 2.3 0 1 0 -4.6 0M473.5 127.4a2.3 2.3 0 1 0 4.6 0a2.3 2.3 0 1 0 -4.6 0M474.1 126.8a2.3 2.3 0 1 0 4.6 0a2.3 2.3 0 1 0 -4.6 0M474.9 127.3a2.3 2.3 0 1 0 4.6 0a2.3 2.3 0 1 0 -4.6 0M475.5 127.1a2.3 2.3 0 1 0 4.6 0a2.3 2.3 0 1 0 -4.6 0M476.3 127.1a2.3 2.3 0 1 0 4.6 0a2.3 2.3 0 1 0 -4.6 0M477.3 126.9a2.3 2.3 0 1 0 4.6 0a2.3 2.3 0 1 0 -4.6 0" fill="#3ee6a8" stroke="#3ee6a8" stroke-width="1"/>
<path d="M464.6 100.7a2.3 2.3 0 1 0 4.6 0a2.3 2.3 0 1 0 -4.6 0M464.5 101.4a2.3 2.3 0 1 0 4.6 0a2.3 2.3 0 1 0 -4.6 0M465.2 102.6a2.3 2.3 0 1 0 4.6 0a2.3 2.3 0 1 0 -4.6 0M465.1 102.7a2.3 2.3 0 1 0 4.6 0a2.3 2.3 0 1 0 -4.6 0M465.0 103.7a2.3 2.3 0 1 0 4.6 0a2.3 2.3 0 1 0 -4.6 0M465.4 104.6a2.3 2.3 0 1 0 4.6 0a2.3 2.3 0 1 0 -4.6 0M465.5 105.6a2.3 2.3 0 1 0 4.6 0a2.3 2.3 0 1 0 -4.6 0M466.6 105.9a2.3 2.3 0 1 0 4.6 0a2.3 2.3 0 1 0 -4.6 0M466.3 106.3a2.3 2.3 0 1 0 4.6 0a2.3 2.3 0 1 0 -4.6 0M466.7 106.9a2.3 2.3 0 1 0 4.6 0a2.3 2.3 0 1 0 -4.6 0M466.5 107.9a2.3 2.3 0 1 0 4.6 0a2.3 2.3 0 1 0 -4.6 0M466.9 108.6a2.3 2.3 0 1 0 4.6 0a2.3 2.3 0 1 0 -4.6 0M467.9 108.7a2.3 2.3 0 1 0 4.6 0a2.3 2.3 0 1 0 -4.6 0M467.8 109.7a2.3 2.3 0 1 0 4.6 0a2.3 2.3 0 1 0 -4.6 0M468.3 110.0a2.3 2.3 0 1 0 4.6 0a2.3 2.3 0 1 0 -4.6 0M469.2 110.1a2.3 2.3 0 1 0 4.6 0a2.3 2.3 0 1 0 -4.6 0M469.7 110.9a2.3 2.3 0 1 0 4.6 0a2.3 2.3 0 1 0 -4.6 0M469.7 112.0a2.3 2.3 0 1 0 4.6 0a2.3 2.3 0 1 0 -4.6 0M470.1 112.7a2.3 2.3 0 1 0 4.6 0a2.3 2.3 0 1 0 -4.6 0M470.5 113.0a2.3 2.3 0 1 0 4.6 0a2.3 2.3 0 1 0 -4.6 0M470.9 113.2a2.3 2.3 0 1 0 4.6 0a2.3 2.3 0 1 0 -4.6 0M472.1 113.5a2.3 2.3 0 1 0 4.6 0a2.3 2.3 0 1 0 -4.6 0M471.6 114.4a2.3 2.3 0 1 0 4.6 0a2.3 2.3 0 1 0 -4.6 0M472.5 114.7a2.3 2.3 0 1 0 4.6 0a2.3 2.3 0 1 0 -4.6 0M472.5 114.5a2.3 2.3 0 1 0 4.6 0a2.3 2.3 0 1 0 -4.6 0M473.3 115.6a2.3 2.3 0 1 0 4.6 0a2.3 2.3 0 1 0 -4.6 0M474.4 115.6a2.3 2.3 0 1 0 4.6 0a2.3 2.3 0 1 0 -4.6 0M475.1 116.3a2.3 2.3 0 1 0 4.6 0a2.3 2.3 0 1 0 -4.6 0M475.7 116.6a2.3 2.3 0 1 0 4.6 0a2.3 2.3 0 1 0 -4.6 0M476.1 117.0a2.3 2.3 0 1 0 4.6 0a2.3 2.3 0 1 0 -4.6 0M476.6 117.4a2.3 2.3 0 1 0 4.6 0a2.3 2.3 0 1 0 -4.6 0M477.3 117.5a2.3 2.3 0 1 0 4.6 0a2.3 2.3 0 1 0 -4.6 0M478.0 117.2a2.3 2.3 0 1 0 4.6 0a2.3 2.3 0 1 0 -4.6 0M479.1 117.5a2.3 2.3 0 1 0 4.6 0a2.3 2.3 0 1 0 -4.6 0M479.9 118.4a2.3 2.3 0 1 0 4.6 0a2.3 2.3 0 1 0 -4.6 0M480.2 118.4a2.3 2.3 0 1 0 4.6 0a2.3 2.3 0 1 0 -4.6 0M480.6 118.0a2.3 2.3 0 1 0 4.6 0a2.3 2.3 0 1 0 -4.6 0M481.1 118.1a2.3 2.3 0 1 0 4.6 0a2.3 2.3 0 1 0 -4.6 0M482.2 119.2a2.3 2.3 0 1 0 4.6 0a2.3 2.3 0 1 0 -4.6 0M482.7 119.9a2.3 2.3 0 1 0 4.6 0a2.3 2.3 0 1 0 -4.6 0M482.8 119.6a2.3 2.3 0 1 0 4.6 0a2.3 2.3 0 1 0 -4.6 0M484.5 119.5a2.3 2.3 0 1 0 4.6 0a2.3 2.3 0 1 0 -4.6 0M484.8 119.8a2.3 2.3 0 1 0 4.6 0a2.3 2.3 0 1 0 -4.6 0M485.3 119.1a2.3 2.3 0 1 0 4.6 0a2.3 2.3 0 1 0 -4.6 0" fill="#1e3ce6" stroke="#1e3ce6" stroke-width="1"/>
<path d="M473.7 90.9a2.3 2.3 0 1 0 4.6 0a2.3 2.3 0 1 0 -4.6 0M474.5 91.3a2.3 2.3 0 1 0 4.6 0a2.3 2.3 0 1 0 -4.6 0M474.6 91.9a2.3 2.3 0 1 0 4.6 0a2.3 2.3 0 1 0 -4.6 0M473.9 92.9a2.3 2.3 0 1 0 4.6 0a2.3 2.3 0 1 0 -4.6 0M475.2 93.6a2.3 2.3 0 1 0 4.6 0a2.3 2.3 0 1 0 -4.6 0M475.3 93.5a2.3 2.3 0 1 0 4.6 0a2.3 2.3 0 1 0 -4.6 0M475.8 94.8a2.3 2.3 0 1 0 4.6 0a2.3 2.3 0 1 0 -4.6 0M475.8 95.4a2.3 2.3 0 1 0 4.6 0a2.3 2.3 0 1 0 -4.6 0M476.3 95.9a2.3 2.3 0 1 0 4.6 0a2.3 2.3 0 1 0 -4.6 0M476.4 96.2a2.3 2.3 0 1 0 4.6 0a2.3 2.3 0 1 0 -4.6 0M477.4 97.6a2.3 2.3 0 1 0 4.6 0a2.3 2.3 0 1 0 -4.6 0M478.1 97.6a2.3 2.3 0 1 0 4.6 0a2.3 2.3 0 1 0 -4.6 0M478.0 97.3a2.3 2.3 0 1 0 4.6 0a2.3 2.3 0 1 0 -4.6 0M479.0 97.9a2.3 2.3 0 1 0 4.6 0a2.3 2.3 0 1 0 -4.6 0M479.4 98.7a2.3 2.3 0 1 0 4.6 0a2.3 2.3 0 1 0 -4.6 0M480.5 98.9a2.3 2.3 0 1 0 4.6 0a2.3 2.3 0 1 0 -4.6 0M481.1 99.0a2.3 2.3 0 1 0 4.6 0a2.3 2.3 0 1 0 -4.6 0M480.8 99.2a2.3 2.3 0 1 0 4.6 0a2.3 2.3 0 1 0 -4.6 0M482.3 99.4a2.3 2.3 0 1 0 4.6 0a2.3 2.3 0 1 0 -4.6 0M483.2 99.5a2.3 2.3 0 1 0 4.6 0a2.3 2.3 0 1 0 -4.6 0M483.4 99.4a2.3 2.3 0 1 0 4.6 0a2.3 2.3 0 1 0 -4.6 0M484.1 100.1a2.3 2.3 0 1 0 4.6 0a2.3 2.3 0 1 0 -4.6 0M484.9 99.2a2.3 2.3 0 1 0 4.6 0a2.3 2.3 0 1 0 -4.6 0M485.2 99.9a2.3 2.3 0 1 0 4.6 0a2.3 2.3 0 1 0 -4.6 0M486.2 100.7a2.3 2.3 0 1 0 4.6 0a2.3 2.3 0 1 0 -4.6 0M487.5 100.1a2.3 2.3 0 1 0 4.6 0a2.3 2.3 0 1 0 -4.6 0M487.8 100.1a2.3 2.3 0 1 0 4.6 0a2.3 2.3 0 1 0 -4.6 0M488.8 101.1a2.3 2.3 0 1 0 4.6 0a2.3 2.3 0 1 0 -4.6 0M489.4 100.8a2.3 2.3 0 1 0 4.6 0a2.3 2.3 0 1 0 -4.6 0M490.1 100.4a2.3 2.3 0 1 0 4.6 0a2.3 2.3 0 1 0 -4.6 0M490.5 100.3a2.3 2.3 0 1 0 4.6 0a2.3 2.3 0 1 0 -4.6 0M491.4 100.4a2.3 2.3 0 1 0 4.6 0a2.3 2.3 0 1 0 -4.6 0M492.5 100.4a2.3 2.3 0 1 0 4.6 0a2.3 2.3 0 1 0 -4.6 0M493.0 100.4a2.3 2.3 0 1 0 4.6 0a2.3 2.3 0 1 0 -4.6 0" fill="#b4d200" stroke="#b4d200" stroke-width="1"/>
<path d="M482.9 81.7a2.3 2.3 0 1 0 4.6 0a2.3 2.3 0 1 0 -4.6 0M483.4 82.0a2.3 2.3 0 1 0 4.6 0a2.3 2.3 0 1 0 -4.6 0M483.2 82.9a2.3 2.3 0 1 0 4.6 0a2.3 2.3 0 1 0 -4.6 0M482.9 84.1a2.3 2.3 0 1 0 4.6 0a2.3 2.3 0 1 0 -4.6 0M483.3 84.5a2.3 2.3 0 1 0 4.6 0a2.3 2.3 0 1 0 -4.6 0M483.9 85.1a2.3 2.3 0 1 0 4.6 0a2.3 2.3 0 1 0 -4.6 0M483.7 85.9a2.3 2.3 0 1 0 4.6 0a2.3 2.3 0 1 0 -4.6 0M483.5 86.5a2.3 2.3 0 1 0 4.6 0a2.3 2.3 0 1 0 -4.6 0M485.0 87.1a2.3 2.3 0 1 0 4.6 0a2.3 2.3 0 1 0 -4.6 0M484.9 87.6a2.3 2.3 0 1 0 4.6 0a2.3 2.3 0 1 0 -4.6 0M484.9 88.1a2.3 2.3 0 1 0 4.6 0a2.3 2.3 0 1 0 -4.6 0M485.2 89.2a2.3 2.3 0 1 0 4.6 0a2.3 2.3 0 1 0 -4.6 0M485.8 89.3a2.3 2.3 0 1 0 4.6 0a2.3 2.3 0 1 0 -4.6 0M486.4 90.6a2.3 2.3 0 1 0 4.6 0a2.3 2.3 0 1 0 -4.6 0M486.2 91.5a2.3 2.3 0 1 0 4.6 0a2.3 2.3 0 1 0 -4.6 0M486.9 91.9a2.3 2.3 0 1 0 4.6 0a2.3 2.3 0 1 0 -4.6 0M487.0 92.7a2.3 2.3 0 1 0 4.6 0a2.3 2.3 0 1 0 -4.6 0M487.8 92.2a2.3 2.3 0 1 0 4.6 0a2.3 2.3 0 1 0 -4.6 0M487.8 93.0a2.3 2.3 0 1 0 4.6 0a2.3 2.3 0 1 0 -4.6 0M488.2 93.2a2.3 2.3 0 1 0 4.6 0a2.3 2.3 0 1 0 -4.6 0M489.3 93.6a2.3 2.3 0 1 0 4.6 0a2.3 2.3 0 1 0 -4.6 0M489.9 93.7a2.3 2.3 0 1 0 4.6 0a2.3 2.3 0 1 0 -4.6 0M490.7 94.2a2.3 2.3 0 1 0 4.6 0a2.3 2.3 0 1 0 -4.6 0M490.9 95.2a2.3 2.3 0 1 0 4.6 0a2.3 2.3 0 1 0 -4.6 0M492.1 95.5a2.3 2.3 0 1 0 4.6 0a2.3 2.3 0 1 0 -4.6 0M492.4 95.9a2.3 2.3 0 1 0 4.6 0a2.3 2.3 0 1 0 -4.6 0M493.4 96.2a2.3 2.3 0 1 0 4.6 0a2.3 2.3 0 1 0 -4.6 0M493.5 96.4a2.3 2.3 0 1 0 4.6 0a2.3 2.3 0 1 0 -4.6 0M494.7 96.1a2.3 2.3 0 1 0 4.6 0a2.3 2.3 0 1 0 -4.6 0M494.9 96.6a2.3 2.3 0 1 0 4.6 0a2.3 2.3 0 1 0 -4.6 0M495.6 97.1a2.3 2.3 0 1 0 4.6 0a2.3 2.3 0 1 0 -4.6 0M496.5 97.5a2.3 2.3 0 1 0 4.6 0a2.3 2.3 0 1 0 -4.6 0M496.4 97.1a2.3 2.3 0 1 0 4.6 0a2.3 2.3 0 1 0 -4.6 0M497.3 97.2a2.3 2.3 0 1 0 4.6 0a2.3 2.3 0 1 0 -4.6 0M498.9 97.4a2.3 2.3 0 1 0 4.6 0a2.3 2.3 0 1 0 -4.6 0M498.5 98.1a2.3 2.3 0 1 0 4.6 0a2.3 2.3 0 1 0 -4.6 0M499.5 97.9a2.3 2.3 0 1 0 4.6 0a2.3 2.3 0 1 0 -4.6 0M500.5 97.7a2.3 2.3 0 1 0 4.6 0a2.3 2.3 0 1 0 -4.6 0M501.5 97.7a2.3 2.3 0 1 0 4.6 0a2.3 2.3 0 1 0 -4.6 0M501.6 98.1a2.3 2.3 0 1 0 4.6 0a2.3 2.3 0 1 0 -4.6 0" fill="#3ee6a8" stroke="#3ee6a8" stroke-width="1"/>
<path d="M487.2 76.5a2.3 2.3 0 1 0 4.6 0a2.3 2.3 0 1 0 -4.6 0M487.7 76.9a2.3 2.3 0 1 0 4.6 0a2.3 2.3 0 1 0 -4.6 0M487.7 77.9a2.3 2.3 0 1 0 4.6 0a2.3 2.3 0 1 0 -4.6 0M487.9 78.6a2.3 2.3 0 1 0 4.6 0a2.3 2.3 0 1 0 -4.6 0M488.3 79.3a2.3 2.3 0 1 0 4.6 0a2.3 2.3 0 1 0 -4.6 0M488.6 80.2a2.3 2.3 0 1 0 4.6 0a2.3 2.3 0 1 0 -4.6 0M489.6 80.1a2.3 2.3 0 1 0 4.6 0a2.3 2.3 0 1 0 -4.6 0M488.9 81.3a2.3 2.3 0 1 0 4.6 0a2.3 2.3 0 1 0 -4.6 0M489.4 81.7a2.3 2.3 0 1 0 4.6 0a2.3 2.3 0 1 0 -4.6 0M489.2 82.5a2.3 2.3 0 1 0 4.6 0a2.3 2.3 0 1 0 -4.6 0M489.2 83.3a2.3 2.3 0 1 0 4.6 0a2.3 2.3 0 1 0 -4.6 0M490.4 83.8a2.3 2.3 0 1 0 4.6 0a2.3 2.3 0 1 0 -4.6 0M491.1 84.2a2.3 2.3 0 1 0 4.6 0a2.3 2.3 0 1 0 -4.6 0M490.6 85.2a2.3 2.3 0 1 0 4.6 0a2.3 2.3 0 1 0 -4.6 0M491.3 85.5a2.3 2.3 0 1 0 4.6 0a2.3 2.3 0 1 0 -4.6 0M492.1 86.3a2.3 2.3 0 1 0 4.6 0a2.3 2.3 0 1 0 -4.6 0M492.3 86.9a2.3 2.3 0 1 0 4.6 0a2.3 2.3 0 1 0 -4.6 0M492.0 86.9a2.3 2.3 0 1 0 4.6 0a2.3 2.3 0 1 0 -4.6 0M493.6 87.1a2.3 2.3 0 1 0 4.6 0a2.3 2.3 0 1 0 -4.6 0M493.8 87.9a2.3 2.3 0 1 0 4.6 0a2.3 2.3 0 1 0 -4.6 0M494.7 88.5a2.3 2.3 0 1 0 4.6 0a2.3 2.3 0 1 0 -4.6 0M494.7 88.7a2.3 2.3 0 1 0 4.6 0a2.3 2.3 0 1 0 -4.6 0M495.9 88.6a2.3 2.3 0 1 0 4.6 0a2.3 2.3 0 1 0 -4.6 0M496.6 88.8a2.3 2.3 0 1 0 4.6 0a2.3 2.3 0 1 0 -4.6 0M496.7 89.3a2.3 2.3 0 1 0 4.6 0a2.3 2.3 0 1 0 -4.6 0M497.7 89.6a2.3 2.3 0 1 0 4.6 0a2.3 2.3 0 1 0 -4.6 0M498.0 90.4a2.3 2.3 0 1 0 4.6 0a2.3 2.3 0 1 0 -4.6 0M498.6 90.5a2.3 2.3 0 1 0 4.6 0a2.3 2.3 0 1 0 -4.6 0M499.2 91.0a2.3 2.3 0 1 0 4.6 0a2.3 2.3 0 1 0 -4.6 0M500.0 91.0a2.3 2.3 0 1 0 4.6 0a2.3 2.3 0 1 0 -4.6 0M500.6 91.8a2.3 2.3 0 1 0 4.6 0a2.3 2.3 0 1 0 -4.6 0M501.8 91.4a2.3 2.3 0 1 0 4.6 0a2.3 2.3 0 1 0 -4.6 0M502.0 91.8a2.3 2.3 0 1 0 4.6 0a2.3 2.3 0 1 0 -4.6 0M502.4 91.7a2.3 2.3 0 1 0 4.6 0a2.3 2.3 0 1 0 -4.6 0M503.9 92.1a2.3 2.3 0 1 0 4.6 0a2.3 2.3 0 1 0 -4.6 0M504.3 92.4a2.3 2.3 0 1 0 4.6 0a2.3 2.3 0 1 0 -4.6 0M505.1 92.5a2.3 2.3 0 1 0 4.6 0a2.3 2.3 0 1 0 -4.6 0M505.5 92.8a2.3 2.3 0 1 0 4.6 0a2.3 2.3 0 1 0 -4.6 0M506.4 92.3a2.3 2.3 0 1 0 4.6 0a2.3 2.3 0 1 0 -4.6 0" fill="#e60000" stroke="#e60000" stroke-width="1"/>
<path d="M491.9 70.0a2.3 2.3 0 1 0 4.6 0a2.3 2.3 0 1 0 -4.6 0M492.3 70.3a2.3 2.3 0 1 0 4.6 0a2.3 2.3 0 1 0 -4.6 0M492.0 71.4a2.3 2.3 0 1 0 4.6 0a2.3 2.3 0 1 0 -4.6 0M492.0 72.2a2.3 2.3 0 1 0 4.6 0a2.3 2.3 0 1 0 -4.6 0M492.1 73.3a2.3 2.3 0 1 0 4.6 0a2.3 2.3 0 1 0 -4.6 0M492.2 73.0a2.3 2.3 0 1 0 4.6 0a2.3 2.3 0 1 0 -4.6 0M492.7 73.8a2.3 2.3 0 1 0 4.6 0a2.3 2.3 0 1 0 -4.6 0M493.3 74.8a2.3 2.3 0 1 0 4.6 0a2.3 2.3 0 1 0 -4.6 0M493.3 75.2a2.3 2.3 0 1 0 4.6 0a2.3 2.3 0 1 0 -4.6 0M493.5 75.9a2.3 2.3 0 1 0 4.6 0a2.3 2.3 0 1 0 -4.6 0M493.6 76.6a2.3 2.3 0 1 0 4.6 0a2.3 2.3 0 1 0 -4.6 0M493.9 77.1a2.3 2.3 0 1 0 4.6 0a2.3 2.3 0 1 0 -4.6 0M495.5 77.7a2.3 2.3 0 1 0 4.6 0a2.3 2.3 0 1 0 -4.6 0M495.1 78.3a2.3 2.3 0 1 0 4.6 0a2.3 2.3 0 1 0 -4.6 0M495.7 78.2a2.3 2.3 0 1 0 4.6 0a2.3 2.3 0 1 0 -4.6 0M496.1 79.3a2.3 2.3 0 1 0 4.6 0a2.3 2.3 0 1 0 -4.6 0M496.9 78.9a2.3 2.3 0 1 0 4.6 0a2.3 2.3 0 1 0 -4.6 0M497.2 80.5a2.3 2.3 0 1 0 4.6 0a2.3 2.3 0 1 0 -4.6 0M498.0 80.6a2.3 2.3 0 1 0 4.6 0a2.3 2.3 0 1 0 -4.6 0M499.0 80.5a2.3 2.3 0 1 0 4.6 0a2.3 2.3 0 1 0 -4.6 0M499.0 81.3a2.3 2.3 0 1 0 4.6 0a2.3 2.3 0 1 0 -4.6 0M500.0 81.2a2.3 2.3 0 1 0 4.6 0a2.3 2.3 0 1 0 -4.6 0M500.5 81.7a2.3 2.3 0 1 0 4.6 0a2.3 2.3 0 1 0 -4.6 0M501.4 82.0a2.3 2.3 0 1 0 4.6 0a2.3 2.3 0 1 0 -4.6 0M501.6 82.1a2.3 2.3 0 1 0 4.6 0a2.3 2.3 0 1 0 -4.6 0M502.6 82.3a2.3 2.3 0 1 0 4.6 0a2.3 2.3 0 1 0 -4.6 0M502.8 82.7a2.3 2.3 0 1 0 4.6 0a2.3 2.3 0 1 0 -4.6 0M503.2 82.6a2.3 2.3 0 1 0 4.6 0a2.3 2.3 0 1 0 -4.6 0M504.1 82.8a2.3 2.3 0 1 0 4.6 0a2.3 2.3 0 1 0 -4.6 0M504.8 82.8a2.3 2.3 0 1 0 4.6 0a2.3 2.3 0 1 0 -4.6 0M505.5 82.7a2.3 2.3 0 1 0 4.6 0a2.3 2.3 0 1 0 -4.6 0M506.4 83.9a2.3 2.3 0 1 0 4.6 0a2.3 2.3 0 1 0 -4.6 0M507.5 83.9a2.3 2.3 0 1 0 4.6 0a2.3 2.3 0 1 0 -4.6 0M507.5 83.4a2.3 2.3 0 1 0 4.6 0a2.3 2.3 0 1 0 -4.6 0M508.7 84.1a2.3 2.3 0 1 0 4.6 0a2.3 2.3 0 1 0 -4.6 0M509.2 84.2a2.3 2.3 0 1 0 4.6 0a2.3 2.3 0 1 0 -4.6 0M509.7 83.6a2.3 2.3 0 1 0 4.6 0a2.3 2.3 0 1 0 -4.6 0M510.3 84.2a2.3 2.3 0 1 0 4.6 0a2.3 2.3 0 1 0 -4.6 0M511.4 84.5a2.3 2.3 0 1 0 4.6 0a2.3 2.3 0 1 0 -4.6 0M512.1 85.2a2.3 2.3 0 1 0 4.6 0a2.3 2.3 0 1 0 -4.6 0M512.5 85.1a2.3 2.3 0 1 0 4.6 0a2.3 2.3 0 1 0 -4.6 0M513.3 85.3a2.3 2.3 0 1 0 4.6 0a2.3 2.3 0 1 0 -4.6 0" fill="#1e3ce6" stroke="#1e3ce6" stroke-width="1"/>
<path d="M502.3 59.9a2.3 2.3 0 1 0 4.6 0a2.3 2.3 0 1 0 -4.6 0M502.6 60.8a2.3 2.3 0 1 0 4.6 0a2.3 2.3 0 1 0 -4.6 0M502.1 61.9a2.3 2.3 0 1 0 4.6 0a2.3 2.3 0 1 0 -4.6 0M502.8 62.3a2.3 2.3 0 1 0 4.6 0a2.3 2.3 0 1 0 -4.6 0M503.0 62.4a2.3 2.3 0 1 0 4.6 0a2.3 2.3 0 1 0 -4.6 0M502.5 62.9a2.3 2.3 0 1 0 4.6 0a2.3 2.3 0 1 0 -4.6 0M503.2 63.8a2.3 2.3 0 1 0 4.6 0a2.3 2.3 0 1 0 -4.6 0M503.8 64.5a2.3 2.3 0 1 0 4.6 0a2.3 2.3 0 1 0 -4.6 0M504.1 64.8a2.3 2.3 0 1 0 4.6 0a2.3 2.3 0 1 0 -4.6 0M504.2 65.6a2.3 2.3 0 1 0 4.6 0a2.3 2.3 0 1 0 -4.6 0M503.8 66.2a2.3 2.3 0 1 0 4.6 0a2.3 2.3 0 1 0 -4.6 0M504.2 67.2a2.3 2.3 0 1 0 4.6 0a2.3 2.3 0 1 0 -4.6 0M504.4 68.5a2.3 2.3 0 1 0 4.6 0a2.3 2.3 0 1 0 -4.6 0M505.2 69.2a2.3 2.3 0 1 0 4.6 0a2.3 2.3 0 1 0 -4.6 0M504.9 69.0a2.3 2.3 0 1 0 4.6 0a2.3 2.3 0 1 0 -4.6 0M505.2 69.8a2.3 2.3 0 1 0 4.6 0a2.3 2.3 0 1 0 -4.6 0M505.3 70.1a2.3 2.3 0 1 0 4.6 0a2.3 2.3 0 1 0 -4.6 0M506.2 70.6a2.3 2.3 0 1 0 4.6 0a2.3 2.3 0 1 0 -4.6 0M506.7 71.7a2.3 2.3 0 1 0 4.6 0a2.3 2.3 0 1 0 -4.6 0M506.7 72.3a2.3 2.3 0 1 0 4.6 0a2.3 2.3 0 1 0 -4.6 0M507.1 72.7a2.3 2.3 0 1 0 4.6 0a2.3 2.3 0 1 0 -4.6 0M507.6 73.7a2.3 2.3 0 1 0 4.6 0a2.3 2.3 0 1 0 -4.6 0M508.5 73.9a2.3 2.3 0 1 0 4.6 0a2.3 2.3 0 1 0 -4.6 0M508.1 74.9a2.3 2.3 0 1 0 4.6 0a2.3 2.3 0 1 0 -4.6 0M509.0 75.0a2.3 2.3 0 1 0 4.6 0a2.3 2.3 0 1 0 -4.6 0M509.5 75.9a2.3 2.3 0 1 0 4.6 0a2.3 2.3 0 1 0 -4.6 0M510.0 76.1a2.3 2.3 0 1 0 4.6 0a2.3 2.3 0 1 0 -4.6 0M510.8 76.7a2.3 2.3 0 1 0 4.6 0a2.3 2.3 0 1 0 -4.6 0M511.2 77.3a2.3 2.3 0 1 0 4.6 0a2.3 2.3 0 1 0 -4.6 0M511.5 77.2a2.3 2.3 0 1 0 4.6 0a2.3 2.3 0 1 0 -4.6 0M512.4 77.8a2.3 2.3 0 1 0 4.6 0a2.3 2.3 0 1 0 -4.6 0M512.9 78.5a2.3 2.3 0 1 0 4.6 0a2.3 2.3 0 1 0 -4.6 0M513.2 78.8a2.3 2.3 0 1 0 4.6 0a2.3 2.3 0 1 0 -4.6 0M513.7 79.4a2.3 2.3 0 1 0 4.6 0a2.3 2.3 0 1 0 -4.6 0M513.9 79.4a2.3 2.3 0 1 0 4.6 0a2.3 2.3 0 1 0 -4.6 0M514.9 79.6a2.3 2.3 0 1 0 4.6 0a2.3 2.3 0 1 0 -4.6 0M515.2 80.3a2.3 2.3 0 1 0 4.6 0a2.3 2.3 0 1 0 -4.6 0M515.8 80.7a2.3 2.3 0 1 0 4.6 0a2.3 2.3 0 1 0 -4.6 0M516.7 80.7a2.3 2.3 0 1 0 4.6 0a2.3 2.3 0 1 0 -4.6 0M516.9 81.6a2.3 2.3 0 1 0 4.6 0a2.3 2.3 0 1 0 -4.6 0M517.8 81.7a2.3 2.3 0 1 0 4.6 0a2.3 2.3 0 1 0 -4.6 0M518.6 81.9a2.3 2.3 0 1 0 4.6 0a2.3 2.3 0 1 0 -4.6 0M519.5 82.1a2.3 2.3 0 1 0 4.6 0a2.3 2.3 0 1 0 -4.6 0" fill="#b4d200" stroke="#b4d200" stroke-width="1"/>
<path d="M507.9 44.6a2.3 2.3 0 1 0 4.6 0a2.3 2.3 0 1 0 -4.6 0M508.9 45.5a2.3 2.3 0 1 0 4.6 0a2.3 2.3 0 1 0 -4.6 0M508.1 46.4a2.3 2.3 0 1 0 4.6 0a2.3 2.3 0 1 0 -4.6 0M508.5 47.5a2.3 2.3 0 1 0 4.6 0a2.3 2.3 0 1 0 -4.6 0M508.7 47.9a2.3 2.3 0 1 0 4.6 0a2.3 2.3 0 1 0 -4.6 0M508.6 47.9a2.3 2.3 0 1 0 4.6 0a2.3 2.3 0 1 0 -4.6 0M508.7 48.7a2.3 2.3 0 1 0 4.6 0a2.3 2.3 0 1 0 -4.6 0M508.5 49.9a2.3 2.3 0 1 0 4.6 0a2.3 2.3 0 1 0 -4.6 0M508.8 49.9a2.3 2.3 0 1 0 4.6 0a2.3 2.3 0 1 0 -4.6 0M509.1 51.2a2.3 2.3 0 1 0 4.6 0a2.3 2.3 0 1 0 -4.6 0M509.6 51.7a2.3 2.3 0 1 0 4.6 0a2.3 2.3 0 1 0 -4.6 0M509.1 52.8a2.3 2.3 0 1 0 4.6 0a2.3 2.3 0 1 0 -4.6 0M509.7 53.6a2.3 2.3 0 1 0 4.6 0a2.3 2.3 0 1 0 -4.6 0M509.8 53.2a2.3 2.3 0 1 0 4.6 0a2.3 2.3 0 1 0 -4.6 0M509.9 54.8a2.3 2.3 0 1 0 4.6 0a2.3 2.3 0 1 0 -4.6 0M510.0 55.5a2.3 2.3 0 1 0 4.6 0a2.3 2.3 0 1 0 -4.6 0M510.3 55.7a2.3 2.3 0 1 0 4.6 0a2.3 2.3 0 1 0 -4.6 0M510.1 56.4a2.3 2.3 0 1 0 4.6 0a2.3 2.3 0 1 0 -4.6 0M510.9 56.9a2.3 2.3 0 1 0 4.6 0a2.3 2.3 0 1 0 -4.6 0M511.3 57.8a2.3 2.3 0 1 0 4.6 0a2.3 2.3 0 1 0 -4.6 0M511.3 58.6a2.3 2.3 0 1 0 4.6 0a2.3 2.3 0 1 0 -4.6 0M512.0 59.5a2.3 2.3 0 1 0 4.6 0a2.3 2.3 0 1 0 -4.6 0M512.2 60.2a2.3 2.3 0 1 0 4.6 0a2.3 2.3 0 1 0 -4.6 0M512.3 60.3a2.3 2.3 0 1 0 4.6 0a2.3 2.3 0 1 0 -4.6 0M513.2 60.7a2.3 2.3 0 1 0 4.6 0a2.3 2.3 0 1 0 -4.6 0M513.2 61.8a2.3 2.3 0 1 0 4.6 0a2.3 2.3 0 1 0 -4.6 0M514.5 61.2a2.3 2.3 0 1 0 4.6 0a2.3 2.3 0 1 0 -4.6 0M513.9 62.1a2.3 2.3 0 1 0 4.6 0a2.3 2.3 0 1 0 -4.6 0M514.5 63.2a2.3 2.3 0 1 0 4.6 0a2.3 2.3 0 1 0 -4.6 0M515.0 64.2a2.3 2.3 0 1 0 4.6 0a2.3 2.3 0 1 0 -4.6 0M515.8 63.8a2.3 2.3 0 1 0 4.6 0a2.3 2.3 0 1 0 -4.6 0M516.6 64.5a2.3 2.3 0 1 0 4.6 0a2.3 2.3 0 1 0 -4.6 0M516.9 64.5a2.3 2.3 0 1 0 4.6 0a2.3 2.3 0 1 0 -4.6 0M517.3 65.2a2.3 2.3 0 1 0 4.6 0a2.3 2.3 0 1 0 -4.6 0M518.6 65.6a2.3 2.3 0 1 0 4.6 0a2.3 2.3 0 1 0 -4.6 0M518.9 65.8a2.3 2.3 0 1 0 4.6 0a2.3 2.3 0 1 0 -4.6 0M519.2 66.4a2.3 2.3 0 1 0 4.6 0a2.3 2.3 0 1 0 -4.6 0M519.8 66.6a2.3 2.3 0 1 0 4.6 0a2.3 2.3 0 1 0 -4.6 0M520.1 67.1a2.3 2.3 0 1 0 4.6 0a2.3 2.3 0 1 0 -4.6 0M521.2 67.1a2.3 2.3 0 1 0 4.6 0a2.3 2.3 0 1 0 -4.6 0M522.3 67.1a2.3 2.3 0 1 0 4.6 0a2.3 2.3 0 1 0 -4.6 0M522.1 67.7a2.3 2.3 0 1 0 4.6 0a2.3 2.3 0 1 0 -4.6 0M522.7 68.1a2.3 2.3 0 1 0 4.6 0a2.3 2.3 0 1 0 -4.6 0M523.9 67.8a2.3 2.3 0 1 0 4.6 0a2.3 2.3 0 1 0 -4.6 0M523.8 68.6a2.3 2.3 0 1 0 4.6 0a2.3 2.3 0 1 0 -4.6 0M525.6 68.5a2.3 2.3 0 1 0 4.6 0a2.3 2.3 0 1 0 -4.6 0" fill="#3ee6a8" stroke="#3ee6a8" stroke-width="1"/>
<path d="M512.2 45.1a2.3 2.3 0 1 0 4.6 0a2.3 2.3 0 1 0 -4.6 0M512.3 45.7a2.3 2.3 0 1 0 4.6 0a2.3 2.3 0 1 0 -4.6 0M512.3 46.4a2.3 2.3 0 1 0 4.6 0a2.3 2.3 0 1 0 -4.6 0M512.2 47.6a2.3 2.3 0 1 0 4.6 0a2.3 2.3 0 1 0 -4.6 0M512.9 47.3a2.3 2.3 0 1 0 4.6 0a2.3 2.3 0 1 0 -4.6 0M513.0 48.1a2.3 2.3 0 1 0 4.6 0a2.3 2.3 0 1 0 -4.6 0M512.7 49.4a2.3 2.3 0 1 0 4.6 0a2.3 2.3 0 1 0 -4.6 0M513.0 50.1a2.3 2.3 0 1 0 4.6 0a2.3 2.3 0 1 0 -4.6 0M513.1 50.1a2.3 2.3 0 1 0 4.6 0a2.3 2.3 0 1 0 -4.6 0M513.6 50.9a2.3 2.3 0 1 0 4.6 0a2.3 2.3 0 1 0 -4.6 0M514.1 51.5a2.3 2.3 0 1 0 4.6 0a2.3 2.3 0 1 0 -4.6 0M513.7 52.7a2.3 2.3 0 1 0 4.6 0a2.3 2.3 0 1 0 -4.6 0M514.2 53.0a2.3 2.3 0 1 0 4.6 0a2.3 2.3 0 1 0 -4.6 0M514.5 54.2a2.3 2.3 0 1 0 4.6 0a2.3 2.3 0 1 0 -4.6 0M514.9 54.6a2.3 2.3 0 1 0 4.6 0a2.3 2.3 0 1 0 -4.6 0M515.6 55.1a2.3 2.3 0 1 0 4.6 0a2.3 2.3 0 1 0 -4.6 0M515.2 55.7a2.3 2.3 0 1 0 4.6 0a2.3 2.3 0 1 0 -4.6 0M515.2 56.4a2.3 2.3 0 1 0 4.6 0a2.3 2.3 0 1 0 -4.6 0M516.2 57.1a2.3 2.3 0 1 0 4.6 0a2.3 2.3 0 1 0 -4.6 0M516.1 57.4a2.3 2.3 0 1 0 4.6 0a2.3 2.3 0 1 0 -4.6 0M517.5 58.0a2.3 2.3 0 1 0 4.6 0a2.3 2.3 0 1 0 -4.6 0M517.2 58.7a2.3 2.3 0 1 0 4.6 0a2.3 2.3 0 1 0 -4.6 0M517.8 59.0a2.3 2.3 0 1 0 4.6 0a2.3 2.3 0 1 0 -4.6 0M518.5 59.9a2.3 2.3 0 1 0 4.6 0a2.3 2.3 0 1 0 -4.6 0M518.9 60.0a2.3 2.3 0 1 0 4.6 0a2.3 2.3 0 1 0 -4.6 0M519.3 60.3a2.3 2.3 0 1 0 4.6 0a2.3 2.3 0 1 0 -4.6 0M519.9 61.0a2.3 2.3 0 1 0 4.6 0a2.3 2.3 0 1 0 -4.6 0M520.8 61.9a2.3 2.3 0 1 0 4.6 0a2.3 2.3 0 1 0 -4.6 0M520.9 62.3a2.3 2.3 0 1 0 4.6 0a2.3 2.3 0 1 0 -4.6 0M522.2 61.7a2.3 2.3 0 1 0 4.6 0a2.3 2.3 0 1 0 -4.6 0M522.3 62.7a2.3 2.3 0 1 0 4.6 0a2.3 2.3 0 1 0 -4.6 0M522.1 62.8a2.3 2.3 0 1 0 4.6 0a2.3 2.3 0 1 0 -4.6 0M523.7 63.2a2.3 2.3 0 1 0 4.6 0a2.3 2.3 0 1 0 -4.6 0M523.5 63.4a2.3 2.3 0 1 0 4.6 0a2.3 2.3 0 1 0 -4.6 0M524.8 63.7a2.3 2.3 0 1 0 4.6 0a2.3 2.3 0 1 0 -4.6 0M526.1 63.9a2.3 2.3 0 1 0 4.6 0a2.3 2.3 0 1 0 -4.6 0M526.4 64.2a2.3 2.3 0 1 0 4.6 0a2.3 2.3 0 1 0 -4.6 0M526.4 64.5a2.3 2.3 0 1 0 4.6 0a2.3 2.3 0 1 0 -4.6 0M527.1 64.3a2.3 2.3 0 1 0 4.6 0a2.3 2.3 0 1 0 -4.6 0M528.1 64.5a2.3 2.3 0 1 0 4.6 0a2.3 2.3 0 1 0 -4.6 0M529.2 64.7a2.3 2.3 0 1 0 4.6 0a2.3 2.3 0 1 0 -4.6 0M529.2 64.8a2.3 2.3 0 1 0 4.6 0a2.3 2.3 0 1 0 -4.6 0M530.5 65.4a2.3 2.3 0 1 0 4.6 0a2.3 2.3 0 1 0 -4.6 0" fill="#e60000" stroke="#e60000" stroke-width="1"/>
<path d="M524.4 31.6a2.3 2.3 0 1 0 4.6 0a2.3 2.3 0 1 0 -4.6 0M524.7 32.5a2.3 2.3 0 1 0 4.6 0a2.3 2.3 0 1 0 -4.6 0M524.8 32.8a2.3 2.3 0 1 0 4.6 0a2.3 2.3 0 1 0 -4.6 0M525.0 34.2a2.3 2.3 0 1 0 4.6 0a2.3 2.3 0 1 0 -4.6 0M524.9 34.9a2.3 2.3 0 1 0 4.6 0a2.3 2.3 0 1 0 -4.6 0M525.3 35.8a2.3 2.3 0 1 0 4.6 0a2.3 2.3 0 1 0 -4.6 0M525.0 35.9a2.3 2.3 0 1 0 4.6 0a2.3 2.3 0 1 0 -4.6 0M525.2 36.7a2.3 2.3 0 1 0 4.6 0a2.3 2.3 0 1 0 -4.6 0M525.5 37.1a2.3 2.3 0 1 0 4.6 0a2.3 2.3 0 1 0 -4.6 0M524.9 37.8a2.3 2.3 0 1 0 4.6 0a2.3 2.3 0 1 0 -4.6 0M525.6 39.2a2.3 2.3 0 1 0 4.6 0a2.3 2.3 0 1 0 -4.6 0M526.1 40.5a2.3 2.3 0 1 0 4.6 0a2.3 2.3 0 1 0 -4.6 0M525.8 40.0a2.3 2.3 0 1 0 4.6 0a2.3 2.3 0 1 0 -4.6 0M525.8 40.9a2.3 2.3 0 1 0 4.6 0a2.3 2.3 0 1 0 -4.6 0M526.7 42.0a2.3 2.3 0 1 0 4.6 0a2.3 2.3 0 1 0 -4.6 0M526.3 42.1a2.3 2.3 0 1 0 4.6 0a2.3 2.3 0 1 0 -4.6 0M526.9 43.2a2.3 2.3 0 1 0 4.6 0a2.3 2.3 0 1 0 -4.6 0M526.0 43.6a2.3 2.3 0 1 0 4.6 0a2.3 2.3 0 1 0 -4.6 0M527.0 44.2a2.3 2.3 0 1 0 4.6 0a2.3 2.3 0 1 0 -4.6 0M527.1 45.3a2.3 2.3 0 1 0 4.6 0a2.3 2.3 0 1 0 -4.6 0M527.6 45.5a2.3 2.3 0 1 0 4.6 0a2.3 2.3 0 1 0 -4.6 0M528.2 45.9a2.3 2.3 0 1 0 4.6 0a2.3 2.3 0 1 0 -4.6 0M528.1 47.1a2.3 2.3 0 1 0 4.6 0a2.3 2.3 0 1 0 -4.6 0M528.5 47.5a2.3 2.3 0 1 0 4.6 0a2.3 2.3 0 1 0 -4.6 0M528.1 47.9a2.3 2.3 0 1 0 4.6 0a2.3 2.3 0 1 0 -4.6 0M529.6 48.3a2.3 2.3 0 1 0 4.6 0a2.3 2.3 0 1 0 -4.6 0M530.2 49.3a2.3 2.3 0 1 0 4.6 0a2.3 2.3 0 1 0 -4.6 0M530.3 49.4a2.3 2.3 0 1 0 4.6 0a2.3 2.3 0 1 0 -4.6 0M530.6 50.2a2.3 2.3 0 1 0 4.6 0a2.3 2.3 0 1 0 -4.6 0M531.4 50.9a2.3 2.3 0 1 0 4.6 0a2.3 2.3 0 1 0 -4.6 0M532.1 51.1a2.3 2.3 0 1 0 4.6 0a2.3 2.3 0 1 0 -4.6 0M532.5 51.9a2.3 2.3 0 1 0 4.6 0a2.3 2.3 0 1 0 -4.6 0M533.5 51.5a2.3 2.3 0 1 0 4.6 0a2.3 2.3 0 1 0 -4.6 0M533.3 52.5a2.3 2.3 0 1 0 4.6 0a2.3 2.3 0 1 0 -4.6 0M533.7 52.9a2.3 2.3 0 1 0 4.6 0a2.3 2.3 0 1 0 -4.6 0M534.8 53.7a2.3 2.3 0 1 0 4.6 0a2.3 2.3 0 1 0 -4.6 0M535.7 53.4a2.3 2.3 0 1 0 4.6 0a2.3 2.3 0 1 0 -4.6 0M535.8 54.0a2.3 2.3 0 1 0 4.6 0a2.3 2.3 0 1 0 -4.6 0M536.5 54.0a2.3 2.3 0 1 0 4.6 0a2.3 2.3 0 1 0 -4.6 0M537.0 54.0a2.3 2.3 0 1 0 4.6 0a2.3 2.3 0 1 0 -4.6 0" fill="#b4d200" stroke="#b4d200" stroke-width="1"/>
<path d="M544.9 28.9a2.3 2.3 0 1 0 4.6 0a2.3 2.3 0 1 0 -4.6 0M545.1 29.7a2.3 2.3 0 1 0 4.6 0a2.3 2.3 0 1 0 -4.6 0M545.6 30.7a2.3 2.3 0 1 0 4.6 0a2.3 2.3 0 1 0 -4.6 0M545.2 30.8a2.3 2.3 0 1 0 4.6 0a2.3 2.3 0 1 0 -4.6 0M545.6 31.6a2.3 2.3 0 1 0 4.6 0a2.3 2.3 0 1 0 -4.6 0M546.0 32.0a2.3 2.3 0 1 0 4.6 0a2.3 2.3 0 1 0 -4.6 0M546.3 33.3a2.3 2.3 0 1 0 4.6 0a2.3 2.3 0 1 0 -4.6 0M546.3 33.7a2.3 2.3 0 1 0 4.6 0a2.3 2.3 0 1 0 -4.6 0M546.7 34.4a2.3 2.3 0 1 0 4.6 0a2.3 2.3 0 1 0 -4.6 0M546.1 34.4a2.3 2.3 0 1 0 4.6 0a2.3 2.3 0 1 0 -4.6 0M546.5 36.1a2.3 2.3 0 1 0 4.6 0a2.3 2.3 0 1 0 -4.6 0M547.0 36.7a2.3 2.3 0 1 0 4.6 0a2.3 2.3 0 1 0 -4.6 0M547.4 36.9a2.3 2.3 0 1 0 4.6 0a2.3 2.3 0 1 0 -4.6 0M547.5 38.2a2.3 2.3 0 1 0 4.6 0a2.3 2.3 0 1 0 -4.6 0M547.4 37.7a2.3 2.3 0 1 0 4.6 0a2.3 2.3 0 1 0 -4.6 0M547.9 39.0a2.3 2.3 0 1 0 4.6 0a2.3 2.3 0 1 0 -4.6 0M547.8 39.2a2.3 2.3 0 1 0 4.6 0a2.3 2.3 0 1 0 -4.6 0M548.9 41.1a2.3 2.3 0 1 0 4.6 0a2.3 2.3 0 1 0 -4.6 0M548.5 40.0a2.3 2.3 0 1 0 4.6 0a2.3 2.3 0 1 0 -4.6 0M549.6 41.0a2.3 2.3 0 1 0 4.6 0a2.3 2.3 0 1 0 -4.6 0M550.3 41.6a2.3 2.3 0 1 0 4.6 0a2.3 2.3 0 1 0 -4.6 0M550.8 42.6a2.3 2.3 0 1 0 4.6 0a2.3 2.3 0 1 0 -4.6 0M550.6 43.0a2.3 2.3 0 1 0 4.6 0a2.3 2.3 0 1 0 -4.6 0M551.7 43.3a2.3 2.3 0 1 0 4.6 0a2.3 2.3 0 1 0 -4.6 0M552.1 43.5a2.3 2.3 0 1 0 4.6 0a2.3 2.3 0 1 0 -4.6 0M552.7 44.6a2.3 2.3 0 1 0 4.6 0a2.3 2.3 0 1 0 -4.6 0M553.9 44.1a2.3 2.3 0 1 0 4.6 0a2.3 2.3 0 1 0 -4.6 0M554.1 44.7a2.3 2.3 0 1 0 4.6 0a2.3 2.3 0 1 0 -4.6 0M554.2 45.5a2.3 2.3 0 1 0 4.6 0a2.3 2.3 0 1 0 -4.6 0M555.0 44.9a2.3 2.3 0 1 0 4.6 0a2.3 2.3 0 1 0 -4.6 0M556.2 45.3a2.3 2.3 0 1 0 4.6 0a2.3 2.3 0 1 0 -4.6 0M556.7 46.1a2.3 2.3 0 1 0 4.6 0a2.3 2.3 0 1 0 -4.6 0M556.9 46.1a2.3 2.3 0 1 0 4.6 0a2.3 2.3 0 1 0 -4.6 0M557.4 45.8a2.3 2.3 0 1 0 4.6 0a2.3 2.3 0 1 0 -4.6 0M558.4 46.4a2.3 2.3 0 1 0 4.6 0a2.3 2.3 0 1 0 -4.6 0M559.1 47.2a2.3 2.3 0 1 0 4.6 0a2.3 2.3 0 1 0 -4.6 0M560.2 46.8a2.3 2.3 0 1 0 4.6 0a2.3 2.3 0 1 0 -4.6 0M560.4 47.3a2.3 2.3 0 1 0 4.6 0a2.3 2.3 0 1 0 -4.6 0M561.5 47.3a2.3 2.3 0 1 0 4.6 0a2.3 2.3 0 1 0 -4.6 0M562.3 47.2a2.3 2.3 0 1 0 4.6 0a2.3 2.3 0 1 0 -4.6 0M562.1 48.1a2.3 2.3 0 1 0 4.6 0a2.3 2.3 0 1 0 -4.6 0M563.1 48.1a2.3 2.3 0 1 0 4.6 0a2.3 2.3 0 1 0 -4.6 0M564.4 48.3a2.3 2.3 0 1 0 4.6 0a2.3 2.3 0 1 0 -4.6 0" fill="#e60000" stroke="#e60000" stroke-width="1"/>
<path d="M512.6 33.2h4.0v4.0h-4.0z" fill="#fff" stroke="#e60000" stroke-width="0.9"/>
<path d="M512.6 41.5h4.0v4.0h-4.0z" fill="#fff" stroke="#e60000" stroke-width="0.9"/>
<path d="M531.0 58.2h4.0v4.0h-4.0z" fill="#fff" stroke="#e60000" stroke-width="0.9"/>
<path d="M502.3 49.7h4.0v4.0h-4.0z" fill="#fff" stroke="#b4d200" stroke-width="0.9"/>
<path d="M520.0 80.2h4.0v4.0h-4.0z" fill="#fff" stroke="#b4d200" stroke-width="0.9"/>
<path d="M492.5 97.2h4.0v4.0h-4.0z" fill="#fff" stroke="#b4d200" stroke-width="0.9"/>
<path d="M399.4 157.0h4.0v4.0h-4.0z" fill="#fff" stroke="#e60000" stroke-width="0.9"/>
<path d="M388.6 159.0h4.0v4.0h-4.0z" fill="#fff" stroke="#b4d200" stroke-width="0.9"/>
<path d="M512.0 33.0h4.0v4.0h-4.0z" fill="#fff" stroke="#e60000" stroke-width="0.9"/>
<polyline points="433.9,146 452.4,127.5 463.3,111.2 472.5,98 481,87 490,76" fill="none" stroke="#e60000" stroke-width="0.6" stroke-dasharray="0.8 1.2"/>
<circle cx="433.9" cy="146" r="1.7" fill="#e60000"/>
<circle cx="452.4" cy="127.5" r="1.7" fill="#e60000"/>
<circle cx="463.3" cy="111.2" r="1.7" fill="#e60000"/>
<circle cx="472.5" cy="98" r="1.7" fill="#e60000"/>
<circle cx="481" cy="87" r="1.7" fill="#e60000"/>
<circle cx="546.5" cy="17.4" r="1.7" fill="#e60000"/>
<circle cx="547" cy="29" r="1.7" fill="#e60000"/>
<circle cx="545.5" cy="22.5" r="1.7" fill="#b4d200"/>
<circle cx="527" cy="25" r="1.7" fill="#b4d200"/>
<line x1="546.5" y1="11" x2="546.5" y2="30" stroke="#e60000" stroke-width="0.7" stroke-dasharray="0.8 1.2"/>
<line x1="527" y1="24" x2="527" y2="33" stroke="#b4d200" stroke-width="0.7" stroke-dasharray="0.8 1.2"/>
</g>
<rect x="326.5" y="1.5" width="240.0" height="183.0" stroke="#000" stroke-width="1" fill="none"/>
<line x1="326.5" y1="170.5" x2="329.5" y2="170.5" stroke="#000" stroke-width="1" />
<line x1="566.5" y1="170.5" x2="563.5" y2="170.5" stroke="#000" stroke-width="1" />
<text x="324.3" y="173.4" font-size="8.0" font-weight="normal" text-anchor="end" fill="#111" letter-spacing="0.25">0</text>
<line x1="326.5" y1="152.5" x2="329.5" y2="152.5" stroke="#000" stroke-width="1" />
<line x1="566.5" y1="152.5" x2="563.5" y2="152.5" stroke="#000" stroke-width="1" />
<text x="324.3" y="155.4" font-size="8.0" font-weight="normal" text-anchor="end" fill="#111" letter-spacing="0.25">0.01</text>
<line x1="326.5" y1="135.5" x2="329.5" y2="135.5" stroke="#000" stroke-width="1" />
<line x1="566.5" y1="135.5" x2="563.5" y2="135.5" stroke="#000" stroke-width="1" />
<text x="324.3" y="138.4" font-size="8.0" font-weight="normal" text-anchor="end" fill="#111" letter-spacing="0.25">0.02</text>
<line x1="326.5" y1="118.5" x2="329.5" y2="118.5" stroke="#000" stroke-width="1" />
<line x1="566.5" y1="118.5" x2="563.5" y2="118.5" stroke="#000" stroke-width="1" />
<text x="324.3" y="121.4" font-size="8.0" font-weight="normal" text-anchor="end" fill="#111" letter-spacing="0.25">0.03</text>
<line x1="326.5" y1="100.5" x2="329.5" y2="100.5" stroke="#000" stroke-width="1" />
<line x1="566.5" y1="100.5" x2="563.5" y2="100.5" stroke="#000" stroke-width="1" />
<text x="324.3" y="103.4" font-size="8.0" font-weight="normal" text-anchor="end" fill="#111" letter-spacing="0.25">0.04</text>
<line x1="326.5" y1="83.5" x2="329.5" y2="83.5" stroke="#000" stroke-width="1" />
<line x1="566.5" y1="83.5" x2="563.5" y2="83.5" stroke="#000" stroke-width="1" />
<text x="324.3" y="86.4" font-size="8.0" font-weight="normal" text-anchor="end" fill="#111" letter-spacing="0.25">0.05</text>
<line x1="326.5" y1="66.5" x2="329.5" y2="66.5" stroke="#000" stroke-width="1" />
<line x1="566.5" y1="66.5" x2="563.5" y2="66.5" stroke="#000" stroke-width="1" />
<text x="324.3" y="69.4" font-size="8.0" font-weight="normal" text-anchor="end" fill="#111" letter-spacing="0.25">0.06</text>
<line x1="326.5" y1="48.5" x2="329.5" y2="48.5" stroke="#000" stroke-width="1" />
<line x1="566.5" y1="48.5" x2="563.5" y2="48.5" stroke="#000" stroke-width="1" />
<text x="324.3" y="51.4" font-size="8.0" font-weight="normal" text-anchor="end" fill="#111" letter-spacing="0.25">0.07</text>
<line x1="326.5" y1="31.5" x2="329.5" y2="31.5" stroke="#000" stroke-width="1" />
<line x1="566.5" y1="31.5" x2="563.5" y2="31.5" stroke="#000" stroke-width="1" />
<text x="324.3" y="34.4" font-size="8.0" font-weight="normal" text-anchor="end" fill="#111" letter-spacing="0.25">0.08</text>
<line x1="326.5" y1="14.5" x2="329.5" y2="14.5" stroke="#000" stroke-width="1" />
<line x1="566.5" y1="14.5" x2="563.5" y2="14.5" stroke="#000" stroke-width="1" />
<text x="324.3" y="17.4" font-size="8.0" font-weight="normal" text-anchor="end" fill="#111" letter-spacing="0.25">0.09</text>
<line x1="333.64983822704767" y1="184.5" x2="333.64983822704767" y2="182.7" stroke="#000" stroke-width="1" />
<line x1="333.64983822704767" y1="1.5" x2="333.64983822704767" y2="3.3" stroke="#000" stroke-width="1" />
<line x1="344.73478298460276" y1="184.5" x2="344.73478298460276" y2="182.7" stroke="#000" stroke-width="1" />
<line x1="344.73478298460276" y1="1.5" x2="344.73478298460276" y2="3.3" stroke="#000" stroke-width="1" />
<line x1="352.5996764540953" y1="184.5" x2="352.5996764540953" y2="182.7" stroke="#000" stroke-width="1" />
<line x1="352.5996764540953" y1="1.5" x2="352.5996764540953" y2="3.3" stroke="#000" stroke-width="1" />
<line x1="358.7001617729524" y1="184.5" x2="358.7001617729524" y2="182.7" stroke="#000" stroke-width="1" />
<line x1="358.7001617729524" y1="1.5" x2="358.7001617729524" y2="3.3" stroke="#000" stroke-width="1" />
<line x1="363.6846212116504" y1="184.5" x2="363.6846212116504" y2="182.7" stroke="#000" stroke-width="1" />
<line x1="363.6846212116504" y1="1.5" x2="363.6846212116504" y2="3.3" stroke="#000" stroke-width="1" />
<line x1="367.8989216188975" y1="184.5" x2="367.8989216188975" y2="182.7" stroke="#000" stroke-width="1" />
<line x1="367.8989216188975" y1="1.5" x2="367.8989216188975" y2="3.3" stroke="#000" stroke-width="1" />
<line x1="371.54951468114285" y1="184.5" x2="371.54951468114285" y2="182.7" stroke="#000" stroke-width="1" />
<line x1="371.54951468114285" y1="1.5" x2="371.54951468114285" y2="3.3" stroke="#000" stroke-width="1" />
<line x1="374.76956596920553" y1="184.5" x2="374.76956596920553" y2="182.7" stroke="#000" stroke-width="1" />
<line x1="374.76956596920553" y1="1.5" x2="374.76956596920553" y2="3.3" stroke="#000" stroke-width="1" />
<line x1="378.5" y1="184.5" x2="378.5" y2="181.5" stroke="#000" stroke-width="1" />
<line x1="378.5" y1="1.5" x2="378.5" y2="4.5" stroke="#000" stroke-width="1" />
<line x1="396.59983822704766" y1="184.5" x2="396.59983822704766" y2="182.7" stroke="#000" stroke-width="1" />
<line x1="396.59983822704766" y1="1.5" x2="396.59983822704766" y2="3.3" stroke="#000" stroke-width="1" />
<line x1="407.68478298460275" y1="184.5" x2="407.68478298460275" y2="182.7" stroke="#000" stroke-width="1" />
<line x1="407.68478298460275" y1="1.5" x2="407.68478298460275" y2="3.3" stroke="#000" stroke-width="1" />
<line x1="415.5496764540953" y1="184.5" x2="415.5496764540953" y2="182.7" stroke="#000" stroke-width="1" />
<line x1="415.5496764540953" y1="1.5" x2="415.5496764540953" y2="3.3" stroke="#000" stroke-width="1" />
<line x1="421.6501617729524" y1="184.5" x2="421.6501617729524" y2="182.7" stroke="#000" stroke-width="1" />
<line x1="421.6501617729524" y1="1.5" x2="421.6501617729524" y2="3.3" stroke="#000" stroke-width="1" />
<line x1="426.63462121165037" y1="184.5" x2="426.63462121165037" y2="182.7" stroke="#000" stroke-width="1" />
<line x1="426.63462121165037" y1="1.5" x2="426.63462121165037" y2="3.3" stroke="#000" stroke-width="1" />
<line x1="430.84892161889746" y1="184.5" x2="430.84892161889746" y2="182.7" stroke="#000" stroke-width="1" />
<line x1="430.84892161889746" y1="1.5" x2="430.84892161889746" y2="3.3" stroke="#000" stroke-width="1" />
<line x1="434.49951468114284" y1="184.5" x2="434.49951468114284" y2="182.7" stroke="#000" stroke-width="1" />
<line x1="434.49951468114284" y1="1.5" x2="434.49951468114284" y2="3.3" stroke="#000" stroke-width="1" />
<line x1="437.7195659692055" y1="184.5" x2="437.7195659692055" y2="182.7" stroke="#000" stroke-width="1" />
<line x1="437.7195659692055" y1="1.5" x2="437.7195659692055" y2="3.3" stroke="#000" stroke-width="1" />
<line x1="441.5" y1="184.5" x2="441.5" y2="181.5" stroke="#000" stroke-width="1" />
<line x1="441.5" y1="1.5" x2="441.5" y2="4.5" stroke="#000" stroke-width="1" />
<line x1="459.54983822704764" y1="184.5" x2="459.54983822704764" y2="182.7" stroke="#000" stroke-width="1" />
<line x1="459.54983822704764" y1="1.5" x2="459.54983822704764" y2="3.3" stroke="#000" stroke-width="1" />
<line x1="470.6347829846028" y1="184.5" x2="470.6347829846028" y2="182.7" stroke="#000" stroke-width="1" />
<line x1="470.6347829846028" y1="1.5" x2="470.6347829846028" y2="3.3" stroke="#000" stroke-width="1" />
<line x1="478.49967645409527" y1="184.5" x2="478.49967645409527" y2="182.7" stroke="#000" stroke-width="1" />
<line x1="478.49967645409527" y1="1.5" x2="478.49967645409527" y2="3.3" stroke="#000" stroke-width="1" />
<line x1="484.6001617729524" y1="184.5" x2="484.6001617729524" y2="182.7" stroke="#000" stroke-width="1" />
<line x1="484.6001617729524" y1="1.5" x2="484.6001617729524" y2="3.3" stroke="#000" stroke-width="1" />
<line x1="489.5846212116504" y1="184.5" x2="489.5846212116504" y2="182.7" stroke="#000" stroke-width="1" />
<line x1="489.5846212116504" y1="1.5" x2="489.5846212116504" y2="3.3" stroke="#000" stroke-width="1" />
<line x1="493.7989216188975" y1="184.5" x2="493.7989216188975" y2="182.7" stroke="#000" stroke-width="1" />
<line x1="493.7989216188975" y1="1.5" x2="493.7989216188975" y2="3.3" stroke="#000" stroke-width="1" />
<line x1="497.4495146811429" y1="184.5" x2="497.4495146811429" y2="182.7" stroke="#000" stroke-width="1" />
<line x1="497.4495146811429" y1="1.5" x2="497.4495146811429" y2="3.3" stroke="#000" stroke-width="1" />
<line x1="500.6695659692055" y1="184.5" x2="500.6695659692055" y2="182.7" stroke="#000" stroke-width="1" />
<line x1="500.6695659692055" y1="1.5" x2="500.6695659692055" y2="3.3" stroke="#000" stroke-width="1" />
<line x1="504.5" y1="184.5" x2="504.5" y2="181.5" stroke="#000" stroke-width="1" />
<line x1="504.5" y1="1.5" x2="504.5" y2="4.5" stroke="#000" stroke-width="1" />
<line x1="522.4998382270477" y1="184.5" x2="522.4998382270477" y2="182.7" stroke="#000" stroke-width="1" />
<line x1="522.4998382270477" y1="1.5" x2="522.4998382270477" y2="3.3" stroke="#000" stroke-width="1" />
<line x1="533.5847829846027" y1="184.5" x2="533.5847829846027" y2="182.7" stroke="#000" stroke-width="1" />
<line x1="533.5847829846027" y1="1.5" x2="533.5847829846027" y2="3.3" stroke="#000" stroke-width="1" />
<line x1="541.4496764540953" y1="184.5" x2="541.4496764540953" y2="182.7" stroke="#000" stroke-width="1" />
<line x1="541.4496764540953" y1="1.5" x2="541.4496764540953" y2="3.3" stroke="#000" stroke-width="1" />
<line x1="547.5501617729524" y1="184.5" x2="547.5501617729524" y2="182.7" stroke="#000" stroke-width="1" />
<line x1="547.5501617729524" y1="1.5" x2="547.5501617729524" y2="3.3" stroke="#000" stroke-width="1" />
<line x1="552.5346212116503" y1="184.5" x2="552.5346212116503" y2="182.7" stroke="#000" stroke-width="1" />
<line x1="552.5346212116503" y1="1.5" x2="552.5346212116503" y2="3.3" stroke="#000" stroke-width="1" />
<line x1="556.7489216188975" y1="184.5" x2="556.7489216188975" y2="182.7" stroke="#000" stroke-width="1" />
<line x1="556.7489216188975" y1="1.5" x2="556.7489216188975" y2="3.3" stroke="#000" stroke-width="1" />
<line x1="560.3995146811428" y1="184.5" x2="560.3995146811428" y2="182.7" stroke="#000" stroke-width="1" />
<line x1="560.3995146811428" y1="1.5" x2="560.3995146811428" y2="3.3" stroke="#000" stroke-width="1" />
<line x1="563.6195659692055" y1="184.5" x2="563.6195659692055" y2="182.7" stroke="#000" stroke-width="1" />
<line x1="563.6195659692055" y1="1.5" x2="563.6195659692055" y2="3.3" stroke="#000" stroke-width="1" />
<line x1="566.5" y1="184.5" x2="566.5" y2="181.5" stroke="#000" stroke-width="1" />
<line x1="566.5" y1="1.5" x2="566.5" y2="4.5" stroke="#000" stroke-width="1" />
<text x="376.65000000000003" y="196" font-size="9.3" font-weight="normal" text-anchor="middle" fill="#000" >10<tspan font-size="6.5" dy="-4">&#8722;1</tspan></text>
<text x="439.6" y="196" font-size="9.3" font-weight="normal" text-anchor="middle" fill="#000" >10<tspan font-size="6.5" dy="-4">0</tspan></text>
<text x="502.55" y="196" font-size="9.3" font-weight="normal" text-anchor="middle" fill="#000" >10<tspan font-size="6.5" dy="-4">1</tspan></text>
<text x="565.5" y="196" font-size="9.3" font-weight="normal" text-anchor="middle" fill="#000" >10<tspan font-size="6.5" dy="-4">2</tspan></text>
<text x="453.5" y="200.5" font-size="10" font-weight="bold" text-anchor="middle" fill="#000" >t [s]</text>
<text x="558.5" y="14.5" font-size="10.5" font-weight="bold" text-anchor="middle" fill="#000" >B</text>
<line x1="520" y1="8" x2="530.5" y2="11.8" stroke="#000" stroke-width="1.3" />
<path d="M528.6 9.2 L533.2 12.6 L527.6 13.2 Z" fill="#000"/>
<rect x="350.5" y="8.5" width="105" height="77.5" fill="#fff" stroke="#000" stroke-width="1"/>
<g clip-path="url(#clipI)">
<line x1="351" y1="81.6" x2="365.6" y2="81.8" stroke="#1e3ce6" stroke-width="1.6" />
<line x1="351" y1="81.8" x2="365.6" y2="81.3" stroke="#3ee6a8" stroke-width="1.6" />
<line x1="351" y1="80.6" x2="365.6" y2="80.3" stroke="#b4d200" stroke-width="1.6" />
<line x1="351" y1="80.9" x2="365.6" y2="80.3" stroke="#e60000" stroke-width="1.6" />
<polyline points="401.8,21.5 402.3,22.7 402.8,23.7 403.3,24.4 403.8,24.9 404.3,25.4 404.8,25.8 405.3,26.1 405.8,26.4 406.3,26.6 406.8,26.8 407.3,27.0 407.8,27.2 408.3,27.4 408.8,27.6 409.3,27.7 409.8,27.8 410.3,28.0 410.8,28.1 411.3,28.2 411.8,28.3 412.3,28.4 412.8,28.5 413.3,28.6 413.8,28.7 414.3,28.8 414.8,28.9 415.3,29.0 415.8,29.0 416.3,29.1 416.8,29.2 417.3,29.3 417.8,29.3 418.3,29.4 418.8,29.5 419.3,29.5 419.8,29.6 420.3,29.6 420.8,29.7 421.3,29.7 421.8,29.8 422.3,29.9 422.8,29.9 423.3,30.0 423.8,30.0 424.3,30.1 424.8,30.1 425.3,30.2 425.8,30.2 426.3,30.3 426.8,30.3 427.3,30.4 427.8,30.4 428.3,30.5 428.8,30.5 429.3,30.6 429.8,30.6 430.3,30.6 430.8,30.7 431.3,30.7 431.8,30.8 432.3,30.8 432.8,30.8 433.3,30.9 433.8,30.9 434.3,30.9 434.8,30.9 435.3,31.0 435.8,31.0" fill="none" stroke="#b4d200" stroke-width="2.2" stroke-linecap="round"/>
<polyline points="387.9,25.9 388.4,26.9 388.9,27.9 389.4,28.7 389.9,29.4 390.4,29.9 390.9,30.4 391.4,30.8 391.9,31.2 392.4,31.6 392.9,31.9 393.4,32.2 393.9,32.5 394.4,32.7 394.9,32.9 395.4,33.2 395.9,33.3 396.4,33.5 396.9,33.7 397.4,33.9 397.9,34.0 398.4,34.2 398.9,34.3 399.4,34.4 399.9,34.5 400.4,34.6 400.9,34.6 401.4,34.7 401.9,34.8 402.4,34.9 402.9,34.9 403.4,35.0 403.9,35.1 404.4,35.1 404.9,35.2 405.4,35.3 405.9,35.3 406.4,35.3 406.9,35.4 407.4,35.4 407.9,35.4 408.4,35.5 408.9,35.5 409.4,35.5" fill="none" stroke="#e60000" stroke-width="2.2" stroke-linecap="round"/>
<polyline points="385.9,27.9 386.4,28.9 386.9,29.9 387.4,30.7 387.9,31.4 388.4,31.9 388.9,32.4 389.4,32.9 389.9,33.3 390.4,33.7 390.9,34.0 391.4,34.3 391.9,34.5 392.4,34.7 392.9,34.8 393.4,35.0 393.9,35.1 394.4,35.2 394.9,35.4 395.4,35.5 395.9,35.5 396.4,35.6 396.9,35.7 397.4,35.8 397.9,35.8 398.4,35.9 398.9,35.9 399.4,36.0 399.9,36.0 400.4,36.1 400.9,36.1 401.4,36.2 401.9,36.2 402.4,36.2" fill="none" stroke="#3ee6a8" stroke-width="2.2" stroke-linecap="round"/>
<polyline points="380.9,33.9 381.4,34.9 381.9,35.9 382.4,36.7 382.9,37.4 383.4,37.9 383.9,38.4 384.4,38.9 384.9,39.3 385.4,39.6 385.9,39.8 386.4,40.0 386.9,40.1 387.4,40.3 387.9,40.4 388.4,40.5 388.9,40.6 389.4,40.7 389.9,40.8 390.4,40.9 390.9,41.0 391.4,41.1 391.9,41.1 392.4,41.2 392.9,41.3 393.4,41.3 393.9,41.4 394.4,41.4 394.9,41.4 395.4,41.5" fill="none" stroke="#b4d200" stroke-width="2.2" stroke-linecap="round"/>
<polyline points="376.9,37.9 377.4,38.8 377.9,39.7 378.4,40.4 378.9,40.9 379.4,41.4 379.9,41.8 380.4,42.2 380.9,42.4 381.4,42.6 381.9,42.7 382.4,42.9 382.9,43.0 383.4,43.1 383.9,43.1 384.4,43.2 384.9,43.3 385.4,43.3 385.9,43.3" fill="none" stroke="#1e3ce6" stroke-width="2.2" stroke-linecap="round"/>
<polyline points="374.9,41.9 375.4,42.8 375.9,43.6 376.4,44.2 376.9,44.7 377.4,45.1 377.9,45.4 378.4,45.7 378.9,46.0 379.4,46.2 379.9,46.3 380.4,46.5 380.9,46.7 381.4,46.8 381.9,46.9 382.4,47.1 382.9,47.1 383.4,47.2 383.9,47.2" fill="none" stroke="#e60000" stroke-width="2.2" stroke-linecap="round"/>
<polyline points="373.5,46.0 374.0,47.0 374.5,47.9 375.0,48.5 375.5,48.9 376.0,49.3 376.5,49.6 377.0,49.8 377.5,49.9 378.0,50.0" fill="none" stroke="#3ee6a8" stroke-width="2.2" stroke-linecap="round"/>
<polyline points="372.3,50.0 372.8,51.0 373.3,51.8 373.8,52.2 374.3,52.4 374.8,52.7 375.3,52.8 375.8,52.9 376.3,53.0" fill="none" stroke="#b4d200" stroke-width="2.2" stroke-linecap="round"/>
<polyline points="371.3,55.0 371.8,56.4 372.3,57.5 372.8,58.3 373.3,58.9" fill="none" stroke="#1e3ce6" stroke-width="2.2" stroke-linecap="round"/>
<polyline points="366.6,80.9 366.9,79.4 367.2,77.6 367.5,75.4 367.8,72.7 368.1,70.0 368.4,67.2 368.7,64.4 369.0,61.9 369.3,59.8 369.6,57.8 369.9,56.0 370.2,54.4 370.5,52.9 370.8,51.6 371.1,50.4 371.4,49.4 371.7,48.4 372.0,47.4 372.3,46.5 372.6,45.6 372.9,44.7 373.2,43.9 373.5,43.1 373.8,42.4 374.1,41.7 374.4,41.0 374.7,40.4 375.0,39.8 375.3,39.2 375.6,38.6 375.9,38.1 376.2,37.5 376.5,37.0 376.8,36.5 377.1,35.9 377.4,35.4 377.7,34.9 378.0,34.4 378.3,34.0 378.6,33.5 378.9,33.0 379.2,32.6 379.5,32.2 379.8,31.7 380.1,31.3 380.4,30.9 380.7,30.5 381.0,30.1 381.3,29.7 381.6,29.4 381.9,29.0 382.2,28.7 382.5,28.3 382.8,28.0 383.1,27.7 383.4,27.4 383.7,27.1 384.0,26.8 384.3,26.5 384.6,26.2 384.9,25.9 385.2,25.7 385.5,25.4 385.8,25.1 386.1,24.9 386.4,24.6 386.7,24.4 387.0,24.2 387.3,23.9 387.6,23.7 387.9,23.5 388.2,23.2 388.5,23.0 388.8,22.8" fill="none" stroke="#3ee6a8" stroke-width="1.6"/>
<polyline points="366.3,80.6 366.6,79.1 366.9,77.3 367.2,75.1 367.5,72.4 367.8,69.7 368.1,66.9 368.4,64.1 368.7,61.6 369.0,59.5 369.3,57.5 369.6,55.7 369.9,54.1 370.2,52.6 370.5,51.3 370.8,50.1 371.1,49.1 371.4,48.1 371.7,47.1 372.0,46.2 372.3,45.3 372.6,44.4 372.9,43.6 373.2,42.8 373.5,42.1 373.8,41.4 374.1,40.7 374.4,40.1 374.7,39.5 375.0,38.9 375.3,38.3 375.6,37.8 375.9,37.2 376.2,36.7 376.5,36.2 376.8,35.6 377.1,35.1 377.4,34.6 377.7,34.1 378.0,33.7 378.3,33.2 378.6,32.7 378.9,32.3 379.2,31.9 379.5,31.4 379.8,31.0 380.1,30.6 380.4,30.2 380.7,29.8 381.0,29.4 381.3,29.1 381.6,28.7 381.9,28.4 382.2,28.0 382.5,27.7 382.8,27.4 383.1,27.1 383.4,26.8 383.7,26.5 384.0,26.2 384.3,25.9 384.6,25.6 384.9,25.4 385.2,25.1 385.5,24.8 385.8,24.6 386.1,24.3 386.4,24.1 386.7,23.9 387.0,23.6 387.3,23.4 387.6,23.2 387.9,22.9 388.2,22.7 388.5,22.5" fill="none" stroke="#b4d200" stroke-width="1.6"/>
<polyline points="366.0,80.3 366.3,78.8 366.6,77.0 366.9,74.8 367.2,72.1 367.5,69.4 367.8,66.6 368.1,63.8 368.4,61.3 368.7,59.2 369.0,57.2 369.3,55.4 369.6,53.8 369.9,52.3 370.2,51.0 370.5,49.8 370.8,48.8 371.1,47.8 371.4,46.8 371.7,45.9 372.0,45.0 372.3,44.1 372.6,43.3 372.9,42.5 373.2,41.8 373.5,41.1 373.8,40.4 374.1,39.8 374.4,39.2 374.7,38.6 375.0,38.0 375.3,37.5 375.6,36.9 375.9,36.4 376.2,35.9 376.5,35.3 376.8,34.8 377.1,34.3 377.4,33.8 377.7,33.4 378.0,32.9 378.3,32.4 378.6,32.0 378.9,31.6 379.2,31.1 379.5,30.7 379.8,30.3 380.1,29.9 380.4,29.5 380.7,29.1 381.0,28.8 381.3,28.4 381.6,28.1 381.9,27.7 382.2,27.4 382.5,27.1 382.8,26.8 383.1,26.5 383.4,26.2 383.7,25.9 384.0,25.6 384.3,25.3 384.6,25.1 384.9,24.8 385.2,24.5 385.5,24.3 385.8,24.0 386.1,23.8 386.4,23.6 386.7,23.3 387.0,23.1 387.3,22.9 387.6,22.6 387.9,22.4 388.2,22.2" fill="none" stroke="#f08000" stroke-width="1.6"/>
<polyline points="365.6,80.0 365.9,78.5 366.2,76.7 366.5,74.5 366.8,71.8 367.1,69.1 367.4,66.3 367.7,63.5 368.0,61.0 368.3,58.9 368.6,56.9 368.9,55.1 369.2,53.5 369.5,52.0 369.8,50.7 370.1,49.5 370.4,48.5 370.7,47.5 371.0,46.5 371.3,45.6 371.6,44.7 371.9,43.8 372.2,43.0 372.5,42.2 372.8,41.5 373.1,40.8 373.4,40.1 373.7,39.5 374.0,38.9 374.3,38.3 374.6,37.7 374.9,37.2 375.2,36.6 375.5,36.1 375.8,35.6 376.1,35.0 376.4,34.5 376.7,34.0 377.0,33.5 377.3,33.1 377.6,32.6 377.9,32.1 378.2,31.7 378.5,31.3 378.8,30.8 379.1,30.4 379.4,30.0 379.7,29.6 380.0,29.2 380.3,28.8 380.6,28.5 380.9,28.1 381.2,27.8 381.5,27.4 381.8,27.1 382.1,26.8 382.4,26.5 382.7,26.2 383.0,25.9 383.3,25.6 383.6,25.3 383.9,25.0 384.2,24.8 384.5,24.5 384.8,24.2 385.1,24.0 385.4,23.7 385.7,23.5 386.0,23.3 386.3,23.0 386.6,22.8 386.9,22.6 387.2,22.4 387.5,22.1 387.8,21.9 388.1,21.7 388.4,21.5 388.7,21.3 389.0,21.1 389.3,20.9 389.6,20.7 389.9,20.5 390.2,20.4 390.5,20.2 390.8,20.0 391.1,19.8 391.4,19.6 391.7,19.5 392.0,19.3 392.3,19.1 392.6,19.0 392.9,18.8 393.2,18.7 393.5,18.6 393.8,18.4 394.1,18.3 394.4,18.2 394.7,18.0 395.0,17.9 395.3,17.8 395.6,17.7 395.9,17.6 396.2,17.4 396.5,17.3 396.8,17.2 397.1,17.1 397.4,17.0 397.7,16.9 398.0,16.8 398.3,16.7 398.6,16.6 398.9,16.5 399.2,16.4 399.5,16.4 399.8,16.3 400.1,16.2 400.4,16.1 400.7,16.0 401.0,16.0 401.3,15.9 401.6,15.8 401.9,15.8 402.2,15.7 402.5,15.6 402.8,15.6 403.1,15.5 403.4,15.4 403.7,15.4 404.0,15.3 404.3,15.2 404.6,15.2 404.9,15.1 405.2,15.1 405.5,15.0 405.8,14.9 406.1,14.9 406.4,14.8 406.7,14.8 407.0,14.7 407.3,14.6 407.6,14.6 407.9,14.5 408.2,14.5 408.5,14.4 408.8,14.4 409.1,14.3 409.4,14.3 409.7,14.2 410.0,14.2 410.3,14.1 410.6,14.1 410.9,14.0 411.2,14.0 411.5,13.9 411.8,13.9 412.1,13.9 412.4,13.8 412.7,13.8 413.0,13.7 413.3,13.7 413.6,13.7 413.9,13.6 414.2,13.6 414.5,13.6 414.8,13.5 415.1,13.5 415.4,13.5 415.7,13.4 416.0,13.4 416.3,13.4 416.6,13.3 416.9,13.3 417.2,13.3 417.5,13.2 417.8,13.2 418.1,13.2 418.4,13.2 418.7,13.1 419.0,13.1 419.3,13.1 419.6,13.0 419.9,13.0 420.2,13.0 420.5,13.0 420.8,12.9 421.1,12.9 421.4,12.9 421.7,12.9 422.0,12.8 422.3,12.8 422.6,12.8 422.9,12.8 423.2,12.7 423.5,12.7 423.8,12.7 424.1,12.7 424.4,12.6 424.7,12.6 425.0,12.6 425.3,12.6 425.6,12.6 425.9,12.5 426.2,12.5 426.5,12.5 426.8,12.5 427.1,12.5 427.4,12.4 427.7,12.4 428.0,12.4 428.3,12.4 428.6,12.4 428.9,12.3 429.2,12.3 429.5,12.3 429.8,12.3 430.1,12.3 430.4,12.2 430.7,12.2 431.0,12.2 431.3,12.2 431.6,12.2 431.9,12.1 432.2,12.1 432.5,12.1 432.8,12.1 433.1,12.1 433.4,12.0 433.7,12.0 434.0,12.0 434.3,12.0 434.6,12.0 434.9,12.0 435.2,11.9 435.5,11.9 435.8,11.9 436.1,11.9 436.4,11.9 436.7,11.9 437.0,11.8 437.3,11.8 437.6,11.8" fill="none" stroke="#e60000" stroke-width="1.6"/>
<polyline points="437.9,12.5 438.2,13.8 438.5,15.0 438.8,16.0 439.1,17.0 439.4,17.8 439.7,18.4 440.0,19.0 440.3,19.5 440.6,20.0 440.9,20.4 441.2,20.7 441.5,21.0 441.8,21.2 442.1,21.5 442.4,21.7 442.7,21.9 443.0,22.1 443.3,22.2 443.6,22.4 443.9,22.5 444.2,22.7 444.5,22.9 444.8,23.0 445.1,23.1 445.4,23.3 445.7,23.4 446.0,23.5 446.3,23.6 446.6,23.8 446.9,23.9 447.2,24.0 447.5,24.1 447.8,24.1 448.1,24.2 448.4,24.3 448.7,24.4 449.0,24.4 449.3,24.5 449.6,24.6 449.9,24.6 450.2,24.7 450.5,24.7 450.8,24.8 451.1,24.9 451.4,24.9 451.7,25.0 452.0,25.0 452.3,25.0 452.6,25.1 452.9,25.1 453.2,25.2 453.5,25.2 453.8,25.3 454.1,25.3 454.4,25.3 454.7,25.4 455.0,25.4 455.3,25.5 455.6,25.5" fill="none" stroke="#e60000" stroke-width="1.3"/>
</g>
<line x1="350.5" y1="80.5" x2="352.5" y2="80.5" stroke="#000" stroke-width="0.8" />
<line x1="455.5" y1="80.5" x2="453.5" y2="80.5" stroke="#000" stroke-width="0.8" />
<text x="349.2" y="82.3" font-size="5.3" font-weight="normal" text-anchor="end" fill="#000" >0</text>
<line x1="350.5" y1="65.5" x2="352.5" y2="65.5" stroke="#000" stroke-width="0.8" />
<line x1="455.5" y1="65.5" x2="453.5" y2="65.5" stroke="#000" stroke-width="0.8" />
<text x="349.2" y="67.3" font-size="5.3" font-weight="normal" text-anchor="end" fill="#000" >0.02</text>
<line x1="350.5" y1="50.5" x2="352.5" y2="50.5" stroke="#000" stroke-width="0.8" />
<line x1="455.5" y1="50.5" x2="453.5" y2="50.5" stroke="#000" stroke-width="0.8" />
<text x="349.2" y="52.3" font-size="5.3" font-weight="normal" text-anchor="end" fill="#000" >0.04</text>
<line x1="350.5" y1="35.5" x2="352.5" y2="35.5" stroke="#000" stroke-width="0.8" />
<line x1="455.5" y1="35.5" x2="453.5" y2="35.5" stroke="#000" stroke-width="0.8" />
<text x="349.2" y="37.3" font-size="5.3" font-weight="normal" text-anchor="end" fill="#000" >0.06</text>
<line x1="350.5" y1="20.5" x2="352.5" y2="20.5" stroke="#000" stroke-width="0.8" />
<line x1="455.5" y1="20.5" x2="453.5" y2="20.5" stroke="#000" stroke-width="0.8" />
<text x="349.2" y="22.3" font-size="5.3" font-weight="normal" text-anchor="end" fill="#000" >0.08</text>
<line x1="350.2" y1="85.5" x2="350.2" y2="83.5" stroke="#000" stroke-width="0.8" />
<line x1="350.2" y1="8.5" x2="350.2" y2="10.5" stroke="#000" stroke-width="0.8" />
<text x="350.2" y="90.8" font-size="4.8" font-weight="normal" text-anchor="middle" fill="#000" >&#8722;10</text>
<line x1="365.4" y1="85.5" x2="365.4" y2="83.5" stroke="#000" stroke-width="0.8" />
<line x1="365.4" y1="8.5" x2="365.4" y2="10.5" stroke="#000" stroke-width="0.8" />
<text x="365.4" y="90.8" font-size="4.8" font-weight="normal" text-anchor="middle" fill="#000" >0</text>
<line x1="380.59999999999997" y1="85.5" x2="380.59999999999997" y2="83.5" stroke="#000" stroke-width="0.8" />
<line x1="380.59999999999997" y1="8.5" x2="380.59999999999997" y2="10.5" stroke="#000" stroke-width="0.8" />
<text x="380.59999999999997" y="90.8" font-size="4.8" font-weight="normal" text-anchor="middle" fill="#000" >10</text>
<line x1="395.79999999999995" y1="85.5" x2="395.79999999999995" y2="83.5" stroke="#000" stroke-width="0.8" />
<line x1="395.79999999999995" y1="8.5" x2="395.79999999999995" y2="10.5" stroke="#000" stroke-width="0.8" />
<text x="395.79999999999995" y="90.8" font-size="4.8" font-weight="normal" text-anchor="middle" fill="#000" >20</text>
<line x1="411.0" y1="85.5" x2="411.0" y2="83.5" stroke="#000" stroke-width="0.8" />
<line x1="411.0" y1="8.5" x2="411.0" y2="10.5" stroke="#000" stroke-width="0.8" />
<text x="411.0" y="90.8" font-size="4.8" font-weight="normal" text-anchor="middle" fill="#000" >30</text>
<line x1="426.2" y1="85.5" x2="426.2" y2="83.5" stroke="#000" stroke-width="0.8" />
<line x1="426.2" y1="8.5" x2="426.2" y2="10.5" stroke="#000" stroke-width="0.8" />
<text x="426.2" y="90.8" font-size="4.8" font-weight="normal" text-anchor="middle" fill="#000" >40</text>
<line x1="441.4" y1="85.5" x2="441.4" y2="83.5" stroke="#000" stroke-width="0.8" />
<line x1="441.4" y1="8.5" x2="441.4" y2="10.5" stroke="#000" stroke-width="0.8" />
<text x="441.4" y="90.8" font-size="4.8" font-weight="normal" text-anchor="middle" fill="#000" >50</text>
<line x1="456.59999999999997" y1="85.5" x2="456.59999999999997" y2="83.5" stroke="#000" stroke-width="0.8" />
<line x1="456.59999999999997" y1="8.5" x2="456.59999999999997" y2="10.5" stroke="#000" stroke-width="0.8" />
<text x="456.59999999999997" y="90.8" font-size="4.8" font-weight="normal" text-anchor="middle" fill="#000" >60</text>
<text x="404.5" y="96.8" font-size="6.3" font-weight="bold" text-anchor="middle" fill="#000" >t [s]</text>
<text transform="translate(339.2,48) rotate(-90)" font-size="6.2" font-weight="bold" text-anchor="middle">J(t) = &#949;(t)/&#963;<tspan font-size="5" dy="1.5">0</tspan><tspan dy="-1.5"> [arb. units]</tspan></text>
<line x1="448.5" y1="41.8" x2="448.5" y2="31" stroke="#000" stroke-width="1.6" />
<path d="M446.2 32 L448.5 27.6 L450.8 32 Z" fill="#000"/>
<text x="291" y="71.5" font-size="10" font-weight="bold" text-anchor="middle">a<tspan font-size="7.5" dy="2.5">T</tspan></text>
<text x="291" y="97.6" font-size="10" font-weight="bold" text-anchor="middle">b<tspan font-size="7.5" dy="2.5">T</tspan></text>
<line x1="281" y1="83" x2="299.5" y2="83" stroke="#000" stroke-width="2.6" />
<path d="M295.6 78.9 L300.6 83 L295.6 87.2" fill="none" stroke="#000" stroke-width="2.6" stroke-linejoin="miter"/>
<line x1="83.0" y1="219.3" x2="175.0" y2="219.3" stroke="#b4d200" stroke-width="2.1" />
<line x1="83.0" y1="228.6" x2="175.0" y2="228.6" stroke="#3ee6a8" stroke-width="2.1" />
<line x1="83.0" y1="238" x2="175.0" y2="238" stroke="#1e3ce6" stroke-width="2.1" />
<polyline points="35.0,257 82.0,257 82.0,210 176.6,210 176.6,257 270.0,257" fill="none" stroke="#e60000" stroke-width="2.4"/>
<rect x="30.5" y="205.5" width="243.0" height="56.0" stroke="#000" stroke-width="1" fill="none"/>
<line x1="35.5" y1="261.5" x2="35.5" y2="259.7" stroke="#000" stroke-width="1" />
<line x1="35.5" y1="205.5" x2="35.5" y2="207.3" stroke="#000" stroke-width="1" />
<text x="35.0" y="270.5" font-size="9" font-weight="normal" text-anchor="middle" fill="#000" >&#8722;1</text>
<line x1="82.5" y1="261.5" x2="82.5" y2="259.7" stroke="#000" stroke-width="1" />
<line x1="82.5" y1="205.5" x2="82.5" y2="207.3" stroke="#000" stroke-width="1" />
<text x="82.0" y="270.5" font-size="9" font-weight="normal" text-anchor="middle" fill="#000" >0</text>
<line x1="129.5" y1="261.5" x2="129.5" y2="259.7" stroke="#000" stroke-width="1" />
<line x1="129.5" y1="205.5" x2="129.5" y2="207.3" stroke="#000" stroke-width="1" />
<text x="129.0" y="270.5" font-size="9" font-weight="normal" text-anchor="middle" fill="#000" >1</text>
<line x1="176.5" y1="261.5" x2="176.5" y2="259.7" stroke="#000" stroke-width="1" />
<line x1="176.5" y1="205.5" x2="176.5" y2="207.3" stroke="#000" stroke-width="1" />
<text x="176.0" y="270.5" font-size="9" font-weight="normal" text-anchor="middle" fill="#000" >2</text>
<line x1="223.5" y1="261.5" x2="223.5" y2="259.7" stroke="#000" stroke-width="1" />
<line x1="223.5" y1="205.5" x2="223.5" y2="207.3" stroke="#000" stroke-width="1" />
<text x="223.0" y="270.5" font-size="9" font-weight="normal" text-anchor="middle" fill="#000" >3</text>
<line x1="270.5" y1="261.5" x2="270.5" y2="259.7" stroke="#000" stroke-width="1" />
<line x1="270.5" y1="205.5" x2="270.5" y2="207.3" stroke="#000" stroke-width="1" />
<text x="270.0" y="270.5" font-size="9" font-weight="normal" text-anchor="middle" fill="#000" >4</text>
<line x1="30.5" y1="210.5" x2="32.3" y2="210.5" stroke="#000" stroke-width="1" />
<text x="28.5" y="213.6" font-size="9" font-weight="normal" text-anchor="end" fill="#000" >1.3</text>
<line x1="30.5" y1="219.5" x2="32.3" y2="219.5" stroke="#000" stroke-width="1" />
<text x="28.5" y="222.6" font-size="9" font-weight="normal" text-anchor="end" fill="#000" >1.1</text>
<line x1="30.5" y1="228.5" x2="32.3" y2="228.5" stroke="#000" stroke-width="1" />
<text x="28.5" y="231.6" font-size="9" font-weight="normal" text-anchor="end" fill="#000" >0.9</text>
<line x1="30.5" y1="238.5" x2="32.3" y2="238.5" stroke="#000" stroke-width="1" />
<text x="28.5" y="241.6" font-size="9" font-weight="normal" text-anchor="end" fill="#000" >0.6</text>
<line x1="30.5" y1="257" x2="32.3" y2="257" stroke="#000" stroke-width="1" />
<text x="28.5" y="260.1" font-size="9" font-weight="normal" text-anchor="end" fill="#000" >0.1</text>
<line x1="273.5" y1="210.5" x2="271.7" y2="210.5" stroke="#000" stroke-width="1" />
<text x="275.5" y="213.6" font-size="9" font-weight="normal" text-anchor="start" fill="#000" >34.8</text>
<line x1="273.5" y1="219.5" x2="271.7" y2="219.5" stroke="#000" stroke-width="1" />
<text x="275.5" y="222.6" font-size="9" font-weight="normal" text-anchor="start" fill="#000" >29.4</text>
<line x1="273.5" y1="228.5" x2="271.7" y2="228.5" stroke="#000" stroke-width="1" />
<text x="275.5" y="231.6" font-size="9" font-weight="normal" text-anchor="start" fill="#000" >22.9</text>
<line x1="273.5" y1="238.5" x2="271.7" y2="238.5" stroke="#000" stroke-width="1" />
<text x="275.5" y="241.6" font-size="9" font-weight="normal" text-anchor="start" fill="#000" >16.4</text>
<line x1="273.5" y1="257" x2="271.7" y2="257" stroke="#000" stroke-width="1" />
<text x="154.1" y="272.8" font-size="9.8" font-weight="bold" text-anchor="middle" fill="#000" >t [s]</text>
<text x="264.5" y="218.8" font-size="10.5" font-weight="bold" text-anchor="middle" fill="#000" >C</text>
<text transform="translate(9.6,232.5) rotate(-90)" font-size="10" font-weight="bold" text-anchor="middle">P<tspan font-size="7.4" dy="2.2">stretch</tspan><tspan dy="-2.2"> [W]</tspan></text>
<text transform="translate(287.3,261) rotate(-90)" font-size="10.2" text-anchor="middle">&#916;T [&#176;C]</text>
<path d="M332.7 209.5h3.8M334.6 207.6v3.8M333.6 209.6h3.8M335.5 207.7v3.8M334.5 209.6h3.8M336.4 207.7v3.8M335.4 209.7h3.8M337.3 207.8v3.8M336.3 209.5h3.8M338.2 207.6v3.8M337.2 209.5h3.8M339.1 207.6v3.8M338.1 209.9h3.8M340.0 208.0v3.8M339.0 209.3h3.8M340.9 207.4v3.8M339.9 209.5h3.8M341.8 207.6v3.8M340.8 209.5h3.8M342.7 207.6v3.8M341.7 209.4h3.8M343.6 207.5v3.8M342.6 209.3h3.8M344.5 207.4v3.8M343.5 209.4h3.8M345.4 207.5v3.8M344.4 209.8h3.8M346.3 207.9v3.8M345.3 209.5h3.8M347.2 207.6v3.8M346.2 209.4h3.8M348.1 207.5v3.8M347.1 210.0h3.8M349.0 208.1v3.8M348.0 209.2h3.8M349.9 207.3v3.8M348.9 209.8h3.8M350.8 207.9v3.8M349.8 209.7h3.8M351.7 207.8v3.8M350.7 209.2h3.8M352.6 207.3v3.8M351.6 209.5h3.8M353.5 207.6v3.8M352.5 209.5h3.8M354.4 207.6v3.8M353.4 209.9h3.8M355.3 208.0v3.8M354.3 209.8h3.8M356.2 207.9v3.8M355.2 209.5h3.8M357.1 207.6v3.8M356.1 209.3h3.8M358.0 207.4v3.8M357.0 209.2h3.8M358.9 207.3v3.8M357.9 209.5h3.8M359.8 207.6v3.8M358.8 209.2h3.8M360.7 207.3v3.8M359.7 209.5h3.8M361.6 207.6v3.8M360.6 209.5h3.8M362.5 207.6v3.8M361.5 209.7h3.8M363.4 207.8v3.8M362.4 209.8h3.8M364.3 207.9v3.8M363.3 209.6h3.8M365.2 207.7v3.8M364.2 209.7h3.8M366.1 207.8v3.8M365.1 209.5h3.8M367.0 207.6v3.8M366.0 209.8h3.8M367.9 207.9v3.8M366.9 209.8h3.8M368.8 207.9v3.8M367.8 210.0h3.8M369.7 208.1v3.8M368.7 209.9h3.8M370.6 208.0v3.8M369.6 209.4h3.8M371.5 207.5v3.8M370.5 209.2h3.8M372.4 207.3v3.8M371.4 209.7h3.8M373.3 207.8v3.8M372.3 209.9h3.8M374.2 208.0v3.8M373.2 209.4h3.8M375.1 207.5v3.8M374.1 210.0h3.8M376.0 208.1v3.8M375.0 209.6h3.8M376.9 207.7v3.8M375.9 209.6h3.8M377.8 207.7v3.8M376.8 209.7h3.8M378.7 207.8v3.8M377.7 209.2h3.8M379.6 207.3v3.8M378.6 209.2h3.8M380.5 207.3v3.8M379.5 209.5h3.8M381.4 207.6v3.8M380.4 209.3h3.8M382.3 207.4v3.8M381.3 209.6h3.8M383.2 207.7v3.8M382.2 209.6h3.8M384.1 207.7v3.8M383.1 208.9h3.8M385.0 207.0v3.8M384.0 209.4h3.8M385.9 207.5v3.8M384.9 209.7h3.8M386.8 207.8v3.8M385.8 209.0h3.8M387.7 207.1v3.8M386.7 209.5h3.8M388.6 207.6v3.8M387.6 209.2h3.8M389.5 207.3v3.8M388.5 209.1h3.8M390.4 207.2v3.8M389.4 209.8h3.8M391.3 207.9v3.8M390.3 209.8h3.8M392.2 207.9v3.8M391.2 209.5h3.8M393.1 207.6v3.8M392.1 209.4h3.8M394.0 207.5v3.8M393.0 209.9h3.8M394.9 208.0v3.8M393.9 209.9h3.8M395.8 208.0v3.8M394.8 209.6h3.8M396.7 207.7v3.8M395.7 209.8h3.8M397.6 207.9v3.8M396.6 209.6h3.8M398.5 207.7v3.8M397.5 209.5h3.8M399.4 207.6v3.8M398.4 209.7h3.8M400.3 207.8v3.8M399.3 209.5h3.8M401.2 207.6v3.8M400.2 209.7h3.8M402.1 207.8v3.8M401.1 209.5h3.8M403.0 207.6v3.8M402.0 209.5h3.8M403.9 207.6v3.8M402.9 209.4h3.8M404.8 207.5v3.8M403.8 209.7h3.8M405.7 207.8v3.8M404.7 209.8h3.8M406.6 207.9v3.8M405.6 209.7h3.8M407.5 207.8v3.8M406.5 209.3h3.8M408.4 207.4v3.8M407.4 209.7h3.8M409.3 207.8v3.8M408.3 209.3h3.8M410.2 207.4v3.8M409.2 209.3h3.8M411.1 207.4v3.8M410.1 209.5h3.8M412.0 207.6v3.8" stroke="#000" stroke-width="1.0" fill="none"/>
<path d="M430.9 236.5h3.8M432.8 234.6v3.8M431.8 236.4h3.8M433.7 234.5v3.8M432.7 236.4h3.8M434.6 234.5v3.8M433.6 236.6h3.8M435.5 234.7v3.8M434.5 236.5h3.8M436.4 234.6v3.8M435.4 236.2h3.8M437.3 234.3v3.8M436.3 236.5h3.8M438.2 234.6v3.8M437.2 236.2h3.8M439.1 234.3v3.8M438.1 236.4h3.8M440.0 234.5v3.8M439.0 236.4h3.8M440.9 234.5v3.8M439.9 236.3h3.8M441.8 234.4v3.8M440.8 235.9h3.8M442.7 234.0v3.8M441.7 236.2h3.8M443.6 234.3v3.8M442.6 236.2h3.8M444.5 234.3v3.8M443.5 236.2h3.8M445.4 234.3v3.8M444.4 236.2h3.8M446.3 234.3v3.8M445.3 236.0h3.8M447.2 234.1v3.8M446.2 235.9h3.8M448.1 234.0v3.8M447.1 236.4h3.8M449.0 234.5v3.8M448.0 236.5h3.8M449.9 234.6v3.8M448.9 236.4h3.8M450.8 234.5v3.8M449.8 236.3h3.8M451.7 234.4v3.8M450.7 236.8h3.8M452.6 234.9v3.8M451.6 236.4h3.8M453.5 234.5v3.8M452.5 236.3h3.8M454.4 234.4v3.8M453.4 236.5h3.8M455.3 234.6v3.8M454.3 236.3h3.8M456.2 234.4v3.8M455.2 236.5h3.8M457.1 234.6v3.8M456.1 236.4h3.8M458.0 234.5v3.8M457.0 236.4h3.8M458.9 234.5v3.8M457.9 236.3h3.8M459.8 234.4v3.8M458.8 236.2h3.8M460.7 234.3v3.8M459.7 236.4h3.8M461.6 234.5v3.8M460.6 236.6h3.8M462.5 234.7v3.8M461.5 236.1h3.8M463.4 234.2v3.8M462.4 236.2h3.8M464.3 234.3v3.8M463.3 236.0h3.8M465.2 234.1v3.8M464.2 236.5h3.8M466.1 234.6v3.8M465.1 236.2h3.8M467.0 234.3v3.8M466.0 236.5h3.8M467.9 234.6v3.8M466.9 236.1h3.8M468.8 234.2v3.8M467.8 236.5h3.8M469.7 234.6v3.8M468.7 236.1h3.8M470.6 234.2v3.8M469.6 236.2h3.8M471.5 234.3v3.8M470.5 236.4h3.8M472.4 234.5v3.8M471.4 236.2h3.8M473.3 234.3v3.8M472.3 236.1h3.8M474.2 234.2v3.8M473.2 236.5h3.8M475.1 234.6v3.8M474.1 236.3h3.8M476.0 234.4v3.8M475.0 236.6h3.8M476.9 234.7v3.8M475.9 236.9h3.8M477.8 235.0v3.8M476.8 236.2h3.8M478.7 234.3v3.8M477.7 236.2h3.8M479.6 234.3v3.8M478.6 235.9h3.8M480.5 234.0v3.8M479.5 236.0h3.8M481.4 234.1v3.8M480.4 236.4h3.8M482.3 234.5v3.8M481.3 236.4h3.8M483.2 234.5v3.8M482.2 236.4h3.8M484.1 234.5v3.8M483.1 236.4h3.8M485.0 234.5v3.8" stroke="#000" stroke-width="1.0" fill="none"/>
<path d="M410.2 210.1h4M412.2 208.1v4M410.8 211.8h4M412.8 209.8v4M412.4 212.5h4M414.4 210.5v4M412.6 214.1h4M414.6 212.1v4M413.4 215.5h4M415.4 213.5v4M413.5 216.8h4M415.5 214.8v4M414.1 218.5h4M416.1 216.5v4M414.1 220.0h4M416.1 218.0v4M414.6 222.0h4M416.6 220.0v4M414.9 223.5h4M416.9 221.5v4M415.4 225.2h4M417.4 223.2v4M416.2 226.3h4M418.2 224.3v4M416.4 228.3h4M418.4 226.3v4M415.8 229.3h4M417.8 227.3v4M417.1 231.0h4M419.1 229.0v4M417.8 232.9h4M419.8 230.9v4M418.8 234.3h4M420.8 232.3v4M419.6 235.5h4M421.6 233.5v4M420.5 236.9h4M422.5 234.9v4M422.1 236.9h4M424.1 234.9v4M423.8 236.6h4M425.8 234.6v4M425.3 236.7h4M427.3 234.7v4M427.5 236.6h4M429.5 234.6v4M428.9 236.8h4M430.9 234.8v4M430.3 236.2h4M432.3 234.2v4" stroke="#c4c4c4" stroke-width="1" fill="none"/>
<path d="M483.5 236.0h4M485.5 234.0v4M483.8 238.5h4M485.8 236.5v4M484.0 239.6h4M486.0 237.6v4M485.7 241.4h4M487.7 239.4v4M485.7 242.6h4M487.7 240.6v4M485.3 244.0h4M487.3 242.0v4M486.6 245.5h4M488.6 243.5v4M486.8 247.2h4M488.8 245.2v4M486.9 248.5h4M488.9 246.5v4M488.0 250.1h4M490.0 248.1v4M488.6 251.6h4M490.6 249.6v4M489.4 253.4h4M491.4 251.4v4M490.3 254.7h4M492.3 252.7v4M490.7 256.2h4M492.7 254.2v4M492.1 256.7h4M494.1 254.7v4M493.6 257.8h4M495.6 255.8v4M495.0 258.8h4M497.0 256.8v4M496.5 259.0h4M498.5 257.0v4M498.0 258.2h4M500.0 256.2v4M500.0 258.8h4M502.0 256.8v4M500.8 258.4h4M502.8 256.4v4" stroke="#c4c4c4" stroke-width="1" fill="none"/>
<path d="M503.4 257.8a1.6 1.6 0 1 0 3.2 0a1.6 1.6 0 1 0 -3.2 0M504.3 257.8a1.6 1.6 0 1 0 3.2 0a1.6 1.6 0 1 0 -3.2 0M505.2 257.8a1.6 1.6 0 1 0 3.2 0a1.6 1.6 0 1 0 -3.2 0M506.1 258.1a1.6 1.6 0 1 0 3.2 0a1.6 1.6 0 1 0 -3.2 0M507.0 258.0a1.6 1.6 0 1 0 3.2 0a1.6 1.6 0 1 0 -3.2 0M507.9 258.0a1.6 1.6 0 1 0 3.2 0a1.6 1.6 0 1 0 -3.2 0M508.8 258.1a1.6 1.6 0 1 0 3.2 0a1.6 1.6 0 1 0 -3.2 0M509.7 258.1a1.6 1.6 0 1 0 3.2 0a1.6 1.6 0 1 0 -3.2 0M510.6 257.8a1.6 1.6 0 1 0 3.2 0a1.6 1.6 0 1 0 -3.2 0M511.5 257.7a1.6 1.6 0 1 0 3.2 0a1.6 1.6 0 1 0 -3.2 0M512.4 257.7a1.6 1.6 0 1 0 3.2 0a1.6 1.6 0 1 0 -3.2 0M513.3 258.1a1.6 1.6 0 1 0 3.2 0a1.6 1.6 0 1 0 -3.2 0M514.2 257.9a1.6 1.6 0 1 0 3.2 0a1.6 1.6 0 1 0 -3.2 0M515.1 258.2a1.6 1.6 0 1 0 3.2 0a1.6 1.6 0 1 0 -3.2 0M516.0 258.0a1.6 1.6 0 1 0 3.2 0a1.6 1.6 0 1 0 -3.2 0M516.9 257.9a1.6 1.6 0 1 0 3.2 0a1.6 1.6 0 1 0 -3.2 0M517.8 257.7a1.6 1.6 0 1 0 3.2 0a1.6 1.6 0 1 0 -3.2 0M518.7 257.9a1.6 1.6 0 1 0 3.2 0a1.6 1.6 0 1 0 -3.2 0M519.6 258.4a1.6 1.6 0 1 0 3.2 0a1.6 1.6 0 1 0 -3.2 0M520.5 257.8a1.6 1.6 0 1 0 3.2 0a1.6 1.6 0 1 0 -3.2 0M521.4 257.8a1.6 1.6 0 1 0 3.2 0a1.6 1.6 0 1 0 -3.2 0M522.3 257.9a1.6 1.6 0 1 0 3.2 0a1.6 1.6 0 1 0 -3.2 0M523.2 258.2a1.6 1.6 0 1 0 3.2 0a1.6 1.6 0 1 0 -3.2 0M524.1 257.9a1.6 1.6 0 1 0 3.2 0a1.6 1.6 0 1 0 -3.2 0M525.0 257.7a1.6 1.6 0 1 0 3.2 0a1.6 1.6 0 1 0 -3.2 0M525.9 257.8a1.6 1.6 0 1 0 3.2 0a1.6 1.6 0 1 0 -3.2 0M526.8 257.9a1.6 1.6 0 1 0 3.2 0a1.6 1.6 0 1 0 -3.2 0M527.7 257.9a1.6 1.6 0 1 0 3.2 0a1.6 1.6 0 1 0 -3.2 0M528.6 258.1a1.6 1.6 0 1 0 3.2 0a1.6 1.6 0 1 0 -3.2 0M529.5 258.4a1.6 1.6 0 1 0 3.2 0a1.6 1.6 0 1 0 -3.2 0M530.4 258.2a1.6 1.6 0 1 0 3.2 0a1.6 1.6 0 1 0 -3.2 0M531.3 258.0a1.6 1.6 0 1 0 3.2 0a1.6 1.6 0 1 0 -3.2 0M532.2 257.9a1.6 1.6 0 1 0 3.2 0a1.6 1.6 0 1 0 -3.2 0M533.1 257.8a1.6 1.6 0 1 0 3.2 0a1.6 1.6 0 1 0 -3.2 0M534.0 258.0a1.6 1.6 0 1 0 3.2 0a1.6 1.6 0 1 0 -3.2 0M534.9 258.2a1.6 1.6 0 1 0 3.2 0a1.6 1.6 0 1 0 -3.2 0M535.8 258.1a1.6 1.6 0 1 0 3.2 0a1.6 1.6 0 1 0 -3.2 0M536.7 257.9a1.6 1.6 0 1 0 3.2 0a1.6 1.6 0 1 0 -3.2 0M537.6 258.1a1.6 1.6 0 1 0 3.2 0a1.6 1.6 0 1 0 -3.2 0M538.5 257.9a1.6 1.6 0 1 0 3.2 0a1.6 1.6 0 1 0 -3.2 0M539.4 257.9a1.6 1.6 0 1 0 3.2 0a1.6 1.6 0 1 0 -3.2 0M540.3 257.9a1.6 1.6 0 1 0 3.2 0a1.6 1.6 0 1 0 -3.2 0M541.2 257.9a1.6 1.6 0 1 0 3.2 0a1.6 1.6 0 1 0 -3.2 0M542.1 257.9a1.6 1.6 0 1 0 3.2 0a1.6 1.6 0 1 0 -3.2 0M543.0 258.1a1.6 1.6 0 1 0 3.2 0a1.6 1.6 0 1 0 -3.2 0M543.9 257.9a1.6 1.6 0 1 0 3.2 0a1.6 1.6 0 1 0 -3.2 0M544.8 257.9a1.6 1.6 0 1 0 3.2 0a1.6 1.6 0 1 0 -3.2 0M545.7 258.1a1.6 1.6 0 1 0 3.2 0a1.6 1.6 0 1 0 -3.2 0M546.6 258.1a1.6 1.6 0 1 0 3.2 0a1.6 1.6 0 1 0 -3.2 0M547.5 258.1a1.6 1.6 0 1 0 3.2 0a1.6 1.6 0 1 0 -3.2 0M548.4 257.8a1.6 1.6 0 1 0 3.2 0a1.6 1.6 0 1 0 -3.2 0M549.3 258.2a1.6 1.6 0 1 0 3.2 0a1.6 1.6 0 1 0 -3.2 0M550.2 257.9a1.6 1.6 0 1 0 3.2 0a1.6 1.6 0 1 0 -3.2 0M551.1 257.7a1.6 1.6 0 1 0 3.2 0a1.6 1.6 0 1 0 -3.2 0M552.0 257.9a1.6 1.6 0 1 0 3.2 0a1.6 1.6 0 1 0 -3.2 0M552.9 257.7a1.6 1.6 0 1 0 3.2 0a1.6 1.6 0 1 0 -3.2 0M553.8 257.7a1.6 1.6 0 1 0 3.2 0a1.6 1.6 0 1 0 -3.2 0M554.7 257.8a1.6 1.6 0 1 0 3.2 0a1.6 1.6 0 1 0 -3.2 0M555.6 258.1a1.6 1.6 0 1 0 3.2 0a1.6 1.6 0 1 0 -3.2 0" stroke="#000" stroke-width="0.9" fill="#000"/>
<rect x="324.5" y="206.5" width="242.0" height="55.0" stroke="#000" stroke-width="1" fill="none"/>
<line x1="336.5" y1="261.5" x2="336.5" y2="259.7" stroke="#000" stroke-width="1" />
<line x1="336.5" y1="206.5" x2="336.5" y2="208.3" stroke="#000" stroke-width="1" />
<text x="336.5" y="269" font-size="9" font-weight="normal" text-anchor="middle" fill="#000" >0</text>
<line x1="364.5" y1="261.5" x2="364.5" y2="259.7" stroke="#000" stroke-width="1" />
<line x1="364.5" y1="206.5" x2="364.5" y2="208.3" stroke="#000" stroke-width="1" />
<text x="364.5" y="269" font-size="9" font-weight="normal" text-anchor="middle" fill="#000" >1</text>
<line x1="391.5" y1="261.5" x2="391.5" y2="259.7" stroke="#000" stroke-width="1" />
<line x1="391.5" y1="206.5" x2="391.5" y2="208.3" stroke="#000" stroke-width="1" />
<text x="391.5" y="269" font-size="9" font-weight="normal" text-anchor="middle" fill="#000" >2</text>
<line x1="418.5" y1="261.5" x2="418.5" y2="259.7" stroke="#000" stroke-width="1" />
<line x1="418.5" y1="206.5" x2="418.5" y2="208.3" stroke="#000" stroke-width="1" />
<text x="418.5" y="269" font-size="9" font-weight="normal" text-anchor="middle" fill="#000" >3</text>
<line x1="445.5" y1="261.5" x2="445.5" y2="259.7" stroke="#000" stroke-width="1" />
<line x1="445.5" y1="206.5" x2="445.5" y2="208.3" stroke="#000" stroke-width="1" />
<text x="445.5" y="269" font-size="9" font-weight="normal" text-anchor="middle" fill="#000" >4</text>
<line x1="472.5" y1="261.5" x2="472.5" y2="259.7" stroke="#000" stroke-width="1" />
<line x1="472.5" y1="206.5" x2="472.5" y2="208.3" stroke="#000" stroke-width="1" />
<text x="472.5" y="269" font-size="9" font-weight="normal" text-anchor="middle" fill="#000" >5</text>
<line x1="500.5" y1="261.5" x2="500.5" y2="259.7" stroke="#000" stroke-width="1" />
<line x1="500.5" y1="206.5" x2="500.5" y2="208.3" stroke="#000" stroke-width="1" />
<text x="500.5" y="269" font-size="9" font-weight="normal" text-anchor="middle" fill="#000" >6</text>
<line x1="527.5" y1="261.5" x2="527.5" y2="259.7" stroke="#000" stroke-width="1" />
<line x1="527.5" y1="206.5" x2="527.5" y2="208.3" stroke="#000" stroke-width="1" />
<text x="527.5" y="269" font-size="9" font-weight="normal" text-anchor="middle" fill="#000" >7</text>
<line x1="554.5" y1="261.5" x2="554.5" y2="259.7" stroke="#000" stroke-width="1" />
<line x1="554.5" y1="206.5" x2="554.5" y2="208.3" stroke="#000" stroke-width="1" />
<text x="554.5" y="269" font-size="9" font-weight="normal" text-anchor="middle" fill="#000" >8</text>
<line x1="324.5" y1="209.5" x2="326.3" y2="209.5" stroke="#000" stroke-width="1" />
<line x1="566.5" y1="209.5" x2="564.7" y2="209.5" stroke="#000" stroke-width="1" />
<text x="322" y="212.6" font-size="9" font-weight="normal" text-anchor="end" fill="#000" >37</text>
<line x1="324.5" y1="236.5" x2="326.3" y2="236.5" stroke="#000" stroke-width="1" />
<line x1="566.5" y1="236.5" x2="564.7" y2="236.5" stroke="#000" stroke-width="1" />
<text x="322" y="239.6" font-size="9" font-weight="normal" text-anchor="end" fill="#000" >25</text>
<line x1="324.5" y1="258.5" x2="326.3" y2="258.5" stroke="#000" stroke-width="1" />
<line x1="566.5" y1="258.5" x2="564.7" y2="258.5" stroke="#000" stroke-width="1" />
<text x="322" y="261.6" font-size="9" font-weight="normal" text-anchor="end" fill="#000" >15</text>
<text x="459" y="272.6" font-size="9.6" font-weight="bold" text-anchor="middle" fill="#000" >t [h]</text>
<text x="559.3" y="219.5" font-size="10.5" font-weight="bold" text-anchor="middle" fill="#000" >D</text>
<text transform="translate(309.6,232.5) rotate(-90)" font-size="10" font-weight="bold" text-anchor="middle">T<tspan font-size="7.5" dy="2">setup</tspan><tspan dy="-2" font-weight="normal"> [&#176;C]</tspan></text>
<path d="M369.9 228.7h7.4M373.6 225.0v7.4M371.0 226.1l5.2 5.2M371.0 231.3l5.2 -5.2" fill="none" stroke="#000" stroke-width="0.9"/>
<rect x="456" y="226" width="6" height="5" fill="none" stroke="#000" stroke-width="0.9"/>
<ellipse cx="530.9" cy="228.7" rx="3.4" ry="2.6" fill="none" stroke="#000" stroke-width="1"/>
</svg></body></html>
